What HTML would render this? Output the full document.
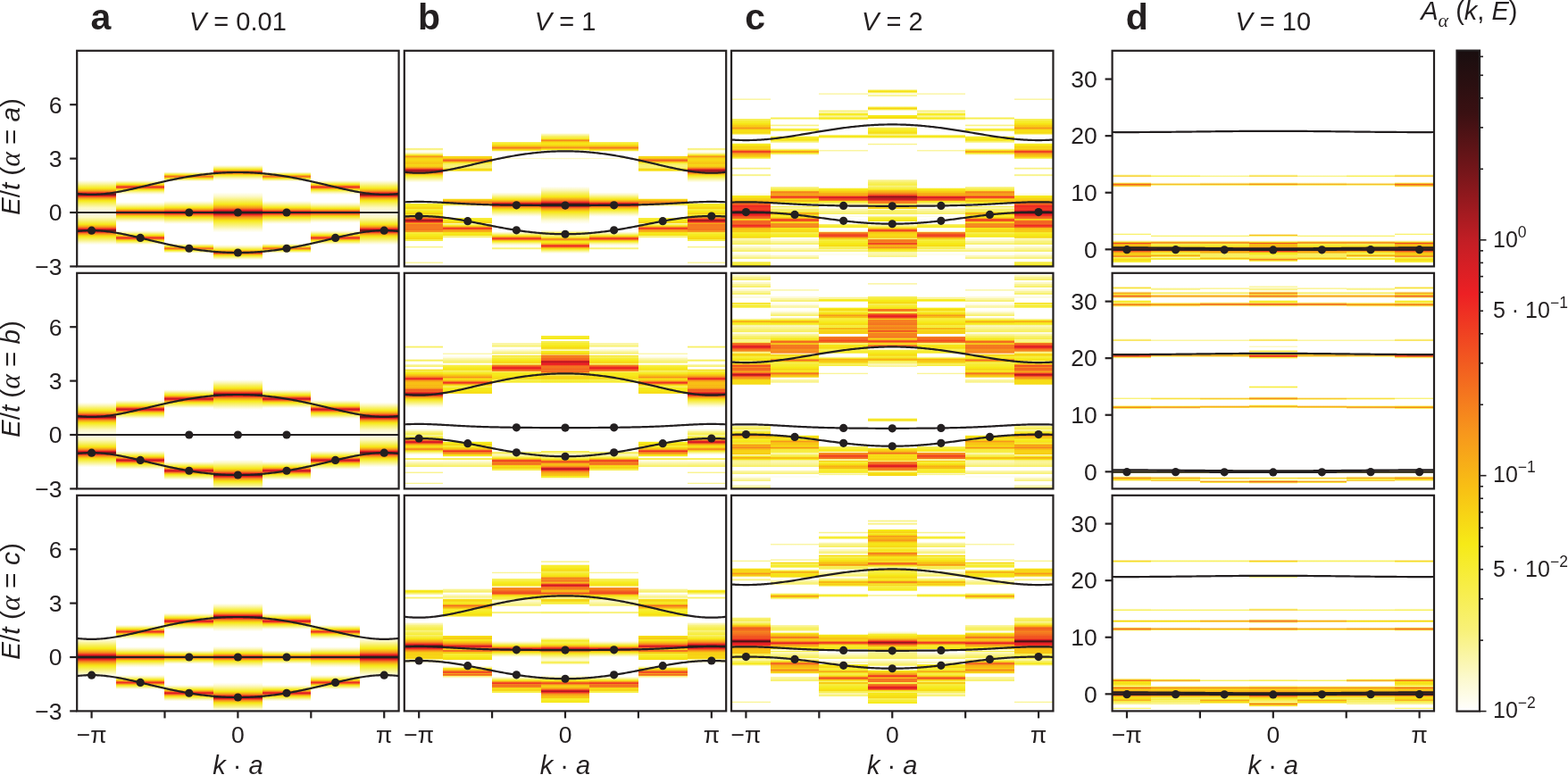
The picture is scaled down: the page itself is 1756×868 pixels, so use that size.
<!DOCTYPE html>
<html><head><meta charset="utf-8"><style>html,body{margin:0;padding:0;background:#fff}svg{display:block}</style></head><body>
<svg width="1756" height="868" viewBox="0 0 1756 868" font-family="'Liberation Sans', Arial, sans-serif" fill="#231f20">
<defs><linearGradient id="g1" x1="0" y1="0" x2="0" y2="1"><stop offset="0.0000" stop-color="#ffffff"/><stop offset="0.5983" stop-color="#ffffff"/><stop offset="0.6046" stop-color="#fefcea"/><stop offset="0.6170" stop-color="#faf5a3"/><stop offset="0.6253" stop-color="#f8f069"/><stop offset="0.6377" stop-color="#f6ea1b"/><stop offset="0.6480" stop-color="#f7ac17"/><stop offset="0.6542" stop-color="#f46f20"/><stop offset="0.6584" stop-color="#ef3223"/><stop offset="0.6605" stop-color="#db1e24"/><stop offset="0.6646" stop-color="#77161a"/><stop offset="0.6667" stop-color="#5f1416"/><stop offset="0.6687" stop-color="#77161a"/><stop offset="0.6729" stop-color="#db1e24"/><stop offset="0.6749" stop-color="#ef3223"/><stop offset="0.6812" stop-color="#f6871f"/><stop offset="0.6894" stop-color="#f7c915"/><stop offset="0.6957" stop-color="#f6ea18"/><stop offset="0.7081" stop-color="#f8f061"/><stop offset="0.7267" stop-color="#fcf8bf"/><stop offset="0.7412" stop-color="#fdfbdf"/><stop offset="0.7578" stop-color="#fdfbe0"/><stop offset="0.7723" stop-color="#fcf8c3"/><stop offset="0.7867" stop-color="#f8f27a"/><stop offset="0.8054" stop-color="#f6e616"/><stop offset="0.8157" stop-color="#f7a319"/><stop offset="0.8219" stop-color="#f36121"/><stop offset="0.8261" stop-color="#ed1f24"/><stop offset="0.8282" stop-color="#c71e25"/><stop offset="0.8323" stop-color="#651417"/><stop offset="0.8344" stop-color="#651417"/><stop offset="0.8385" stop-color="#c71e25"/><stop offset="0.8406" stop-color="#ed1f24"/><stop offset="0.8468" stop-color="#f57c20"/><stop offset="0.8551" stop-color="#f8c314"/><stop offset="0.8613" stop-color="#f6e816"/><stop offset="0.8799" stop-color="#f9f38c"/><stop offset="0.8923" stop-color="#fdfbda"/><stop offset="0.9006" stop-color="#ffffff"/><stop offset="1.0000" stop-color="#ffffff"/></linearGradient>
<linearGradient id="g2" x1="0" y1="0" x2="0" y2="1"><stop offset="0.0000" stop-color="#ffffff"/><stop offset="0.6004" stop-color="#ffffff"/><stop offset="0.6066" stop-color="#fcf8c4"/><stop offset="0.6149" stop-color="#f7ef53"/><stop offset="0.6190" stop-color="#f6ea1b"/><stop offset="0.6232" stop-color="#f8bb14"/><stop offset="0.6273" stop-color="#f47520"/><stop offset="0.6294" stop-color="#f14a22"/><stop offset="0.6315" stop-color="#ee2c23"/><stop offset="0.6335" stop-color="#ef3323"/><stop offset="0.6398" stop-color="#f7a718"/><stop offset="0.6439" stop-color="#f7de15"/><stop offset="0.6460" stop-color="#f6eb24"/><stop offset="0.6584" stop-color="#fcf7bc"/><stop offset="0.6667" stop-color="#fffef9"/><stop offset="0.6687" stop-color="#ffffff"/><stop offset="0.6998" stop-color="#ffffff"/><stop offset="0.7039" stop-color="#fffef6"/><stop offset="0.7143" stop-color="#fbf7b6"/><stop offset="0.7246" stop-color="#f7ef57"/><stop offset="0.7308" stop-color="#f6ea1c"/><stop offset="0.7371" stop-color="#f8b715"/><stop offset="0.7412" stop-color="#f5831f"/><stop offset="0.7453" stop-color="#ef3523"/><stop offset="0.7474" stop-color="#d91e24"/><stop offset="0.7495" stop-color="#bf1e25"/><stop offset="0.7516" stop-color="#c91e25"/><stop offset="0.7536" stop-color="#ed1f24"/><stop offset="0.7578" stop-color="#f47120"/><stop offset="0.7619" stop-color="#f7ab17"/><stop offset="0.7681" stop-color="#f6e616"/><stop offset="0.7826" stop-color="#faf499"/><stop offset="0.7888" stop-color="#fdf9cd"/><stop offset="0.7971" stop-color="#fffefa"/><stop offset="0.7992" stop-color="#ffffff"/><stop offset="0.8302" stop-color="#ffffff"/><stop offset="0.8323" stop-color="#ffffff"/><stop offset="0.8406" stop-color="#fcf8c6"/><stop offset="0.8551" stop-color="#f6e916"/><stop offset="0.8592" stop-color="#f8b615"/><stop offset="0.8634" stop-color="#f46e20"/><stop offset="0.8654" stop-color="#f04422"/><stop offset="0.8675" stop-color="#ee2b23"/><stop offset="0.8696" stop-color="#ef3823"/><stop offset="0.8737" stop-color="#f68a1f"/><stop offset="0.8799" stop-color="#f6e216"/><stop offset="0.8841" stop-color="#f7ee46"/><stop offset="0.8882" stop-color="#f8f177"/><stop offset="0.8944" stop-color="#fdf9cf"/><stop offset="0.8986" stop-color="#fffef8"/><stop offset="0.9006" stop-color="#ffffff"/><stop offset="1.0000" stop-color="#ffffff"/></linearGradient>
<linearGradient id="g3" x1="0" y1="0" x2="0" y2="1"><stop offset="0.0000" stop-color="#ffffff"/><stop offset="0.5611" stop-color="#ffffff"/><stop offset="0.5652" stop-color="#fcf9cb"/><stop offset="0.5694" stop-color="#f8f176"/><stop offset="0.5735" stop-color="#f7ec30"/><stop offset="0.5756" stop-color="#f6df16"/><stop offset="0.5818" stop-color="#f47320"/><stop offset="0.5839" stop-color="#f36921"/><stop offset="0.5859" stop-color="#f5841f"/><stop offset="0.5901" stop-color="#f7ce15"/><stop offset="0.5921" stop-color="#f6ea1b"/><stop offset="0.6025" stop-color="#fdfad4"/><stop offset="0.6046" stop-color="#fefdef"/><stop offset="0.6066" stop-color="#ffffff"/><stop offset="0.6957" stop-color="#ffffff"/><stop offset="0.7039" stop-color="#fdfad4"/><stop offset="0.7267" stop-color="#f6ea1b"/><stop offset="0.7350" stop-color="#f7ad17"/><stop offset="0.7391" stop-color="#f57f20"/><stop offset="0.7433" stop-color="#ef3b23"/><stop offset="0.7453" stop-color="#e01e24"/><stop offset="0.7495" stop-color="#90181d"/><stop offset="0.7516" stop-color="#9d1a1f"/><stop offset="0.7536" stop-color="#cb1e25"/><stop offset="0.7557" stop-color="#ee2624"/><stop offset="0.7598" stop-color="#f47020"/><stop offset="0.7640" stop-color="#f7a319"/><stop offset="0.7723" stop-color="#f6e716"/><stop offset="0.7867" stop-color="#f9f387"/><stop offset="0.7950" stop-color="#fdf9cd"/><stop offset="0.8033" stop-color="#ffffff"/><stop offset="0.8054" stop-color="#ffffff"/><stop offset="0.8923" stop-color="#ffffff"/><stop offset="0.8944" stop-color="#fffffb"/><stop offset="0.8986" stop-color="#fcf8c6"/><stop offset="0.9027" stop-color="#f8f173"/><stop offset="0.9068" stop-color="#f7ec30"/><stop offset="0.9089" stop-color="#f6de16"/><stop offset="0.9151" stop-color="#f47320"/><stop offset="0.9172" stop-color="#f36921"/><stop offset="0.9193" stop-color="#f5841f"/><stop offset="0.9234" stop-color="#f7ce15"/><stop offset="0.9255" stop-color="#f6ea1c"/><stop offset="0.9358" stop-color="#fdfbda"/><stop offset="0.9379" stop-color="#fffef7"/><stop offset="0.9400" stop-color="#ffffff"/><stop offset="1.0000" stop-color="#ffffff"/></linearGradient>
<linearGradient id="g4" x1="0" y1="0" x2="0" y2="1"><stop offset="0.0000" stop-color="#ffffff"/><stop offset="0.5300" stop-color="#ffffff"/><stop offset="0.5362" stop-color="#fcf9cc"/><stop offset="0.5507" stop-color="#f6e816"/><stop offset="0.5549" stop-color="#f8b615"/><stop offset="0.5590" stop-color="#f46f20"/><stop offset="0.5611" stop-color="#f04422"/><stop offset="0.5631" stop-color="#ee2924"/><stop offset="0.5652" stop-color="#ef3323"/><stop offset="0.5714" stop-color="#f7a719"/><stop offset="0.5756" stop-color="#f7dc15"/><stop offset="0.5776" stop-color="#f6eb21"/><stop offset="0.5921" stop-color="#fcf8c6"/><stop offset="0.6004" stop-color="#fffefa"/><stop offset="0.6025" stop-color="#ffffff"/><stop offset="0.6563" stop-color="#ffffff"/><stop offset="0.6749" stop-color="#fcf9c9"/><stop offset="0.6957" stop-color="#f8f064"/><stop offset="0.7122" stop-color="#f6e816"/><stop offset="0.7267" stop-color="#f7a01a"/><stop offset="0.7329" stop-color="#f46f20"/><stop offset="0.7391" stop-color="#ee2524"/><stop offset="0.7412" stop-color="#d61e24"/><stop offset="0.7433" stop-color="#ae1c22"/><stop offset="0.7474" stop-color="#441113"/><stop offset="0.7495" stop-color="#2e0f11"/><stop offset="0.7516" stop-color="#341012"/><stop offset="0.7536" stop-color="#5c1316"/><stop offset="0.7578" stop-color="#c41e25"/><stop offset="0.7598" stop-color="#e51e24"/><stop offset="0.7660" stop-color="#f36421"/><stop offset="0.7723" stop-color="#f7991c"/><stop offset="0.7867" stop-color="#f6e416"/><stop offset="0.7930" stop-color="#f7ec30"/><stop offset="0.8137" stop-color="#faf492"/><stop offset="0.8282" stop-color="#fdfad4"/><stop offset="0.8427" stop-color="#ffffff"/><stop offset="0.8986" stop-color="#ffffff"/><stop offset="0.9068" stop-color="#fdf9ce"/><stop offset="0.9130" stop-color="#f9f38d"/><stop offset="0.9234" stop-color="#f6e716"/><stop offset="0.9275" stop-color="#f8b615"/><stop offset="0.9317" stop-color="#f46f20"/><stop offset="0.9337" stop-color="#f04422"/><stop offset="0.9358" stop-color="#ee2924"/><stop offset="0.9379" stop-color="#ef3323"/><stop offset="0.9441" stop-color="#f7a719"/><stop offset="0.9482" stop-color="#f7dd15"/><stop offset="0.9503" stop-color="#f6eb23"/><stop offset="0.9648" stop-color="#fdfad6"/><stop offset="0.9689" stop-color="#fffefa"/><stop offset="0.9710" stop-color="#ffffff"/><stop offset="1.0000" stop-color="#ffffff"/></linearGradient>
<linearGradient id="g5" x1="0" y1="0" x2="0" y2="1"><stop offset="0.0000" stop-color="#ffffff"/><stop offset="0.5983" stop-color="#ffffff"/><stop offset="0.6046" stop-color="#fefcea"/><stop offset="0.6170" stop-color="#faf5a3"/><stop offset="0.6253" stop-color="#f8f069"/><stop offset="0.6377" stop-color="#f6ea1b"/><stop offset="0.6480" stop-color="#f7ac17"/><stop offset="0.6542" stop-color="#f46f20"/><stop offset="0.6584" stop-color="#ef3223"/><stop offset="0.6605" stop-color="#db1e24"/><stop offset="0.6646" stop-color="#77161a"/><stop offset="0.6667" stop-color="#5f1416"/><stop offset="0.6687" stop-color="#77161a"/><stop offset="0.6729" stop-color="#db1e24"/><stop offset="0.6749" stop-color="#ef3223"/><stop offset="0.6812" stop-color="#f6871f"/><stop offset="0.6894" stop-color="#f7c915"/><stop offset="0.6957" stop-color="#f6ea18"/><stop offset="0.7081" stop-color="#f8f061"/><stop offset="0.7267" stop-color="#fcf8bf"/><stop offset="0.7412" stop-color="#fdfbdf"/><stop offset="0.7578" stop-color="#fdfbe0"/><stop offset="0.7723" stop-color="#fcf8c3"/><stop offset="0.7867" stop-color="#f8f27a"/><stop offset="0.8054" stop-color="#f6e616"/><stop offset="0.8157" stop-color="#f7a319"/><stop offset="0.8219" stop-color="#f36121"/><stop offset="0.8261" stop-color="#ed1f24"/><stop offset="0.8282" stop-color="#c71e25"/><stop offset="0.8323" stop-color="#651417"/><stop offset="0.8344" stop-color="#651417"/><stop offset="0.8385" stop-color="#c71e25"/><stop offset="0.8406" stop-color="#ed1f24"/><stop offset="0.8468" stop-color="#f57c20"/><stop offset="0.8551" stop-color="#f8c314"/><stop offset="0.8613" stop-color="#f6e816"/><stop offset="0.8799" stop-color="#f9f38c"/><stop offset="0.8923" stop-color="#fdfbda"/><stop offset="0.9006" stop-color="#ffffff"/><stop offset="1.0000" stop-color="#ffffff"/></linearGradient>
<linearGradient id="g6" x1="0" y1="0" x2="0" y2="1"><stop offset="0.0000" stop-color="#ffffff"/><stop offset="0.5880" stop-color="#ffffff"/><stop offset="0.5921" stop-color="#fefce9"/><stop offset="0.5983" stop-color="#fbf7b4"/><stop offset="0.6066" stop-color="#f8ef5d"/><stop offset="0.6128" stop-color="#f6eb20"/><stop offset="0.6149" stop-color="#f6e116"/><stop offset="0.6211" stop-color="#f7a21a"/><stop offset="0.6253" stop-color="#f36221"/><stop offset="0.6273" stop-color="#ef3823"/><stop offset="0.6294" stop-color="#dc1e24"/><stop offset="0.6315" stop-color="#c01e25"/><stop offset="0.6335" stop-color="#c71e25"/><stop offset="0.6356" stop-color="#ea1e24"/><stop offset="0.6418" stop-color="#f6901e"/><stop offset="0.6480" stop-color="#f7d515"/><stop offset="0.6501" stop-color="#f6e616"/><stop offset="0.6605" stop-color="#f8f173"/><stop offset="0.6687" stop-color="#fcf9cc"/><stop offset="0.6749" stop-color="#fffefa"/><stop offset="0.6770" stop-color="#ffffff"/><stop offset="0.8240" stop-color="#ffffff"/><stop offset="0.8323" stop-color="#fcf8c3"/><stop offset="0.8427" stop-color="#f7ef5a"/><stop offset="0.8489" stop-color="#f6ea1d"/><stop offset="0.8551" stop-color="#f8b615"/><stop offset="0.8592" stop-color="#f5811f"/><stop offset="0.8634" stop-color="#ef3123"/><stop offset="0.8654" stop-color="#d61e24"/><stop offset="0.8675" stop-color="#be1e25"/><stop offset="0.8696" stop-color="#cb1e25"/><stop offset="0.8716" stop-color="#ed2224"/><stop offset="0.8758" stop-color="#f47520"/><stop offset="0.8799" stop-color="#f7ae17"/><stop offset="0.8861" stop-color="#f6e916"/><stop offset="0.8986" stop-color="#faf491"/><stop offset="0.9048" stop-color="#fdfad1"/><stop offset="0.9110" stop-color="#ffffff"/><stop offset="1.0000" stop-color="#ffffff"/></linearGradient>
<linearGradient id="g7" x1="0" y1="0" x2="0" y2="1"><stop offset="0.0000" stop-color="#ffffff"/><stop offset="0.5404" stop-color="#ffffff"/><stop offset="0.5487" stop-color="#fcf8bf"/><stop offset="0.5569" stop-color="#f8f065"/><stop offset="0.5652" stop-color="#f6e816"/><stop offset="0.5714" stop-color="#f7ac17"/><stop offset="0.5756" stop-color="#f47220"/><stop offset="0.5797" stop-color="#ed1f24"/><stop offset="0.5818" stop-color="#c91e25"/><stop offset="0.5839" stop-color="#bf1e25"/><stop offset="0.5859" stop-color="#d91e24"/><stop offset="0.5880" stop-color="#ef3523"/><stop offset="0.5921" stop-color="#f5831f"/><stop offset="0.5983" stop-color="#f7cd15"/><stop offset="0.6025" stop-color="#f6eb1f"/><stop offset="0.6128" stop-color="#f9f284"/><stop offset="0.6211" stop-color="#fdfad8"/><stop offset="0.6253" stop-color="#fffef8"/><stop offset="0.6273" stop-color="#ffffff"/><stop offset="0.8716" stop-color="#ffffff"/><stop offset="0.8737" stop-color="#ffffff"/><stop offset="0.8820" stop-color="#fcf8be"/><stop offset="0.8903" stop-color="#f8f065"/><stop offset="0.8986" stop-color="#f6e816"/><stop offset="0.9048" stop-color="#f7ac17"/><stop offset="0.9089" stop-color="#f47220"/><stop offset="0.9130" stop-color="#ed1f24"/><stop offset="0.9151" stop-color="#c91e25"/><stop offset="0.9172" stop-color="#bf1e25"/><stop offset="0.9193" stop-color="#d91e24"/><stop offset="0.9213" stop-color="#ef3523"/><stop offset="0.9255" stop-color="#f5831f"/><stop offset="0.9317" stop-color="#f7cd15"/><stop offset="0.9358" stop-color="#f6eb1f"/><stop offset="0.9462" stop-color="#f9f384"/><stop offset="0.9545" stop-color="#fdfbd9"/><stop offset="0.9586" stop-color="#fffef9"/><stop offset="0.9607" stop-color="#ffffff"/><stop offset="1.0000" stop-color="#ffffff"/></linearGradient>
<linearGradient id="g8" x1="0" y1="0" x2="0" y2="1"><stop offset="0.0000" stop-color="#ffffff"/><stop offset="0.4928" stop-color="#ffffff"/><stop offset="0.4969" stop-color="#fefef4"/><stop offset="0.5093" stop-color="#fbf7b3"/><stop offset="0.5197" stop-color="#f8f06b"/><stop offset="0.5342" stop-color="#f6e816"/><stop offset="0.5445" stop-color="#f7a718"/><stop offset="0.5507" stop-color="#f36b20"/><stop offset="0.5549" stop-color="#ee2f23"/><stop offset="0.5569" stop-color="#da1e24"/><stop offset="0.5590" stop-color="#ad1c22"/><stop offset="0.5611" stop-color="#751619"/><stop offset="0.5631" stop-color="#541315"/><stop offset="0.5652" stop-color="#5f1416"/><stop offset="0.5694" stop-color="#c71e25"/><stop offset="0.5714" stop-color="#ed1e24"/><stop offset="0.5776" stop-color="#f47720"/><stop offset="0.5859" stop-color="#f8bd14"/><stop offset="0.5942" stop-color="#f6ea1a"/><stop offset="0.6128" stop-color="#f9f38d"/><stop offset="0.6253" stop-color="#fdfbd9"/><stop offset="0.6335" stop-color="#fffffd"/><stop offset="0.6356" stop-color="#ffffff"/><stop offset="0.8654" stop-color="#ffffff"/><stop offset="0.8799" stop-color="#fcf8be"/><stop offset="0.8923" stop-color="#f8f06a"/><stop offset="0.9068" stop-color="#f6e716"/><stop offset="0.9172" stop-color="#f7a718"/><stop offset="0.9234" stop-color="#f36b20"/><stop offset="0.9275" stop-color="#ee2f23"/><stop offset="0.9296" stop-color="#da1e24"/><stop offset="0.9317" stop-color="#ae1c22"/><stop offset="0.9337" stop-color="#751619"/><stop offset="0.9358" stop-color="#541315"/><stop offset="0.9379" stop-color="#5f1416"/><stop offset="0.9420" stop-color="#c71e25"/><stop offset="0.9441" stop-color="#ed1e24"/><stop offset="0.9503" stop-color="#f47720"/><stop offset="0.9586" stop-color="#f8bd14"/><stop offset="0.9669" stop-color="#f6ea1a"/><stop offset="0.9855" stop-color="#f9f38f"/><stop offset="0.9979" stop-color="#fdfbdc"/><stop offset="1.0000" stop-color="#fefce6"/></linearGradient>
<linearGradient id="g9" x1="0" y1="0" x2="0" y2="1"><stop offset="0.0000" stop-color="#ffffff"/><stop offset="0.6584" stop-color="#ffffff"/><stop offset="0.6770" stop-color="#fcf7b9"/><stop offset="0.6936" stop-color="#f8f064"/><stop offset="0.7101" stop-color="#f6ea16"/><stop offset="0.7246" stop-color="#f7a519"/><stop offset="0.7308" stop-color="#f57920"/><stop offset="0.7391" stop-color="#ec1e24"/><stop offset="0.7412" stop-color="#cd1e25"/><stop offset="0.7433" stop-color="#a21a20"/><stop offset="0.7474" stop-color="#3a1012"/><stop offset="0.7495" stop-color="#290f11"/><stop offset="0.7516" stop-color="#2f0f11"/><stop offset="0.7536" stop-color="#521215"/><stop offset="0.7578" stop-color="#bb1e25"/><stop offset="0.7598" stop-color="#dd1e24"/><stop offset="0.7619" stop-color="#ee2b23"/><stop offset="0.7702" stop-color="#f5821f"/><stop offset="0.7826" stop-color="#f7cb15"/><stop offset="0.7909" stop-color="#f6ea1c"/><stop offset="0.8157" stop-color="#faf493"/><stop offset="0.8302" stop-color="#fdfad8"/><stop offset="0.8406" stop-color="#fffffe"/><stop offset="0.8427" stop-color="#ffffff"/><stop offset="1.0000" stop-color="#ffffff"/></linearGradient>
<linearGradient id="g10" x1="0" y1="0" x2="0" y2="1"><stop offset="0.0000" stop-color="#ffffff"/><stop offset="0.6004" stop-color="#ffffff"/><stop offset="0.6066" stop-color="#fcf8c4"/><stop offset="0.6149" stop-color="#f7ef53"/><stop offset="0.6190" stop-color="#f6ea1b"/><stop offset="0.6232" stop-color="#f8bb14"/><stop offset="0.6273" stop-color="#f47520"/><stop offset="0.6294" stop-color="#f14a22"/><stop offset="0.6315" stop-color="#ee2c23"/><stop offset="0.6335" stop-color="#ef3323"/><stop offset="0.6398" stop-color="#f7a718"/><stop offset="0.6439" stop-color="#f7de15"/><stop offset="0.6460" stop-color="#f6eb24"/><stop offset="0.6584" stop-color="#fcf7bc"/><stop offset="0.6667" stop-color="#fffef9"/><stop offset="0.6687" stop-color="#ffffff"/><stop offset="0.6998" stop-color="#ffffff"/><stop offset="0.7039" stop-color="#fffef6"/><stop offset="0.7143" stop-color="#fbf7b6"/><stop offset="0.7246" stop-color="#f7ef57"/><stop offset="0.7308" stop-color="#f6ea1c"/><stop offset="0.7371" stop-color="#f8b715"/><stop offset="0.7412" stop-color="#f5831f"/><stop offset="0.7453" stop-color="#ef3523"/><stop offset="0.7474" stop-color="#d91e24"/><stop offset="0.7495" stop-color="#bf1e25"/><stop offset="0.7516" stop-color="#c91e25"/><stop offset="0.7536" stop-color="#ed1f24"/><stop offset="0.7578" stop-color="#f47120"/><stop offset="0.7619" stop-color="#f7ab17"/><stop offset="0.7681" stop-color="#f6e616"/><stop offset="0.7826" stop-color="#faf499"/><stop offset="0.7888" stop-color="#fdf9cd"/><stop offset="0.7971" stop-color="#fffefa"/><stop offset="0.7992" stop-color="#ffffff"/><stop offset="0.8302" stop-color="#ffffff"/><stop offset="0.8323" stop-color="#ffffff"/><stop offset="0.8406" stop-color="#fcf8c6"/><stop offset="0.8551" stop-color="#f6e916"/><stop offset="0.8592" stop-color="#f8b615"/><stop offset="0.8634" stop-color="#f46e20"/><stop offset="0.8654" stop-color="#f04422"/><stop offset="0.8675" stop-color="#ee2b23"/><stop offset="0.8696" stop-color="#ef3823"/><stop offset="0.8737" stop-color="#f68a1f"/><stop offset="0.8799" stop-color="#f6e216"/><stop offset="0.8841" stop-color="#f7ee46"/><stop offset="0.8882" stop-color="#f8f177"/><stop offset="0.8944" stop-color="#fdf9cf"/><stop offset="0.8986" stop-color="#fffef8"/><stop offset="0.9006" stop-color="#ffffff"/><stop offset="1.0000" stop-color="#ffffff"/></linearGradient>
<linearGradient id="g11" x1="0" y1="0" x2="0" y2="1"><stop offset="0.0000" stop-color="#ffffff"/><stop offset="0.5445" stop-color="#ffffff"/><stop offset="0.5466" stop-color="#fffefa"/><stop offset="0.5549" stop-color="#fbf6aa"/><stop offset="0.5590" stop-color="#f8f172"/><stop offset="0.5673" stop-color="#f6ea19"/><stop offset="0.5735" stop-color="#f7a918"/><stop offset="0.5776" stop-color="#f36421"/><stop offset="0.5797" stop-color="#ef3823"/><stop offset="0.5818" stop-color="#e11e24"/><stop offset="0.5839" stop-color="#d71e24"/><stop offset="0.5859" stop-color="#ed2324"/><stop offset="0.5901" stop-color="#f47820"/><stop offset="0.5942" stop-color="#f8b615"/><stop offset="0.5983" stop-color="#f6e216"/><stop offset="0.6046" stop-color="#f7ef54"/><stop offset="0.6170" stop-color="#fdfbdc"/><stop offset="0.6211" stop-color="#fffffc"/><stop offset="0.6232" stop-color="#ffffff"/><stop offset="0.7164" stop-color="#ffffff"/><stop offset="0.7184" stop-color="#fffffe"/><stop offset="0.7246" stop-color="#fcf8c1"/><stop offset="0.7329" stop-color="#f7ee51"/><stop offset="0.7371" stop-color="#f6ea19"/><stop offset="0.7412" stop-color="#f8b914"/><stop offset="0.7453" stop-color="#f47220"/><stop offset="0.7474" stop-color="#f04722"/><stop offset="0.7495" stop-color="#ee2b23"/><stop offset="0.7516" stop-color="#ef3623"/><stop offset="0.7578" stop-color="#f7aa18"/><stop offset="0.7619" stop-color="#f6e016"/><stop offset="0.7660" stop-color="#f7ee45"/><stop offset="0.7702" stop-color="#f8f175"/><stop offset="0.7764" stop-color="#fcf9cd"/><stop offset="0.7805" stop-color="#fefef5"/><stop offset="0.7826" stop-color="#ffffff"/><stop offset="0.8778" stop-color="#ffffff"/><stop offset="0.8841" stop-color="#fdfad3"/><stop offset="0.8944" stop-color="#f8ef5e"/><stop offset="0.9006" stop-color="#f6ea19"/><stop offset="0.9068" stop-color="#f7a818"/><stop offset="0.9089" stop-color="#f68b1f"/><stop offset="0.9130" stop-color="#ef3823"/><stop offset="0.9151" stop-color="#e11e24"/><stop offset="0.9172" stop-color="#d71e24"/><stop offset="0.9193" stop-color="#ed2324"/><stop offset="0.9234" stop-color="#f47820"/><stop offset="0.9275" stop-color="#f8b615"/><stop offset="0.9317" stop-color="#f6e316"/><stop offset="0.9379" stop-color="#f7ef55"/><stop offset="0.9482" stop-color="#fcf9cd"/><stop offset="0.9545" stop-color="#ffffff"/><stop offset="1.0000" stop-color="#ffffff"/></linearGradient>
<linearGradient id="g12" x1="0" y1="0" x2="0" y2="1"><stop offset="0.0000" stop-color="#ffffff"/><stop offset="0.4990" stop-color="#ffffff"/><stop offset="0.5031" stop-color="#fefef4"/><stop offset="0.5155" stop-color="#fbf6ac"/><stop offset="0.5259" stop-color="#f8f061"/><stop offset="0.5362" stop-color="#f6ea1b"/><stop offset="0.5445" stop-color="#f8b815"/><stop offset="0.5507" stop-color="#f57e20"/><stop offset="0.5569" stop-color="#ed1e24"/><stop offset="0.5590" stop-color="#c51e25"/><stop offset="0.5611" stop-color="#8f181d"/><stop offset="0.5631" stop-color="#6b1518"/><stop offset="0.5652" stop-color="#78161a"/><stop offset="0.5694" stop-color="#da1e24"/><stop offset="0.5714" stop-color="#ef3123"/><stop offset="0.5776" stop-color="#f68b1f"/><stop offset="0.5859" stop-color="#f7ce15"/><stop offset="0.5901" stop-color="#f6e716"/><stop offset="0.6108" stop-color="#faf59d"/><stop offset="0.6211" stop-color="#fdfad8"/><stop offset="0.6315" stop-color="#ffffff"/><stop offset="0.6977" stop-color="#ffffff"/><stop offset="0.7019" stop-color="#fefef5"/><stop offset="0.7122" stop-color="#fcf7ba"/><stop offset="0.7308" stop-color="#f6ea17"/><stop offset="0.7371" stop-color="#f8b415"/><stop offset="0.7412" stop-color="#f58020"/><stop offset="0.7453" stop-color="#ef3223"/><stop offset="0.7474" stop-color="#d71e24"/><stop offset="0.7495" stop-color="#bb1e25"/><stop offset="0.7516" stop-color="#c61e25"/><stop offset="0.7536" stop-color="#eb1e24"/><stop offset="0.7598" stop-color="#f68f1e"/><stop offset="0.7660" stop-color="#f7d215"/><stop offset="0.7681" stop-color="#f6e316"/><stop offset="0.7743" stop-color="#f7ee48"/><stop offset="0.7826" stop-color="#f9f38d"/><stop offset="0.7909" stop-color="#fdf9cf"/><stop offset="0.8012" stop-color="#ffffff"/><stop offset="0.8675" stop-color="#ffffff"/><stop offset="0.8758" stop-color="#fefce6"/><stop offset="0.8861" stop-color="#fbf6b2"/><stop offset="0.8986" stop-color="#f8ef5f"/><stop offset="0.9089" stop-color="#f6ea1a"/><stop offset="0.9193" stop-color="#f7a718"/><stop offset="0.9255" stop-color="#f36321"/><stop offset="0.9296" stop-color="#ed1e24"/><stop offset="0.9317" stop-color="#c51e25"/><stop offset="0.9337" stop-color="#8f181d"/><stop offset="0.9358" stop-color="#6b1518"/><stop offset="0.9379" stop-color="#78161a"/><stop offset="0.9420" stop-color="#da1e24"/><stop offset="0.9441" stop-color="#ef3123"/><stop offset="0.9503" stop-color="#f68b1f"/><stop offset="0.9586" stop-color="#f7ce15"/><stop offset="0.9627" stop-color="#f6e716"/><stop offset="0.9793" stop-color="#f9f284"/><stop offset="0.9896" stop-color="#fdf9ce"/><stop offset="1.0000" stop-color="#ffffff"/></linearGradient>
<linearGradient id="g13" x1="0" y1="0" x2="0" y2="1"><stop offset="0.0000" stop-color="#ffffff"/><stop offset="0.4493" stop-color="#ffffff"/><stop offset="0.4513" stop-color="#fdfad2"/><stop offset="0.4534" stop-color="#faf493"/><stop offset="0.4555" stop-color="#f8f06c"/><stop offset="0.4576" stop-color="#f8f27a"/><stop offset="0.4596" stop-color="#fbf6ae"/><stop offset="0.4617" stop-color="#fdfad7"/><stop offset="0.4638" stop-color="#fefdec"/><stop offset="0.4679" stop-color="#fefdf1"/><stop offset="0.4720" stop-color="#fdfad8"/><stop offset="0.4741" stop-color="#fcf8c4"/><stop offset="0.4845" stop-color="#f6e716"/><stop offset="0.4886" stop-color="#f7a21a"/><stop offset="0.4907" stop-color="#f6901e"/><stop offset="0.4928" stop-color="#f79e1b"/><stop offset="0.4948" stop-color="#f8be14"/><stop offset="0.4969" stop-color="#f8c014"/><stop offset="0.4990" stop-color="#f7d215"/><stop offset="0.5072" stop-color="#f7de15"/><stop offset="0.5093" stop-color="#f7d215"/><stop offset="0.5155" stop-color="#f7d215"/><stop offset="0.5176" stop-color="#f8c614"/><stop offset="0.5238" stop-color="#f8c014"/><stop offset="0.5259" stop-color="#f6df16"/><stop offset="0.5321" stop-color="#f7cc15"/><stop offset="0.5342" stop-color="#f6e016"/><stop offset="0.5424" stop-color="#f79c1b"/><stop offset="0.5466" stop-color="#f36521"/><stop offset="0.5507" stop-color="#e81e24"/><stop offset="0.5549" stop-color="#93181d"/><stop offset="0.5569" stop-color="#95191e"/><stop offset="0.5611" stop-color="#eb1e24"/><stop offset="0.5673" stop-color="#f6861f"/><stop offset="0.5756" stop-color="#f7d315"/><stop offset="0.5797" stop-color="#f6eb1e"/><stop offset="0.5963" stop-color="#faf5a1"/><stop offset="0.6046" stop-color="#fdfbdb"/><stop offset="0.6108" stop-color="#fffffc"/><stop offset="0.6128" stop-color="#ffffff"/><stop offset="0.7081" stop-color="#ffffff"/><stop offset="0.7101" stop-color="#f6eb29"/><stop offset="0.7164" stop-color="#f6eb27"/><stop offset="0.7184" stop-color="#f6e516"/><stop offset="0.7246" stop-color="#f6e416"/><stop offset="0.7267" stop-color="#f7d615"/><stop offset="0.7329" stop-color="#f7d415"/><stop offset="0.7350" stop-color="#f7ed3d"/><stop offset="0.7412" stop-color="#f7ec35"/><stop offset="0.7433" stop-color="#f6ea18"/><stop offset="0.7495" stop-color="#f6e416"/><stop offset="0.7516" stop-color="#f7d515"/><stop offset="0.7578" stop-color="#f7ca15"/><stop offset="0.7598" stop-color="#f7ed3f"/><stop offset="0.7640" stop-color="#f6ea1b"/><stop offset="0.7723" stop-color="#f8af17"/><stop offset="0.7764" stop-color="#f5811f"/><stop offset="0.7805" stop-color="#f03e23"/><stop offset="0.7826" stop-color="#e41e24"/><stop offset="0.7867" stop-color="#91181d"/><stop offset="0.7888" stop-color="#98191e"/><stop offset="0.7930" stop-color="#ed2124"/><stop offset="0.7971" stop-color="#f36b20"/><stop offset="0.8012" stop-color="#f7a01a"/><stop offset="0.8033" stop-color="#f8b415"/><stop offset="0.8054" stop-color="#f47420"/><stop offset="0.8075" stop-color="#f57a20"/><stop offset="0.8137" stop-color="#f57c20"/><stop offset="0.8240" stop-color="#f57b20"/><stop offset="0.8282" stop-color="#f47420"/><stop offset="0.8323" stop-color="#f47520"/><stop offset="0.8344" stop-color="#f6951d"/><stop offset="0.8406" stop-color="#f6961c"/><stop offset="0.8427" stop-color="#f7ec34"/><stop offset="0.8489" stop-color="#f7ed39"/><stop offset="0.8509" stop-color="#f6eb1f"/><stop offset="0.8571" stop-color="#f6eb22"/><stop offset="0.8592" stop-color="#f6e316"/><stop offset="0.8654" stop-color="#f6e416"/><stop offset="0.8675" stop-color="#f7d715"/><stop offset="0.8737" stop-color="#f7d815"/><stop offset="0.8758" stop-color="#f7ee4a"/><stop offset="0.8820" stop-color="#f7ee4c"/><stop offset="0.8841" stop-color="#ffffff"/><stop offset="0.9048" stop-color="#ffffff"/><stop offset="0.9089" stop-color="#f9f38a"/><stop offset="0.9110" stop-color="#f9f388"/><stop offset="0.9151" stop-color="#ffffff"/><stop offset="0.9772" stop-color="#ffffff"/><stop offset="0.9793" stop-color="#fdfad6"/><stop offset="0.9814" stop-color="#faf496"/><stop offset="0.9834" stop-color="#faf493"/><stop offset="0.9855" stop-color="#fdfad1"/><stop offset="0.9876" stop-color="#ffffff"/><stop offset="1.0000" stop-color="#ffffff"/></linearGradient>
<linearGradient id="g14" x1="0" y1="0" x2="0" y2="1"><stop offset="0.0000" stop-color="#ffffff"/><stop offset="0.4845" stop-color="#ffffff"/><stop offset="0.4886" stop-color="#fdf9ce"/><stop offset="0.4907" stop-color="#f7ca15"/><stop offset="0.4928" stop-color="#f6ea19"/><stop offset="0.4990" stop-color="#f7c715"/><stop offset="0.5031" stop-color="#f6911d"/><stop offset="0.5052" stop-color="#f57f20"/><stop offset="0.5072" stop-color="#f25d21"/><stop offset="0.5093" stop-color="#f25c21"/><stop offset="0.5155" stop-color="#f8b615"/><stop offset="0.5176" stop-color="#f7de15"/><stop offset="0.5197" stop-color="#f6eb26"/><stop offset="0.5238" stop-color="#f7ef5a"/><stop offset="0.5259" stop-color="#f7ef59"/><stop offset="0.5321" stop-color="#f9f281"/><stop offset="0.5342" stop-color="#f8f06c"/><stop offset="0.5404" stop-color="#f9f27e"/><stop offset="0.5424" stop-color="#f8f066"/><stop offset="0.5445" stop-color="#f8f069"/><stop offset="0.5466" stop-color="#f7d115"/><stop offset="0.5487" stop-color="#f7d115"/><stop offset="0.5507" stop-color="#f7dd15"/><stop offset="0.5569" stop-color="#f6de16"/><stop offset="0.5590" stop-color="#ffffff"/><stop offset="0.6853" stop-color="#ffffff"/><stop offset="0.6874" stop-color="#f7dc15"/><stop offset="0.6915" stop-color="#f7d315"/><stop offset="0.7039" stop-color="#f47820"/><stop offset="0.7060" stop-color="#f6851f"/><stop offset="0.7081" stop-color="#f7a319"/><stop offset="0.7101" stop-color="#f7da15"/><stop offset="0.7122" stop-color="#f7ec2f"/><stop offset="0.7164" stop-color="#f9f282"/><stop offset="0.7184" stop-color="#fbf7b4"/><stop offset="0.7226" stop-color="#fffefa"/><stop offset="0.7246" stop-color="#ffffff"/><stop offset="0.7743" stop-color="#ffffff"/><stop offset="0.7764" stop-color="#f7ec37"/><stop offset="0.7826" stop-color="#f7ec34"/><stop offset="0.7847" stop-color="#f6ea18"/><stop offset="0.7909" stop-color="#f6e816"/><stop offset="0.7930" stop-color="#f7d915"/><stop offset="0.7992" stop-color="#f7d415"/><stop offset="0.8012" stop-color="#fbf6ab"/><stop offset="0.8075" stop-color="#f7ef52"/><stop offset="0.8116" stop-color="#f6ea17"/><stop offset="0.8157" stop-color="#f8b615"/><stop offset="0.8199" stop-color="#f46d20"/><stop offset="0.8219" stop-color="#f04322"/><stop offset="0.8240" stop-color="#ee2d23"/><stop offset="0.8261" stop-color="#f03e23"/><stop offset="0.8302" stop-color="#f6911e"/><stop offset="0.8323" stop-color="#f8b216"/><stop offset="0.8344" stop-color="#f79f1a"/><stop offset="0.8406" stop-color="#f8bb14"/><stop offset="0.8427" stop-color="#f6e416"/><stop offset="0.8489" stop-color="#f6eb23"/><stop offset="0.8509" stop-color="#f6e516"/><stop offset="0.8571" stop-color="#f6e416"/><stop offset="0.8592" stop-color="#faf493"/><stop offset="0.8613" stop-color="#f8f06c"/><stop offset="0.8634" stop-color="#f8f06c"/><stop offset="0.8654" stop-color="#faf59d"/><stop offset="0.8675" stop-color="#fdfbda"/><stop offset="0.8696" stop-color="#ffffff"/><stop offset="1.0000" stop-color="#ffffff"/></linearGradient>
<linearGradient id="g15" x1="0" y1="0" x2="0" y2="1"><stop offset="0.0000" stop-color="#ffffff"/><stop offset="0.4224" stop-color="#ffffff"/><stop offset="0.4244" stop-color="#f8ef5e"/><stop offset="0.4265" stop-color="#f7ed38"/><stop offset="0.4327" stop-color="#f6ec2c"/><stop offset="0.4348" stop-color="#f6e516"/><stop offset="0.4410" stop-color="#f7d015"/><stop offset="0.4472" stop-color="#f6921d"/><stop offset="0.4493" stop-color="#f47720"/><stop offset="0.4513" stop-color="#f57c20"/><stop offset="0.4576" stop-color="#f7ce15"/><stop offset="0.4617" stop-color="#f6e416"/><stop offset="0.4638" stop-color="#faf497"/><stop offset="0.4658" stop-color="#fcf8c6"/><stop offset="0.4679" stop-color="#fefce9"/><stop offset="0.4700" stop-color="#ffffff"/><stop offset="0.4948" stop-color="#ffffff"/><stop offset="0.4969" stop-color="#fffef8"/><stop offset="0.4990" stop-color="#fcf9c9"/><stop offset="0.5010" stop-color="#fcf9cb"/><stop offset="0.5031" stop-color="#fffffd"/><stop offset="0.5052" stop-color="#ffffff"/><stop offset="0.6563" stop-color="#ffffff"/><stop offset="0.6667" stop-color="#fcf8c7"/><stop offset="0.6791" stop-color="#f8f061"/><stop offset="0.6894" stop-color="#f6e516"/><stop offset="0.6977" stop-color="#f7a419"/><stop offset="0.7019" stop-color="#f47420"/><stop offset="0.7060" stop-color="#ee2e23"/><stop offset="0.7081" stop-color="#d41e25"/><stop offset="0.7101" stop-color="#a41b20"/><stop offset="0.7122" stop-color="#85171b"/><stop offset="0.7143" stop-color="#98191e"/><stop offset="0.7164" stop-color="#c81e25"/><stop offset="0.7184" stop-color="#ed2324"/><stop offset="0.7226" stop-color="#f36c20"/><stop offset="0.7267" stop-color="#f79f1a"/><stop offset="0.7350" stop-color="#f6e116"/><stop offset="0.7371" stop-color="#f6ea1d"/><stop offset="0.7516" stop-color="#f9f38a"/><stop offset="0.7619" stop-color="#fdfad7"/><stop offset="0.7702" stop-color="#ffffff"/><stop offset="0.8364" stop-color="#ffffff"/><stop offset="0.8385" stop-color="#fffffb"/><stop offset="0.8447" stop-color="#fcf8c6"/><stop offset="0.8530" stop-color="#f7ef5b"/><stop offset="0.8571" stop-color="#f6eb26"/><stop offset="0.8592" stop-color="#f6df16"/><stop offset="0.8634" stop-color="#f7a718"/><stop offset="0.8696" stop-color="#ef3523"/><stop offset="0.8716" stop-color="#ee3023"/><stop offset="0.8737" stop-color="#f14f22"/><stop offset="0.8778" stop-color="#f7a01a"/><stop offset="0.8820" stop-color="#f7da15"/><stop offset="0.8841" stop-color="#f6eb20"/><stop offset="0.8965" stop-color="#fcf8c2"/><stop offset="0.9027" stop-color="#fefdf1"/><stop offset="0.9068" stop-color="#fffef8"/><stop offset="0.9089" stop-color="#fefdef"/><stop offset="0.9110" stop-color="#fdfad8"/><stop offset="0.9130" stop-color="#fbf6ad"/><stop offset="0.9151" stop-color="#f8f279"/><stop offset="0.9172" stop-color="#f8f16f"/><stop offset="0.9193" stop-color="#faf59b"/><stop offset="0.9213" stop-color="#fdfbdb"/><stop offset="0.9234" stop-color="#ffffff"/><stop offset="1.0000" stop-color="#ffffff"/></linearGradient>
<linearGradient id="g16" x1="0" y1="0" x2="0" y2="1"><stop offset="0.0000" stop-color="#ffffff"/><stop offset="0.3830" stop-color="#ffffff"/><stop offset="0.3851" stop-color="#fcf8c3"/><stop offset="0.3913" stop-color="#fbf6ab"/><stop offset="0.3934" stop-color="#f8f175"/><stop offset="0.3996" stop-color="#f7ef5b"/><stop offset="0.4017" stop-color="#f7ed3e"/><stop offset="0.4037" stop-color="#f7ec2f"/><stop offset="0.4058" stop-color="#f7ef53"/><stop offset="0.4079" stop-color="#f6ec2a"/><stop offset="0.4099" stop-color="#f7d715"/><stop offset="0.4141" stop-color="#f6901e"/><stop offset="0.4161" stop-color="#f5831f"/><stop offset="0.4182" stop-color="#f7991c"/><stop offset="0.4203" stop-color="#f8bd14"/><stop offset="0.4244" stop-color="#f7db15"/><stop offset="0.4327" stop-color="#f6ea17"/><stop offset="0.4348" stop-color="#f7dd15"/><stop offset="0.4410" stop-color="#f7d115"/><stop offset="0.4493" stop-color="#f6891f"/><stop offset="0.4555" stop-color="#f7d215"/><stop offset="0.4576" stop-color="#f6e816"/><stop offset="0.4596" stop-color="#f6e716"/><stop offset="0.4617" stop-color="#fbf6a7"/><stop offset="0.4638" stop-color="#fdfad1"/><stop offset="0.4658" stop-color="#fefdf2"/><stop offset="0.4679" stop-color="#ffffff"/><stop offset="0.4948" stop-color="#ffffff"/><stop offset="0.4969" stop-color="#fefded"/><stop offset="0.4990" stop-color="#fcf8c1"/><stop offset="0.5010" stop-color="#fcf8c1"/><stop offset="0.5031" stop-color="#fefdf0"/><stop offset="0.5052" stop-color="#ffffff"/><stop offset="0.6294" stop-color="#ffffff"/><stop offset="0.6480" stop-color="#fbf6b1"/><stop offset="0.6605" stop-color="#f8f069"/><stop offset="0.6770" stop-color="#f6e916"/><stop offset="0.6915" stop-color="#f79a1b"/><stop offset="0.6977" stop-color="#f36221"/><stop offset="0.7019" stop-color="#ee2d23"/><stop offset="0.7039" stop-color="#dd1e24"/><stop offset="0.7060" stop-color="#b61d24"/><stop offset="0.7101" stop-color="#4c1214"/><stop offset="0.7122" stop-color="#341012"/><stop offset="0.7143" stop-color="#411113"/><stop offset="0.7164" stop-color="#6f1518"/><stop offset="0.7184" stop-color="#a81b21"/><stop offset="0.7205" stop-color="#d31e25"/><stop offset="0.7226" stop-color="#ee2524"/><stop offset="0.7288" stop-color="#f47220"/><stop offset="0.7371" stop-color="#f8b116"/><stop offset="0.7474" stop-color="#f6e616"/><stop offset="0.7723" stop-color="#f9f38f"/><stop offset="0.7867" stop-color="#fdfad3"/><stop offset="0.8033" stop-color="#ffffff"/><stop offset="0.8302" stop-color="#ffffff"/><stop offset="0.8364" stop-color="#fdfad7"/><stop offset="0.8385" stop-color="#fcf7bd"/><stop offset="0.8427" stop-color="#f8f064"/><stop offset="0.8447" stop-color="#f7ee45"/><stop offset="0.8468" stop-color="#f7ed41"/><stop offset="0.8530" stop-color="#f9f385"/><stop offset="0.8551" stop-color="#f9f388"/><stop offset="0.8592" stop-color="#f8f16e"/><stop offset="0.8634" stop-color="#f7ed43"/><stop offset="0.8654" stop-color="#f6eb24"/><stop offset="0.8675" stop-color="#f7d915"/><stop offset="0.8716" stop-color="#f7971c"/><stop offset="0.8737" stop-color="#f57f20"/><stop offset="0.8758" stop-color="#f6891f"/><stop offset="0.8820" stop-color="#f7da15"/><stop offset="0.8841" stop-color="#f6e816"/><stop offset="0.8882" stop-color="#f6ea17"/><stop offset="0.8923" stop-color="#f7d515"/><stop offset="0.8965" stop-color="#f7a918"/><stop offset="0.8986" stop-color="#f68b1f"/><stop offset="0.9027" stop-color="#ef3923"/><stop offset="0.9048" stop-color="#ed2224"/><stop offset="0.9068" stop-color="#ef3123"/><stop offset="0.9110" stop-color="#f5841f"/><stop offset="0.9172" stop-color="#f7da15"/><stop offset="0.9193" stop-color="#f6eb1d"/><stop offset="0.9337" stop-color="#fcf9c9"/><stop offset="0.9400" stop-color="#fffffd"/><stop offset="0.9420" stop-color="#ffffff"/><stop offset="1.0000" stop-color="#ffffff"/></linearGradient>
<linearGradient id="g17" x1="0" y1="0" x2="0" y2="1"><stop offset="0.0000" stop-color="#ffffff"/><stop offset="0.3354" stop-color="#ffffff"/><stop offset="0.3375" stop-color="#fefce5"/><stop offset="0.3395" stop-color="#faf49a"/><stop offset="0.3416" stop-color="#f8f064"/><stop offset="0.3437" stop-color="#f8f068"/><stop offset="0.3458" stop-color="#faf5a4"/><stop offset="0.3478" stop-color="#fefdec"/><stop offset="0.3499" stop-color="#ffffff"/><stop offset="0.3975" stop-color="#ffffff"/><stop offset="0.3996" stop-color="#fdfbdb"/><stop offset="0.4017" stop-color="#faf497"/><stop offset="0.4037" stop-color="#f8f061"/><stop offset="0.4058" stop-color="#f7ef5b"/><stop offset="0.4079" stop-color="#f9f283"/><stop offset="0.4099" stop-color="#fcf9c8"/><stop offset="0.4120" stop-color="#fffef8"/><stop offset="0.4141" stop-color="#ffffff"/><stop offset="0.4224" stop-color="#ffffff"/><stop offset="0.4244" stop-color="#fcf7bd"/><stop offset="0.4265" stop-color="#f9f38c"/><stop offset="0.4327" stop-color="#f9f387"/><stop offset="0.4348" stop-color="#f8f067"/><stop offset="0.4369" stop-color="#ffffff"/><stop offset="0.4451" stop-color="#ffffff"/><stop offset="0.4472" stop-color="#f7db15"/><stop offset="0.4493" stop-color="#f7da15"/><stop offset="0.4513" stop-color="#f7ee4f"/><stop offset="0.4576" stop-color="#f7ed43"/><stop offset="0.4596" stop-color="#f6eb22"/><stop offset="0.4658" stop-color="#f6e716"/><stop offset="0.4679" stop-color="#f7d515"/><stop offset="0.4741" stop-color="#f8c114"/><stop offset="0.4803" stop-color="#f6941d"/><stop offset="0.4845" stop-color="#f47120"/><stop offset="0.4886" stop-color="#ed2124"/><stop offset="0.4907" stop-color="#e91e24"/><stop offset="0.4928" stop-color="#ef3823"/><stop offset="0.4969" stop-color="#f6891f"/><stop offset="0.5052" stop-color="#f8b914"/><stop offset="0.5072" stop-color="#f8bf14"/><stop offset="0.5155" stop-color="#f8c014"/><stop offset="0.5217" stop-color="#f8b515"/><stop offset="0.5238" stop-color="#f8b216"/><stop offset="0.5259" stop-color="#f7c915"/><stop offset="0.5321" stop-color="#f7ad17"/><stop offset="0.5342" stop-color="#f7981c"/><stop offset="0.5362" stop-color="#f6961c"/><stop offset="0.5404" stop-color="#f25821"/><stop offset="0.5424" stop-color="#f15022"/><stop offset="0.5466" stop-color="#f36921"/><stop offset="0.5487" stop-color="#f36521"/><stop offset="0.5507" stop-color="#f25521"/><stop offset="0.5549" stop-color="#e61e24"/><stop offset="0.5569" stop-color="#be1e25"/><stop offset="0.5590" stop-color="#8b171c"/><stop offset="0.5611" stop-color="#77161a"/><stop offset="0.5631" stop-color="#96191e"/><stop offset="0.5652" stop-color="#c91e25"/><stop offset="0.5673" stop-color="#ed2324"/><stop offset="0.5735" stop-color="#f5831f"/><stop offset="0.5818" stop-color="#f7cb15"/><stop offset="0.5859" stop-color="#f6e516"/><stop offset="0.6046" stop-color="#f9f38d"/><stop offset="0.6149" stop-color="#fdfad1"/><stop offset="0.6253" stop-color="#ffffff"/><stop offset="0.7246" stop-color="#ffffff"/><stop offset="0.7267" stop-color="#fdfad3"/><stop offset="0.7329" stop-color="#fcf8c4"/><stop offset="0.7350" stop-color="#f9f38d"/><stop offset="0.7412" stop-color="#f8f279"/><stop offset="0.7433" stop-color="#f8ef5d"/><stop offset="0.7495" stop-color="#f7ee4d"/><stop offset="0.7516" stop-color="#faf59d"/><stop offset="0.7578" stop-color="#f8f060"/><stop offset="0.7660" stop-color="#f6e516"/><stop offset="0.7723" stop-color="#f7a818"/><stop offset="0.7764" stop-color="#f36a21"/><stop offset="0.7805" stop-color="#e51e24"/><stop offset="0.7826" stop-color="#c81e25"/><stop offset="0.7847" stop-color="#ce1e25"/><stop offset="0.7867" stop-color="#ed2224"/><stop offset="0.7909" stop-color="#f47420"/><stop offset="0.7950" stop-color="#f7ac17"/><stop offset="0.8012" stop-color="#f7db15"/><stop offset="0.8054" stop-color="#f6e316"/><stop offset="0.8095" stop-color="#f7cf15"/><stop offset="0.8157" stop-color="#f5811f"/><stop offset="0.8178" stop-color="#f5841f"/><stop offset="0.8240" stop-color="#f6e216"/><stop offset="0.8282" stop-color="#f7ee50"/><stop offset="0.8364" stop-color="#fcf8c4"/><stop offset="0.8427" stop-color="#fffffd"/><stop offset="0.8447" stop-color="#ffffff"/><stop offset="0.8571" stop-color="#ffffff"/><stop offset="0.8592" stop-color="#f8ef5e"/><stop offset="0.8654" stop-color="#f8f062"/><stop offset="0.8675" stop-color="#fefce7"/><stop offset="0.8737" stop-color="#fefdef"/><stop offset="0.8758" stop-color="#fcf7b9"/><stop offset="0.8820" stop-color="#fcf8be"/><stop offset="0.8841" stop-color="#f9f38e"/><stop offset="0.8903" stop-color="#f9f490"/><stop offset="0.8923" stop-color="#f8f16d"/><stop offset="0.8986" stop-color="#f8f16d"/><stop offset="0.9006" stop-color="#ffffff"/><stop offset="0.9193" stop-color="#ffffff"/><stop offset="0.9213" stop-color="#fdfbde"/><stop offset="0.9234" stop-color="#faf59c"/><stop offset="0.9255" stop-color="#f9f386"/><stop offset="0.9275" stop-color="#fcf7ba"/><stop offset="0.9296" stop-color="#fffffd"/><stop offset="0.9317" stop-color="#ffffff"/><stop offset="0.9689" stop-color="#ffffff"/><stop offset="0.9710" stop-color="#fefdf0"/><stop offset="0.9731" stop-color="#fbf6ab"/><stop offset="0.9752" stop-color="#f9f38a"/><stop offset="0.9772" stop-color="#fbf7b6"/><stop offset="0.9793" stop-color="#fffffc"/><stop offset="0.9814" stop-color="#ffffff"/><stop offset="1.0000" stop-color="#ffffff"/></linearGradient>
<linearGradient id="g18" x1="0" y1="0" x2="0" y2="1"><stop offset="0.0000" stop-color="#ffffff"/><stop offset="0.3706" stop-color="#ffffff"/><stop offset="0.3727" stop-color="#f9f283"/><stop offset="0.3747" stop-color="#f9f282"/><stop offset="0.3768" stop-color="#ffffff"/><stop offset="0.3830" stop-color="#ffffff"/><stop offset="0.3851" stop-color="#fefdf0"/><stop offset="0.3913" stop-color="#fefdef"/><stop offset="0.3934" stop-color="#fbf7b7"/><stop offset="0.3996" stop-color="#fbf7b5"/><stop offset="0.4017" stop-color="#f9f386"/><stop offset="0.4079" stop-color="#f9f384"/><stop offset="0.4099" stop-color="#f8f067"/><stop offset="0.4161" stop-color="#f8f066"/><stop offset="0.4182" stop-color="#fefdf0"/><stop offset="0.4203" stop-color="#ffffff"/><stop offset="0.4244" stop-color="#ffffff"/><stop offset="0.4265" stop-color="#f7ed43"/><stop offset="0.4327" stop-color="#f7ed42"/><stop offset="0.4348" stop-color="#f6eb24"/><stop offset="0.4410" stop-color="#f6eb23"/><stop offset="0.4431" stop-color="#f6e316"/><stop offset="0.4493" stop-color="#f6e116"/><stop offset="0.4513" stop-color="#f8f064"/><stop offset="0.4576" stop-color="#f7ef5b"/><stop offset="0.4596" stop-color="#f7ec35"/><stop offset="0.4658" stop-color="#f6eb26"/><stop offset="0.4679" stop-color="#f6e116"/><stop offset="0.4741" stop-color="#f7c815"/><stop offset="0.4762" stop-color="#f8b116"/><stop offset="0.4783" stop-color="#f8c114"/><stop offset="0.4803" stop-color="#f79f1a"/><stop offset="0.4824" stop-color="#f68d1e"/><stop offset="0.4845" stop-color="#f79a1b"/><stop offset="0.4886" stop-color="#f7d015"/><stop offset="0.4907" stop-color="#f6df16"/><stop offset="0.4948" stop-color="#f7dd15"/><stop offset="0.4990" stop-color="#f8bc14"/><stop offset="0.5031" stop-color="#f57e20"/><stop offset="0.5072" stop-color="#ef3223"/><stop offset="0.5093" stop-color="#ef3123"/><stop offset="0.5114" stop-color="#f15222"/><stop offset="0.5155" stop-color="#f7a21a"/><stop offset="0.5197" stop-color="#f7db15"/><stop offset="0.5217" stop-color="#f6eb21"/><stop offset="0.5280" stop-color="#f8f170"/><stop offset="0.5300" stop-color="#f6eb23"/><stop offset="0.5321" stop-color="#f6ec2a"/><stop offset="0.5342" stop-color="#f6ea17"/><stop offset="0.5404" stop-color="#f6eb22"/><stop offset="0.5424" stop-color="#f6e416"/><stop offset="0.5487" stop-color="#f6e716"/><stop offset="0.5507" stop-color="#f7db15"/><stop offset="0.5569" stop-color="#f7dc15"/><stop offset="0.5590" stop-color="#f7ef58"/><stop offset="0.5611" stop-color="#ffffff"/><stop offset="0.7805" stop-color="#ffffff"/><stop offset="0.7826" stop-color="#f7ec36"/><stop offset="0.7847" stop-color="#f6ea1b"/><stop offset="0.7909" stop-color="#f6ea16"/><stop offset="0.7930" stop-color="#f7db15"/><stop offset="0.7992" stop-color="#f7d615"/><stop offset="0.8012" stop-color="#f7ed3e"/><stop offset="0.8075" stop-color="#f6eb21"/><stop offset="0.8095" stop-color="#f7da15"/><stop offset="0.8137" stop-color="#f8c314"/><stop offset="0.8157" stop-color="#f7ce15"/><stop offset="0.8199" stop-color="#f68f1e"/><stop offset="0.8240" stop-color="#f03c23"/><stop offset="0.8261" stop-color="#ee2d23"/><stop offset="0.8282" stop-color="#f04522"/><stop offset="0.8323" stop-color="#f7981c"/><stop offset="0.8344" stop-color="#f6921d"/><stop offset="0.8406" stop-color="#f8b615"/><stop offset="0.8427" stop-color="#f6df16"/><stop offset="0.8489" stop-color="#f6eb22"/><stop offset="0.8509" stop-color="#fdf9ce"/><stop offset="0.8551" stop-color="#fffffb"/><stop offset="0.8571" stop-color="#ffffff"/><stop offset="0.8571" stop-color="#ffffff"/><stop offset="0.8592" stop-color="#f7ef54"/><stop offset="0.8654" stop-color="#f8ef5c"/><stop offset="0.8675" stop-color="#fdfbdc"/><stop offset="0.8737" stop-color="#fefdeb"/><stop offset="0.8758" stop-color="#fbf7b8"/><stop offset="0.8820" stop-color="#fcf8c1"/><stop offset="0.8841" stop-color="#faf491"/><stop offset="0.8903" stop-color="#faf496"/><stop offset="0.8923" stop-color="#f8f170"/><stop offset="0.8986" stop-color="#f8f172"/><stop offset="0.9006" stop-color="#ffffff"/><stop offset="1.0000" stop-color="#ffffff"/></linearGradient>
<linearGradient id="g19" x1="0" y1="0" x2="0" y2="1"><stop offset="0.0000" stop-color="#ffffff"/><stop offset="0.3230" stop-color="#ffffff"/><stop offset="0.3251" stop-color="#fbf6a8"/><stop offset="0.3333" stop-color="#fbf6a7"/><stop offset="0.3354" stop-color="#f8f27b"/><stop offset="0.3416" stop-color="#f8f27a"/><stop offset="0.3437" stop-color="#ffffff"/><stop offset="0.3499" stop-color="#ffffff"/><stop offset="0.3520" stop-color="#fefce2"/><stop offset="0.3582" stop-color="#fdfbdf"/><stop offset="0.3602" stop-color="#fbf6a9"/><stop offset="0.3665" stop-color="#fbf6a7"/><stop offset="0.3685" stop-color="#f8f27a"/><stop offset="0.3747" stop-color="#f8f177"/><stop offset="0.3768" stop-color="#ffffff"/><stop offset="0.3810" stop-color="#ffffff"/><stop offset="0.3830" stop-color="#f6df16"/><stop offset="0.3851" stop-color="#f8f05f"/><stop offset="0.3913" stop-color="#f8ef5c"/><stop offset="0.3934" stop-color="#f7ed38"/><stop offset="0.3996" stop-color="#f7ec34"/><stop offset="0.4017" stop-color="#f6ea18"/><stop offset="0.4079" stop-color="#f6e816"/><stop offset="0.4099" stop-color="#f7d915"/><stop offset="0.4161" stop-color="#f7d315"/><stop offset="0.4182" stop-color="#f7ec32"/><stop offset="0.4203" stop-color="#f8f27a"/><stop offset="0.4244" stop-color="#f7ee45"/><stop offset="0.4265" stop-color="#f57a20"/><stop offset="0.4327" stop-color="#f25e21"/><stop offset="0.4369" stop-color="#ee2c23"/><stop offset="0.4389" stop-color="#e41e24"/><stop offset="0.4410" stop-color="#e41e24"/><stop offset="0.4431" stop-color="#ee2724"/><stop offset="0.4472" stop-color="#f15122"/><stop offset="0.4493" stop-color="#f25d21"/><stop offset="0.4513" stop-color="#f57e20"/><stop offset="0.4555" stop-color="#f68a1f"/><stop offset="0.4576" stop-color="#f8ef5e"/><stop offset="0.4596" stop-color="#f8f179"/><stop offset="0.4617" stop-color="#f6ea1d"/><stop offset="0.4658" stop-color="#f6eb29"/><stop offset="0.4679" stop-color="#f6ea16"/><stop offset="0.4741" stop-color="#f6eb1e"/><stop offset="0.4762" stop-color="#f6e116"/><stop offset="0.4824" stop-color="#f6e416"/><stop offset="0.4845" stop-color="#f7d715"/><stop offset="0.4907" stop-color="#f7d915"/><stop offset="0.4928" stop-color="#f7ee4d"/><stop offset="0.4990" stop-color="#f7ee4f"/><stop offset="0.5010" stop-color="#f7ec2f"/><stop offset="0.5072" stop-color="#f7ec30"/><stop offset="0.5093" stop-color="#ffffff"/><stop offset="0.8240" stop-color="#ffffff"/><stop offset="0.8261" stop-color="#fefef4"/><stop offset="0.8282" stop-color="#fcf8c1"/><stop offset="0.8302" stop-color="#f8f27b"/><stop offset="0.8323" stop-color="#f7ef54"/><stop offset="0.8344" stop-color="#f7ee51"/><stop offset="0.8364" stop-color="#f8f16e"/><stop offset="0.8385" stop-color="#faf49a"/><stop offset="0.8406" stop-color="#fbf7b5"/><stop offset="0.8427" stop-color="#fcf8bd"/><stop offset="0.8468" stop-color="#fbf6a7"/><stop offset="0.8571" stop-color="#f6eb28"/><stop offset="0.8592" stop-color="#f6e016"/><stop offset="0.8654" stop-color="#f5851f"/><stop offset="0.8696" stop-color="#ef3523"/><stop offset="0.8716" stop-color="#ef3023"/><stop offset="0.8737" stop-color="#f15022"/><stop offset="0.8778" stop-color="#f7a11a"/><stop offset="0.8799" stop-color="#f36d20"/><stop offset="0.8820" stop-color="#f47620"/><stop offset="0.8903" stop-color="#f57e20"/><stop offset="0.8923" stop-color="#f7d515"/><stop offset="0.8986" stop-color="#f6de16"/><stop offset="0.9006" stop-color="#f7d415"/><stop offset="0.9068" stop-color="#f7d715"/><stop offset="0.9089" stop-color="#f7ee4a"/><stop offset="0.9151" stop-color="#f7ee50"/><stop offset="0.9172" stop-color="#ffffff"/><stop offset="1.0000" stop-color="#ffffff"/></linearGradient>
<linearGradient id="g20" x1="0" y1="0" x2="0" y2="1"><stop offset="0.0000" stop-color="#ffffff"/><stop offset="0.2899" stop-color="#ffffff"/><stop offset="0.2919" stop-color="#f7ec2e"/><stop offset="0.2981" stop-color="#f7ec2e"/><stop offset="0.3002" stop-color="#f6e916"/><stop offset="0.3064" stop-color="#f6e916"/><stop offset="0.3085" stop-color="#ffffff"/><stop offset="0.3147" stop-color="#ffffff"/><stop offset="0.3168" stop-color="#f7ee51"/><stop offset="0.3230" stop-color="#f7ee50"/><stop offset="0.3251" stop-color="#f7ec2f"/><stop offset="0.3333" stop-color="#f6ec2d"/><stop offset="0.3354" stop-color="#f6e916"/><stop offset="0.3416" stop-color="#f6e816"/><stop offset="0.3437" stop-color="#f7da15"/><stop offset="0.3499" stop-color="#f7d815"/><stop offset="0.3520" stop-color="#f7ee4a"/><stop offset="0.3540" stop-color="#f7ee48"/><stop offset="0.3561" stop-color="#ffffff"/><stop offset="0.3582" stop-color="#ffffff"/><stop offset="0.3602" stop-color="#f6eb25"/><stop offset="0.3665" stop-color="#f6eb1f"/><stop offset="0.3706" stop-color="#f6de16"/><stop offset="0.3747" stop-color="#f7da15"/><stop offset="0.3768" stop-color="#f7cc15"/><stop offset="0.3789" stop-color="#f9f27f"/><stop offset="0.3810" stop-color="#f46e20"/><stop offset="0.3830" stop-color="#f46d20"/><stop offset="0.3851" stop-color="#f6881f"/><stop offset="0.3913" stop-color="#f57e20"/><stop offset="0.3996" stop-color="#f25921"/><stop offset="0.4017" stop-color="#f5851f"/><stop offset="0.4058" stop-color="#f03c23"/><stop offset="0.4079" stop-color="#e11e24"/><stop offset="0.4099" stop-color="#b91d24"/><stop offset="0.4120" stop-color="#a71b21"/><stop offset="0.4161" stop-color="#ed1f24"/><stop offset="0.4182" stop-color="#d61e24"/><stop offset="0.4224" stop-color="#ed2024"/><stop offset="0.4244" stop-color="#ee2724"/><stop offset="0.4286" stop-color="#ee2524"/><stop offset="0.4306" stop-color="#f7d615"/><stop offset="0.4327" stop-color="#f47520"/><stop offset="0.4410" stop-color="#f47120"/><stop offset="0.4493" stop-color="#f25b21"/><stop offset="0.4513" stop-color="#f7a01a"/><stop offset="0.4555" stop-color="#f25a21"/><stop offset="0.4576" stop-color="#f25821"/><stop offset="0.4658" stop-color="#f7dc15"/><stop offset="0.4679" stop-color="#f6eb24"/><stop offset="0.4741" stop-color="#f8f172"/><stop offset="0.4762" stop-color="#f7d215"/><stop offset="0.4824" stop-color="#f7da15"/><stop offset="0.4845" stop-color="#f7d015"/><stop offset="0.4907" stop-color="#f7d315"/><stop offset="0.4928" stop-color="#f7ed3e"/><stop offset="0.4990" stop-color="#f7ed43"/><stop offset="0.5010" stop-color="#f6eb27"/><stop offset="0.5072" stop-color="#f6eb29"/><stop offset="0.5093" stop-color="#ffffff"/><stop offset="0.8240" stop-color="#ffffff"/><stop offset="0.8261" stop-color="#f7ef57"/><stop offset="0.8323" stop-color="#f7ee52"/><stop offset="0.8344" stop-color="#fbf6af"/><stop offset="0.8406" stop-color="#faf496"/><stop offset="0.8427" stop-color="#fefce9"/><stop offset="0.8489" stop-color="#fbf7b6"/><stop offset="0.8634" stop-color="#f6e616"/><stop offset="0.8675" stop-color="#f8b415"/><stop offset="0.8737" stop-color="#f14a22"/><stop offset="0.8758" stop-color="#f04522"/><stop offset="0.8820" stop-color="#f7a21a"/><stop offset="0.8861" stop-color="#f8be14"/><stop offset="0.8903" stop-color="#f8be14"/><stop offset="0.8965" stop-color="#f6961d"/><stop offset="0.9006" stop-color="#f25d21"/><stop offset="0.9027" stop-color="#ef3623"/><stop offset="0.9048" stop-color="#db1e24"/><stop offset="0.9068" stop-color="#b41d23"/><stop offset="0.9089" stop-color="#a91b21"/><stop offset="0.9130" stop-color="#ed2424"/><stop offset="0.9151" stop-color="#f14e22"/><stop offset="0.9213" stop-color="#f6931d"/><stop offset="0.9255" stop-color="#f7a818"/><stop offset="0.9317" stop-color="#f8c014"/><stop offset="0.9379" stop-color="#f8c414"/><stop offset="0.9400" stop-color="#f7c715"/><stop offset="0.9420" stop-color="#f6eb25"/><stop offset="0.9482" stop-color="#f7ec34"/><stop offset="0.9503" stop-color="#fdf9ce"/><stop offset="0.9586" stop-color="#ffffff"/><stop offset="1.0000" stop-color="#ffffff"/></linearGradient>
<linearGradient id="g21" x1="0" y1="0" x2="0" y2="1"><stop offset="0.0000" stop-color="#ffffff"/><stop offset="0.4369" stop-color="#ffffff"/><stop offset="0.4389" stop-color="#f6eb28"/><stop offset="0.4410" stop-color="#f6eb28"/><stop offset="0.4431" stop-color="#f6e616"/><stop offset="0.4493" stop-color="#f6e616"/><stop offset="0.4513" stop-color="#f8f178"/><stop offset="0.4576" stop-color="#f8f173"/><stop offset="0.4596" stop-color="#ffffff"/><stop offset="0.4679" stop-color="#ffffff"/><stop offset="0.4700" stop-color="#fefce7"/><stop offset="0.4720" stop-color="#faf59c"/><stop offset="0.4741" stop-color="#f8f065"/><stop offset="0.4762" stop-color="#f8f069"/><stop offset="0.4783" stop-color="#fbf6a7"/><stop offset="0.4803" stop-color="#fefdf0"/><stop offset="0.4824" stop-color="#ffffff"/><stop offset="0.5839" stop-color="#ffffff"/><stop offset="0.5901" stop-color="#fffef7"/><stop offset="0.5921" stop-color="#fcf7bc"/><stop offset="0.5983" stop-color="#fbf7b3"/><stop offset="0.6004" stop-color="#f9f282"/><stop offset="0.6066" stop-color="#f8f27a"/><stop offset="0.6087" stop-color="#f8f060"/><stop offset="0.6149" stop-color="#f7ef5b"/><stop offset="0.6170" stop-color="#f7ee49"/><stop offset="0.6232" stop-color="#f7ed43"/><stop offset="0.6253" stop-color="#f9f385"/><stop offset="0.6315" stop-color="#f8f172"/><stop offset="0.6335" stop-color="#f7ef5a"/><stop offset="0.6398" stop-color="#f7ee4e"/><stop offset="0.6418" stop-color="#f7ed3a"/><stop offset="0.6460" stop-color="#f7ec31"/><stop offset="0.6480" stop-color="#f8f06b"/><stop offset="0.6646" stop-color="#f6e916"/><stop offset="0.6791" stop-color="#f79a1c"/><stop offset="0.6853" stop-color="#f36121"/><stop offset="0.6894" stop-color="#ee2c23"/><stop offset="0.6915" stop-color="#db1e24"/><stop offset="0.6936" stop-color="#b51d23"/><stop offset="0.6977" stop-color="#4a1214"/><stop offset="0.6998" stop-color="#341012"/><stop offset="0.7019" stop-color="#421113"/><stop offset="0.7060" stop-color="#aa1b21"/><stop offset="0.7081" stop-color="#d41e25"/><stop offset="0.7101" stop-color="#ee2624"/><stop offset="0.7164" stop-color="#f47320"/><stop offset="0.7246" stop-color="#f8b216"/><stop offset="0.7329" stop-color="#f7de15"/><stop offset="0.7350" stop-color="#f7c915"/><stop offset="0.7412" stop-color="#f7d915"/><stop offset="0.7433" stop-color="#f7d115"/><stop offset="0.7495" stop-color="#f7db15"/><stop offset="0.7516" stop-color="#f7d115"/><stop offset="0.7578" stop-color="#f7d715"/><stop offset="0.7598" stop-color="#faf499"/><stop offset="0.7743" stop-color="#fefce3"/><stop offset="0.7826" stop-color="#ffffff"/><stop offset="1.0000" stop-color="#ffffff"/></linearGradient>
<linearGradient id="g22" x1="0" y1="0" x2="0" y2="1"><stop offset="0.0000" stop-color="#ffffff"/><stop offset="0.4327" stop-color="#ffffff"/><stop offset="0.4348" stop-color="#f9f490"/><stop offset="0.4410" stop-color="#f9f38e"/><stop offset="0.4431" stop-color="#f8f06c"/><stop offset="0.4493" stop-color="#f8f06b"/><stop offset="0.4513" stop-color="#ffffff"/><stop offset="0.4513" stop-color="#ffffff"/><stop offset="0.4576" stop-color="#fffffb"/><stop offset="0.4596" stop-color="#fcf8c0"/><stop offset="0.4658" stop-color="#fcf7ba"/><stop offset="0.4679" stop-color="#f9f388"/><stop offset="0.4741" stop-color="#f9f281"/><stop offset="0.4762" stop-color="#ffffff"/><stop offset="0.4783" stop-color="#ffffff"/><stop offset="0.4803" stop-color="#f6e416"/><stop offset="0.4824" stop-color="#f6e316"/><stop offset="0.4845" stop-color="#f7d515"/><stop offset="0.4907" stop-color="#f7d115"/><stop offset="0.4928" stop-color="#f7ec30"/><stop offset="0.4990" stop-color="#f6e716"/><stop offset="0.5010" stop-color="#f7ed44"/><stop offset="0.5031" stop-color="#f6ea1b"/><stop offset="0.5072" stop-color="#f7a918"/><stop offset="0.5093" stop-color="#f5831f"/><stop offset="0.5114" stop-color="#f36b20"/><stop offset="0.5135" stop-color="#f57920"/><stop offset="0.5155" stop-color="#f79e1a"/><stop offset="0.5176" stop-color="#f79b1b"/><stop offset="0.5238" stop-color="#f8c214"/><stop offset="0.5259" stop-color="#f6eb1f"/><stop offset="0.5321" stop-color="#f7ed3a"/><stop offset="0.5342" stop-color="#f6eb23"/><stop offset="0.5404" stop-color="#f6ec2b"/><stop offset="0.5424" stop-color="#f6e916"/><stop offset="0.5487" stop-color="#f6ea17"/><stop offset="0.5507" stop-color="#f7dd15"/><stop offset="0.5569" stop-color="#f7de15"/><stop offset="0.5590" stop-color="#f8ef5c"/><stop offset="0.5611" stop-color="#f8ef5d"/><stop offset="0.5631" stop-color="#ffffff"/><stop offset="0.6501" stop-color="#ffffff"/><stop offset="0.6522" stop-color="#f6df16"/><stop offset="0.6563" stop-color="#f7dd15"/><stop offset="0.6584" stop-color="#f7d015"/><stop offset="0.6667" stop-color="#f7cb15"/><stop offset="0.6687" stop-color="#f6eb21"/><stop offset="0.6749" stop-color="#f6e416"/><stop offset="0.6770" stop-color="#f7d215"/><stop offset="0.6832" stop-color="#f8ba14"/><stop offset="0.6894" stop-color="#f68a1f"/><stop offset="0.6936" stop-color="#f36121"/><stop offset="0.6957" stop-color="#ef3723"/><stop offset="0.6977" stop-color="#dc1e24"/><stop offset="0.6998" stop-color="#c61e25"/><stop offset="0.7019" stop-color="#d51e25"/><stop offset="0.7039" stop-color="#ee2e23"/><stop offset="0.7081" stop-color="#f57f20"/><stop offset="0.7143" stop-color="#f7cc15"/><stop offset="0.7164" stop-color="#f6e016"/><stop offset="0.7184" stop-color="#f36d20"/><stop offset="0.7246" stop-color="#f47420"/><stop offset="0.7267" stop-color="#f7c615"/><stop offset="0.7329" stop-color="#f7ce15"/><stop offset="0.7350" stop-color="#f7ec32"/><stop offset="0.7412" stop-color="#f7ed3d"/><stop offset="0.7433" stop-color="#f6eb23"/><stop offset="0.7495" stop-color="#f6eb27"/><stop offset="0.7516" stop-color="#f6e616"/><stop offset="0.7578" stop-color="#f6e816"/><stop offset="0.7598" stop-color="#f7da15"/><stop offset="0.7619" stop-color="#f7db15"/><stop offset="0.7640" stop-color="#ffffff"/><stop offset="0.7888" stop-color="#ffffff"/><stop offset="0.7950" stop-color="#fcf9cb"/><stop offset="0.7992" stop-color="#faf495"/><stop offset="0.8012" stop-color="#f6eb27"/><stop offset="0.8054" stop-color="#f6e216"/><stop offset="0.8075" stop-color="#f7d515"/><stop offset="0.8157" stop-color="#f47820"/><stop offset="0.8178" stop-color="#f14e22"/><stop offset="0.8199" stop-color="#ef3923"/><stop offset="0.8219" stop-color="#f14a22"/><stop offset="0.8261" stop-color="#f79b1b"/><stop offset="0.8282" stop-color="#f8bc14"/><stop offset="0.8302" stop-color="#f36321"/><stop offset="0.8323" stop-color="#f36921"/><stop offset="0.8344" stop-color="#f68a1f"/><stop offset="0.8364" stop-color="#f68e1e"/><stop offset="0.8385" stop-color="#f8f176"/><stop offset="0.8427" stop-color="#fcf7ba"/><stop offset="0.8489" stop-color="#ffffff"/><stop offset="1.0000" stop-color="#ffffff"/></linearGradient>
<linearGradient id="g23" x1="0" y1="0" x2="0" y2="1"><stop offset="0.0000" stop-color="#ffffff"/><stop offset="0.3520" stop-color="#ffffff"/><stop offset="0.3540" stop-color="#fffffe"/><stop offset="0.3561" stop-color="#fbf7b7"/><stop offset="0.3582" stop-color="#f9f38b"/><stop offset="0.3602" stop-color="#fbf6ac"/><stop offset="0.3623" stop-color="#fefdf1"/><stop offset="0.3644" stop-color="#ffffff"/><stop offset="0.3851" stop-color="#ffffff"/><stop offset="0.3872" stop-color="#f8f063"/><stop offset="0.3913" stop-color="#f8f063"/><stop offset="0.3934" stop-color="#f7ed3d"/><stop offset="0.3996" stop-color="#f7ed3c"/><stop offset="0.4017" stop-color="#f6eb20"/><stop offset="0.4079" stop-color="#f6eb1e"/><stop offset="0.4120" stop-color="#f6e016"/><stop offset="0.4161" stop-color="#f6df16"/><stop offset="0.4182" stop-color="#f8ef5d"/><stop offset="0.4224" stop-color="#f7ef58"/><stop offset="0.4244" stop-color="#ffffff"/><stop offset="0.4265" stop-color="#ffffff"/><stop offset="0.4286" stop-color="#f68a1f"/><stop offset="0.4327" stop-color="#f6881f"/><stop offset="0.4369" stop-color="#f57b20"/><stop offset="0.4410" stop-color="#f47520"/><stop offset="0.4493" stop-color="#f14922"/><stop offset="0.4513" stop-color="#f36821"/><stop offset="0.4534" stop-color="#f14922"/><stop offset="0.4555" stop-color="#f14f22"/><stop offset="0.4617" stop-color="#f8bf14"/><stop offset="0.4638" stop-color="#f7dd15"/><stop offset="0.4679" stop-color="#f6ea19"/><stop offset="0.4741" stop-color="#f7ee45"/><stop offset="0.4762" stop-color="#f7ed3f"/><stop offset="0.4824" stop-color="#f7ee51"/><stop offset="0.4845" stop-color="#fcf8be"/><stop offset="0.4907" stop-color="#fdfad7"/><stop offset="0.4928" stop-color="#fbf6a8"/><stop offset="0.4990" stop-color="#fbf7b4"/><stop offset="0.5010" stop-color="#f9f387"/><stop offset="0.5072" stop-color="#f9f38c"/><stop offset="0.5093" stop-color="#f8f06b"/><stop offset="0.5114" stop-color="#f8f06c"/><stop offset="0.5135" stop-color="#ffffff"/><stop offset="0.5362" stop-color="#ffffff"/><stop offset="0.5383" stop-color="#fefce5"/><stop offset="0.5404" stop-color="#faf49a"/><stop offset="0.5424" stop-color="#f8f065"/><stop offset="0.5445" stop-color="#f8f068"/><stop offset="0.5466" stop-color="#fbf6a7"/><stop offset="0.5487" stop-color="#fefdf0"/><stop offset="0.5507" stop-color="#ffffff"/><stop offset="0.6749" stop-color="#ffffff"/><stop offset="0.6812" stop-color="#fdf9cf"/><stop offset="0.6915" stop-color="#f7ef56"/><stop offset="0.6977" stop-color="#f6e316"/><stop offset="0.7039" stop-color="#f7991c"/><stop offset="0.7101" stop-color="#ed2224"/><stop offset="0.7122" stop-color="#d91e24"/><stop offset="0.7143" stop-color="#e71e24"/><stop offset="0.7205" stop-color="#f6911e"/><stop offset="0.7267" stop-color="#f7dd15"/><stop offset="0.7288" stop-color="#f6eb1f"/><stop offset="0.7391" stop-color="#faf495"/><stop offset="0.7453" stop-color="#fdfbd9"/><stop offset="0.7495" stop-color="#fffffb"/><stop offset="0.7516" stop-color="#ffffff"/><stop offset="0.8385" stop-color="#ffffff"/><stop offset="0.8406" stop-color="#fffefa"/><stop offset="0.8468" stop-color="#fbf7b8"/><stop offset="0.8530" stop-color="#f8ef5f"/><stop offset="0.8571" stop-color="#f6eb28"/><stop offset="0.8592" stop-color="#f6e016"/><stop offset="0.8654" stop-color="#f5851f"/><stop offset="0.8696" stop-color="#ef3523"/><stop offset="0.8716" stop-color="#ef3023"/><stop offset="0.8737" stop-color="#f14f22"/><stop offset="0.8778" stop-color="#f7a11a"/><stop offset="0.8799" stop-color="#f36c20"/><stop offset="0.8820" stop-color="#f47620"/><stop offset="0.8903" stop-color="#f57e20"/><stop offset="0.8923" stop-color="#f7d515"/><stop offset="0.8986" stop-color="#f7de15"/><stop offset="0.9006" stop-color="#f7d315"/><stop offset="0.9068" stop-color="#f7d715"/><stop offset="0.9089" stop-color="#f7ee49"/><stop offset="0.9151" stop-color="#f7ee4f"/><stop offset="0.9172" stop-color="#ffffff"/><stop offset="1.0000" stop-color="#ffffff"/></linearGradient>
<linearGradient id="g24" x1="0" y1="0" x2="0" y2="1"><stop offset="0.0000" stop-color="#ffffff"/><stop offset="0.3023" stop-color="#ffffff"/><stop offset="0.3064" stop-color="#f9f38b"/><stop offset="0.3085" stop-color="#f9f389"/><stop offset="0.3126" stop-color="#ffffff"/><stop offset="0.3209" stop-color="#ffffff"/><stop offset="0.3230" stop-color="#f7ee4d"/><stop offset="0.3251" stop-color="#f7ec2e"/><stop offset="0.3333" stop-color="#f7ec2e"/><stop offset="0.3354" stop-color="#f6e916"/><stop offset="0.3416" stop-color="#f6e916"/><stop offset="0.3437" stop-color="#f7db15"/><stop offset="0.3499" stop-color="#f7da15"/><stop offset="0.3520" stop-color="#f7ee4f"/><stop offset="0.3582" stop-color="#f7ee4c"/><stop offset="0.3602" stop-color="#f6ec2b"/><stop offset="0.3665" stop-color="#f6eb28"/><stop offset="0.3685" stop-color="#f6e516"/><stop offset="0.3747" stop-color="#f6e216"/><stop offset="0.3768" stop-color="#f7d415"/><stop offset="0.3789" stop-color="#f7d215"/><stop offset="0.3810" stop-color="#f47220"/><stop offset="0.3830" stop-color="#f47120"/><stop offset="0.3851" stop-color="#f68e1e"/><stop offset="0.3913" stop-color="#f68a1f"/><stop offset="0.3954" stop-color="#f57c20"/><stop offset="0.3996" stop-color="#f47520"/><stop offset="0.4017" stop-color="#f7d615"/><stop offset="0.4079" stop-color="#f6941d"/><stop offset="0.4120" stop-color="#f14c22"/><stop offset="0.4141" stop-color="#ed2124"/><stop offset="0.4161" stop-color="#cd1e25"/><stop offset="0.4182" stop-color="#c71e25"/><stop offset="0.4203" stop-color="#e31e24"/><stop offset="0.4244" stop-color="#f25f21"/><stop offset="0.4265" stop-color="#f47820"/><stop offset="0.4286" stop-color="#f5821f"/><stop offset="0.4327" stop-color="#f47220"/><stop offset="0.4348" stop-color="#f57c20"/><stop offset="0.4389" stop-color="#f7ac17"/><stop offset="0.4431" stop-color="#f8c014"/><stop offset="0.4451" stop-color="#f8ba14"/><stop offset="0.4493" stop-color="#f6921d"/><stop offset="0.4534" stop-color="#f15422"/><stop offset="0.4555" stop-color="#f25a21"/><stop offset="0.4617" stop-color="#f8c114"/><stop offset="0.4638" stop-color="#f7dc15"/><stop offset="0.4658" stop-color="#f6eb22"/><stop offset="0.4783" stop-color="#fbf7b6"/><stop offset="0.4803" stop-color="#f7d815"/><stop offset="0.4824" stop-color="#f7da15"/><stop offset="0.4845" stop-color="#f7d015"/><stop offset="0.4907" stop-color="#f7d215"/><stop offset="0.4928" stop-color="#f7ed3c"/><stop offset="0.4990" stop-color="#f7ed41"/><stop offset="0.5010" stop-color="#f6eb25"/><stop offset="0.5031" stop-color="#f6eb26"/><stop offset="0.5052" stop-color="#ffffff"/><stop offset="0.5362" stop-color="#ffffff"/><stop offset="0.5383" stop-color="#fdfad0"/><stop offset="0.5404" stop-color="#f9f38a"/><stop offset="0.5424" stop-color="#f8ef5e"/><stop offset="0.5445" stop-color="#f8f061"/><stop offset="0.5466" stop-color="#faf496"/><stop offset="0.5487" stop-color="#fdfbdc"/><stop offset="0.5507" stop-color="#ffffff"/><stop offset="0.6563" stop-color="#ffffff"/><stop offset="0.6605" stop-color="#fefce5"/><stop offset="0.6646" stop-color="#fbf7b7"/><stop offset="0.6729" stop-color="#f6eb28"/><stop offset="0.6749" stop-color="#f6eb20"/><stop offset="0.6791" stop-color="#f7ee46"/><stop offset="0.6832" stop-color="#f7ee4c"/><stop offset="0.6894" stop-color="#f6eb29"/><stop offset="0.6915" stop-color="#f6ea17"/><stop offset="0.6998" stop-color="#f7a519"/><stop offset="0.7039" stop-color="#f46e20"/><stop offset="0.7081" stop-color="#ed1e24"/><stop offset="0.7101" stop-color="#c51e25"/><stop offset="0.7122" stop-color="#a71b21"/><stop offset="0.7143" stop-color="#ba1e24"/><stop offset="0.7164" stop-color="#e21e24"/><stop offset="0.7184" stop-color="#f03e23"/><stop offset="0.7226" stop-color="#f6861f"/><stop offset="0.7288" stop-color="#f7c815"/><stop offset="0.7329" stop-color="#f6e816"/><stop offset="0.7536" stop-color="#fbf7b8"/><stop offset="0.7598" stop-color="#fdfad1"/><stop offset="0.7640" stop-color="#fdfad2"/><stop offset="0.7660" stop-color="#fcf9c9"/><stop offset="0.7681" stop-color="#fbf7b4"/><stop offset="0.7723" stop-color="#f8f063"/><stop offset="0.7743" stop-color="#f7ee49"/><stop offset="0.7764" stop-color="#f7ee51"/><stop offset="0.7785" stop-color="#f8f175"/><stop offset="0.7805" stop-color="#fbf6af"/><stop offset="0.7826" stop-color="#fdfad8"/><stop offset="0.7847" stop-color="#fefef3"/><stop offset="0.7867" stop-color="#ffffff"/><stop offset="0.8302" stop-color="#ffffff"/><stop offset="0.8344" stop-color="#fefef4"/><stop offset="0.8427" stop-color="#fcf8c2"/><stop offset="0.8592" stop-color="#f6e716"/><stop offset="0.8634" stop-color="#f8b515"/><stop offset="0.8696" stop-color="#f14b22"/><stop offset="0.8716" stop-color="#f04622"/><stop offset="0.8778" stop-color="#f7a619"/><stop offset="0.8820" stop-color="#f7c915"/><stop offset="0.8861" stop-color="#f7d215"/><stop offset="0.8923" stop-color="#f8ba14"/><stop offset="0.8965" stop-color="#f7971c"/><stop offset="0.9006" stop-color="#f25d21"/><stop offset="0.9027" stop-color="#ef3723"/><stop offset="0.9048" stop-color="#db1e24"/><stop offset="0.9068" stop-color="#b51d23"/><stop offset="0.9089" stop-color="#a91b21"/><stop offset="0.9130" stop-color="#ee2424"/><stop offset="0.9151" stop-color="#f14e22"/><stop offset="0.9213" stop-color="#f6931d"/><stop offset="0.9255" stop-color="#f7a818"/><stop offset="0.9317" stop-color="#f8c014"/><stop offset="0.9379" stop-color="#f8c414"/><stop offset="0.9400" stop-color="#f7c715"/><stop offset="0.9420" stop-color="#f6eb24"/><stop offset="0.9482" stop-color="#f7ec33"/><stop offset="0.9503" stop-color="#f6ea1c"/><stop offset="0.9565" stop-color="#f6eb24"/><stop offset="0.9586" stop-color="#f6e516"/><stop offset="0.9607" stop-color="#f6e616"/><stop offset="0.9627" stop-color="#ffffff"/><stop offset="1.0000" stop-color="#ffffff"/></linearGradient>
<linearGradient id="g25" x1="0" y1="0" x2="0" y2="1"><stop offset="0.0000" stop-color="#ffffff"/><stop offset="0.2195" stop-color="#ffffff"/><stop offset="0.2215" stop-color="#fefce5"/><stop offset="0.2236" stop-color="#faf5a1"/><stop offset="0.2257" stop-color="#faf492"/><stop offset="0.2298" stop-color="#ffffff"/><stop offset="0.3147" stop-color="#ffffff"/><stop offset="0.3168" stop-color="#f7ef54"/><stop offset="0.3230" stop-color="#f7ef52"/><stop offset="0.3251" stop-color="#f7ec30"/><stop offset="0.3333" stop-color="#f6ec2c"/><stop offset="0.3354" stop-color="#f6e716"/><stop offset="0.3416" stop-color="#f6e316"/><stop offset="0.3437" stop-color="#f7d315"/><stop offset="0.3499" stop-color="#f8c414"/><stop offset="0.3520" stop-color="#f7d815"/><stop offset="0.3561" stop-color="#f7a519"/><stop offset="0.3582" stop-color="#f6951d"/><stop offset="0.3602" stop-color="#f79c1b"/><stop offset="0.3665" stop-color="#f7d915"/><stop offset="0.3727" stop-color="#f6e116"/><stop offset="0.3747" stop-color="#f6e416"/><stop offset="0.3768" stop-color="#f7d915"/><stop offset="0.3830" stop-color="#f7dc15"/><stop offset="0.3851" stop-color="#f7ef58"/><stop offset="0.3872" stop-color="#f7ef59"/><stop offset="0.3892" stop-color="#ffffff"/><stop offset="0.4286" stop-color="#ffffff"/><stop offset="0.4306" stop-color="#f7ec34"/><stop offset="0.4327" stop-color="#f7ec32"/><stop offset="0.4348" stop-color="#f6ea16"/><stop offset="0.4410" stop-color="#f6e516"/><stop offset="0.4431" stop-color="#f7d515"/><stop offset="0.4493" stop-color="#f7cb15"/><stop offset="0.4513" stop-color="#f6ea19"/><stop offset="0.4576" stop-color="#f8c114"/><stop offset="0.4596" stop-color="#f8ba14"/><stop offset="0.4638" stop-color="#f47320"/><stop offset="0.4658" stop-color="#f04822"/><stop offset="0.4679" stop-color="#ee2e23"/><stop offset="0.4700" stop-color="#ef3a23"/><stop offset="0.4741" stop-color="#f68c1f"/><stop offset="0.4762" stop-color="#f6911e"/><stop offset="0.4824" stop-color="#f8bc14"/><stop offset="0.4907" stop-color="#f7c815"/><stop offset="0.4928" stop-color="#f6eb27"/><stop offset="0.4990" stop-color="#f7ec34"/><stop offset="0.5010" stop-color="#ffffff"/><stop offset="0.5383" stop-color="#ffffff"/><stop offset="0.5404" stop-color="#fefef3"/><stop offset="0.5445" stop-color="#f9f281"/><stop offset="0.5466" stop-color="#f8f177"/><stop offset="0.5507" stop-color="#fefce5"/><stop offset="0.5528" stop-color="#ffffff"/><stop offset="0.5694" stop-color="#ffffff"/><stop offset="0.5714" stop-color="#fefded"/><stop offset="0.5756" stop-color="#f8f27c"/><stop offset="0.5776" stop-color="#f8f27a"/><stop offset="0.5818" stop-color="#fefdeb"/><stop offset="0.5839" stop-color="#ffffff"/><stop offset="0.6584" stop-color="#ffffff"/><stop offset="0.6708" stop-color="#fdfad2"/><stop offset="0.6729" stop-color="#f6eb29"/><stop offset="0.6749" stop-color="#f6eb27"/><stop offset="0.6770" stop-color="#f6e416"/><stop offset="0.6832" stop-color="#f6e016"/><stop offset="0.6853" stop-color="#f7d215"/><stop offset="0.6915" stop-color="#f7cc15"/><stop offset="0.6957" stop-color="#f8bd14"/><stop offset="0.6998" stop-color="#f8b815"/><stop offset="0.7019" stop-color="#f6eb28"/><stop offset="0.7039" stop-color="#f6ea19"/><stop offset="0.7060" stop-color="#f57920"/><stop offset="0.7143" stop-color="#f25521"/><stop offset="0.7205" stop-color="#ed1f24"/><stop offset="0.7267" stop-color="#ef3823"/><stop offset="0.7350" stop-color="#ef3723"/><stop offset="0.7371" stop-color="#f04722"/><stop offset="0.7391" stop-color="#ee2e23"/><stop offset="0.7412" stop-color="#df1e24"/><stop offset="0.7433" stop-color="#bb1e24"/><stop offset="0.7474" stop-color="#501215"/><stop offset="0.7495" stop-color="#341012"/><stop offset="0.7516" stop-color="#3d1113"/><stop offset="0.7536" stop-color="#681418"/><stop offset="0.7557" stop-color="#a11a20"/><stop offset="0.7578" stop-color="#cf1e25"/><stop offset="0.7598" stop-color="#ed2024"/><stop offset="0.7619" stop-color="#e81e24"/><stop offset="0.7660" stop-color="#ef3523"/><stop offset="0.7681" stop-color="#f14f22"/><stop offset="0.7743" stop-color="#f36721"/><stop offset="0.7785" stop-color="#f36921"/><stop offset="0.7805" stop-color="#f7c915"/><stop offset="0.7847" stop-color="#f7d815"/><stop offset="0.7867" stop-color="#f36b20"/><stop offset="0.7909" stop-color="#f36c20"/><stop offset="0.7992" stop-color="#f26021"/><stop offset="0.8012" stop-color="#f47220"/><stop offset="0.8054" stop-color="#f25921"/><stop offset="0.8095" stop-color="#ee2924"/><stop offset="0.8116" stop-color="#ee2524"/><stop offset="0.8157" stop-color="#f15022"/><stop offset="0.8199" stop-color="#f36521"/><stop offset="0.8219" stop-color="#f8b515"/><stop offset="0.8240" stop-color="#f8bf14"/><stop offset="0.8323" stop-color="#f7cb15"/><stop offset="0.8364" stop-color="#f7c615"/><stop offset="0.8406" stop-color="#f7c915"/><stop offset="0.8427" stop-color="#f6eb26"/><stop offset="0.8489" stop-color="#f7ec2d"/><stop offset="0.8509" stop-color="#f6ea16"/><stop offset="0.8571" stop-color="#f6ea1a"/><stop offset="0.8592" stop-color="#f6df16"/><stop offset="0.8654" stop-color="#f6e116"/><stop offset="0.8675" stop-color="#f7d415"/><stop offset="0.8696" stop-color="#fcf9c8"/><stop offset="0.8737" stop-color="#fdf9ce"/><stop offset="0.8758" stop-color="#faf59d"/><stop offset="0.8820" stop-color="#faf5a4"/><stop offset="0.8841" stop-color="#f8f27b"/><stop offset="0.8903" stop-color="#f9f27f"/><stop offset="0.8923" stop-color="#f8f065"/><stop offset="0.8986" stop-color="#f8f067"/><stop offset="0.9006" stop-color="#fffef7"/><stop offset="0.9068" stop-color="#fffffc"/><stop offset="0.9089" stop-color="#fcf8c3"/><stop offset="0.9151" stop-color="#fcf8c6"/><stop offset="0.9172" stop-color="#faf495"/><stop offset="0.9234" stop-color="#faf497"/><stop offset="0.9255" stop-color="#f8f171"/><stop offset="0.9317" stop-color="#f8f172"/><stop offset="0.9337" stop-color="#ffffff"/><stop offset="0.9400" stop-color="#ffffff"/><stop offset="0.9420" stop-color="#fdfbda"/><stop offset="0.9482" stop-color="#fdfbdc"/><stop offset="0.9503" stop-color="#fbf6a8"/><stop offset="0.9565" stop-color="#fbf6a9"/><stop offset="0.9586" stop-color="#f9f27d"/><stop offset="0.9648" stop-color="#f9f27e"/><stop offset="0.9669" stop-color="#ffffff"/><stop offset="0.9772" stop-color="#ffffff"/><stop offset="0.9793" stop-color="#f8f06b"/><stop offset="0.9814" stop-color="#f8f06b"/><stop offset="0.9834" stop-color="#f7ed44"/><stop offset="0.9896" stop-color="#f7ed44"/><stop offset="0.9917" stop-color="#f6eb26"/><stop offset="0.9979" stop-color="#f6eb27"/><stop offset="1.0000" stop-color="#ffffff"/></linearGradient>
<linearGradient id="g26" x1="0" y1="0" x2="0" y2="1"><stop offset="0.0000" stop-color="#ffffff"/><stop offset="0.3064" stop-color="#ffffff"/><stop offset="0.3085" stop-color="#fcf9c8"/><stop offset="0.3106" stop-color="#f8f172"/><stop offset="0.3126" stop-color="#f7ee4d"/><stop offset="0.3147" stop-color="#f7ef55"/><stop offset="0.3168" stop-color="#f9f38b"/><stop offset="0.3188" stop-color="#fdfbda"/><stop offset="0.3209" stop-color="#ffffff"/><stop offset="0.3395" stop-color="#ffffff"/><stop offset="0.3416" stop-color="#fefce5"/><stop offset="0.3437" stop-color="#faf5a2"/><stop offset="0.3458" stop-color="#f8f27a"/><stop offset="0.3478" stop-color="#faf497"/><stop offset="0.3499" stop-color="#fdfad0"/><stop offset="0.3520" stop-color="#fffef7"/><stop offset="0.3540" stop-color="#ffffff"/><stop offset="0.3540" stop-color="#ffffff"/><stop offset="0.3561" stop-color="#fffffb"/><stop offset="0.3582" stop-color="#fdfbdc"/><stop offset="0.3602" stop-color="#fbf5a6"/><stop offset="0.3623" stop-color="#f8f063"/><stop offset="0.3644" stop-color="#f7ec31"/><stop offset="0.3665" stop-color="#f6e916"/><stop offset="0.3685" stop-color="#f6eb29"/><stop offset="0.3706" stop-color="#f7ef5b"/><stop offset="0.3747" stop-color="#fefce6"/><stop offset="0.3768" stop-color="#ffffff"/><stop offset="0.3954" stop-color="#ffffff"/><stop offset="0.3975" stop-color="#f7ed3e"/><stop offset="0.3996" stop-color="#f7ed3f"/><stop offset="0.4017" stop-color="#f6eb22"/><stop offset="0.4079" stop-color="#f6eb23"/><stop offset="0.4099" stop-color="#f6e316"/><stop offset="0.4161" stop-color="#f6e316"/><stop offset="0.4182" stop-color="#f8f16d"/><stop offset="0.4244" stop-color="#f8f06c"/><stop offset="0.4265" stop-color="#ffffff"/><stop offset="0.4513" stop-color="#ffffff"/><stop offset="0.4534" stop-color="#fefce2"/><stop offset="0.4555" stop-color="#fbf7b8"/><stop offset="0.4576" stop-color="#f9f280"/><stop offset="0.4617" stop-color="#f6eb24"/><stop offset="0.4638" stop-color="#f7cf15"/><stop offset="0.4658" stop-color="#f7aa18"/><stop offset="0.4679" stop-color="#f6941d"/><stop offset="0.4700" stop-color="#f79e1b"/><stop offset="0.4741" stop-color="#f6e516"/><stop offset="0.4783" stop-color="#f8f06b"/><stop offset="0.4824" stop-color="#fdfad2"/><stop offset="0.4845" stop-color="#fffef8"/><stop offset="0.4865" stop-color="#ffffff"/><stop offset="0.6294" stop-color="#ffffff"/><stop offset="0.6315" stop-color="#fbf6a8"/><stop offset="0.6335" stop-color="#f8f173"/><stop offset="0.6398" stop-color="#f7ef5c"/><stop offset="0.6418" stop-color="#f7ed40"/><stop offset="0.6439" stop-color="#f7ec33"/><stop offset="0.6460" stop-color="#f7ef5a"/><stop offset="0.6501" stop-color="#f6e416"/><stop offset="0.6522" stop-color="#f79f1a"/><stop offset="0.6542" stop-color="#f68a1f"/><stop offset="0.6563" stop-color="#f5821f"/><stop offset="0.6625" stop-color="#f7a21a"/><stop offset="0.6667" stop-color="#f79f1a"/><stop offset="0.6687" stop-color="#f7a719"/><stop offset="0.6729" stop-color="#f5821f"/><stop offset="0.6770" stop-color="#ef3423"/><stop offset="0.6791" stop-color="#ee2f23"/><stop offset="0.6812" stop-color="#f14d22"/><stop offset="0.6853" stop-color="#f79e1b"/><stop offset="0.6894" stop-color="#f7d715"/><stop offset="0.6915" stop-color="#f6ea1a"/><stop offset="0.6936" stop-color="#f8b815"/><stop offset="0.6998" stop-color="#f7c615"/><stop offset="0.7019" stop-color="#f6eb23"/><stop offset="0.7081" stop-color="#f7ec31"/><stop offset="0.7101" stop-color="#fefce2"/><stop offset="0.7164" stop-color="#fffffe"/><stop offset="0.7184" stop-color="#ffffff"/><stop offset="0.7205" stop-color="#ffffff"/><stop offset="0.7226" stop-color="#f7ef53"/><stop offset="0.7246" stop-color="#f7ef53"/><stop offset="0.7267" stop-color="#fbf7b7"/><stop offset="0.7329" stop-color="#fbf5a6"/><stop offset="0.7350" stop-color="#f8f173"/><stop offset="0.7412" stop-color="#f7ef59"/><stop offset="0.7433" stop-color="#f8f27b"/><stop offset="0.7495" stop-color="#f6e516"/><stop offset="0.7536" stop-color="#f7a519"/><stop offset="0.7557" stop-color="#f79f1a"/><stop offset="0.7619" stop-color="#f6ea16"/><stop offset="0.7640" stop-color="#f6eb2a"/><stop offset="0.7660" stop-color="#f7ec31"/><stop offset="0.7702" stop-color="#f6eb1f"/><stop offset="0.7723" stop-color="#f6e216"/><stop offset="0.7764" stop-color="#f8b515"/><stop offset="0.7805" stop-color="#f46f20"/><stop offset="0.7826" stop-color="#f04522"/><stop offset="0.7847" stop-color="#ee2d23"/><stop offset="0.7867" stop-color="#ef3b23"/><stop offset="0.7909" stop-color="#f68d1f"/><stop offset="0.7971" stop-color="#f6e416"/><stop offset="0.7992" stop-color="#f6ec2c"/><stop offset="0.8012" stop-color="#f6891f"/><stop offset="0.8075" stop-color="#f6901e"/><stop offset="0.8116" stop-color="#f6881f"/><stop offset="0.8157" stop-color="#f68a1f"/><stop offset="0.8178" stop-color="#f5801f"/><stop offset="0.8199" stop-color="#f5811f"/><stop offset="0.8219" stop-color="#f6ea1a"/><stop offset="0.8240" stop-color="#f6ea1c"/><stop offset="0.8261" stop-color="#f6e016"/><stop offset="0.8323" stop-color="#f6e216"/><stop offset="0.8344" stop-color="#f7d615"/><stop offset="0.8406" stop-color="#f7d615"/><stop offset="0.8427" stop-color="#f7ee47"/><stop offset="0.8489" stop-color="#f7ee49"/><stop offset="0.8509" stop-color="#f6ec2a"/><stop offset="0.8571" stop-color="#f6ec2b"/><stop offset="0.8592" stop-color="#f6e816"/><stop offset="0.8634" stop-color="#f6e816"/><stop offset="0.8654" stop-color="#ffffff"/><stop offset="0.8737" stop-color="#ffffff"/><stop offset="0.8758" stop-color="#fdfad0"/><stop offset="0.8820" stop-color="#fdfad2"/><stop offset="0.8841" stop-color="#faf59f"/><stop offset="0.8903" stop-color="#faf5a0"/><stop offset="0.8923" stop-color="#f8f176"/><stop offset="0.8986" stop-color="#f8f177"/><stop offset="0.9006" stop-color="#ffffff"/><stop offset="0.9068" stop-color="#ffffff"/><stop offset="0.9089" stop-color="#fefce2"/><stop offset="0.9151" stop-color="#fefce3"/><stop offset="0.9172" stop-color="#fbf6ad"/><stop offset="0.9234" stop-color="#fbf6ae"/><stop offset="0.9255" stop-color="#f9f281"/><stop offset="0.9317" stop-color="#f9f281"/><stop offset="0.9337" stop-color="#ffffff"/><stop offset="0.9400" stop-color="#ffffff"/><stop offset="0.9420" stop-color="#fefdf1"/><stop offset="0.9482" stop-color="#fefdf2"/><stop offset="0.9503" stop-color="#fcf7ba"/><stop offset="0.9565" stop-color="#fcf7ba"/><stop offset="0.9586" stop-color="#f9f38a"/><stop offset="0.9648" stop-color="#f9f38b"/><stop offset="0.9669" stop-color="#ffffff"/><stop offset="1.0000" stop-color="#ffffff"/></linearGradient>
<linearGradient id="g27" x1="0" y1="0" x2="0" y2="1"><stop offset="0.0000" stop-color="#ffffff"/><stop offset="0.1946" stop-color="#ffffff"/><stop offset="0.1967" stop-color="#fefce3"/><stop offset="0.1988" stop-color="#faf59f"/><stop offset="0.2008" stop-color="#faf497"/><stop offset="0.2029" stop-color="#fdfad4"/><stop offset="0.2050" stop-color="#ffffff"/><stop offset="0.2733" stop-color="#ffffff"/><stop offset="0.2754" stop-color="#fdfad1"/><stop offset="0.2774" stop-color="#f9f38b"/><stop offset="0.2795" stop-color="#f8f16f"/><stop offset="0.2816" stop-color="#f9f38b"/><stop offset="0.2836" stop-color="#fbf7b2"/><stop offset="0.2857" stop-color="#fcf7ba"/><stop offset="0.2878" stop-color="#faf59f"/><stop offset="0.2919" stop-color="#f7ed3c"/><stop offset="0.2940" stop-color="#f6e916"/><stop offset="0.2961" stop-color="#f6e916"/><stop offset="0.3023" stop-color="#f9f38c"/><stop offset="0.3043" stop-color="#faf59b"/><stop offset="0.3064" stop-color="#f9f388"/><stop offset="0.3106" stop-color="#f7ec35"/><stop offset="0.3126" stop-color="#f6e816"/><stop offset="0.3147" stop-color="#f6ea1c"/><stop offset="0.3168" stop-color="#f7ee4a"/><stop offset="0.3188" stop-color="#f9f385"/><stop offset="0.3209" stop-color="#fdf9cf"/><stop offset="0.3230" stop-color="#ffffff"/><stop offset="0.3872" stop-color="#ffffff"/><stop offset="0.3892" stop-color="#fdfad1"/><stop offset="0.3913" stop-color="#f9f387"/><stop offset="0.3954" stop-color="#f6ea16"/><stop offset="0.3975" stop-color="#f7d915"/><stop offset="0.3996" stop-color="#f6ea16"/><stop offset="0.4037" stop-color="#f9f388"/><stop offset="0.4058" stop-color="#fdfad2"/><stop offset="0.4079" stop-color="#ffffff"/><stop offset="0.4576" stop-color="#ffffff"/><stop offset="0.4596" stop-color="#fefdeb"/><stop offset="0.4617" stop-color="#fbf5a6"/><stop offset="0.4638" stop-color="#f9f38e"/><stop offset="0.4679" stop-color="#ffffff"/><stop offset="0.6356" stop-color="#ffffff"/><stop offset="0.6377" stop-color="#f7ec32"/><stop offset="0.6398" stop-color="#f7ec30"/><stop offset="0.6418" stop-color="#f6e916"/><stop offset="0.6480" stop-color="#f6e216"/><stop offset="0.6501" stop-color="#f7d315"/><stop offset="0.6563" stop-color="#f7c915"/><stop offset="0.6605" stop-color="#f8b615"/><stop offset="0.6667" stop-color="#f79e1b"/><stop offset="0.6687" stop-color="#f8b615"/><stop offset="0.6729" stop-color="#f57e20"/><stop offset="0.6770" stop-color="#ee2b23"/><stop offset="0.6791" stop-color="#d31e25"/><stop offset="0.6812" stop-color="#c61e25"/><stop offset="0.6832" stop-color="#de1e24"/><stop offset="0.6853" stop-color="#ef3923"/><stop offset="0.6874" stop-color="#f36321"/><stop offset="0.6894" stop-color="#f04522"/><stop offset="0.6915" stop-color="#f15322"/><stop offset="0.6936" stop-color="#f47420"/><stop offset="0.6957" stop-color="#f57d20"/><stop offset="0.6977" stop-color="#f6e516"/><stop offset="0.7081" stop-color="#f8f178"/><stop offset="0.7164" stop-color="#fdfad4"/><stop offset="0.7226" stop-color="#ffffff"/><stop offset="0.7288" stop-color="#ffffff"/><stop offset="0.7308" stop-color="#fdfad5"/><stop offset="0.7329" stop-color="#fdfbdb"/><stop offset="0.7350" stop-color="#fbf6ab"/><stop offset="0.7412" stop-color="#fbf7b7"/><stop offset="0.7433" stop-color="#f9f38a"/><stop offset="0.7495" stop-color="#f9f491"/><stop offset="0.7516" stop-color="#f8f16e"/><stop offset="0.7578" stop-color="#f8f170"/><stop offset="0.7598" stop-color="#ffffff"/><stop offset="0.7660" stop-color="#ffffff"/><stop offset="0.7681" stop-color="#fdfbd9"/><stop offset="0.7702" stop-color="#ffffff"/><stop offset="0.8033" stop-color="#ffffff"/><stop offset="0.8054" stop-color="#f8f069"/><stop offset="0.8075" stop-color="#f8f069"/><stop offset="0.8095" stop-color="#f7ed41"/><stop offset="0.8157" stop-color="#f7ed3f"/><stop offset="0.8178" stop-color="#f6eb22"/><stop offset="0.8199" stop-color="#f6eb21"/><stop offset="0.8219" stop-color="#ffffff"/><stop offset="0.8323" stop-color="#ffffff"/><stop offset="0.8344" stop-color="#fefef5"/><stop offset="0.8385" stop-color="#fbf7b4"/><stop offset="0.8406" stop-color="#f9f388"/><stop offset="0.8427" stop-color="#f5841f"/><stop offset="0.8489" stop-color="#f46e20"/><stop offset="0.8530" stop-color="#f04422"/><stop offset="0.8551" stop-color="#ef3a23"/><stop offset="0.8634" stop-color="#f36921"/><stop offset="0.8654" stop-color="#f46f20"/><stop offset="0.8675" stop-color="#f8c214"/><stop offset="0.8737" stop-color="#f7cf15"/><stop offset="0.8758" stop-color="#f7ec37"/><stop offset="0.8820" stop-color="#f7ed43"/><stop offset="0.8841" stop-color="#f6eb28"/><stop offset="0.8903" stop-color="#f6ec2c"/><stop offset="0.8923" stop-color="#f6e916"/><stop offset="0.8986" stop-color="#f6ea16"/><stop offset="0.9006" stop-color="#f7dc15"/><stop offset="0.9068" stop-color="#f7dd15"/><stop offset="0.9089" stop-color="#f7ef5a"/><stop offset="0.9151" stop-color="#f7ef5b"/><stop offset="0.9172" stop-color="#f7ed38"/><stop offset="0.9193" stop-color="#fbf6a7"/><stop offset="0.9234" stop-color="#fbf6a9"/><stop offset="0.9255" stop-color="#f8f27d"/><stop offset="0.9317" stop-color="#f9f27e"/><stop offset="0.9337" stop-color="#ffffff"/><stop offset="0.9400" stop-color="#ffffff"/><stop offset="0.9420" stop-color="#fefdee"/><stop offset="0.9482" stop-color="#fefdef"/><stop offset="0.9503" stop-color="#ffffff"/><stop offset="1.0000" stop-color="#ffffff"/></linearGradient>
<linearGradient id="g28" x1="0" y1="0" x2="0" y2="1"><stop offset="0.0000" stop-color="#ffffff"/><stop offset="0.1781" stop-color="#ffffff"/><stop offset="0.1801" stop-color="#fcf9cd"/><stop offset="0.1822" stop-color="#f9f282"/><stop offset="0.1843" stop-color="#f7ee47"/><stop offset="0.1863" stop-color="#f6e816"/><stop offset="0.1884" stop-color="#f7d815"/><stop offset="0.1905" stop-color="#f6ea16"/><stop offset="0.1946" stop-color="#f8f27d"/><stop offset="0.1967" stop-color="#fcf7bc"/><stop offset="0.1988" stop-color="#fdfbdf"/><stop offset="0.2008" stop-color="#fefdeb"/><stop offset="0.2029" stop-color="#fdfbdd"/><stop offset="0.2050" stop-color="#fbf7b5"/><stop offset="0.2070" stop-color="#f9f281"/><stop offset="0.2091" stop-color="#f8f27d"/><stop offset="0.2133" stop-color="#fffef9"/><stop offset="0.2153" stop-color="#ffffff"/><stop offset="0.2547" stop-color="#ffffff"/><stop offset="0.2567" stop-color="#fffef6"/><stop offset="0.2588" stop-color="#fcf8c1"/><stop offset="0.2609" stop-color="#f8f177"/><stop offset="0.2629" stop-color="#f7ed41"/><stop offset="0.2650" stop-color="#f6e216"/><stop offset="0.2671" stop-color="#f7cc15"/><stop offset="0.2692" stop-color="#f7d615"/><stop offset="0.2712" stop-color="#f6ec2a"/><stop offset="0.2733" stop-color="#f8f061"/><stop offset="0.2774" stop-color="#fefce3"/><stop offset="0.2795" stop-color="#ffffff"/><stop offset="0.2981" stop-color="#ffffff"/><stop offset="0.3002" stop-color="#f6ea16"/><stop offset="0.3064" stop-color="#f6ea16"/><stop offset="0.3085" stop-color="#f7dc15"/><stop offset="0.3147" stop-color="#f7dc15"/><stop offset="0.3168" stop-color="#ffffff"/><stop offset="0.3540" stop-color="#ffffff"/><stop offset="0.3561" stop-color="#f8ef5f"/><stop offset="0.3582" stop-color="#f8ef5e"/><stop offset="0.3602" stop-color="#f7ed3a"/><stop offset="0.3665" stop-color="#f7ed39"/><stop offset="0.3685" stop-color="#f6eb1d"/><stop offset="0.3747" stop-color="#f6ea1c"/><stop offset="0.3768" stop-color="#f6df16"/><stop offset="0.3830" stop-color="#f7dc15"/><stop offset="0.3851" stop-color="#f7ee4f"/><stop offset="0.3872" stop-color="#f7ee46"/><stop offset="0.3892" stop-color="#fdf9cf"/><stop offset="0.3913" stop-color="#f9f385"/><stop offset="0.3954" stop-color="#f6e916"/><stop offset="0.3975" stop-color="#f7d915"/><stop offset="0.3996" stop-color="#f6ea16"/><stop offset="0.4037" stop-color="#f9f384"/><stop offset="0.4058" stop-color="#fcf9cc"/><stop offset="0.4079" stop-color="#ffffff"/><stop offset="0.4265" stop-color="#ffffff"/><stop offset="0.4286" stop-color="#fffffd"/><stop offset="0.4306" stop-color="#fcf8bd"/><stop offset="0.4327" stop-color="#f9f388"/><stop offset="0.4348" stop-color="#faf498"/><stop offset="0.4369" stop-color="#fdfbdb"/><stop offset="0.4389" stop-color="#ffffff"/><stop offset="0.5963" stop-color="#ffffff"/><stop offset="0.5983" stop-color="#fcf8bf"/><stop offset="0.6004" stop-color="#f9f38b"/><stop offset="0.6066" stop-color="#f9f282"/><stop offset="0.6087" stop-color="#f8f064"/><stop offset="0.6149" stop-color="#f8ef5e"/><stop offset="0.6170" stop-color="#f7ee4a"/><stop offset="0.6232" stop-color="#f7ed43"/><stop offset="0.6253" stop-color="#f9f283"/><stop offset="0.6315" stop-color="#f8f06c"/><stop offset="0.6335" stop-color="#f7ef53"/><stop offset="0.6398" stop-color="#f7ed3f"/><stop offset="0.6418" stop-color="#f6ec2b"/><stop offset="0.6439" stop-color="#f6eb23"/><stop offset="0.6460" stop-color="#f7cf15"/><stop offset="0.6563" stop-color="#f7aa18"/><stop offset="0.6646" stop-color="#f47620"/><stop offset="0.6667" stop-color="#f36321"/><stop offset="0.6687" stop-color="#f25b21"/><stop offset="0.6708" stop-color="#ef3823"/><stop offset="0.6729" stop-color="#e01e24"/><stop offset="0.6770" stop-color="#83171b"/><stop offset="0.6791" stop-color="#7c161a"/><stop offset="0.6832" stop-color="#d51e25"/><stop offset="0.6853" stop-color="#b91d24"/><stop offset="0.6915" stop-color="#da1e24"/><stop offset="0.6936" stop-color="#ee2a23"/><stop offset="0.6957" stop-color="#f46f20"/><stop offset="0.6998" stop-color="#f57d20"/><stop offset="0.7039" stop-color="#f57c20"/><stop offset="0.7081" stop-color="#f5821f"/><stop offset="0.7101" stop-color="#f7ee48"/><stop offset="0.7205" stop-color="#f9f490"/><stop offset="0.7226" stop-color="#f7d715"/><stop offset="0.7246" stop-color="#f7d915"/><stop offset="0.7267" stop-color="#f7cf15"/><stop offset="0.7329" stop-color="#f7d215"/><stop offset="0.7350" stop-color="#fefce9"/><stop offset="0.7371" stop-color="#f8f27c"/><stop offset="0.7412" stop-color="#f9f386"/><stop offset="0.7433" stop-color="#f8f06a"/><stop offset="0.7495" stop-color="#f8f16f"/><stop offset="0.7516" stop-color="#f8ef5c"/><stop offset="0.7578" stop-color="#f8ef5f"/><stop offset="0.7598" stop-color="#fdfbde"/><stop offset="0.7660" stop-color="#fefce3"/><stop offset="0.7681" stop-color="#fbf6ae"/><stop offset="0.7702" stop-color="#f7ef52"/><stop offset="0.7743" stop-color="#f7ef52"/><stop offset="0.7764" stop-color="#f7ec31"/><stop offset="0.7826" stop-color="#f7ec30"/><stop offset="0.7847" stop-color="#f6ea17"/><stop offset="0.7909" stop-color="#f6e916"/><stop offset="0.7930" stop-color="#ffffff"/><stop offset="0.7992" stop-color="#ffffff"/><stop offset="0.8075" stop-color="#fcf8c5"/><stop offset="0.8199" stop-color="#f6ec2c"/><stop offset="0.8219" stop-color="#f6e416"/><stop offset="0.8282" stop-color="#f68a1f"/><stop offset="0.8323" stop-color="#f03d23"/><stop offset="0.8344" stop-color="#f03d23"/><stop offset="0.8406" stop-color="#f7ac17"/><stop offset="0.8427" stop-color="#f7c915"/><stop offset="0.8447" stop-color="#f8c114"/><stop offset="0.8489" stop-color="#f7d715"/><stop offset="0.8530" stop-color="#f7d715"/><stop offset="0.8571" stop-color="#f7dd15"/><stop offset="0.8592" stop-color="#f7d215"/><stop offset="0.8654" stop-color="#f7d315"/><stop offset="0.8675" stop-color="#f7c815"/><stop offset="0.8696" stop-color="#f9f385"/><stop offset="0.8737" stop-color="#f8f067"/><stop offset="0.8758" stop-color="#f5851f"/><stop offset="0.8820" stop-color="#f57a20"/><stop offset="0.8841" stop-color="#f36b20"/><stop offset="0.8861" stop-color="#f8b515"/><stop offset="0.8903" stop-color="#f46e20"/><stop offset="0.8923" stop-color="#f04622"/><stop offset="0.8944" stop-color="#ef3723"/><stop offset="0.8965" stop-color="#f14e22"/><stop offset="0.9006" stop-color="#f7971c"/><stop offset="0.9027" stop-color="#f7ae17"/><stop offset="0.9048" stop-color="#f8b914"/><stop offset="0.9068" stop-color="#f8b615"/><stop offset="0.9110" stop-color="#f68f1e"/><stop offset="0.9130" stop-color="#f68a1f"/><stop offset="0.9151" stop-color="#f7a11a"/><stop offset="0.9172" stop-color="#f8c214"/><stop offset="0.9213" stop-color="#f6e316"/><stop offset="0.9275" stop-color="#f7ec33"/><stop offset="0.9317" stop-color="#f7ed44"/><stop offset="0.9337" stop-color="#faf5a0"/><stop offset="0.9400" stop-color="#fcf9c9"/><stop offset="0.9420" stop-color="#faf59f"/><stop offset="0.9482" stop-color="#fbf7b2"/><stop offset="0.9503" stop-color="#f9f388"/><stop offset="0.9565" stop-color="#faf491"/><stop offset="0.9586" stop-color="#ffffff"/><stop offset="1.0000" stop-color="#ffffff"/></linearGradient>
<linearGradient id="g29" x1="0" y1="0" x2="0" y2="1"><stop offset="0.0000" stop-color="#ffffff"/><stop offset="0.0062" stop-color="#fffef7"/><stop offset="0.0083" stop-color="#fffef7"/><stop offset="0.0104" stop-color="#fcf8be"/><stop offset="0.0166" stop-color="#fcf8be"/><stop offset="0.0186" stop-color="#f9f38d"/><stop offset="0.0248" stop-color="#f9f38d"/><stop offset="0.0269" stop-color="#f8f06b"/><stop offset="0.0331" stop-color="#f8f06b"/><stop offset="0.0352" stop-color="#ffffff"/><stop offset="0.0414" stop-color="#ffffff"/><stop offset="0.0435" stop-color="#fcf9c7"/><stop offset="0.0497" stop-color="#fcf8c7"/><stop offset="0.0518" stop-color="#faf495"/><stop offset="0.0580" stop-color="#faf494"/><stop offset="0.0600" stop-color="#f8f16f"/><stop offset="0.0663" stop-color="#f8f16f"/><stop offset="0.0683" stop-color="#ffffff"/><stop offset="0.0745" stop-color="#ffffff"/><stop offset="0.0766" stop-color="#fdf9d0"/><stop offset="0.0828" stop-color="#fdf9cf"/><stop offset="0.0849" stop-color="#faf59c"/><stop offset="0.0911" stop-color="#faf59c"/><stop offset="0.0932" stop-color="#f8f172"/><stop offset="0.0994" stop-color="#f8f172"/><stop offset="0.1014" stop-color="#ffffff"/><stop offset="0.1077" stop-color="#ffffff"/><stop offset="0.1097" stop-color="#fdfad8"/><stop offset="0.1139" stop-color="#fdfad7"/><stop offset="0.1159" stop-color="#ffffff"/><stop offset="0.1366" stop-color="#ffffff"/><stop offset="0.1387" stop-color="#f7de15"/><stop offset="0.1408" stop-color="#f7de15"/><stop offset="0.1429" stop-color="#f7ef5c"/><stop offset="0.1491" stop-color="#f7ef5b"/><stop offset="0.1511" stop-color="#f7ed38"/><stop offset="0.1573" stop-color="#f7ed38"/><stop offset="0.1594" stop-color="#f6eb1d"/><stop offset="0.1615" stop-color="#ffffff"/><stop offset="0.2091" stop-color="#ffffff"/><stop offset="0.2112" stop-color="#fefce6"/><stop offset="0.2133" stop-color="#fcf7bb"/><stop offset="0.2153" stop-color="#f9f280"/><stop offset="0.2195" stop-color="#f6eb20"/><stop offset="0.2215" stop-color="#f7cb15"/><stop offset="0.2236" stop-color="#f7ab17"/><stop offset="0.2257" stop-color="#f7a519"/><stop offset="0.2277" stop-color="#f8bf14"/><stop offset="0.2298" stop-color="#f6e416"/><stop offset="0.2340" stop-color="#f6eb1f"/><stop offset="0.2402" stop-color="#f7ee45"/><stop offset="0.2422" stop-color="#faf5a1"/><stop offset="0.2484" stop-color="#fcf8c3"/><stop offset="0.2505" stop-color="#faf496"/><stop offset="0.2567" stop-color="#faf59f"/><stop offset="0.2588" stop-color="#f8f176"/><stop offset="0.2650" stop-color="#f8f178"/><stop offset="0.2671" stop-color="#f8f061"/><stop offset="0.2733" stop-color="#f8f060"/><stop offset="0.2754" stop-color="#fdfbdf"/><stop offset="0.2816" stop-color="#fdfbda"/><stop offset="0.2836" stop-color="#faf5a3"/><stop offset="0.2899" stop-color="#faf59b"/><stop offset="0.2919" stop-color="#f8f170"/><stop offset="0.2981" stop-color="#f8f06a"/><stop offset="0.3002" stop-color="#f7ef54"/><stop offset="0.3064" stop-color="#f7ee4b"/><stop offset="0.3085" stop-color="#faf497"/><stop offset="0.3126" stop-color="#f8f27b"/><stop offset="0.3147" stop-color="#fbf6ad"/><stop offset="0.3209" stop-color="#f8f062"/><stop offset="0.3230" stop-color="#f7ee4c"/><stop offset="0.3251" stop-color="#f47720"/><stop offset="0.3313" stop-color="#f36521"/><stop offset="0.3333" stop-color="#f25921"/><stop offset="0.3375" stop-color="#ee2b23"/><stop offset="0.3395" stop-color="#df1e24"/><stop offset="0.3416" stop-color="#d11e25"/><stop offset="0.3458" stop-color="#ee2624"/><stop offset="0.3499" stop-color="#f14d22"/><stop offset="0.3520" stop-color="#f46d20"/><stop offset="0.3582" stop-color="#f5821f"/><stop offset="0.3623" stop-color="#f57e20"/><stop offset="0.3644" stop-color="#f8f06b"/><stop offset="0.3706" stop-color="#fbf6a7"/><stop offset="0.3727" stop-color="#f7dc15"/><stop offset="0.3747" stop-color="#f7dd15"/><stop offset="0.3768" stop-color="#f7d215"/><stop offset="0.3830" stop-color="#f7d415"/><stop offset="0.3851" stop-color="#f7ed3e"/><stop offset="0.3913" stop-color="#f7ed3e"/><stop offset="0.3934" stop-color="#f6eb21"/><stop offset="0.3996" stop-color="#f6eb1d"/><stop offset="0.4017" stop-color="#f6df16"/><stop offset="0.4058" stop-color="#f7db15"/><stop offset="0.4079" stop-color="#f9f388"/><stop offset="0.4161" stop-color="#f7ed39"/><stop offset="0.4182" stop-color="#f6eb20"/><stop offset="0.4224" stop-color="#f8c314"/><stop offset="0.4265" stop-color="#f5821f"/><stop offset="0.4286" stop-color="#f25a21"/><stop offset="0.4306" stop-color="#f04322"/><stop offset="0.4327" stop-color="#f15322"/><stop offset="0.4369" stop-color="#f79b1b"/><stop offset="0.4389" stop-color="#f25e21"/><stop offset="0.4410" stop-color="#f36521"/><stop offset="0.4493" stop-color="#f36421"/><stop offset="0.4513" stop-color="#f57b20"/><stop offset="0.4534" stop-color="#f47820"/><stop offset="0.4555" stop-color="#f8be14"/><stop offset="0.4617" stop-color="#f5811f"/><stop offset="0.4658" stop-color="#ef3b23"/><stop offset="0.4679" stop-color="#df1e24"/><stop offset="0.4700" stop-color="#b81d24"/><stop offset="0.4720" stop-color="#a81b21"/><stop offset="0.4762" stop-color="#ed2024"/><stop offset="0.4803" stop-color="#f46f20"/><stop offset="0.4824" stop-color="#f68e1e"/><stop offset="0.4845" stop-color="#f6871f"/><stop offset="0.4907" stop-color="#f7a718"/><stop offset="0.4928" stop-color="#f7c915"/><stop offset="0.4990" stop-color="#f6df16"/><stop offset="0.5010" stop-color="#f7d715"/><stop offset="0.5072" stop-color="#f6e116"/><stop offset="0.5093" stop-color="#f7d715"/><stop offset="0.5155" stop-color="#f7dc15"/><stop offset="0.5176" stop-color="#fefce5"/><stop offset="0.5217" stop-color="#fffffd"/><stop offset="0.5238" stop-color="#ffffff"/><stop offset="0.7081" stop-color="#ffffff"/><stop offset="0.7101" stop-color="#f9f284"/><stop offset="0.7164" stop-color="#f8f279"/><stop offset="0.7184" stop-color="#f8ef5f"/><stop offset="0.7246" stop-color="#f7ef54"/><stop offset="0.7267" stop-color="#fbf6af"/><stop offset="0.7329" stop-color="#f8f172"/><stop offset="0.7350" stop-color="#f7ee4f"/><stop offset="0.7391" stop-color="#f6eb27"/><stop offset="0.7412" stop-color="#f6eb24"/><stop offset="0.7433" stop-color="#f7d815"/><stop offset="0.7495" stop-color="#f36c20"/><stop offset="0.7516" stop-color="#f25621"/><stop offset="0.7536" stop-color="#f36821"/><stop offset="0.7598" stop-color="#f7d315"/><stop offset="0.7619" stop-color="#f6ea1c"/><stop offset="0.7640" stop-color="#f8bc14"/><stop offset="0.7660" stop-color="#f8c314"/><stop offset="0.7681" stop-color="#f6eb1e"/><stop offset="0.7743" stop-color="#f7ec30"/><stop offset="0.7764" stop-color="#f6ea18"/><stop offset="0.7826" stop-color="#f6e816"/><stop offset="0.7847" stop-color="#f7d715"/><stop offset="0.7867" stop-color="#f8f065"/><stop offset="0.7909" stop-color="#f6eb29"/><stop offset="0.7930" stop-color="#f7db15"/><stop offset="0.7971" stop-color="#f79e1b"/><stop offset="0.7992" stop-color="#f7971c"/><stop offset="0.8033" stop-color="#f8b016"/><stop offset="0.8054" stop-color="#f7a818"/><stop offset="0.8095" stop-color="#f57d20"/><stop offset="0.8116" stop-color="#f6891f"/><stop offset="0.8157" stop-color="#f7cc15"/><stop offset="0.8178" stop-color="#f8bc14"/><stop offset="0.8240" stop-color="#f7d915"/><stop offset="0.8261" stop-color="#f7d115"/><stop offset="0.8323" stop-color="#f7d715"/><stop offset="0.8344" stop-color="#f7cd15"/><stop offset="0.8406" stop-color="#f7cc15"/><stop offset="0.8427" stop-color="#fcf7ba"/><stop offset="0.8489" stop-color="#f7ee4c"/><stop offset="0.8509" stop-color="#f6eb1f"/><stop offset="0.8530" stop-color="#f7cd15"/><stop offset="0.8551" stop-color="#f7ad17"/><stop offset="0.8571" stop-color="#f7a319"/><stop offset="0.8592" stop-color="#f8ba14"/><stop offset="0.8613" stop-color="#f6df16"/><stop offset="0.8634" stop-color="#f6de16"/><stop offset="0.8654" stop-color="#f6eb1f"/><stop offset="0.8675" stop-color="#f8f064"/><stop offset="0.8737" stop-color="#fbf6af"/><stop offset="0.8758" stop-color="#f9f38f"/><stop offset="0.8820" stop-color="#fbf6aa"/><stop offset="0.8841" stop-color="#f9f282"/><stop offset="0.8903" stop-color="#f9f38c"/><stop offset="0.8923" stop-color="#f8f06c"/><stop offset="0.8986" stop-color="#f8f16f"/><stop offset="0.9006" stop-color="#ffffff"/><stop offset="0.9151" stop-color="#ffffff"/><stop offset="0.9172" stop-color="#fbf6a6"/><stop offset="0.9234" stop-color="#fbf6a8"/><stop offset="0.9255" stop-color="#f8f27d"/><stop offset="0.9317" stop-color="#f9f27e"/><stop offset="0.9337" stop-color="#ffffff"/><stop offset="0.9400" stop-color="#ffffff"/><stop offset="0.9420" stop-color="#fefded"/><stop offset="0.9482" stop-color="#fefdee"/><stop offset="0.9503" stop-color="#fbf7b7"/><stop offset="0.9565" stop-color="#fbf7b8"/><stop offset="0.9586" stop-color="#f9f388"/><stop offset="0.9648" stop-color="#f9f389"/><stop offset="0.9669" stop-color="#ffffff"/><stop offset="0.9731" stop-color="#ffffff"/><stop offset="0.9814" stop-color="#fffffe"/><stop offset="0.9834" stop-color="#fcf8c4"/><stop offset="0.9896" stop-color="#fcf8c4"/><stop offset="0.9917" stop-color="#faf492"/><stop offset="1.0000" stop-color="#faf493"/></linearGradient>
<linearGradient id="g30" x1="0" y1="0" x2="0" y2="1"><stop offset="0.0000" stop-color="#ffffff"/><stop offset="0.0745" stop-color="#ffffff"/><stop offset="0.0787" stop-color="#faf493"/><stop offset="0.0807" stop-color="#fbf6a9"/><stop offset="0.0828" stop-color="#fefdef"/><stop offset="0.0849" stop-color="#ffffff"/><stop offset="0.1077" stop-color="#ffffff"/><stop offset="0.1097" stop-color="#fdfad7"/><stop offset="0.1159" stop-color="#fdfad7"/><stop offset="0.1180" stop-color="#faf5a3"/><stop offset="0.1242" stop-color="#faf5a3"/><stop offset="0.1263" stop-color="#f8f178"/><stop offset="0.1325" stop-color="#f8f178"/><stop offset="0.1346" stop-color="#ffffff"/><stop offset="0.1408" stop-color="#ffffff"/><stop offset="0.1429" stop-color="#fefce1"/><stop offset="0.1491" stop-color="#fdfbe1"/><stop offset="0.1511" stop-color="#fbf6ab"/><stop offset="0.1573" stop-color="#fbf6aa"/><stop offset="0.1594" stop-color="#f9f27d"/><stop offset="0.1615" stop-color="#ffffff"/><stop offset="0.1739" stop-color="#ffffff"/><stop offset="0.1760" stop-color="#fefce4"/><stop offset="0.1822" stop-color="#fdfbe0"/><stop offset="0.1843" stop-color="#fbf6a9"/><stop offset="0.1905" stop-color="#faf5a4"/><stop offset="0.1925" stop-color="#f8f177"/><stop offset="0.1988" stop-color="#f8f170"/><stop offset="0.2008" stop-color="#ffffff"/><stop offset="0.2029" stop-color="#ffffff"/><stop offset="0.2070" stop-color="#fefce6"/><stop offset="0.2091" stop-color="#faf5a0"/><stop offset="0.2153" stop-color="#f8ef5c"/><stop offset="0.2174" stop-color="#f7ec33"/><stop offset="0.2195" stop-color="#f6e716"/><stop offset="0.2215" stop-color="#f7db15"/><stop offset="0.2236" stop-color="#f8b715"/><stop offset="0.2257" stop-color="#f7a419"/><stop offset="0.2277" stop-color="#f8b216"/><stop offset="0.2298" stop-color="#f7d515"/><stop offset="0.2340" stop-color="#f6ea17"/><stop offset="0.2381" stop-color="#f7ed39"/><stop offset="0.2402" stop-color="#f7ed43"/><stop offset="0.2422" stop-color="#faf5a0"/><stop offset="0.2484" stop-color="#fcf8c6"/><stop offset="0.2505" stop-color="#faf499"/><stop offset="0.2567" stop-color="#faf5a3"/><stop offset="0.2588" stop-color="#f8f27a"/><stop offset="0.2650" stop-color="#f8f27b"/><stop offset="0.2671" stop-color="#f8f062"/><stop offset="0.2733" stop-color="#f8f061"/><stop offset="0.2754" stop-color="#fdfbe0"/><stop offset="0.2816" stop-color="#fdfad6"/><stop offset="0.2836" stop-color="#faf59d"/><stop offset="0.2899" stop-color="#f9f38b"/><stop offset="0.2919" stop-color="#f8f066"/><stop offset="0.2981" stop-color="#f7ef53"/><stop offset="0.3002" stop-color="#f7ed3a"/><stop offset="0.3064" stop-color="#f6e716"/><stop offset="0.3085" stop-color="#f6ec2a"/><stop offset="0.3106" stop-color="#f7dc15"/><stop offset="0.3168" stop-color="#f47020"/><stop offset="0.3188" stop-color="#f25721"/><stop offset="0.3209" stop-color="#f36521"/><stop offset="0.3271" stop-color="#f7d315"/><stop offset="0.3292" stop-color="#f6eb1e"/><stop offset="0.3313" stop-color="#f57920"/><stop offset="0.3333" stop-color="#f57d20"/><stop offset="0.3375" stop-color="#f47820"/><stop offset="0.3416" stop-color="#f57a20"/><stop offset="0.3458" stop-color="#f47220"/><stop offset="0.3499" stop-color="#f47320"/><stop offset="0.3520" stop-color="#f6911d"/><stop offset="0.3582" stop-color="#f6921d"/><stop offset="0.3623" stop-color="#f6881f"/><stop offset="0.3665" stop-color="#f6881f"/><stop offset="0.3706" stop-color="#f57e20"/><stop offset="0.3727" stop-color="#ffffff"/><stop offset="0.3747" stop-color="#ffffff"/><stop offset="0.3768" stop-color="#f7d815"/><stop offset="0.3830" stop-color="#f7d415"/><stop offset="0.3851" stop-color="#f7ed3a"/><stop offset="0.3913" stop-color="#f6ea19"/><stop offset="0.3934" stop-color="#f7ed42"/><stop offset="0.3954" stop-color="#f6ea1b"/><stop offset="0.3996" stop-color="#f7ab18"/><stop offset="0.4017" stop-color="#f6851f"/><stop offset="0.4037" stop-color="#f36b20"/><stop offset="0.4058" stop-color="#f47620"/><stop offset="0.4120" stop-color="#f6e016"/><stop offset="0.4161" stop-color="#f7ef54"/><stop offset="0.4182" stop-color="#f8f171"/><stop offset="0.4203" stop-color="#f7ec30"/><stop offset="0.4244" stop-color="#f7ed40"/><stop offset="0.4265" stop-color="#f6eb27"/><stop offset="0.4327" stop-color="#f6ec2d"/><stop offset="0.4348" stop-color="#f6e916"/><stop offset="0.4410" stop-color="#f6e816"/><stop offset="0.4431" stop-color="#f7d915"/><stop offset="0.4493" stop-color="#f7d215"/><stop offset="0.4513" stop-color="#f6ec2d"/><stop offset="0.4534" stop-color="#f6eb1e"/><stop offset="0.4555" stop-color="#f7ed3a"/><stop offset="0.4576" stop-color="#f6e716"/><stop offset="0.4638" stop-color="#f57d20"/><stop offset="0.4658" stop-color="#f36a21"/><stop offset="0.4679" stop-color="#f57e20"/><stop offset="0.4700" stop-color="#f7a319"/><stop offset="0.4720" stop-color="#f7a818"/><stop offset="0.4741" stop-color="#f8bc14"/><stop offset="0.4824" stop-color="#f7d615"/><stop offset="0.4845" stop-color="#fdfad5"/><stop offset="0.4865" stop-color="#fefef2"/><stop offset="0.4886" stop-color="#ffffff"/><stop offset="0.4928" stop-color="#ffffff"/><stop offset="0.4948" stop-color="#faf59d"/><stop offset="0.4990" stop-color="#fbf6aa"/><stop offset="0.5010" stop-color="#f9f282"/><stop offset="0.5072" stop-color="#f9f38b"/><stop offset="0.5093" stop-color="#ffffff"/><stop offset="0.7516" stop-color="#ffffff"/><stop offset="0.7536" stop-color="#f6ea18"/><stop offset="0.7578" stop-color="#f6e916"/><stop offset="0.7598" stop-color="#f7da15"/><stop offset="0.7660" stop-color="#f7d315"/><stop offset="0.7681" stop-color="#f7ec30"/><stop offset="0.7723" stop-color="#f6e316"/><stop offset="0.7743" stop-color="#f7d015"/><stop offset="0.7764" stop-color="#f7cb15"/><stop offset="0.7785" stop-color="#f7a719"/><stop offset="0.7805" stop-color="#f6921d"/><stop offset="0.7826" stop-color="#f79e1b"/><stop offset="0.7847" stop-color="#f8be14"/><stop offset="0.7867" stop-color="#f8b515"/><stop offset="0.7909" stop-color="#f7cd15"/><stop offset="0.7992" stop-color="#f8c514"/><stop offset="0.8012" stop-color="#f6e116"/><stop offset="0.8033" stop-color="#f7d015"/><stop offset="0.8054" stop-color="#f7cb15"/><stop offset="0.8075" stop-color="#f7a818"/><stop offset="0.8095" stop-color="#f6921d"/><stop offset="0.8116" stop-color="#f79c1b"/><stop offset="0.8157" stop-color="#f6e016"/><stop offset="0.8199" stop-color="#f8ef5f"/><stop offset="0.8219" stop-color="#f7ec37"/><stop offset="0.8240" stop-color="#f7ed44"/><stop offset="0.8261" stop-color="#f7ed3f"/><stop offset="0.8323" stop-color="#f7ee4c"/><stop offset="0.8344" stop-color="#fbf6a8"/><stop offset="0.8406" stop-color="#faf59e"/><stop offset="0.8427" stop-color="#f8f16d"/><stop offset="0.8468" stop-color="#f7ef53"/><stop offset="0.8489" stop-color="#f7ed3d"/><stop offset="0.8509" stop-color="#f7ed41"/><stop offset="0.8530" stop-color="#f6e416"/><stop offset="0.8551" stop-color="#f8c314"/><stop offset="0.8571" stop-color="#f8ba14"/><stop offset="0.8592" stop-color="#f8bc14"/><stop offset="0.8634" stop-color="#f6ea19"/><stop offset="0.8654" stop-color="#f7ec30"/><stop offset="0.8675" stop-color="#f9f281"/><stop offset="0.8716" stop-color="#fcf7ba"/><stop offset="0.8737" stop-color="#fcf9cc"/><stop offset="0.8758" stop-color="#faf5a5"/><stop offset="0.8820" stop-color="#fcf7bb"/><stop offset="0.8841" stop-color="#f9f38e"/><stop offset="0.8903" stop-color="#faf496"/><stop offset="0.8923" stop-color="#f8f171"/><stop offset="0.8986" stop-color="#f8f173"/><stop offset="0.9006" stop-color="#ffffff"/><stop offset="0.9151" stop-color="#ffffff"/><stop offset="0.9172" stop-color="#fbf6ac"/><stop offset="0.9234" stop-color="#fbf6ae"/><stop offset="0.9255" stop-color="#f9f281"/><stop offset="0.9317" stop-color="#f9f281"/><stop offset="0.9337" stop-color="#ffffff"/><stop offset="0.9400" stop-color="#ffffff"/><stop offset="0.9420" stop-color="#fefdf2"/><stop offset="0.9482" stop-color="#fefef3"/><stop offset="0.9503" stop-color="#ffffff"/><stop offset="1.0000" stop-color="#ffffff"/></linearGradient>
<linearGradient id="g31" x1="0" y1="0" x2="0" y2="1"><stop offset="0.0000" stop-color="#ffffff"/><stop offset="0.1097" stop-color="#ffffff"/><stop offset="0.1118" stop-color="#fcf8bf"/><stop offset="0.1139" stop-color="#f9f38e"/><stop offset="0.1159" stop-color="#fbf6aa"/><stop offset="0.1180" stop-color="#fefdf0"/><stop offset="0.1201" stop-color="#f6eb23"/><stop offset="0.1242" stop-color="#f6ec2b"/><stop offset="0.1263" stop-color="#f6e916"/><stop offset="0.1304" stop-color="#f6ea16"/><stop offset="0.1325" stop-color="#ffffff"/><stop offset="0.1594" stop-color="#ffffff"/><stop offset="0.1615" stop-color="#f6ea19"/><stop offset="0.1656" stop-color="#f6ea18"/><stop offset="0.1677" stop-color="#f7dc15"/><stop offset="0.1739" stop-color="#f7da15"/><stop offset="0.1760" stop-color="#f7ee4c"/><stop offset="0.1822" stop-color="#f7ed38"/><stop offset="0.1843" stop-color="#f6e916"/><stop offset="0.1884" stop-color="#f7d415"/><stop offset="0.1905" stop-color="#f6ea18"/><stop offset="0.1946" stop-color="#f7a319"/><stop offset="0.1967" stop-color="#f6931d"/><stop offset="0.1988" stop-color="#f7a419"/><stop offset="0.2008" stop-color="#f7c715"/><stop offset="0.2029" stop-color="#f8b216"/><stop offset="0.2070" stop-color="#f7c915"/><stop offset="0.2091" stop-color="#f7ec31"/><stop offset="0.2153" stop-color="#f7ee4a"/><stop offset="0.2174" stop-color="#f7ec2f"/><stop offset="0.2236" stop-color="#f7ec34"/><stop offset="0.2257" stop-color="#f6ea1a"/><stop offset="0.2319" stop-color="#f6ea1a"/><stop offset="0.2340" stop-color="#f7de15"/><stop offset="0.2402" stop-color="#f7db15"/><stop offset="0.2422" stop-color="#f7ee4d"/><stop offset="0.2484" stop-color="#f6ec2b"/><stop offset="0.2505" stop-color="#f7ef52"/><stop offset="0.2526" stop-color="#f6eb23"/><stop offset="0.2547" stop-color="#f7ce15"/><stop offset="0.2567" stop-color="#f7ad17"/><stop offset="0.2588" stop-color="#f7a419"/><stop offset="0.2609" stop-color="#f8ba14"/><stop offset="0.2629" stop-color="#f6de16"/><stop offset="0.2650" stop-color="#f7ed38"/><stop offset="0.2671" stop-color="#f7ca15"/><stop offset="0.2733" stop-color="#f7d915"/><stop offset="0.2754" stop-color="#f7cf15"/><stop offset="0.2816" stop-color="#f7d115"/><stop offset="0.2836" stop-color="#ffffff"/><stop offset="0.2878" stop-color="#ffffff"/><stop offset="0.2919" stop-color="#fefce6"/><stop offset="0.2940" stop-color="#fdfad0"/><stop offset="0.2961" stop-color="#f58020"/><stop offset="0.3064" stop-color="#f36421"/><stop offset="0.3085" stop-color="#f46d20"/><stop offset="0.3126" stop-color="#f04522"/><stop offset="0.3147" stop-color="#f14a22"/><stop offset="0.3209" stop-color="#f47820"/><stop offset="0.3230" stop-color="#f58020"/><stop offset="0.3251" stop-color="#f7ef55"/><stop offset="0.3271" stop-color="#f8f176"/><stop offset="0.3292" stop-color="#faf5a3"/><stop offset="0.3313" stop-color="#f6e916"/><stop offset="0.3333" stop-color="#f6ea1a"/><stop offset="0.3354" stop-color="#f6e116"/><stop offset="0.3416" stop-color="#f6e516"/><stop offset="0.3437" stop-color="#f7d915"/><stop offset="0.3499" stop-color="#f7db15"/><stop offset="0.3520" stop-color="#f7ef53"/><stop offset="0.3582" stop-color="#f7ef55"/><stop offset="0.3602" stop-color="#f7ec33"/><stop offset="0.3665" stop-color="#f7ec33"/><stop offset="0.3685" stop-color="#f6ea19"/><stop offset="0.3706" stop-color="#f6ea19"/><stop offset="0.3727" stop-color="#ffffff"/><stop offset="0.3851" stop-color="#ffffff"/><stop offset="0.3872" stop-color="#fefef3"/><stop offset="0.3892" stop-color="#fcf9cc"/><stop offset="0.3954" stop-color="#f7ec32"/><stop offset="0.3975" stop-color="#f7d815"/><stop offset="0.3996" stop-color="#f8b515"/><stop offset="0.4017" stop-color="#f7a419"/><stop offset="0.4037" stop-color="#f8b415"/><stop offset="0.4058" stop-color="#f7d815"/><stop offset="0.4079" stop-color="#f8c314"/><stop offset="0.4161" stop-color="#f7d815"/><stop offset="0.4182" stop-color="#f7ee52"/><stop offset="0.4244" stop-color="#f8f05f"/><stop offset="0.4265" stop-color="#f7ed3d"/><stop offset="0.4306" stop-color="#f7ed40"/><stop offset="0.4327" stop-color="#ffffff"/><stop offset="0.4596" stop-color="#ffffff"/><stop offset="0.4617" stop-color="#fffef6"/><stop offset="0.4638" stop-color="#fbf6b1"/><stop offset="0.4658" stop-color="#f9f38b"/><stop offset="0.4679" stop-color="#fbf7b2"/><stop offset="0.4700" stop-color="#fffef9"/><stop offset="0.4720" stop-color="#ffffff"/><stop offset="0.8033" stop-color="#ffffff"/><stop offset="0.8054" stop-color="#f8f06a"/><stop offset="0.8075" stop-color="#f8f069"/><stop offset="0.8095" stop-color="#f7ed41"/><stop offset="0.8157" stop-color="#f7ed3d"/><stop offset="0.8178" stop-color="#f6eb20"/><stop offset="0.8240" stop-color="#f6ea19"/><stop offset="0.8261" stop-color="#f7dc15"/><stop offset="0.8282" stop-color="#fefdf1"/><stop offset="0.8323" stop-color="#fbf6ac"/><stop offset="0.8344" stop-color="#f6911e"/><stop offset="0.8406" stop-color="#f58020"/><stop offset="0.8468" stop-color="#f04522"/><stop offset="0.8489" stop-color="#f03f22"/><stop offset="0.8571" stop-color="#f47220"/><stop offset="0.8613" stop-color="#f47220"/><stop offset="0.8634" stop-color="#f9f38a"/><stop offset="0.8675" stop-color="#fcf9cc"/><stop offset="0.8696" stop-color="#f7cf15"/><stop offset="0.8737" stop-color="#f7d115"/><stop offset="0.8758" stop-color="#f7ed37"/><stop offset="0.8820" stop-color="#f7ec32"/><stop offset="0.8841" stop-color="#f6e916"/><stop offset="0.8903" stop-color="#f7d415"/><stop offset="0.8923" stop-color="#f8bd14"/><stop offset="0.8944" stop-color="#f7d315"/><stop offset="0.8965" stop-color="#f8b016"/><stop offset="0.8986" stop-color="#f7a319"/><stop offset="0.9006" stop-color="#f8b715"/><stop offset="0.9027" stop-color="#f7db15"/><stop offset="0.9048" stop-color="#f8b814"/><stop offset="0.9068" stop-color="#f8c314"/><stop offset="0.9089" stop-color="#f6eb25"/><stop offset="0.9151" stop-color="#f7ed3f"/><stop offset="0.9172" stop-color="#f6eb26"/><stop offset="0.9234" stop-color="#f6eb29"/><stop offset="0.9255" stop-color="#f6e516"/><stop offset="0.9275" stop-color="#ffffff"/><stop offset="0.9275" stop-color="#ffffff"/><stop offset="0.9296" stop-color="#fdfad0"/><stop offset="0.9317" stop-color="#faf493"/><stop offset="0.9337" stop-color="#f9f27f"/><stop offset="0.9358" stop-color="#fbf6b1"/><stop offset="0.9379" stop-color="#fefef5"/><stop offset="0.9400" stop-color="#ffffff"/><stop offset="1.0000" stop-color="#ffffff"/></linearGradient>
<linearGradient id="g32" x1="0" y1="0" x2="0" y2="1"><stop offset="0.0000" stop-color="#ffffff"/><stop offset="0.0455" stop-color="#ffffff"/><stop offset="0.0476" stop-color="#fcf8bf"/><stop offset="0.0497" stop-color="#f9f38d"/><stop offset="0.0518" stop-color="#fbf6aa"/><stop offset="0.0538" stop-color="#fefdef"/><stop offset="0.0559" stop-color="#ffffff"/><stop offset="0.1077" stop-color="#ffffff"/><stop offset="0.1097" stop-color="#f7ee51"/><stop offset="0.1159" stop-color="#f7ee51"/><stop offset="0.1180" stop-color="#f7ec30"/><stop offset="0.1242" stop-color="#f7ec2f"/><stop offset="0.1263" stop-color="#f6ea16"/><stop offset="0.1325" stop-color="#f6e916"/><stop offset="0.1346" stop-color="#f7db15"/><stop offset="0.1408" stop-color="#f7db15"/><stop offset="0.1429" stop-color="#f7ee52"/><stop offset="0.1491" stop-color="#f7ee4f"/><stop offset="0.1511" stop-color="#f7ec2e"/><stop offset="0.1573" stop-color="#f6ec2b"/><stop offset="0.1594" stop-color="#f6e716"/><stop offset="0.1656" stop-color="#f6e416"/><stop offset="0.1677" stop-color="#f47320"/><stop offset="0.1739" stop-color="#f47120"/><stop offset="0.1760" stop-color="#f68e1e"/><stop offset="0.1781" stop-color="#f68d1f"/><stop offset="0.1801" stop-color="#f8f173"/><stop offset="0.1863" stop-color="#f6eb26"/><stop offset="0.1884" stop-color="#f47220"/><stop offset="0.1905" stop-color="#f36921"/><stop offset="0.1967" stop-color="#ee2d23"/><stop offset="0.1988" stop-color="#e41e24"/><stop offset="0.2008" stop-color="#df1e24"/><stop offset="0.2029" stop-color="#ed2424"/><stop offset="0.2070" stop-color="#f14e22"/><stop offset="0.2091" stop-color="#f47020"/><stop offset="0.2112" stop-color="#f57a20"/><stop offset="0.2133" stop-color="#f6ea1c"/><stop offset="0.2153" stop-color="#f6861f"/><stop offset="0.2195" stop-color="#f5811f"/><stop offset="0.2236" stop-color="#f5841f"/><stop offset="0.2277" stop-color="#f57c20"/><stop offset="0.2319" stop-color="#f57d20"/><stop offset="0.2360" stop-color="#f47420"/><stop offset="0.2402" stop-color="#f47420"/><stop offset="0.2422" stop-color="#f6921d"/><stop offset="0.2484" stop-color="#f6901e"/><stop offset="0.2526" stop-color="#f5821f"/><stop offset="0.2567" stop-color="#f57b20"/><stop offset="0.2588" stop-color="#f46d20"/><stop offset="0.2609" stop-color="#f7c615"/><stop offset="0.2650" stop-color="#f5821f"/><stop offset="0.2671" stop-color="#f25921"/><stop offset="0.2692" stop-color="#f04522"/><stop offset="0.2712" stop-color="#f25821"/><stop offset="0.2754" stop-color="#f7a519"/><stop offset="0.2774" stop-color="#f8c414"/><stop offset="0.2795" stop-color="#f57f20"/><stop offset="0.2816" stop-color="#f6851f"/><stop offset="0.2857" stop-color="#f5821f"/><stop offset="0.2899" stop-color="#f5851f"/><stop offset="0.2940" stop-color="#f57b20"/><stop offset="0.2981" stop-color="#f57a20"/><stop offset="0.3002" stop-color="#f46f20"/><stop offset="0.3023" stop-color="#f7ec2e"/><stop offset="0.3043" stop-color="#f6e916"/><stop offset="0.3085" stop-color="#f8b914"/><stop offset="0.3126" stop-color="#f47220"/><stop offset="0.3147" stop-color="#f14a22"/><stop offset="0.3168" stop-color="#ef3823"/><stop offset="0.3188" stop-color="#f14d22"/><stop offset="0.3230" stop-color="#f79e1b"/><stop offset="0.3271" stop-color="#f7d915"/><stop offset="0.3292" stop-color="#f6eb20"/><stop offset="0.3313" stop-color="#f7ed3e"/><stop offset="0.3333" stop-color="#f57c20"/><stop offset="0.3375" stop-color="#f47720"/><stop offset="0.3416" stop-color="#f57920"/><stop offset="0.3437" stop-color="#fdfbda"/><stop offset="0.3478" stop-color="#fffffd"/><stop offset="0.3499" stop-color="#ffffff"/><stop offset="0.3540" stop-color="#ffffff"/><stop offset="0.3561" stop-color="#f7ee48"/><stop offset="0.3582" stop-color="#f7ee49"/><stop offset="0.3602" stop-color="#f6ec2c"/><stop offset="0.3665" stop-color="#f6ec2d"/><stop offset="0.3685" stop-color="#f6e916"/><stop offset="0.3747" stop-color="#f6e916"/><stop offset="0.3768" stop-color="#f7da15"/><stop offset="0.3830" stop-color="#f7d815"/><stop offset="0.3851" stop-color="#f7ee45"/><stop offset="0.3913" stop-color="#f6eb28"/><stop offset="0.3934" stop-color="#f7dc15"/><stop offset="0.3954" stop-color="#f7cc15"/><stop offset="0.3975" stop-color="#f7d715"/><stop offset="0.3996" stop-color="#f8b415"/><stop offset="0.4017" stop-color="#f7a319"/><stop offset="0.4037" stop-color="#f8b415"/><stop offset="0.4058" stop-color="#f7d715"/><stop offset="0.4079" stop-color="#f7ec2f"/><stop offset="0.4120" stop-color="#faf492"/><stop offset="0.4141" stop-color="#f7ed38"/><stop offset="0.4161" stop-color="#f7ed42"/><stop offset="0.4182" stop-color="#faf59c"/><stop offset="0.4244" stop-color="#fcf8c5"/><stop offset="0.4265" stop-color="#faf499"/><stop offset="0.4327" stop-color="#fbf6a7"/><stop offset="0.4348" stop-color="#f9f27d"/><stop offset="0.4369" stop-color="#ffffff"/><stop offset="0.6708" stop-color="#ffffff"/><stop offset="0.6729" stop-color="#fcf9c8"/><stop offset="0.6749" stop-color="#f8f27a"/><stop offset="0.6770" stop-color="#f7ed41"/><stop offset="0.6791" stop-color="#f6e516"/><stop offset="0.6812" stop-color="#f7d915"/><stop offset="0.6832" stop-color="#f6eb1d"/><stop offset="0.6853" stop-color="#f7ef53"/><stop offset="0.6894" stop-color="#fdfbda"/><stop offset="0.6915" stop-color="#ffffff"/><stop offset="0.8095" stop-color="#ffffff"/><stop offset="0.8116" stop-color="#f7ec2e"/><stop offset="0.8157" stop-color="#f6eb24"/><stop offset="0.8178" stop-color="#f6e016"/><stop offset="0.8240" stop-color="#f7cb15"/><stop offset="0.8261" stop-color="#f8b615"/><stop offset="0.8282" stop-color="#f7d115"/><stop offset="0.8344" stop-color="#f36c20"/><stop offset="0.8364" stop-color="#f47320"/><stop offset="0.8427" stop-color="#f7db15"/><stop offset="0.8447" stop-color="#f6eb28"/><stop offset="0.8468" stop-color="#f7da15"/><stop offset="0.8489" stop-color="#f6e316"/><stop offset="0.8509" stop-color="#f7db15"/><stop offset="0.8571" stop-color="#f6e216"/><stop offset="0.8592" stop-color="#f7d615"/><stop offset="0.8654" stop-color="#f7d515"/><stop offset="0.8675" stop-color="#f7c915"/><stop offset="0.8696" stop-color="#f9f387"/><stop offset="0.8737" stop-color="#f8f061"/><stop offset="0.8758" stop-color="#f5841f"/><stop offset="0.8820" stop-color="#f47720"/><stop offset="0.8882" stop-color="#f14c22"/><stop offset="0.8923" stop-color="#e61e24"/><stop offset="0.8944" stop-color="#d21e25"/><stop offset="0.8965" stop-color="#d81e24"/><stop offset="0.8986" stop-color="#ed2224"/><stop offset="0.9006" stop-color="#f14b22"/><stop offset="0.9048" stop-color="#f47220"/><stop offset="0.9068" stop-color="#f57d20"/><stop offset="0.9151" stop-color="#f6881f"/><stop offset="0.9172" stop-color="#f8f175"/><stop offset="0.9213" stop-color="#fbf6b1"/><stop offset="0.9234" stop-color="#f6ea18"/><stop offset="0.9255" stop-color="#f6df16"/><stop offset="0.9317" stop-color="#f6e416"/><stop offset="0.9337" stop-color="#f7d815"/><stop offset="0.9400" stop-color="#f7da15"/><stop offset="0.9420" stop-color="#ffffff"/><stop offset="1.0000" stop-color="#ffffff"/></linearGradient>
<linearGradient id="g33" x1="0" y1="0" x2="0" y2="1"><stop offset="0.0000" stop-color="#ffffff"/><stop offset="0.2981" stop-color="#ffffff"/><stop offset="0.3002" stop-color="#fefdec"/><stop offset="0.3023" stop-color="#fbf6a7"/><stop offset="0.3043" stop-color="#f9f387"/><stop offset="0.3064" stop-color="#fbf6b1"/><stop offset="0.3085" stop-color="#fefef4"/><stop offset="0.3106" stop-color="#ffffff"/><stop offset="0.3375" stop-color="#ffffff"/><stop offset="0.3395" stop-color="#f6e616"/><stop offset="0.3416" stop-color="#f6e516"/><stop offset="0.3437" stop-color="#f7d615"/><stop offset="0.3499" stop-color="#f7cd15"/><stop offset="0.3520" stop-color="#f6eb1d"/><stop offset="0.3561" stop-color="#f7ce15"/><stop offset="0.3582" stop-color="#f7ca15"/><stop offset="0.3602" stop-color="#f7a619"/><stop offset="0.3623" stop-color="#f6931d"/><stop offset="0.3644" stop-color="#f7a11a"/><stop offset="0.3665" stop-color="#f8c314"/><stop offset="0.3685" stop-color="#f8b715"/><stop offset="0.3747" stop-color="#f7d815"/><stop offset="0.3768" stop-color="#fcf8c4"/><stop offset="0.3810" stop-color="#fefdef"/><stop offset="0.3830" stop-color="#fefef3"/><stop offset="0.3851" stop-color="#fefce8"/><stop offset="0.3872" stop-color="#fcf9ca"/><stop offset="0.3892" stop-color="#faf495"/><stop offset="0.3913" stop-color="#f8f171"/><stop offset="0.3934" stop-color="#f9f389"/><stop offset="0.3954" stop-color="#fcf9cc"/><stop offset="0.3975" stop-color="#ffffff"/><stop offset="0.5652" stop-color="#ffffff"/><stop offset="0.5673" stop-color="#f8f175"/><stop offset="0.5735" stop-color="#f8f16d"/><stop offset="0.5756" stop-color="#f7ef57"/><stop offset="0.5818" stop-color="#f7ee4f"/><stop offset="0.5839" stop-color="#faf5a4"/><stop offset="0.5901" stop-color="#f9f280"/><stop offset="0.5921" stop-color="#f8ef5d"/><stop offset="0.5983" stop-color="#f7ed3d"/><stop offset="0.6004" stop-color="#f7d815"/><stop offset="0.6066" stop-color="#f8b715"/><stop offset="0.6128" stop-color="#f47620"/><stop offset="0.6149" stop-color="#f25721"/><stop offset="0.6170" stop-color="#f25821"/><stop offset="0.6190" stop-color="#f47920"/><stop offset="0.6211" stop-color="#f14d22"/><stop offset="0.6232" stop-color="#f25921"/><stop offset="0.6253" stop-color="#f47820"/><stop offset="0.6315" stop-color="#f5821f"/><stop offset="0.6356" stop-color="#f57a20"/><stop offset="0.6398" stop-color="#f47820"/><stop offset="0.6439" stop-color="#f46d20"/><stop offset="0.6480" stop-color="#f36821"/><stop offset="0.6563" stop-color="#f14f22"/><stop offset="0.6584" stop-color="#f25a21"/><stop offset="0.6605" stop-color="#f14f22"/><stop offset="0.6625" stop-color="#f36721"/><stop offset="0.6667" stop-color="#ef3223"/><stop offset="0.6687" stop-color="#e01e24"/><stop offset="0.6708" stop-color="#ba1d24"/><stop offset="0.6749" stop-color="#511215"/><stop offset="0.6770" stop-color="#421113"/><stop offset="0.6791" stop-color="#5e1316"/><stop offset="0.6832" stop-color="#c31e25"/><stop offset="0.6853" stop-color="#e01e24"/><stop offset="0.6874" stop-color="#ed2324"/><stop offset="0.6915" stop-color="#ed1f24"/><stop offset="0.6936" stop-color="#ee2824"/><stop offset="0.6998" stop-color="#f5821f"/><stop offset="0.7060" stop-color="#f8b914"/><stop offset="0.7081" stop-color="#f7c715"/><stop offset="0.7101" stop-color="#f8b116"/><stop offset="0.7164" stop-color="#f8c414"/><stop offset="0.7205" stop-color="#f8c314"/><stop offset="0.7246" stop-color="#f7c915"/><stop offset="0.7288" stop-color="#f8c414"/><stop offset="0.7329" stop-color="#f7c815"/><stop offset="0.7350" stop-color="#f7ee4e"/><stop offset="0.7412" stop-color="#f8ef5c"/><stop offset="0.7433" stop-color="#f7ee4e"/><stop offset="0.7495" stop-color="#f7ef57"/><stop offset="0.7516" stop-color="#f7ee48"/><stop offset="0.7578" stop-color="#f7ee4c"/><stop offset="0.7598" stop-color="#fbf6a7"/><stop offset="0.7660" stop-color="#faf59f"/><stop offset="0.7681" stop-color="#f8f16f"/><stop offset="0.7723" stop-color="#f7ef58"/><stop offset="0.7743" stop-color="#f7ed42"/><stop offset="0.7764" stop-color="#f7ed3f"/><stop offset="0.7785" stop-color="#f6ea16"/><stop offset="0.7805" stop-color="#f6e316"/><stop offset="0.7826" stop-color="#f6ec2c"/><stop offset="0.7888" stop-color="#fcf8c4"/><stop offset="0.7909" stop-color="#fefce8"/><stop offset="0.7930" stop-color="#ffffff"/><stop offset="0.9524" stop-color="#ffffff"/><stop offset="0.9545" stop-color="#fefdef"/><stop offset="0.9565" stop-color="#fbf6a9"/><stop offset="0.9586" stop-color="#f9f38b"/><stop offset="0.9607" stop-color="#fcf7bb"/><stop offset="0.9627" stop-color="#ffffff"/><stop offset="1.0000" stop-color="#ffffff"/></linearGradient>
<linearGradient id="g34" x1="0" y1="0" x2="0" y2="1"><stop offset="0.0000" stop-color="#ffffff"/><stop offset="0.2215" stop-color="#ffffff"/><stop offset="0.2236" stop-color="#fffef7"/><stop offset="0.2257" stop-color="#fbf6b0"/><stop offset="0.2277" stop-color="#f9f490"/><stop offset="0.2298" stop-color="#fcf8c0"/><stop offset="0.2319" stop-color="#ffffff"/><stop offset="0.2940" stop-color="#ffffff"/><stop offset="0.2961" stop-color="#fdfad4"/><stop offset="0.2981" stop-color="#faf494"/><stop offset="0.3002" stop-color="#faf494"/><stop offset="0.3023" stop-color="#fdfad3"/><stop offset="0.3043" stop-color="#ffffff"/><stop offset="0.3085" stop-color="#ffffff"/><stop offset="0.3106" stop-color="#f7d915"/><stop offset="0.3147" stop-color="#f7da15"/><stop offset="0.3168" stop-color="#f7ee52"/><stop offset="0.3230" stop-color="#f7ee51"/><stop offset="0.3251" stop-color="#f7ec30"/><stop offset="0.3333" stop-color="#f6ec2c"/><stop offset="0.3354" stop-color="#ffffff"/><stop offset="0.3416" stop-color="#ffffff"/><stop offset="0.3437" stop-color="#fdfbdd"/><stop offset="0.3458" stop-color="#fbf6ab"/><stop offset="0.3478" stop-color="#f8f16e"/><stop offset="0.3520" stop-color="#f6e316"/><stop offset="0.3540" stop-color="#f8bd14"/><stop offset="0.3561" stop-color="#f7a519"/><stop offset="0.3582" stop-color="#f7ad17"/><stop offset="0.3602" stop-color="#f7ce15"/><stop offset="0.3623" stop-color="#f6eb24"/><stop offset="0.3644" stop-color="#f7d815"/><stop offset="0.3665" stop-color="#f6e316"/><stop offset="0.3685" stop-color="#f7dd15"/><stop offset="0.3747" stop-color="#f6e716"/><stop offset="0.3768" stop-color="#f7db15"/><stop offset="0.3789" stop-color="#f7dc15"/><stop offset="0.3810" stop-color="#ffffff"/><stop offset="0.3913" stop-color="#ffffff"/><stop offset="0.3934" stop-color="#fbf6a8"/><stop offset="0.3996" stop-color="#fbf6ab"/><stop offset="0.4017" stop-color="#f9f27f"/><stop offset="0.4079" stop-color="#f9f280"/><stop offset="0.4099" stop-color="#f8f065"/><stop offset="0.4120" stop-color="#f8f065"/><stop offset="0.4141" stop-color="#ffffff"/><stop offset="0.4493" stop-color="#ffffff"/><stop offset="0.4513" stop-color="#fffef6"/><stop offset="0.4534" stop-color="#fdfad1"/><stop offset="0.4576" stop-color="#f8f06b"/><stop offset="0.4617" stop-color="#f6e516"/><stop offset="0.4658" stop-color="#f79e1b"/><stop offset="0.4679" stop-color="#f6941d"/><stop offset="0.4700" stop-color="#f7aa18"/><stop offset="0.4720" stop-color="#f7cf15"/><stop offset="0.4741" stop-color="#f6eb23"/><stop offset="0.4783" stop-color="#f9f27e"/><stop offset="0.4803" stop-color="#fbf7b6"/><stop offset="0.4824" stop-color="#fdfbe0"/><stop offset="0.4845" stop-color="#ffffff"/><stop offset="0.6004" stop-color="#ffffff"/><stop offset="0.6025" stop-color="#faf5a1"/><stop offset="0.6066" stop-color="#faf59d"/><stop offset="0.6087" stop-color="#f8f172"/><stop offset="0.6149" stop-color="#f8f16e"/><stop offset="0.6170" stop-color="#f7ef58"/><stop offset="0.6232" stop-color="#f7ef52"/><stop offset="0.6253" stop-color="#fbf6b0"/><stop offset="0.6294" stop-color="#faf59e"/><stop offset="0.6315" stop-color="#fffefa"/><stop offset="0.6356" stop-color="#fdfad3"/><stop offset="0.6377" stop-color="#f6eb21"/><stop offset="0.6398" stop-color="#f6ea1b"/><stop offset="0.6418" stop-color="#f7da15"/><stop offset="0.6480" stop-color="#f8c214"/><stop offset="0.6501" stop-color="#f7ad17"/><stop offset="0.6522" stop-color="#f8be14"/><stop offset="0.6563" stop-color="#f47820"/><stop offset="0.6584" stop-color="#f36521"/><stop offset="0.6605" stop-color="#f47720"/><stop offset="0.6646" stop-color="#f8b316"/><stop offset="0.6667" stop-color="#f8c514"/><stop offset="0.6708" stop-color="#f7cb15"/><stop offset="0.6749" stop-color="#f8b016"/><stop offset="0.6791" stop-color="#f47720"/><stop offset="0.6832" stop-color="#ee2724"/><stop offset="0.6853" stop-color="#e81e24"/><stop offset="0.6874" stop-color="#ef3123"/><stop offset="0.6915" stop-color="#f5851f"/><stop offset="0.6957" stop-color="#f8c014"/><stop offset="0.6977" stop-color="#f7a519"/><stop offset="0.6998" stop-color="#f8af17"/><stop offset="0.7019" stop-color="#f7d515"/><stop offset="0.7081" stop-color="#f6ea18"/><stop offset="0.7101" stop-color="#f6e116"/><stop offset="0.7122" stop-color="#f6e416"/><stop offset="0.7143" stop-color="#fbf7b7"/><stop offset="0.7205" stop-color="#fefce5"/><stop offset="0.7226" stop-color="#f7ee4d"/><stop offset="0.7246" stop-color="#f7ee4f"/><stop offset="0.7267" stop-color="#fbf7b5"/><stop offset="0.7329" stop-color="#fcf8c1"/><stop offset="0.7350" stop-color="#faf491"/><stop offset="0.7412" stop-color="#f9f491"/><stop offset="0.7433" stop-color="#f8f06c"/><stop offset="0.7495" stop-color="#f8f066"/><stop offset="0.7516" stop-color="#f7ee51"/><stop offset="0.7536" stop-color="#f7ee4d"/><stop offset="0.7557" stop-color="#fdfad7"/><stop offset="0.7598" stop-color="#fbf6ab"/><stop offset="0.7702" stop-color="#f6e816"/><stop offset="0.7764" stop-color="#f6861f"/><stop offset="0.7785" stop-color="#f26121"/><stop offset="0.7805" stop-color="#f25721"/><stop offset="0.7826" stop-color="#f47220"/><stop offset="0.7847" stop-color="#f7991c"/><stop offset="0.7867" stop-color="#f79d1b"/><stop offset="0.7909" stop-color="#f8bb14"/><stop offset="0.7992" stop-color="#f8bb14"/><stop offset="0.8012" stop-color="#f7d215"/><stop offset="0.8054" stop-color="#f8bb14"/><stop offset="0.8075" stop-color="#f7991c"/><stop offset="0.8095" stop-color="#f5821f"/><stop offset="0.8116" stop-color="#f68d1f"/><stop offset="0.8137" stop-color="#f7ad17"/><stop offset="0.8240" stop-color="#f7dc15"/><stop offset="0.8261" stop-color="#fcf7bc"/><stop offset="0.8302" stop-color="#fffef5"/><stop offset="0.8323" stop-color="#ffffff"/><stop offset="0.8406" stop-color="#ffffff"/><stop offset="0.8427" stop-color="#faf59f"/><stop offset="0.8489" stop-color="#fbf6ab"/><stop offset="0.8509" stop-color="#f9f281"/><stop offset="0.8571" stop-color="#f9f387"/><stop offset="0.8592" stop-color="#f8f069"/><stop offset="0.8613" stop-color="#f8f06a"/><stop offset="0.8634" stop-color="#ffffff"/><stop offset="1.0000" stop-color="#ffffff"/></linearGradient>
<linearGradient id="g35" x1="0" y1="0" x2="0" y2="1"><stop offset="0.0000" stop-color="#ffffff"/><stop offset="0.1677" stop-color="#ffffff"/><stop offset="0.1718" stop-color="#f9f387"/><stop offset="0.1739" stop-color="#faf493"/><stop offset="0.1760" stop-color="#fdf9cf"/><stop offset="0.1781" stop-color="#ffffff"/><stop offset="0.1843" stop-color="#ffffff"/><stop offset="0.1863" stop-color="#fffffe"/><stop offset="0.1884" stop-color="#fdf9cf"/><stop offset="0.1905" stop-color="#f9f387"/><stop offset="0.1925" stop-color="#f7ee4b"/><stop offset="0.1946" stop-color="#f6eb1e"/><stop offset="0.1967" stop-color="#f6ea1a"/><stop offset="0.1988" stop-color="#f7ed42"/><stop offset="0.2008" stop-color="#f8f27c"/><stop offset="0.2029" stop-color="#fdf9cd"/><stop offset="0.2050" stop-color="#ffffff"/><stop offset="0.2174" stop-color="#ffffff"/><stop offset="0.2195" stop-color="#fbf6b0"/><stop offset="0.2236" stop-color="#fbf7b5"/><stop offset="0.2257" stop-color="#f9f387"/><stop offset="0.2319" stop-color="#f9f38a"/><stop offset="0.2340" stop-color="#f8f06a"/><stop offset="0.2402" stop-color="#f8f06a"/><stop offset="0.2422" stop-color="#ffffff"/><stop offset="0.2484" stop-color="#ffffff"/><stop offset="0.2505" stop-color="#fcf8c6"/><stop offset="0.2567" stop-color="#fcf8c6"/><stop offset="0.2588" stop-color="#faf493"/><stop offset="0.2650" stop-color="#faf492"/><stop offset="0.2671" stop-color="#f8f16e"/><stop offset="0.2692" stop-color="#f8f16d"/><stop offset="0.2712" stop-color="#ffffff"/><stop offset="0.2754" stop-color="#ffffff"/><stop offset="0.2774" stop-color="#f7da15"/><stop offset="0.2816" stop-color="#f7d915"/><stop offset="0.2836" stop-color="#f7ee4e"/><stop offset="0.2899" stop-color="#f7ee4b"/><stop offset="0.2919" stop-color="#f6ec2b"/><stop offset="0.2981" stop-color="#f6eb28"/><stop offset="0.3002" stop-color="#f6e516"/><stop offset="0.3064" stop-color="#f6df16"/><stop offset="0.3085" stop-color="#f7d015"/><stop offset="0.3147" stop-color="#f8bb14"/><stop offset="0.3168" stop-color="#f7c615"/><stop offset="0.3209" stop-color="#f7971c"/><stop offset="0.3230" stop-color="#f79b1b"/><stop offset="0.3271" stop-color="#f8c314"/><stop offset="0.3292" stop-color="#f7ee52"/><stop offset="0.3313" stop-color="#f9f283"/><stop offset="0.3333" stop-color="#f7ee4e"/><stop offset="0.3354" stop-color="#f7ee4b"/><stop offset="0.3416" stop-color="#f8ef5f"/><stop offset="0.3437" stop-color="#fefce8"/><stop offset="0.3499" stop-color="#fffffe"/><stop offset="0.3520" stop-color="#fcf8c7"/><stop offset="0.3582" stop-color="#fcf9cc"/><stop offset="0.3602" stop-color="#faf499"/><stop offset="0.3665" stop-color="#faf498"/><stop offset="0.3685" stop-color="#f8f170"/><stop offset="0.3747" stop-color="#f8f16d"/><stop offset="0.3768" stop-color="#ffffff"/><stop offset="0.3768" stop-color="#ffffff"/><stop offset="0.3830" stop-color="#fefce3"/><stop offset="0.3851" stop-color="#faf5a0"/><stop offset="0.3913" stop-color="#f8f062"/><stop offset="0.3934" stop-color="#f8f173"/><stop offset="0.3975" stop-color="#f6e816"/><stop offset="0.3996" stop-color="#f8c214"/><stop offset="0.4017" stop-color="#f7a718"/><stop offset="0.4037" stop-color="#f7aa18"/><stop offset="0.4058" stop-color="#f7c915"/><stop offset="0.4079" stop-color="#f6ea1d"/><stop offset="0.4099" stop-color="#f8c214"/><stop offset="0.4161" stop-color="#f7d615"/><stop offset="0.4182" stop-color="#f7ee4e"/><stop offset="0.4203" stop-color="#f7ef55"/><stop offset="0.4224" stop-color="#ffffff"/><stop offset="0.4534" stop-color="#ffffff"/><stop offset="0.4555" stop-color="#fefef5"/><stop offset="0.4576" stop-color="#fbf7b9"/><stop offset="0.4596" stop-color="#f8f06b"/><stop offset="0.4617" stop-color="#f7ec37"/><stop offset="0.4638" stop-color="#f6ea16"/><stop offset="0.4658" stop-color="#f6eb26"/><stop offset="0.4679" stop-color="#f7ef57"/><stop offset="0.4720" stop-color="#fefce3"/><stop offset="0.4741" stop-color="#ffffff"/><stop offset="0.6439" stop-color="#ffffff"/><stop offset="0.6460" stop-color="#f6eb1e"/><stop offset="0.6480" stop-color="#f6ea1c"/><stop offset="0.6501" stop-color="#f6de16"/><stop offset="0.6563" stop-color="#f7d915"/><stop offset="0.6584" stop-color="#f7cc15"/><stop offset="0.6667" stop-color="#f8bd14"/><stop offset="0.6687" stop-color="#f7d415"/><stop offset="0.6708" stop-color="#f7c715"/><stop offset="0.6729" stop-color="#f7d215"/><stop offset="0.6770" stop-color="#f6951d"/><stop offset="0.6812" stop-color="#f04222"/><stop offset="0.6832" stop-color="#ee2d23"/><stop offset="0.6853" stop-color="#f03f22"/><stop offset="0.6894" stop-color="#f6921d"/><stop offset="0.6936" stop-color="#f7cf15"/><stop offset="0.6957" stop-color="#f6e816"/><stop offset="0.6998" stop-color="#f7ee4f"/><stop offset="0.7019" stop-color="#f6e816"/><stop offset="0.7081" stop-color="#f6ec2d"/><stop offset="0.7101" stop-color="#f6ea19"/><stop offset="0.7122" stop-color="#f6ea1c"/><stop offset="0.7143" stop-color="#ffffff"/><stop offset="0.7288" stop-color="#ffffff"/><stop offset="0.7308" stop-color="#fefdf1"/><stop offset="0.7329" stop-color="#fffef5"/><stop offset="0.7350" stop-color="#fcf8c0"/><stop offset="0.7412" stop-color="#fcf8c6"/><stop offset="0.7433" stop-color="#faf495"/><stop offset="0.7495" stop-color="#faf498"/><stop offset="0.7516" stop-color="#f8f171"/><stop offset="0.7578" stop-color="#f8f171"/><stop offset="0.7598" stop-color="#ffffff"/><stop offset="0.7660" stop-color="#ffffff"/><stop offset="0.7681" stop-color="#fdfad4"/><stop offset="0.7743" stop-color="#fdfad0"/><stop offset="0.7764" stop-color="#faf59b"/><stop offset="0.7785" stop-color="#faf499"/><stop offset="0.7805" stop-color="#ffffff"/><stop offset="0.7826" stop-color="#ffffff"/><stop offset="0.7847" stop-color="#f6ea1c"/><stop offset="0.7909" stop-color="#f6ea19"/><stop offset="0.7930" stop-color="#f7dd15"/><stop offset="0.7992" stop-color="#f7d815"/><stop offset="0.8012" stop-color="#f7ed44"/><stop offset="0.8075" stop-color="#f6eb1e"/><stop offset="0.8095" stop-color="#f7ed3a"/><stop offset="0.8116" stop-color="#f6e216"/><stop offset="0.8157" stop-color="#f7a419"/><stop offset="0.8178" stop-color="#f7a519"/><stop offset="0.8219" stop-color="#f6df16"/><stop offset="0.8240" stop-color="#f6ec2a"/><stop offset="0.8261" stop-color="#f7ed41"/><stop offset="0.8282" stop-color="#f7ee4b"/><stop offset="0.8323" stop-color="#f7ed40"/><stop offset="0.8364" stop-color="#f6e716"/><stop offset="0.8406" stop-color="#f8b216"/><stop offset="0.8447" stop-color="#f36621"/><stop offset="0.8468" stop-color="#f14822"/><stop offset="0.8489" stop-color="#f14f22"/><stop offset="0.8551" stop-color="#f8be14"/><stop offset="0.8571" stop-color="#f7dc15"/><stop offset="0.8592" stop-color="#f6eb27"/><stop offset="0.8654" stop-color="#f9f283"/><stop offset="0.8675" stop-color="#f7ca15"/><stop offset="0.8737" stop-color="#f7d115"/><stop offset="0.8758" stop-color="#f7ed3b"/><stop offset="0.8820" stop-color="#f7ed43"/><stop offset="0.8841" stop-color="#f6eb28"/><stop offset="0.8903" stop-color="#f6ec2b"/><stop offset="0.8923" stop-color="#f6e816"/><stop offset="0.8986" stop-color="#f6ea16"/><stop offset="0.9006" stop-color="#f7dc15"/><stop offset="0.9068" stop-color="#f7dd15"/><stop offset="0.9089" stop-color="#f7ef59"/><stop offset="0.9151" stop-color="#f7ef5a"/><stop offset="0.9172" stop-color="#faf5a3"/><stop offset="0.9234" stop-color="#fbf5a5"/><stop offset="0.9255" stop-color="#f8f27b"/><stop offset="0.9317" stop-color="#f8f27c"/><stop offset="0.9337" stop-color="#ffffff"/><stop offset="1.0000" stop-color="#ffffff"/></linearGradient>
<linearGradient id="g36" x1="0" y1="0" x2="0" y2="1"><stop offset="0.0000" stop-color="#ffffff"/><stop offset="0.1118" stop-color="#ffffff"/><stop offset="0.1139" stop-color="#fefdf0"/><stop offset="0.1159" stop-color="#fbf6ab"/><stop offset="0.1180" stop-color="#f8f27b"/><stop offset="0.1201" stop-color="#f9f38f"/><stop offset="0.1222" stop-color="#fcf8c6"/><stop offset="0.1242" stop-color="#fefce7"/><stop offset="0.1263" stop-color="#fefce8"/><stop offset="0.1284" stop-color="#fcf9ca"/><stop offset="0.1304" stop-color="#faf493"/><stop offset="0.1325" stop-color="#f8f176"/><stop offset="0.1346" stop-color="#faf49a"/><stop offset="0.1366" stop-color="#fdfbdc"/><stop offset="0.1387" stop-color="#ffffff"/><stop offset="0.1573" stop-color="#ffffff"/><stop offset="0.1594" stop-color="#f6e816"/><stop offset="0.1656" stop-color="#f6e616"/><stop offset="0.1677" stop-color="#f7d715"/><stop offset="0.1739" stop-color="#f7d215"/><stop offset="0.1760" stop-color="#f7ec30"/><stop offset="0.1801" stop-color="#f6e816"/><stop offset="0.1822" stop-color="#f7d915"/><stop offset="0.1843" stop-color="#f6df16"/><stop offset="0.1884" stop-color="#f79a1b"/><stop offset="0.1905" stop-color="#f6911e"/><stop offset="0.1925" stop-color="#f7a619"/><stop offset="0.1946" stop-color="#f7c615"/><stop offset="0.1967" stop-color="#f8b415"/><stop offset="0.1988" stop-color="#f8bd14"/><stop offset="0.2050" stop-color="#f7a818"/><stop offset="0.2070" stop-color="#f7971c"/><stop offset="0.2112" stop-color="#f7981c"/><stop offset="0.2153" stop-color="#f7ca15"/><stop offset="0.2236" stop-color="#f6ea1a"/><stop offset="0.2257" stop-color="#f6e216"/><stop offset="0.2319" stop-color="#f6e716"/><stop offset="0.2340" stop-color="#f7da15"/><stop offset="0.2402" stop-color="#f7da15"/><stop offset="0.2422" stop-color="#f7ee4e"/><stop offset="0.2484" stop-color="#f7ed44"/><stop offset="0.2505" stop-color="#f6eb22"/><stop offset="0.2567" stop-color="#f6e116"/><stop offset="0.2588" stop-color="#f7ed43"/><stop offset="0.2609" stop-color="#f6eb1f"/><stop offset="0.2629" stop-color="#f7d315"/><stop offset="0.2692" stop-color="#f46d20"/><stop offset="0.2712" stop-color="#f47020"/><stop offset="0.2754" stop-color="#f8b615"/><stop offset="0.2774" stop-color="#f7a419"/><stop offset="0.2816" stop-color="#f8b914"/><stop offset="0.2836" stop-color="#f6e116"/><stop offset="0.2899" stop-color="#f6ea1c"/><stop offset="0.2919" stop-color="#f6e016"/><stop offset="0.2981" stop-color="#f7dc15"/><stop offset="0.3002" stop-color="#f7cd15"/><stop offset="0.3023" stop-color="#f7c815"/><stop offset="0.3043" stop-color="#f7ed3a"/><stop offset="0.3064" stop-color="#f6ea1a"/><stop offset="0.3106" stop-color="#f8b316"/><stop offset="0.3147" stop-color="#f36821"/><stop offset="0.3168" stop-color="#f25621"/><stop offset="0.3188" stop-color="#f36b20"/><stop offset="0.3251" stop-color="#f7d715"/><stop offset="0.3271" stop-color="#f6eb22"/><stop offset="0.3375" stop-color="#fcf8c3"/><stop offset="0.3416" stop-color="#fefdee"/><stop offset="0.3437" stop-color="#f7d415"/><stop offset="0.3499" stop-color="#f7d715"/><stop offset="0.3520" stop-color="#f7ee49"/><stop offset="0.3582" stop-color="#f7ee4b"/><stop offset="0.3602" stop-color="#f6ec2d"/><stop offset="0.3665" stop-color="#f6ec2c"/><stop offset="0.3685" stop-color="#f6e816"/><stop offset="0.3747" stop-color="#f6e716"/><stop offset="0.3768" stop-color="#f7d815"/><stop offset="0.3830" stop-color="#f7d415"/><stop offset="0.3851" stop-color="#f7ed38"/><stop offset="0.3913" stop-color="#f6e816"/><stop offset="0.3934" stop-color="#f7ec32"/><stop offset="0.3954" stop-color="#f6df16"/><stop offset="0.4017" stop-color="#f57920"/><stop offset="0.4037" stop-color="#f57d20"/><stop offset="0.4099" stop-color="#f6e516"/><stop offset="0.4120" stop-color="#f7ed3a"/><stop offset="0.4141" stop-color="#f7c615"/><stop offset="0.4161" stop-color="#f7cd15"/><stop offset="0.4182" stop-color="#f7ed38"/><stop offset="0.4244" stop-color="#f7ee4e"/><stop offset="0.4265" stop-color="#f7ec32"/><stop offset="0.4327" stop-color="#f7ed38"/><stop offset="0.4348" stop-color="#f6eb1f"/><stop offset="0.4410" stop-color="#f6eb21"/><stop offset="0.4431" stop-color="#ffffff"/><stop offset="0.4576" stop-color="#ffffff"/><stop offset="0.4596" stop-color="#fefdef"/><stop offset="0.4617" stop-color="#fbf6af"/><stop offset="0.4638" stop-color="#f9f281"/><stop offset="0.4658" stop-color="#faf498"/><stop offset="0.4679" stop-color="#fdfbdb"/><stop offset="0.4700" stop-color="#ffffff"/><stop offset="0.6273" stop-color="#ffffff"/><stop offset="0.6335" stop-color="#fefce2"/><stop offset="0.6398" stop-color="#fbf7b9"/><stop offset="0.6418" stop-color="#f7ed42"/><stop offset="0.6480" stop-color="#f7ec2f"/><stop offset="0.6501" stop-color="#f6ea1c"/><stop offset="0.6563" stop-color="#f7db15"/><stop offset="0.6584" stop-color="#f6e516"/><stop offset="0.6667" stop-color="#f8ae17"/><stop offset="0.6729" stop-color="#f36c20"/><stop offset="0.6770" stop-color="#ed2124"/><stop offset="0.6812" stop-color="#98191e"/><stop offset="0.6832" stop-color="#90181d"/><stop offset="0.6874" stop-color="#e41e24"/><stop offset="0.6915" stop-color="#f36221"/><stop offset="0.6957" stop-color="#f79a1c"/><stop offset="0.7039" stop-color="#f6e016"/><stop offset="0.7060" stop-color="#f6ea1b"/><stop offset="0.7081" stop-color="#f6ec2d"/><stop offset="0.7101" stop-color="#f7ce15"/><stop offset="0.7164" stop-color="#f7db15"/><stop offset="0.7184" stop-color="#f8f177"/><stop offset="0.7267" stop-color="#fcf7bd"/><stop offset="0.7288" stop-color="#f9f388"/><stop offset="0.7329" stop-color="#faf49a"/><stop offset="0.7350" stop-color="#f8f177"/><stop offset="0.7412" stop-color="#f9f387"/><stop offset="0.7433" stop-color="#f8f06b"/><stop offset="0.7495" stop-color="#f8f170"/><stop offset="0.7516" stop-color="#f8ef5d"/><stop offset="0.7578" stop-color="#f8f060"/><stop offset="0.7598" stop-color="#fdfbe0"/><stop offset="0.7660" stop-color="#fefce5"/><stop offset="0.7681" stop-color="#fbf6af"/><stop offset="0.7743" stop-color="#fbf6b0"/><stop offset="0.7764" stop-color="#f9f282"/><stop offset="0.7826" stop-color="#f9f27f"/><stop offset="0.7847" stop-color="#f8f064"/><stop offset="0.7888" stop-color="#f8f062"/><stop offset="0.7909" stop-color="#ffffff"/><stop offset="0.7992" stop-color="#ffffff"/><stop offset="0.8012" stop-color="#ffffff"/><stop offset="0.8095" stop-color="#fcf8c6"/><stop offset="0.8116" stop-color="#fbf6b0"/><stop offset="0.8137" stop-color="#f6ea18"/><stop offset="0.8157" stop-color="#f6e716"/><stop offset="0.8178" stop-color="#f7d515"/><stop offset="0.8240" stop-color="#f8be14"/><stop offset="0.8282" stop-color="#f79c1b"/><stop offset="0.8302" stop-color="#f7a319"/><stop offset="0.8364" stop-color="#ef3223"/><stop offset="0.8385" stop-color="#ef3123"/><stop offset="0.8447" stop-color="#f7a11a"/><stop offset="0.8489" stop-color="#f7d515"/><stop offset="0.8509" stop-color="#f47020"/><stop offset="0.8571" stop-color="#f47820"/><stop offset="0.8613" stop-color="#f47220"/><stop offset="0.8654" stop-color="#f47220"/><stop offset="0.8675" stop-color="#f7ef58"/><stop offset="0.8737" stop-color="#f7ec33"/><stop offset="0.8758" stop-color="#f57c20"/><stop offset="0.8820" stop-color="#f36721"/><stop offset="0.8882" stop-color="#ee2424"/><stop offset="0.8903" stop-color="#d91e24"/><stop offset="0.8923" stop-color="#d21e25"/><stop offset="0.8944" stop-color="#e61e24"/><stop offset="0.8986" stop-color="#f04822"/><stop offset="0.9006" stop-color="#f36c20"/><stop offset="0.9027" stop-color="#f47920"/><stop offset="0.9048" stop-color="#f7dd15"/><stop offset="0.9068" stop-color="#f6eb20"/><stop offset="0.9151" stop-color="#f8f27d"/><stop offset="0.9172" stop-color="#f6e516"/><stop offset="0.9234" stop-color="#f6ea1b"/><stop offset="0.9255" stop-color="#f6e116"/><stop offset="0.9317" stop-color="#f6e516"/><stop offset="0.9337" stop-color="#f7d815"/><stop offset="0.9400" stop-color="#f7da15"/><stop offset="0.9420" stop-color="#f7ef53"/><stop offset="0.9482" stop-color="#f7ef57"/><stop offset="0.9503" stop-color="#f7ec35"/><stop offset="0.9565" stop-color="#f7ed37"/><stop offset="0.9586" stop-color="#f6eb1d"/><stop offset="0.9648" stop-color="#f6eb1e"/><stop offset="0.9669" stop-color="#ffffff"/><stop offset="1.0000" stop-color="#ffffff"/></linearGradient>
<linearGradient id="g37" x1="0" y1="0" x2="0" y2="1"><stop offset="0.0000" stop-color="#ffffff"/><stop offset="0.5735" stop-color="#ffffff"/><stop offset="0.5756" stop-color="#f9f386"/><stop offset="0.5776" stop-color="#f9f386"/><stop offset="0.5797" stop-color="#f8c314"/><stop offset="0.5818" stop-color="#f8c314"/><stop offset="0.5839" stop-color="#fdfbdc"/><stop offset="0.5859" stop-color="#fdfbdc"/><stop offset="0.5880" stop-color="#ffffff"/><stop offset="0.6066" stop-color="#ffffff"/><stop offset="0.6087" stop-color="#fefdf2"/><stop offset="0.6108" stop-color="#fefdf2"/><stop offset="0.6128" stop-color="#f7ec34"/><stop offset="0.6149" stop-color="#f7ec34"/><stop offset="0.6170" stop-color="#f25621"/><stop offset="0.6190" stop-color="#f25621"/><stop offset="0.6211" stop-color="#f68e1e"/><stop offset="0.6232" stop-color="#f68e1e"/><stop offset="0.6253" stop-color="#f7c715"/><stop offset="0.6273" stop-color="#f7c715"/><stop offset="0.6294" stop-color="#fdfad1"/><stop offset="0.6315" stop-color="#fdfad1"/><stop offset="0.6335" stop-color="#ffffff"/><stop offset="0.8468" stop-color="#ffffff"/><stop offset="0.8489" stop-color="#f7ed40"/><stop offset="0.8509" stop-color="#f7ed40"/><stop offset="0.8530" stop-color="#fffef6"/><stop offset="0.8571" stop-color="#ffffff"/><stop offset="0.8758" stop-color="#ffffff"/><stop offset="0.8778" stop-color="#fefded"/><stop offset="0.8799" stop-color="#fefded"/><stop offset="0.8820" stop-color="#f9f38e"/><stop offset="0.8841" stop-color="#f9f38e"/><stop offset="0.8861" stop-color="#f6df16"/><stop offset="0.8882" stop-color="#f6df16"/><stop offset="0.8903" stop-color="#ee3023"/><stop offset="0.8923" stop-color="#ee3023"/><stop offset="0.8944" stop-color="#f7a01a"/><stop offset="0.8965" stop-color="#f7a01a"/><stop offset="0.8986" stop-color="#f8c514"/><stop offset="0.9006" stop-color="#f8c514"/><stop offset="0.9027" stop-color="#f8b815"/><stop offset="0.9089" stop-color="#f8b715"/><stop offset="0.9110" stop-color="#f6881f"/><stop offset="0.9130" stop-color="#f6881f"/><stop offset="0.9151" stop-color="#ee2724"/><stop offset="0.9172" stop-color="#ee2724"/><stop offset="0.9193" stop-color="#280f10"/><stop offset="0.9213" stop-color="#280f10"/><stop offset="0.9234" stop-color="#ad1c22"/><stop offset="0.9255" stop-color="#ad1c22"/><stop offset="0.9275" stop-color="#f04722"/><stop offset="0.9296" stop-color="#f04722"/><stop offset="0.9317" stop-color="#f79d1b"/><stop offset="0.9337" stop-color="#f79d1b"/><stop offset="0.9358" stop-color="#f8b116"/><stop offset="0.9379" stop-color="#f8b116"/><stop offset="0.9400" stop-color="#f7d915"/><stop offset="0.9420" stop-color="#f7d915"/><stop offset="0.9441" stop-color="#f7c715"/><stop offset="0.9462" stop-color="#f7c715"/><stop offset="0.9482" stop-color="#f7ab18"/><stop offset="0.9503" stop-color="#f7ab18"/><stop offset="0.9524" stop-color="#f47720"/><stop offset="0.9545" stop-color="#f47720"/><stop offset="0.9565" stop-color="#f8f064"/><stop offset="0.9586" stop-color="#f8f064"/><stop offset="0.9607" stop-color="#f7ec33"/><stop offset="0.9627" stop-color="#f7ec33"/><stop offset="0.9648" stop-color="#f6e516"/><stop offset="0.9669" stop-color="#f6e516"/><stop offset="0.9689" stop-color="#f7d815"/><stop offset="0.9710" stop-color="#f7d815"/><stop offset="0.9731" stop-color="#f7ec31"/><stop offset="0.9752" stop-color="#f7ec31"/><stop offset="0.9772" stop-color="#f6ea18"/><stop offset="0.9793" stop-color="#f6ea18"/><stop offset="0.9814" stop-color="#ffffff"/><stop offset="1.0000" stop-color="#ffffff"/></linearGradient>
<linearGradient id="g38" x1="0" y1="0" x2="0" y2="1"><stop offset="0.0000" stop-color="#ffffff"/><stop offset="0.5735" stop-color="#ffffff"/><stop offset="0.5756" stop-color="#fefce5"/><stop offset="0.5776" stop-color="#fefce5"/><stop offset="0.5797" stop-color="#f6ea1b"/><stop offset="0.5818" stop-color="#f6ea1b"/><stop offset="0.5839" stop-color="#ffffff"/><stop offset="0.6108" stop-color="#ffffff"/><stop offset="0.6128" stop-color="#fdf9cf"/><stop offset="0.6149" stop-color="#fdf9cf"/><stop offset="0.6170" stop-color="#f7ac17"/><stop offset="0.6190" stop-color="#f7ac17"/><stop offset="0.6211" stop-color="#f7ef5a"/><stop offset="0.6232" stop-color="#f7ef5a"/><stop offset="0.6253" stop-color="#ffffff"/><stop offset="0.8509" stop-color="#ffffff"/><stop offset="0.8551" stop-color="#fffffb"/><stop offset="0.8571" stop-color="#f7ed44"/><stop offset="0.8592" stop-color="#f7ed44"/><stop offset="0.8613" stop-color="#ffffff"/><stop offset="0.8799" stop-color="#ffffff"/><stop offset="0.8820" stop-color="#faf491"/><stop offset="0.8841" stop-color="#faf491"/><stop offset="0.8861" stop-color="#f7a01a"/><stop offset="0.8882" stop-color="#f7a01a"/><stop offset="0.8903" stop-color="#f5851f"/><stop offset="0.8923" stop-color="#f5851f"/><stop offset="0.8944" stop-color="#f8f060"/><stop offset="0.8965" stop-color="#f8f060"/><stop offset="0.8986" stop-color="#f6ec2c"/><stop offset="0.9006" stop-color="#f6ec2c"/><stop offset="0.9027" stop-color="#f7ed3f"/><stop offset="0.9048" stop-color="#f7ed3f"/><stop offset="0.9068" stop-color="#f7d715"/><stop offset="0.9089" stop-color="#f7d715"/><stop offset="0.9110" stop-color="#f7a21a"/><stop offset="0.9130" stop-color="#f7a21a"/><stop offset="0.9151" stop-color="#ef3c23"/><stop offset="0.9172" stop-color="#ef3c23"/><stop offset="0.9193" stop-color="#311011"/><stop offset="0.9213" stop-color="#311011"/><stop offset="0.9234" stop-color="#c21e25"/><stop offset="0.9255" stop-color="#c21e25"/><stop offset="0.9275" stop-color="#f6901e"/><stop offset="0.9296" stop-color="#f6901e"/><stop offset="0.9317" stop-color="#f7d915"/><stop offset="0.9337" stop-color="#f7d915"/><stop offset="0.9358" stop-color="#f7ed41"/><stop offset="0.9379" stop-color="#f7ed41"/><stop offset="0.9400" stop-color="#f8f068"/><stop offset="0.9420" stop-color="#f8f068"/><stop offset="0.9441" stop-color="#f6ea18"/><stop offset="0.9462" stop-color="#f6ea18"/><stop offset="0.9482" stop-color="#f68e1e"/><stop offset="0.9503" stop-color="#f68e1e"/><stop offset="0.9524" stop-color="#f6eb28"/><stop offset="0.9545" stop-color="#f6eb28"/><stop offset="0.9565" stop-color="#fdf9d0"/><stop offset="0.9586" stop-color="#fdf9d0"/><stop offset="0.9607" stop-color="#f7ed3e"/><stop offset="0.9627" stop-color="#f7ed3e"/><stop offset="0.9648" stop-color="#f6e716"/><stop offset="0.9669" stop-color="#f6e716"/><stop offset="0.9689" stop-color="#ffffff"/><stop offset="1.0000" stop-color="#ffffff"/></linearGradient>
<linearGradient id="g39" x1="0" y1="0" x2="0" y2="1"><stop offset="0.0000" stop-color="#ffffff"/><stop offset="0.5776" stop-color="#ffffff"/><stop offset="0.5797" stop-color="#f7ef5a"/><stop offset="0.5818" stop-color="#f7ef5a"/><stop offset="0.5839" stop-color="#ffffff"/><stop offset="0.6108" stop-color="#ffffff"/><stop offset="0.6128" stop-color="#faf59d"/><stop offset="0.6149" stop-color="#faf59d"/><stop offset="0.6170" stop-color="#f6961d"/><stop offset="0.6190" stop-color="#f6961d"/><stop offset="0.6211" stop-color="#f7ed3a"/><stop offset="0.6232" stop-color="#f7ed3a"/><stop offset="0.6253" stop-color="#ffffff"/><stop offset="0.8509" stop-color="#ffffff"/><stop offset="0.8551" stop-color="#fffffc"/><stop offset="0.8571" stop-color="#f7ed44"/><stop offset="0.8592" stop-color="#f7ed44"/><stop offset="0.8613" stop-color="#ffffff"/><stop offset="0.8799" stop-color="#ffffff"/><stop offset="0.8820" stop-color="#faf492"/><stop offset="0.8841" stop-color="#faf492"/><stop offset="0.8861" stop-color="#f7a01a"/><stop offset="0.8882" stop-color="#f7a01a"/><stop offset="0.8903" stop-color="#f5851f"/><stop offset="0.8923" stop-color="#f5851f"/><stop offset="0.8944" stop-color="#f7ee49"/><stop offset="0.8965" stop-color="#f7ee49"/><stop offset="0.8986" stop-color="#f6ec2d"/><stop offset="0.9006" stop-color="#f6ec2d"/><stop offset="0.9027" stop-color="#f7ed3f"/><stop offset="0.9048" stop-color="#f7ed3f"/><stop offset="0.9068" stop-color="#f7d815"/><stop offset="0.9089" stop-color="#f7d815"/><stop offset="0.9110" stop-color="#f7a21a"/><stop offset="0.9130" stop-color="#f7a21a"/><stop offset="0.9151" stop-color="#ef3c23"/><stop offset="0.9172" stop-color="#ef3c23"/><stop offset="0.9193" stop-color="#311011"/><stop offset="0.9213" stop-color="#311011"/><stop offset="0.9234" stop-color="#c21e25"/><stop offset="0.9255" stop-color="#c21e25"/><stop offset="0.9275" stop-color="#f6911e"/><stop offset="0.9296" stop-color="#f6911e"/><stop offset="0.9317" stop-color="#f8b116"/><stop offset="0.9337" stop-color="#f8b116"/><stop offset="0.9358" stop-color="#f8c114"/><stop offset="0.9379" stop-color="#f8c114"/><stop offset="0.9400" stop-color="#f9f386"/><stop offset="0.9420" stop-color="#f9f386"/><stop offset="0.9441" stop-color="#f7ed42"/><stop offset="0.9462" stop-color="#f7ed42"/><stop offset="0.9482" stop-color="#f8f174"/><stop offset="0.9503" stop-color="#f8f174"/><stop offset="0.9524" stop-color="#f8f060"/><stop offset="0.9545" stop-color="#f8f060"/><stop offset="0.9565" stop-color="#f7ee4a"/><stop offset="0.9586" stop-color="#f7ee4a"/><stop offset="0.9607" stop-color="#f7ab18"/><stop offset="0.9627" stop-color="#f7ab18"/><stop offset="0.9648" stop-color="#f6e916"/><stop offset="0.9669" stop-color="#f6e916"/><stop offset="0.9689" stop-color="#ffffff"/><stop offset="1.0000" stop-color="#ffffff"/></linearGradient>
<linearGradient id="g40" x1="0" y1="0" x2="0" y2="1"><stop offset="0.0000" stop-color="#ffffff"/><stop offset="0.5735" stop-color="#ffffff"/><stop offset="0.5756" stop-color="#fbf6a9"/><stop offset="0.5776" stop-color="#fbf6a9"/><stop offset="0.5797" stop-color="#f7d215"/><stop offset="0.5818" stop-color="#f7d215"/><stop offset="0.5839" stop-color="#fffffb"/><stop offset="0.5880" stop-color="#ffffff"/><stop offset="0.6108" stop-color="#ffffff"/><stop offset="0.6128" stop-color="#f8ef5f"/><stop offset="0.6149" stop-color="#f8ef5f"/><stop offset="0.6170" stop-color="#f47320"/><stop offset="0.6190" stop-color="#f47320"/><stop offset="0.6211" stop-color="#f6e316"/><stop offset="0.6232" stop-color="#f6e316"/><stop offset="0.6253" stop-color="#ffffff"/><stop offset="0.8468" stop-color="#ffffff"/><stop offset="0.8489" stop-color="#fefce6"/><stop offset="0.8509" stop-color="#fefce6"/><stop offset="0.8530" stop-color="#f8b515"/><stop offset="0.8551" stop-color="#f8b515"/><stop offset="0.8571" stop-color="#f7ef53"/><stop offset="0.8592" stop-color="#f7ef53"/><stop offset="0.8613" stop-color="#ffffff"/><stop offset="0.8758" stop-color="#ffffff"/><stop offset="0.8799" stop-color="#fffef8"/><stop offset="0.8820" stop-color="#faf5a1"/><stop offset="0.8841" stop-color="#faf5a1"/><stop offset="0.8861" stop-color="#f6ea18"/><stop offset="0.8882" stop-color="#f6ea18"/><stop offset="0.8903" stop-color="#f04022"/><stop offset="0.8923" stop-color="#f04022"/><stop offset="0.8944" stop-color="#f7ac17"/><stop offset="0.8965" stop-color="#f7ac17"/><stop offset="0.8986" stop-color="#f7c715"/><stop offset="0.9006" stop-color="#f7c715"/><stop offset="0.9027" stop-color="#f8b814"/><stop offset="0.9089" stop-color="#f8b715"/><stop offset="0.9110" stop-color="#f6881f"/><stop offset="0.9130" stop-color="#f6881f"/><stop offset="0.9151" stop-color="#ee2b23"/><stop offset="0.9172" stop-color="#ee2b23"/><stop offset="0.9193" stop-color="#280f10"/><stop offset="0.9213" stop-color="#280f10"/><stop offset="0.9234" stop-color="#ad1c22"/><stop offset="0.9255" stop-color="#ad1c22"/><stop offset="0.9275" stop-color="#ee3023"/><stop offset="0.9296" stop-color="#ee3023"/><stop offset="0.9317" stop-color="#f68f1e"/><stop offset="0.9337" stop-color="#f68f1e"/><stop offset="0.9358" stop-color="#f6e416"/><stop offset="0.9379" stop-color="#f6e416"/><stop offset="0.9400" stop-color="#f6eb26"/><stop offset="0.9420" stop-color="#f6eb26"/><stop offset="0.9441" stop-color="#f7ec32"/><stop offset="0.9462" stop-color="#f7ec32"/><stop offset="0.9482" stop-color="#f8f062"/><stop offset="0.9503" stop-color="#f8f062"/><stop offset="0.9524" stop-color="#f7ef55"/><stop offset="0.9545" stop-color="#f7ef55"/><stop offset="0.9565" stop-color="#f7ed44"/><stop offset="0.9627" stop-color="#f7ed41"/><stop offset="0.9648" stop-color="#f57a20"/><stop offset="0.9669" stop-color="#f57a20"/><stop offset="0.9689" stop-color="#f7ad17"/><stop offset="0.9710" stop-color="#f7ad17"/><stop offset="0.9731" stop-color="#f7ec35"/><stop offset="0.9752" stop-color="#f7ec35"/><stop offset="0.9772" stop-color="#ffffff"/><stop offset="1.0000" stop-color="#ffffff"/></linearGradient>
<linearGradient id="g41" x1="0" y1="0" x2="0" y2="1"><stop offset="0.0000" stop-color="#ffffff"/><stop offset="0.0642" stop-color="#ffffff"/><stop offset="0.0663" stop-color="#f7d615"/><stop offset="0.0683" stop-color="#f7d615"/><stop offset="0.0704" stop-color="#f8f27c"/><stop offset="0.0725" stop-color="#f8f27c"/><stop offset="0.0745" stop-color="#ffffff"/><stop offset="0.0849" stop-color="#ffffff"/><stop offset="0.0870" stop-color="#fbf6ae"/><stop offset="0.0890" stop-color="#fbf6ae"/><stop offset="0.0911" stop-color="#f6911e"/><stop offset="0.0932" stop-color="#f6911e"/><stop offset="0.0952" stop-color="#f7db15"/><stop offset="0.0973" stop-color="#f7db15"/><stop offset="0.0994" stop-color="#f7ef5a"/><stop offset="0.1014" stop-color="#f7ef5a"/><stop offset="0.1035" stop-color="#f47820"/><stop offset="0.1056" stop-color="#f47820"/><stop offset="0.1077" stop-color="#f25c21"/><stop offset="0.1097" stop-color="#f25c21"/><stop offset="0.1118" stop-color="#f7ef57"/><stop offset="0.1139" stop-color="#f7ef57"/><stop offset="0.1159" stop-color="#fffef7"/><stop offset="0.1201" stop-color="#ffffff"/><stop offset="0.1263" stop-color="#ffffff"/><stop offset="0.1284" stop-color="#f6ec2b"/><stop offset="0.1304" stop-color="#f6ec2b"/><stop offset="0.1325" stop-color="#f6ea19"/><stop offset="0.1346" stop-color="#f6ea19"/><stop offset="0.1366" stop-color="#faf498"/><stop offset="0.1387" stop-color="#faf498"/><stop offset="0.1408" stop-color="#f7ce15"/><stop offset="0.1429" stop-color="#f7ce15"/><stop offset="0.1449" stop-color="#f15422"/><stop offset="0.1470" stop-color="#f15422"/><stop offset="0.1491" stop-color="#f7c815"/><stop offset="0.1511" stop-color="#f7c815"/><stop offset="0.1532" stop-color="#fbf6a9"/><stop offset="0.1553" stop-color="#fbf6a9"/><stop offset="0.1573" stop-color="#ffffff"/><stop offset="0.3043" stop-color="#ffffff"/><stop offset="0.3064" stop-color="#fbf6ad"/><stop offset="0.3085" stop-color="#fbf6ad"/><stop offset="0.3106" stop-color="#f7d915"/><stop offset="0.3126" stop-color="#f7d915"/><stop offset="0.3147" stop-color="#ffffff"/><stop offset="0.3706" stop-color="#ffffff"/><stop offset="0.3727" stop-color="#fdfad2"/><stop offset="0.3747" stop-color="#fdfad2"/><stop offset="0.3768" stop-color="#f7ec2d"/><stop offset="0.3789" stop-color="#f7ec2d"/><stop offset="0.3810" stop-color="#ef3923"/><stop offset="0.3830" stop-color="#ef3923"/><stop offset="0.3851" stop-color="#f04822"/><stop offset="0.3872" stop-color="#f04822"/><stop offset="0.3892" stop-color="#f7ec37"/><stop offset="0.3913" stop-color="#f7ec37"/><stop offset="0.3934" stop-color="#fdfbda"/><stop offset="0.3954" stop-color="#fdfbda"/><stop offset="0.3975" stop-color="#ffffff"/><stop offset="0.5776" stop-color="#ffffff"/><stop offset="0.5797" stop-color="#f7ee49"/><stop offset="0.5818" stop-color="#f7ee49"/><stop offset="0.5839" stop-color="#ffffff"/><stop offset="0.6108" stop-color="#ffffff"/><stop offset="0.6128" stop-color="#fefce8"/><stop offset="0.6149" stop-color="#fefce8"/><stop offset="0.6170" stop-color="#f6de16"/><stop offset="0.6190" stop-color="#f6de16"/><stop offset="0.6211" stop-color="#f36b20"/><stop offset="0.6232" stop-color="#f36b20"/><stop offset="0.6253" stop-color="#f6ec2b"/><stop offset="0.6273" stop-color="#f6ec2b"/><stop offset="0.6294" stop-color="#ffffff"/><stop offset="0.9130" stop-color="#ffffff"/><stop offset="0.9151" stop-color="#faf5a1"/><stop offset="0.9172" stop-color="#faf5a1"/><stop offset="0.9193" stop-color="#f6931d"/><stop offset="0.9213" stop-color="#f6931d"/><stop offset="0.9234" stop-color="#f7ec32"/><stop offset="0.9255" stop-color="#f7ec32"/><stop offset="0.9275" stop-color="#ffffff"/><stop offset="0.9420" stop-color="#ffffff"/><stop offset="0.9441" stop-color="#f8ef5c"/><stop offset="0.9462" stop-color="#f8ef5c"/><stop offset="0.9482" stop-color="#f47120"/><stop offset="0.9503" stop-color="#f47120"/><stop offset="0.9524" stop-color="#f7db15"/><stop offset="0.9586" stop-color="#f7d215"/><stop offset="0.9607" stop-color="#faf492"/><stop offset="0.9627" stop-color="#faf492"/><stop offset="0.9648" stop-color="#ffffff"/><stop offset="1.0000" stop-color="#ffffff"/></linearGradient>
<linearGradient id="g42" x1="0" y1="0" x2="0" y2="1"><stop offset="0.0000" stop-color="#ffffff"/><stop offset="0.0683" stop-color="#ffffff"/><stop offset="0.0704" stop-color="#faf499"/><stop offset="0.0725" stop-color="#faf499"/><stop offset="0.0745" stop-color="#f8f06c"/><stop offset="0.0766" stop-color="#f8f06c"/><stop offset="0.0787" stop-color="#ffffff"/><stop offset="0.0849" stop-color="#ffffff"/><stop offset="0.0870" stop-color="#fefce5"/><stop offset="0.0890" stop-color="#fefce5"/><stop offset="0.0911" stop-color="#f6eb29"/><stop offset="0.0932" stop-color="#f6eb29"/><stop offset="0.0952" stop-color="#fdfad7"/><stop offset="0.1014" stop-color="#fdfad2"/><stop offset="0.1035" stop-color="#f8b016"/><stop offset="0.1056" stop-color="#f8b016"/><stop offset="0.1077" stop-color="#f7981c"/><stop offset="0.1097" stop-color="#f7981c"/><stop offset="0.1118" stop-color="#fcf8c5"/><stop offset="0.1139" stop-color="#fcf8c5"/><stop offset="0.1159" stop-color="#ffffff"/><stop offset="0.1346" stop-color="#ffffff"/><stop offset="0.1366" stop-color="#fdfad3"/><stop offset="0.1387" stop-color="#fdfad3"/><stop offset="0.1408" stop-color="#f7de15"/><stop offset="0.1429" stop-color="#f7de15"/><stop offset="0.1449" stop-color="#f36421"/><stop offset="0.1470" stop-color="#f36421"/><stop offset="0.1491" stop-color="#f7d615"/><stop offset="0.1511" stop-color="#f7d615"/><stop offset="0.1532" stop-color="#fdf9ce"/><stop offset="0.1553" stop-color="#fdf9ce"/><stop offset="0.1573" stop-color="#ffffff"/><stop offset="0.3085" stop-color="#ffffff"/><stop offset="0.3106" stop-color="#f8f06c"/><stop offset="0.3126" stop-color="#f8f06c"/><stop offset="0.3147" stop-color="#ffffff"/><stop offset="0.3747" stop-color="#ffffff"/><stop offset="0.3768" stop-color="#f7ec33"/><stop offset="0.3789" stop-color="#f7ec33"/><stop offset="0.3810" stop-color="#f68f1e"/><stop offset="0.3830" stop-color="#f68f1e"/><stop offset="0.3851" stop-color="#f8f066"/><stop offset="0.3872" stop-color="#f8f066"/><stop offset="0.3892" stop-color="#ffffff"/><stop offset="0.5776" stop-color="#ffffff"/><stop offset="0.5797" stop-color="#f7d815"/><stop offset="0.5818" stop-color="#f7d815"/><stop offset="0.5839" stop-color="#fbf6aa"/><stop offset="0.5859" stop-color="#fbf6aa"/><stop offset="0.5880" stop-color="#ffffff"/><stop offset="0.6149" stop-color="#ffffff"/><stop offset="0.6170" stop-color="#f7db15"/><stop offset="0.6190" stop-color="#f7db15"/><stop offset="0.6211" stop-color="#f57d20"/><stop offset="0.6232" stop-color="#f57d20"/><stop offset="0.6253" stop-color="#faf499"/><stop offset="0.6273" stop-color="#faf499"/><stop offset="0.6294" stop-color="#ffffff"/><stop offset="0.9130" stop-color="#ffffff"/><stop offset="0.9151" stop-color="#faf5a3"/><stop offset="0.9172" stop-color="#faf5a3"/><stop offset="0.9193" stop-color="#f6931d"/><stop offset="0.9213" stop-color="#f6931d"/><stop offset="0.9234" stop-color="#f7ec32"/><stop offset="0.9255" stop-color="#f7ec32"/><stop offset="0.9275" stop-color="#ffffff"/><stop offset="0.9420" stop-color="#ffffff"/><stop offset="0.9441" stop-color="#faf498"/><stop offset="0.9462" stop-color="#faf498"/><stop offset="0.9482" stop-color="#f6931d"/><stop offset="0.9503" stop-color="#f6931d"/><stop offset="0.9524" stop-color="#f7ec30"/><stop offset="0.9545" stop-color="#f7ec30"/><stop offset="0.9565" stop-color="#f7ef53"/><stop offset="0.9586" stop-color="#f7ef53"/><stop offset="0.9607" stop-color="#f8c414"/><stop offset="0.9627" stop-color="#f8c414"/><stop offset="0.9648" stop-color="#ffffff"/><stop offset="1.0000" stop-color="#ffffff"/></linearGradient>
<linearGradient id="g43" x1="0" y1="0" x2="0" y2="1"><stop offset="0.0000" stop-color="#ffffff"/><stop offset="0.0683" stop-color="#ffffff"/><stop offset="0.0704" stop-color="#f8ef5f"/><stop offset="0.0725" stop-color="#f8ef5f"/><stop offset="0.0745" stop-color="#ffffff"/><stop offset="0.0849" stop-color="#ffffff"/><stop offset="0.0870" stop-color="#fefce6"/><stop offset="0.0890" stop-color="#fefce6"/><stop offset="0.0911" stop-color="#f6eb29"/><stop offset="0.0932" stop-color="#f6eb29"/><stop offset="0.0952" stop-color="#fdfad7"/><stop offset="0.1014" stop-color="#fdfad2"/><stop offset="0.1035" stop-color="#f8b016"/><stop offset="0.1056" stop-color="#f8b016"/><stop offset="0.1077" stop-color="#f7981c"/><stop offset="0.1097" stop-color="#f7981c"/><stop offset="0.1118" stop-color="#fcf8c4"/><stop offset="0.1139" stop-color="#fcf8c4"/><stop offset="0.1159" stop-color="#ffffff"/><stop offset="0.1346" stop-color="#ffffff"/><stop offset="0.1366" stop-color="#faf491"/><stop offset="0.1387" stop-color="#faf491"/><stop offset="0.1408" stop-color="#f79f1a"/><stop offset="0.1429" stop-color="#f79f1a"/><stop offset="0.1449" stop-color="#f04122"/><stop offset="0.1470" stop-color="#f04122"/><stop offset="0.1491" stop-color="#f7ed41"/><stop offset="0.1511" stop-color="#f7ed41"/><stop offset="0.1532" stop-color="#ffffff"/><stop offset="0.3085" stop-color="#ffffff"/><stop offset="0.3106" stop-color="#f8f06c"/><stop offset="0.3126" stop-color="#f8f06c"/><stop offset="0.3147" stop-color="#ffffff"/><stop offset="0.3747" stop-color="#ffffff"/><stop offset="0.3768" stop-color="#f6eb1f"/><stop offset="0.3789" stop-color="#f6eb1f"/><stop offset="0.3810" stop-color="#f57f20"/><stop offset="0.3830" stop-color="#f57f20"/><stop offset="0.3851" stop-color="#f7ee51"/><stop offset="0.3872" stop-color="#f7ee51"/><stop offset="0.3892" stop-color="#ffffff"/><stop offset="0.5735" stop-color="#ffffff"/><stop offset="0.5776" stop-color="#fffffd"/><stop offset="0.5797" stop-color="#f8b914"/><stop offset="0.5818" stop-color="#f8b914"/><stop offset="0.5839" stop-color="#f8f067"/><stop offset="0.5859" stop-color="#f8f067"/><stop offset="0.5880" stop-color="#ffffff"/><stop offset="0.6108" stop-color="#ffffff"/><stop offset="0.6128" stop-color="#fefce8"/><stop offset="0.6149" stop-color="#fefce8"/><stop offset="0.6170" stop-color="#f7a319"/><stop offset="0.6190" stop-color="#f7a319"/><stop offset="0.6211" stop-color="#f7c915"/><stop offset="0.6232" stop-color="#f7c915"/><stop offset="0.6253" stop-color="#ffffff"/><stop offset="0.9130" stop-color="#ffffff"/><stop offset="0.9151" stop-color="#faf5a4"/><stop offset="0.9172" stop-color="#faf5a4"/><stop offset="0.9193" stop-color="#f6931d"/><stop offset="0.9213" stop-color="#f6931d"/><stop offset="0.9234" stop-color="#f7ec33"/><stop offset="0.9255" stop-color="#f7ec33"/><stop offset="0.9275" stop-color="#ffffff"/><stop offset="0.9462" stop-color="#ffffff"/><stop offset="0.9482" stop-color="#f7c815"/><stop offset="0.9503" stop-color="#f7c815"/><stop offset="0.9524" stop-color="#f9f281"/><stop offset="0.9545" stop-color="#f9f281"/><stop offset="0.9565" stop-color="#ffffff"/><stop offset="0.9586" stop-color="#ffffff"/><stop offset="0.9607" stop-color="#fbf6af"/><stop offset="0.9627" stop-color="#fbf6af"/><stop offset="0.9648" stop-color="#f6901e"/><stop offset="0.9669" stop-color="#f6901e"/><stop offset="0.9689" stop-color="#f6eb20"/><stop offset="0.9710" stop-color="#f6eb20"/><stop offset="0.9731" stop-color="#ffffff"/><stop offset="1.0000" stop-color="#ffffff"/></linearGradient>
<linearGradient id="g44" x1="0" y1="0" x2="0" y2="1"><stop offset="0.0000" stop-color="#ffffff"/><stop offset="0.0600" stop-color="#ffffff"/><stop offset="0.0621" stop-color="#f8f174"/><stop offset="0.0642" stop-color="#f8f174"/><stop offset="0.0663" stop-color="#ffffff"/><stop offset="0.0683" stop-color="#ffffff"/><stop offset="0.0704" stop-color="#faf59f"/><stop offset="0.0725" stop-color="#faf59f"/><stop offset="0.0745" stop-color="#f8f173"/><stop offset="0.0766" stop-color="#f8f173"/><stop offset="0.0787" stop-color="#fcf8c5"/><stop offset="0.0807" stop-color="#fcf8c5"/><stop offset="0.0828" stop-color="#ffffff"/><stop offset="0.0849" stop-color="#ffffff"/><stop offset="0.0870" stop-color="#f8f174"/><stop offset="0.0890" stop-color="#f8f174"/><stop offset="0.0911" stop-color="#f46f20"/><stop offset="0.0932" stop-color="#f46f20"/><stop offset="0.0952" stop-color="#f8bf14"/><stop offset="0.0973" stop-color="#f8bf14"/><stop offset="0.0994" stop-color="#f8f065"/><stop offset="0.1014" stop-color="#f8f065"/><stop offset="0.1035" stop-color="#f68b1f"/><stop offset="0.1056" stop-color="#f68b1f"/><stop offset="0.1077" stop-color="#f46f20"/><stop offset="0.1097" stop-color="#f46f20"/><stop offset="0.1118" stop-color="#f8f06c"/><stop offset="0.1139" stop-color="#f8f06c"/><stop offset="0.1159" stop-color="#ffffff"/><stop offset="0.1263" stop-color="#ffffff"/><stop offset="0.1284" stop-color="#f6eb2a"/><stop offset="0.1304" stop-color="#f6eb2a"/><stop offset="0.1325" stop-color="#f6ea17"/><stop offset="0.1346" stop-color="#f6ea17"/><stop offset="0.1366" stop-color="#f8f065"/><stop offset="0.1387" stop-color="#f8f065"/><stop offset="0.1408" stop-color="#f6901e"/><stop offset="0.1429" stop-color="#f6901e"/><stop offset="0.1449" stop-color="#ef3123"/><stop offset="0.1470" stop-color="#ef3123"/><stop offset="0.1491" stop-color="#f6ec2b"/><stop offset="0.1511" stop-color="#f6ec2b"/><stop offset="0.1532" stop-color="#fdfbde"/><stop offset="0.1553" stop-color="#fdfbde"/><stop offset="0.1573" stop-color="#ffffff"/><stop offset="0.3043" stop-color="#ffffff"/><stop offset="0.3064" stop-color="#fbf6ab"/><stop offset="0.3085" stop-color="#fbf6ab"/><stop offset="0.3106" stop-color="#f7d815"/><stop offset="0.3126" stop-color="#f7d815"/><stop offset="0.3147" stop-color="#ffffff"/><stop offset="0.3375" stop-color="#ffffff"/><stop offset="0.3395" stop-color="#fbf6a6"/><stop offset="0.3416" stop-color="#fbf6a6"/><stop offset="0.3437" stop-color="#ffffff"/><stop offset="0.3582" stop-color="#ffffff"/><stop offset="0.3602" stop-color="#f6e916"/><stop offset="0.3623" stop-color="#f6e916"/><stop offset="0.3644" stop-color="#fbf6a8"/><stop offset="0.3665" stop-color="#fbf6a8"/><stop offset="0.3685" stop-color="#fefef2"/><stop offset="0.3706" stop-color="#fefef2"/><stop offset="0.3727" stop-color="#f9f386"/><stop offset="0.3747" stop-color="#f9f386"/><stop offset="0.3768" stop-color="#f7da15"/><stop offset="0.3789" stop-color="#f7da15"/><stop offset="0.3810" stop-color="#e51e24"/><stop offset="0.3872" stop-color="#ed2424"/><stop offset="0.3892" stop-color="#f6e116"/><stop offset="0.3913" stop-color="#f6e116"/><stop offset="0.3934" stop-color="#faf492"/><stop offset="0.3954" stop-color="#faf492"/><stop offset="0.3975" stop-color="#ffffff"/><stop offset="0.5238" stop-color="#ffffff"/><stop offset="0.5259" stop-color="#f6ea1c"/><stop offset="0.5280" stop-color="#f6ea1c"/><stop offset="0.5300" stop-color="#fbf6aa"/><stop offset="0.5321" stop-color="#fbf6aa"/><stop offset="0.5342" stop-color="#ffffff"/><stop offset="0.5735" stop-color="#ffffff"/><stop offset="0.5756" stop-color="#f8f067"/><stop offset="0.5776" stop-color="#f8f067"/><stop offset="0.5797" stop-color="#f46f20"/><stop offset="0.5818" stop-color="#f46f20"/><stop offset="0.5839" stop-color="#f7db15"/><stop offset="0.5859" stop-color="#f7db15"/><stop offset="0.5880" stop-color="#fffef6"/><stop offset="0.5921" stop-color="#ffffff"/><stop offset="0.6108" stop-color="#ffffff"/><stop offset="0.6128" stop-color="#f7ec31"/><stop offset="0.6149" stop-color="#f7ec31"/><stop offset="0.6170" stop-color="#f68f1e"/><stop offset="0.6190" stop-color="#f68f1e"/><stop offset="0.6211" stop-color="#f7ed3f"/><stop offset="0.6232" stop-color="#f7ed3f"/><stop offset="0.6253" stop-color="#ffffff"/><stop offset="0.9130" stop-color="#ffffff"/><stop offset="0.9151" stop-color="#faf5a3"/><stop offset="0.9172" stop-color="#faf5a3"/><stop offset="0.9193" stop-color="#f6931d"/><stop offset="0.9213" stop-color="#f6931d"/><stop offset="0.9234" stop-color="#f7ec32"/><stop offset="0.9255" stop-color="#f7ec32"/><stop offset="0.9275" stop-color="#ffffff"/><stop offset="0.9462" stop-color="#ffffff"/><stop offset="0.9482" stop-color="#f7d815"/><stop offset="0.9503" stop-color="#f7d815"/><stop offset="0.9524" stop-color="#faf499"/><stop offset="0.9545" stop-color="#faf499"/><stop offset="0.9565" stop-color="#ffffff"/><stop offset="0.9586" stop-color="#ffffff"/><stop offset="0.9607" stop-color="#f7ee4d"/><stop offset="0.9627" stop-color="#f7ee4d"/><stop offset="0.9648" stop-color="#f15322"/><stop offset="0.9669" stop-color="#f15322"/><stop offset="0.9689" stop-color="#f8bc14"/><stop offset="0.9710" stop-color="#f8bc14"/><stop offset="0.9731" stop-color="#fcf8c6"/><stop offset="0.9752" stop-color="#fcf8c6"/><stop offset="0.9772" stop-color="#ffffff"/><stop offset="1.0000" stop-color="#ffffff"/></linearGradient>
<linearGradient id="g45" x1="0" y1="0" x2="0" y2="1"><stop offset="0.0000" stop-color="#ffffff"/><stop offset="0.3002" stop-color="#ffffff"/><stop offset="0.3023" stop-color="#f7cc15"/><stop offset="0.3043" stop-color="#f7cc15"/><stop offset="0.3064" stop-color="#f7ee4e"/><stop offset="0.3085" stop-color="#f7ee4e"/><stop offset="0.3106" stop-color="#ffffff"/><stop offset="0.5238" stop-color="#ffffff"/><stop offset="0.5259" stop-color="#fdfbde"/><stop offset="0.5280" stop-color="#fdfbde"/><stop offset="0.5300" stop-color="#f6eb1e"/><stop offset="0.5321" stop-color="#f6eb1e"/><stop offset="0.5342" stop-color="#ffffff"/><stop offset="0.5776" stop-color="#ffffff"/><stop offset="0.5797" stop-color="#f7d215"/><stop offset="0.5818" stop-color="#f7d215"/><stop offset="0.5839" stop-color="#f6e616"/><stop offset="0.5859" stop-color="#f6e616"/><stop offset="0.5880" stop-color="#ffffff"/><stop offset="0.6108" stop-color="#ffffff"/><stop offset="0.6128" stop-color="#f7ee4c"/><stop offset="0.6149" stop-color="#f7ee4c"/><stop offset="0.6170" stop-color="#f14a22"/><stop offset="0.6190" stop-color="#f14a22"/><stop offset="0.6211" stop-color="#f7a918"/><stop offset="0.6232" stop-color="#f7a918"/><stop offset="0.6253" stop-color="#fbf6a8"/><stop offset="0.6273" stop-color="#fbf6a8"/><stop offset="0.6294" stop-color="#ffffff"/><stop offset="0.8468" stop-color="#ffffff"/><stop offset="0.8489" stop-color="#fcf7ba"/><stop offset="0.8509" stop-color="#fcf7ba"/><stop offset="0.8530" stop-color="#f8c414"/><stop offset="0.8551" stop-color="#f8c414"/><stop offset="0.8571" stop-color="#f25521"/><stop offset="0.8592" stop-color="#f25521"/><stop offset="0.8613" stop-color="#f6e716"/><stop offset="0.8675" stop-color="#f6e516"/><stop offset="0.8696" stop-color="#f7d915"/><stop offset="0.8716" stop-color="#f7d915"/><stop offset="0.8737" stop-color="#f7ec2f"/><stop offset="0.8758" stop-color="#f7ec2f"/><stop offset="0.8778" stop-color="#f6e816"/><stop offset="0.8799" stop-color="#f6e816"/><stop offset="0.8820" stop-color="#fbf6aa"/><stop offset="0.8841" stop-color="#fbf6aa"/><stop offset="0.8861" stop-color="#f6eb21"/><stop offset="0.8882" stop-color="#f6eb21"/><stop offset="0.8903" stop-color="#f14922"/><stop offset="0.8923" stop-color="#f14922"/><stop offset="0.8944" stop-color="#f8b416"/><stop offset="0.8965" stop-color="#f8b416"/><stop offset="0.8986" stop-color="#f7c815"/><stop offset="0.9006" stop-color="#f7c815"/><stop offset="0.9027" stop-color="#f8b914"/><stop offset="0.9089" stop-color="#f8b814"/><stop offset="0.9110" stop-color="#f6891f"/><stop offset="0.9130" stop-color="#f6891f"/><stop offset="0.9151" stop-color="#ee2c23"/><stop offset="0.9172" stop-color="#ee2c23"/><stop offset="0.9193" stop-color="#280f10"/><stop offset="0.9213" stop-color="#280f10"/><stop offset="0.9234" stop-color="#af1c22"/><stop offset="0.9255" stop-color="#af1c22"/><stop offset="0.9275" stop-color="#f5811f"/><stop offset="0.9296" stop-color="#f5811f"/><stop offset="0.9317" stop-color="#f7cb15"/><stop offset="0.9337" stop-color="#f7cb15"/><stop offset="0.9358" stop-color="#f6e516"/><stop offset="0.9420" stop-color="#f6de16"/><stop offset="0.9441" stop-color="#f7d215"/><stop offset="0.9462" stop-color="#f7d215"/><stop offset="0.9482" stop-color="#f79d1b"/><stop offset="0.9503" stop-color="#f79d1b"/><stop offset="0.9524" stop-color="#f7ed44"/><stop offset="0.9586" stop-color="#f7ee45"/><stop offset="0.9607" stop-color="#f9f38c"/><stop offset="0.9627" stop-color="#f9f38c"/><stop offset="0.9648" stop-color="#f8f174"/><stop offset="0.9669" stop-color="#f8f174"/><stop offset="0.9689" stop-color="#ffffff"/><stop offset="0.9834" stop-color="#ffffff"/><stop offset="0.9855" stop-color="#f7ee51"/><stop offset="0.9876" stop-color="#f7ee51"/><stop offset="0.9896" stop-color="#ffffff"/><stop offset="1.0000" stop-color="#ffffff"/></linearGradient>
<linearGradient id="g46" x1="0" y1="0" x2="0" y2="1"><stop offset="0.0000" stop-color="#ffffff"/><stop offset="0.3002" stop-color="#ffffff"/><stop offset="0.3023" stop-color="#f7ed38"/><stop offset="0.3043" stop-color="#f7ed38"/><stop offset="0.3064" stop-color="#fbf7b7"/><stop offset="0.3085" stop-color="#fbf7b7"/><stop offset="0.3106" stop-color="#ffffff"/><stop offset="0.5238" stop-color="#ffffff"/><stop offset="0.5280" stop-color="#fffffb"/><stop offset="0.5300" stop-color="#f7ec32"/><stop offset="0.5321" stop-color="#f7ec32"/><stop offset="0.5342" stop-color="#ffffff"/><stop offset="0.5776" stop-color="#ffffff"/><stop offset="0.5797" stop-color="#f7d215"/><stop offset="0.5818" stop-color="#f7d215"/><stop offset="0.5839" stop-color="#f6e716"/><stop offset="0.5859" stop-color="#f6e716"/><stop offset="0.5880" stop-color="#ffffff"/><stop offset="0.6108" stop-color="#ffffff"/><stop offset="0.6128" stop-color="#faf59e"/><stop offset="0.6149" stop-color="#faf59e"/><stop offset="0.6170" stop-color="#f57e20"/><stop offset="0.6190" stop-color="#f57e20"/><stop offset="0.6211" stop-color="#f7d615"/><stop offset="0.6232" stop-color="#f7d615"/><stop offset="0.6253" stop-color="#ffffff"/><stop offset="0.8509" stop-color="#ffffff"/><stop offset="0.8530" stop-color="#f6ec2b"/><stop offset="0.8551" stop-color="#f6ec2b"/><stop offset="0.8571" stop-color="#f6911e"/><stop offset="0.8592" stop-color="#f6911e"/><stop offset="0.8613" stop-color="#faf491"/><stop offset="0.8634" stop-color="#faf491"/><stop offset="0.8654" stop-color="#ffffff"/><stop offset="0.8799" stop-color="#ffffff"/><stop offset="0.8820" stop-color="#fefce1"/><stop offset="0.8841" stop-color="#fefce1"/><stop offset="0.8861" stop-color="#f7ee4b"/><stop offset="0.8882" stop-color="#f7ee4b"/><stop offset="0.8903" stop-color="#f36c20"/><stop offset="0.8923" stop-color="#f36c20"/><stop offset="0.8944" stop-color="#f7d115"/><stop offset="0.9006" stop-color="#f7cf15"/><stop offset="0.9027" stop-color="#f8bf14"/><stop offset="0.9089" stop-color="#f8c114"/><stop offset="0.9110" stop-color="#f6941d"/><stop offset="0.9130" stop-color="#f6941d"/><stop offset="0.9151" stop-color="#ef3c23"/><stop offset="0.9172" stop-color="#ef3c23"/><stop offset="0.9193" stop-color="#311011"/><stop offset="0.9213" stop-color="#311011"/><stop offset="0.9234" stop-color="#c21e25"/><stop offset="0.9255" stop-color="#c21e25"/><stop offset="0.9275" stop-color="#f6911e"/><stop offset="0.9296" stop-color="#f6911e"/><stop offset="0.9317" stop-color="#f7da15"/><stop offset="0.9337" stop-color="#f7da15"/><stop offset="0.9358" stop-color="#f7ee47"/><stop offset="0.9379" stop-color="#f7ee47"/><stop offset="0.9400" stop-color="#f8f173"/><stop offset="0.9420" stop-color="#f8f173"/><stop offset="0.9441" stop-color="#f7ec31"/><stop offset="0.9462" stop-color="#f7ec31"/><stop offset="0.9482" stop-color="#f8f171"/><stop offset="0.9545" stop-color="#f8f06a"/><stop offset="0.9565" stop-color="#f7ef5a"/><stop offset="0.9586" stop-color="#f7ef5a"/><stop offset="0.9607" stop-color="#fbf6a9"/><stop offset="0.9627" stop-color="#fbf6a9"/><stop offset="0.9648" stop-color="#f8f069"/><stop offset="0.9669" stop-color="#f8f069"/><stop offset="0.9689" stop-color="#ffffff"/><stop offset="1.0000" stop-color="#ffffff"/></linearGradient>
<linearGradient id="g47" x1="0" y1="0" x2="0" y2="1"><stop offset="0.0000" stop-color="#ffffff"/><stop offset="0.3002" stop-color="#ffffff"/><stop offset="0.3023" stop-color="#f7ed38"/><stop offset="0.3043" stop-color="#f7ed38"/><stop offset="0.3064" stop-color="#fbf7b7"/><stop offset="0.3085" stop-color="#fbf7b7"/><stop offset="0.3106" stop-color="#ffffff"/><stop offset="0.5238" stop-color="#ffffff"/><stop offset="0.5280" stop-color="#fffefa"/><stop offset="0.5300" stop-color="#f7ec32"/><stop offset="0.5321" stop-color="#f7ec32"/><stop offset="0.5342" stop-color="#ffffff"/><stop offset="0.5735" stop-color="#ffffff"/><stop offset="0.5756" stop-color="#fefdf0"/><stop offset="0.5776" stop-color="#fefdf0"/><stop offset="0.5797" stop-color="#f7ab18"/><stop offset="0.5818" stop-color="#f7ab18"/><stop offset="0.5839" stop-color="#f8bf14"/><stop offset="0.5859" stop-color="#f8bf14"/><stop offset="0.5880" stop-color="#ffffff"/><stop offset="0.6108" stop-color="#ffffff"/><stop offset="0.6128" stop-color="#fcf8c5"/><stop offset="0.6149" stop-color="#fcf8c5"/><stop offset="0.6170" stop-color="#f6911e"/><stop offset="0.6190" stop-color="#f6911e"/><stop offset="0.6211" stop-color="#f6e716"/><stop offset="0.6232" stop-color="#f6e716"/><stop offset="0.6253" stop-color="#ffffff"/><stop offset="0.8509" stop-color="#ffffff"/><stop offset="0.8530" stop-color="#fdfbe0"/><stop offset="0.8551" stop-color="#fdfbe0"/><stop offset="0.8571" stop-color="#f6ec2c"/><stop offset="0.8592" stop-color="#f6ec2c"/><stop offset="0.8613" stop-color="#ffffff"/><stop offset="0.8799" stop-color="#ffffff"/><stop offset="0.8820" stop-color="#fefce4"/><stop offset="0.8841" stop-color="#fefce4"/><stop offset="0.8861" stop-color="#f7ee4c"/><stop offset="0.8882" stop-color="#f7ee4c"/><stop offset="0.8903" stop-color="#f36c20"/><stop offset="0.8923" stop-color="#f36c20"/><stop offset="0.8944" stop-color="#f7d115"/><stop offset="0.9006" stop-color="#f7cf15"/><stop offset="0.9027" stop-color="#f8bf14"/><stop offset="0.9089" stop-color="#f8c114"/><stop offset="0.9110" stop-color="#f6941d"/><stop offset="0.9130" stop-color="#f6941d"/><stop offset="0.9151" stop-color="#ef3c23"/><stop offset="0.9172" stop-color="#ef3c23"/><stop offset="0.9193" stop-color="#311011"/><stop offset="0.9213" stop-color="#311011"/><stop offset="0.9234" stop-color="#c21e25"/><stop offset="0.9255" stop-color="#c21e25"/><stop offset="0.9275" stop-color="#f6901e"/><stop offset="0.9296" stop-color="#f6901e"/><stop offset="0.9317" stop-color="#f7d915"/><stop offset="0.9337" stop-color="#f7d915"/><stop offset="0.9358" stop-color="#f7ed42"/><stop offset="0.9379" stop-color="#f7ed42"/><stop offset="0.9400" stop-color="#f8f06a"/><stop offset="0.9420" stop-color="#f8f06a"/><stop offset="0.9441" stop-color="#f6ea1b"/><stop offset="0.9462" stop-color="#f6ea1b"/><stop offset="0.9482" stop-color="#f68e1e"/><stop offset="0.9503" stop-color="#f68e1e"/><stop offset="0.9524" stop-color="#f6e116"/><stop offset="0.9545" stop-color="#f6e116"/><stop offset="0.9565" stop-color="#f7d215"/><stop offset="0.9586" stop-color="#f7d215"/><stop offset="0.9607" stop-color="#f7ed40"/><stop offset="0.9627" stop-color="#f7ed40"/><stop offset="0.9648" stop-color="#ffffff"/><stop offset="1.0000" stop-color="#ffffff"/></linearGradient>
<linearGradient id="g48" x1="0" y1="0" x2="0" y2="1"><stop offset="0.0000" stop-color="#ffffff"/><stop offset="0.3002" stop-color="#ffffff"/><stop offset="0.3023" stop-color="#f8be14"/><stop offset="0.3043" stop-color="#f8be14"/><stop offset="0.3064" stop-color="#f7ed39"/><stop offset="0.3085" stop-color="#f7ed39"/><stop offset="0.3106" stop-color="#ffffff"/><stop offset="0.3747" stop-color="#ffffff"/><stop offset="0.3768" stop-color="#f7ee48"/><stop offset="0.3789" stop-color="#f7ee48"/><stop offset="0.3810" stop-color="#fffffe"/><stop offset="0.3851" stop-color="#ffffff"/><stop offset="0.5238" stop-color="#ffffff"/><stop offset="0.5259" stop-color="#f9f385"/><stop offset="0.5280" stop-color="#f9f385"/><stop offset="0.5300" stop-color="#f7c815"/><stop offset="0.5321" stop-color="#f7c815"/><stop offset="0.5342" stop-color="#ffffff"/><stop offset="0.5735" stop-color="#ffffff"/><stop offset="0.5756" stop-color="#f8f279"/><stop offset="0.5776" stop-color="#f8f279"/><stop offset="0.5797" stop-color="#f47220"/><stop offset="0.5818" stop-color="#f47220"/><stop offset="0.5839" stop-color="#f68a1f"/><stop offset="0.5859" stop-color="#f68a1f"/><stop offset="0.5880" stop-color="#f9f38f"/><stop offset="0.5901" stop-color="#f9f38f"/><stop offset="0.5921" stop-color="#ffffff"/><stop offset="0.6108" stop-color="#ffffff"/><stop offset="0.6128" stop-color="#f8f066"/><stop offset="0.6149" stop-color="#f8f066"/><stop offset="0.6170" stop-color="#f26021"/><stop offset="0.6190" stop-color="#f26021"/><stop offset="0.6211" stop-color="#f8bc14"/><stop offset="0.6232" stop-color="#f8bc14"/><stop offset="0.6253" stop-color="#fdfad0"/><stop offset="0.6273" stop-color="#fdfad0"/><stop offset="0.6294" stop-color="#ffffff"/><stop offset="0.8509" stop-color="#ffffff"/><stop offset="0.8530" stop-color="#fcf8c2"/><stop offset="0.8551" stop-color="#fcf8c2"/><stop offset="0.8571" stop-color="#f6ea17"/><stop offset="0.8592" stop-color="#f6ea17"/><stop offset="0.8613" stop-color="#ffffff"/><stop offset="0.8799" stop-color="#ffffff"/><stop offset="0.8820" stop-color="#fcf8c7"/><stop offset="0.8841" stop-color="#fcf8c7"/><stop offset="0.8861" stop-color="#f7ed38"/><stop offset="0.8882" stop-color="#f7ed38"/><stop offset="0.8903" stop-color="#f25f21"/><stop offset="0.8923" stop-color="#f25f21"/><stop offset="0.8944" stop-color="#f8c414"/><stop offset="0.9006" stop-color="#f7ca15"/><stop offset="0.9027" stop-color="#f8b914"/><stop offset="0.9089" stop-color="#f8b815"/><stop offset="0.9110" stop-color="#f6881f"/><stop offset="0.9130" stop-color="#f6881f"/><stop offset="0.9151" stop-color="#ee2b23"/><stop offset="0.9172" stop-color="#ee2b23"/><stop offset="0.9193" stop-color="#280f10"/><stop offset="0.9213" stop-color="#280f10"/><stop offset="0.9234" stop-color="#ad1c22"/><stop offset="0.9255" stop-color="#ad1c22"/><stop offset="0.9275" stop-color="#f03d23"/><stop offset="0.9296" stop-color="#f03d23"/><stop offset="0.9317" stop-color="#f7a718"/><stop offset="0.9337" stop-color="#f7a718"/><stop offset="0.9358" stop-color="#f7ce15"/><stop offset="0.9379" stop-color="#f7ce15"/><stop offset="0.9400" stop-color="#f6ec2a"/><stop offset="0.9462" stop-color="#f7ec33"/><stop offset="0.9482" stop-color="#f8f061"/><stop offset="0.9503" stop-color="#f8f061"/><stop offset="0.9524" stop-color="#f7ee51"/><stop offset="0.9545" stop-color="#f7ee51"/><stop offset="0.9565" stop-color="#fbf6ab"/><stop offset="0.9586" stop-color="#fbf6ab"/><stop offset="0.9607" stop-color="#f6eb23"/><stop offset="0.9627" stop-color="#f6eb23"/><stop offset="0.9648" stop-color="#f25f21"/><stop offset="0.9669" stop-color="#f25f21"/><stop offset="0.9689" stop-color="#f7c915"/><stop offset="0.9710" stop-color="#f7c915"/><stop offset="0.9731" stop-color="#f7d615"/><stop offset="0.9752" stop-color="#f7d615"/><stop offset="0.9772" stop-color="#fdfbdf"/><stop offset="0.9793" stop-color="#fdfbdf"/><stop offset="0.9814" stop-color="#ffffff"/><stop offset="1.0000" stop-color="#ffffff"/></linearGradient>
<clipPath id="cp00"><rect x="86.20" y="56.80" width="360.40" height="241.60"/></clipPath>
<clipPath id="cp01"><rect x="86.20" y="305.80" width="360.40" height="241.60"/></clipPath>
<clipPath id="cp02"><rect x="86.20" y="554.80" width="360.40" height="241.60"/></clipPath>
<clipPath id="cp10"><rect x="452.80" y="56.80" width="360.40" height="241.60"/></clipPath>
<clipPath id="cp11"><rect x="452.80" y="305.80" width="360.40" height="241.60"/></clipPath>
<clipPath id="cp12"><rect x="452.80" y="554.80" width="360.40" height="241.60"/></clipPath>
<clipPath id="cp20"><rect x="819.05" y="56.80" width="360.40" height="241.60"/></clipPath>
<clipPath id="cp21"><rect x="819.05" y="305.80" width="360.40" height="241.60"/></clipPath>
<clipPath id="cp22"><rect x="819.05" y="554.80" width="360.40" height="241.60"/></clipPath>
<clipPath id="cp30"><rect x="1245.60" y="56.80" width="360.40" height="241.60"/></clipPath>
<clipPath id="cp31"><rect x="1245.60" y="305.80" width="360.40" height="241.60"/></clipPath>
<clipPath id="cp32"><rect x="1245.60" y="554.80" width="360.40" height="241.60"/></clipPath>
<linearGradient id="g49" x1="0" y1="0" x2="0" y2="1"><stop offset="0.0000" stop-color="#190e0f"/><stop offset="0.0952" stop-color="#3a1012"/><stop offset="0.1855" stop-color="#77161a"/><stop offset="0.2907" stop-color="#c41e25"/><stop offset="0.3684" stop-color="#ed2024"/><stop offset="0.5789" stop-color="#f7971c"/><stop offset="0.6667" stop-color="#f8c214"/><stop offset="0.7469" stop-color="#f6ea17"/><stop offset="0.8772" stop-color="#f8f178"/><stop offset="0.9499" stop-color="#fcf9cd"/><stop offset="1.0000" stop-color="#ffffff"/></linearGradient></defs>
<rect x="86.20" y="56.80" width="43.68" height="241.60" fill="url(#g1)" shape-rendering="crispEdges"/>
<rect x="129.88" y="56.80" width="54.61" height="241.60" fill="url(#g2)" shape-rendering="crispEdges"/>
<rect x="184.49" y="56.80" width="54.61" height="241.60" fill="url(#g3)" shape-rendering="crispEdges"/>
<rect x="239.10" y="56.80" width="54.61" height="241.60" fill="url(#g4)" shape-rendering="crispEdges"/>
<rect x="293.70" y="56.80" width="54.61" height="241.60" fill="url(#g3)" shape-rendering="crispEdges"/>
<rect x="348.31" y="56.80" width="54.61" height="241.60" fill="url(#g2)" shape-rendering="crispEdges"/>
<rect x="402.92" y="56.80" width="43.68" height="241.60" fill="url(#g1)" shape-rendering="crispEdges"/>
<rect x="86.20" y="305.80" width="43.68" height="241.60" fill="url(#g5)" shape-rendering="crispEdges"/>
<rect x="129.88" y="305.80" width="54.61" height="241.60" fill="url(#g6)" shape-rendering="crispEdges"/>
<rect x="184.49" y="305.80" width="54.61" height="241.60" fill="url(#g7)" shape-rendering="crispEdges"/>
<rect x="239.10" y="305.80" width="54.61" height="241.60" fill="url(#g8)" shape-rendering="crispEdges"/>
<rect x="293.70" y="305.80" width="54.61" height="241.60" fill="url(#g7)" shape-rendering="crispEdges"/>
<rect x="348.31" y="305.80" width="54.61" height="241.60" fill="url(#g6)" shape-rendering="crispEdges"/>
<rect x="402.92" y="305.80" width="43.68" height="241.60" fill="url(#g5)" shape-rendering="crispEdges"/>
<rect x="86.20" y="554.80" width="43.68" height="241.60" fill="url(#g9)" shape-rendering="crispEdges"/>
<rect x="129.88" y="554.80" width="54.61" height="241.60" fill="url(#g10)" shape-rendering="crispEdges"/>
<rect x="184.49" y="554.80" width="54.61" height="241.60" fill="url(#g11)" shape-rendering="crispEdges"/>
<rect x="239.10" y="554.80" width="54.61" height="241.60" fill="url(#g12)" shape-rendering="crispEdges"/>
<rect x="293.70" y="554.80" width="54.61" height="241.60" fill="url(#g11)" shape-rendering="crispEdges"/>
<rect x="348.31" y="554.80" width="54.61" height="241.60" fill="url(#g10)" shape-rendering="crispEdges"/>
<rect x="402.92" y="554.80" width="43.68" height="241.60" fill="url(#g9)" shape-rendering="crispEdges"/>
<rect x="452.80" y="56.80" width="43.68" height="241.60" fill="url(#g13)" shape-rendering="crispEdges"/>
<rect x="496.48" y="56.80" width="54.61" height="241.60" fill="url(#g14)" shape-rendering="crispEdges"/>
<rect x="551.09" y="56.80" width="54.61" height="241.60" fill="url(#g15)" shape-rendering="crispEdges"/>
<rect x="605.70" y="56.80" width="54.61" height="241.60" fill="url(#g16)" shape-rendering="crispEdges"/>
<rect x="660.30" y="56.80" width="54.61" height="241.60" fill="url(#g15)" shape-rendering="crispEdges"/>
<rect x="714.91" y="56.80" width="54.61" height="241.60" fill="url(#g14)" shape-rendering="crispEdges"/>
<rect x="769.52" y="56.80" width="43.68" height="241.60" fill="url(#g13)" shape-rendering="crispEdges"/>
<rect x="452.80" y="305.80" width="43.68" height="241.60" fill="url(#g17)" shape-rendering="crispEdges"/>
<rect x="496.48" y="305.80" width="54.61" height="241.60" fill="url(#g18)" shape-rendering="crispEdges"/>
<rect x="551.09" y="305.80" width="54.61" height="241.60" fill="url(#g19)" shape-rendering="crispEdges"/>
<rect x="605.70" y="305.80" width="54.61" height="241.60" fill="url(#g20)" shape-rendering="crispEdges"/>
<rect x="660.30" y="305.80" width="54.61" height="241.60" fill="url(#g19)" shape-rendering="crispEdges"/>
<rect x="714.91" y="305.80" width="54.61" height="241.60" fill="url(#g18)" shape-rendering="crispEdges"/>
<rect x="769.52" y="305.80" width="43.68" height="241.60" fill="url(#g17)" shape-rendering="crispEdges"/>
<rect x="452.80" y="554.80" width="43.68" height="241.60" fill="url(#g21)" shape-rendering="crispEdges"/>
<rect x="496.48" y="554.80" width="54.61" height="241.60" fill="url(#g22)" shape-rendering="crispEdges"/>
<rect x="551.09" y="554.80" width="54.61" height="241.60" fill="url(#g23)" shape-rendering="crispEdges"/>
<rect x="605.70" y="554.80" width="54.61" height="241.60" fill="url(#g24)" shape-rendering="crispEdges"/>
<rect x="660.30" y="554.80" width="54.61" height="241.60" fill="url(#g23)" shape-rendering="crispEdges"/>
<rect x="714.91" y="554.80" width="54.61" height="241.60" fill="url(#g22)" shape-rendering="crispEdges"/>
<rect x="769.52" y="554.80" width="43.68" height="241.60" fill="url(#g21)" shape-rendering="crispEdges"/>
<rect x="819.05" y="56.80" width="43.68" height="241.60" fill="url(#g25)" shape-rendering="crispEdges"/>
<rect x="862.73" y="56.80" width="54.61" height="241.60" fill="url(#g26)" shape-rendering="crispEdges"/>
<rect x="917.34" y="56.80" width="54.61" height="241.60" fill="url(#g27)" shape-rendering="crispEdges"/>
<rect x="971.95" y="56.80" width="54.61" height="241.60" fill="url(#g28)" shape-rendering="crispEdges"/>
<rect x="1026.55" y="56.80" width="54.61" height="241.60" fill="url(#g27)" shape-rendering="crispEdges"/>
<rect x="1081.16" y="56.80" width="54.61" height="241.60" fill="url(#g26)" shape-rendering="crispEdges"/>
<rect x="1135.77" y="56.80" width="43.68" height="241.60" fill="url(#g25)" shape-rendering="crispEdges"/>
<rect x="819.05" y="305.80" width="43.68" height="241.60" fill="url(#g29)" shape-rendering="crispEdges"/>
<rect x="862.73" y="305.80" width="54.61" height="241.60" fill="url(#g30)" shape-rendering="crispEdges"/>
<rect x="917.34" y="305.80" width="54.61" height="241.60" fill="url(#g31)" shape-rendering="crispEdges"/>
<rect x="971.95" y="305.80" width="54.61" height="241.60" fill="url(#g32)" shape-rendering="crispEdges"/>
<rect x="1026.55" y="305.80" width="54.61" height="241.60" fill="url(#g31)" shape-rendering="crispEdges"/>
<rect x="1081.16" y="305.80" width="54.61" height="241.60" fill="url(#g30)" shape-rendering="crispEdges"/>
<rect x="1135.77" y="305.80" width="43.68" height="241.60" fill="url(#g29)" shape-rendering="crispEdges"/>
<rect x="819.05" y="554.80" width="43.68" height="241.60" fill="url(#g33)" shape-rendering="crispEdges"/>
<rect x="862.73" y="554.80" width="54.61" height="241.60" fill="url(#g34)" shape-rendering="crispEdges"/>
<rect x="917.34" y="554.80" width="54.61" height="241.60" fill="url(#g35)" shape-rendering="crispEdges"/>
<rect x="971.95" y="554.80" width="54.61" height="241.60" fill="url(#g36)" shape-rendering="crispEdges"/>
<rect x="1026.55" y="554.80" width="54.61" height="241.60" fill="url(#g35)" shape-rendering="crispEdges"/>
<rect x="1081.16" y="554.80" width="54.61" height="241.60" fill="url(#g34)" shape-rendering="crispEdges"/>
<rect x="1135.77" y="554.80" width="43.68" height="241.60" fill="url(#g33)" shape-rendering="crispEdges"/>
<rect x="1245.60" y="56.80" width="43.68" height="241.60" fill="url(#g37)" shape-rendering="crispEdges"/>
<rect x="1289.28" y="56.80" width="54.61" height="241.60" fill="url(#g38)" shape-rendering="crispEdges"/>
<rect x="1343.89" y="56.80" width="54.61" height="241.60" fill="url(#g39)" shape-rendering="crispEdges"/>
<rect x="1398.50" y="56.80" width="54.61" height="241.60" fill="url(#g40)" shape-rendering="crispEdges"/>
<rect x="1453.10" y="56.80" width="54.61" height="241.60" fill="url(#g39)" shape-rendering="crispEdges"/>
<rect x="1507.71" y="56.80" width="54.61" height="241.60" fill="url(#g38)" shape-rendering="crispEdges"/>
<rect x="1562.32" y="56.80" width="43.68" height="241.60" fill="url(#g37)" shape-rendering="crispEdges"/>
<rect x="1245.60" y="305.80" width="43.68" height="241.60" fill="url(#g41)" shape-rendering="crispEdges"/>
<rect x="1289.28" y="305.80" width="54.61" height="241.60" fill="url(#g42)" shape-rendering="crispEdges"/>
<rect x="1343.89" y="305.80" width="54.61" height="241.60" fill="url(#g43)" shape-rendering="crispEdges"/>
<rect x="1398.50" y="305.80" width="54.61" height="241.60" fill="url(#g44)" shape-rendering="crispEdges"/>
<rect x="1453.10" y="305.80" width="54.61" height="241.60" fill="url(#g43)" shape-rendering="crispEdges"/>
<rect x="1507.71" y="305.80" width="54.61" height="241.60" fill="url(#g42)" shape-rendering="crispEdges"/>
<rect x="1562.32" y="305.80" width="43.68" height="241.60" fill="url(#g41)" shape-rendering="crispEdges"/>
<rect x="1245.60" y="554.80" width="43.68" height="241.60" fill="url(#g45)" shape-rendering="crispEdges"/>
<rect x="1289.28" y="554.80" width="54.61" height="241.60" fill="url(#g46)" shape-rendering="crispEdges"/>
<rect x="1343.89" y="554.80" width="54.61" height="241.60" fill="url(#g47)" shape-rendering="crispEdges"/>
<rect x="1398.50" y="554.80" width="54.61" height="241.60" fill="url(#g48)" shape-rendering="crispEdges"/>
<rect x="1453.10" y="554.80" width="54.61" height="241.60" fill="url(#g47)" shape-rendering="crispEdges"/>
<rect x="1507.71" y="554.80" width="54.61" height="241.60" fill="url(#g46)" shape-rendering="crispEdges"/>
<rect x="1562.32" y="554.80" width="43.68" height="241.60" fill="url(#g45)" shape-rendering="crispEdges"/>
<g clip-path="url(#cp00)">
<polyline points="86.20,259.10 87.84,258.92 89.48,258.76 91.11,258.61 92.75,258.49 94.39,258.38 96.03,258.29 97.67,258.22 99.31,258.17 100.94,258.14 102.58,258.13 104.22,258.14 105.86,258.17 107.50,258.22 109.13,258.29 110.77,258.38 112.41,258.49 114.05,258.61 115.69,258.76 117.33,258.92 118.96,259.10 120.60,259.29 122.24,259.50 123.88,259.73 125.52,259.97 127.15,260.22 128.79,260.49 130.43,260.77 132.07,261.06 133.71,261.36 135.35,261.67 136.98,261.99 138.62,262.32 140.26,262.66 141.90,263.00 143.54,263.35 145.17,263.71 146.81,264.08 148.45,264.44 150.09,264.82 151.73,265.19 153.37,265.57 155.00,265.96 156.64,266.34 158.28,266.73 159.92,267.12 161.56,267.51 163.19,267.90 164.83,268.29 166.47,268.68 168.11,269.07 169.75,269.46 171.39,269.85 173.02,270.24 174.66,270.62 176.30,271.00 177.94,271.38 179.58,271.76 181.21,272.13 182.85,272.50 184.49,272.87 186.13,273.24 187.77,273.59 189.41,273.95 191.04,274.30 192.68,274.65 194.32,274.99 195.96,275.32 197.60,275.65 199.23,275.98 200.87,276.30 202.51,276.61 204.15,276.92 205.79,277.22 207.43,277.51 209.06,277.80 210.70,278.08 212.34,278.36 213.98,278.63 215.62,278.89 217.25,279.14 218.89,279.39 220.53,279.63 222.17,279.86 223.81,280.08 225.45,280.30 227.08,280.51 228.72,280.71 230.36,280.90 232.00,281.09 233.64,281.27 235.27,281.43 236.91,281.60 238.55,281.75 240.19,281.89 241.83,282.03 243.47,282.15 245.10,282.27 246.74,282.38 248.38,282.48 250.02,282.58 251.66,282.66 253.29,282.74 254.93,282.80 256.57,282.86 258.21,282.91 259.85,282.95 261.49,282.98 263.12,283.00 264.76,283.02 266.40,283.02 268.04,283.02 269.68,283.00 271.31,282.98 272.95,282.95 274.59,282.91 276.23,282.86 277.87,282.80 279.51,282.74 281.14,282.66 282.78,282.58 284.42,282.48 286.06,282.38 287.70,282.27 289.33,282.15 290.97,282.03 292.61,281.89 294.25,281.75 295.89,281.60 297.53,281.43 299.16,281.27 300.80,281.09 302.44,280.90 304.08,280.71 305.72,280.51 307.35,280.30 308.99,280.08 310.63,279.86 312.27,279.63 313.91,279.39 315.55,279.14 317.18,278.89 318.82,278.63 320.46,278.36 322.10,278.08 323.74,277.80 325.37,277.51 327.01,277.22 328.65,276.92 330.29,276.61 331.93,276.30 333.57,275.98 335.20,275.65 336.84,275.32 338.48,274.99 340.12,274.65 341.76,274.30 343.39,273.95 345.03,273.59 346.67,273.24 348.31,272.87 349.95,272.50 351.59,272.13 353.22,271.76 354.86,271.38 356.50,271.00 358.14,270.62 359.78,270.24 361.41,269.85 363.05,269.46 364.69,269.07 366.33,268.68 367.97,268.29 369.61,267.90 371.24,267.51 372.88,267.12 374.52,266.73 376.16,266.34 377.80,265.96 379.43,265.57 381.07,265.19 382.71,264.82 384.35,264.44 385.99,264.08 387.63,263.71 389.26,263.35 390.90,263.00 392.54,262.66 394.18,262.32 395.82,261.99 397.45,261.67 399.09,261.36 400.73,261.06 402.37,260.77 404.01,260.49 405.65,260.22 407.28,259.97 408.92,259.73 410.56,259.50 412.20,259.29 413.84,259.10 415.47,258.92 417.11,258.76 418.75,258.61 420.39,258.49 422.03,258.38 423.67,258.29 425.30,258.22 426.94,258.17 428.58,258.14 430.22,258.13 431.86,258.14 433.49,258.17 435.13,258.22 436.77,258.29 438.41,258.38 440.05,258.49 441.69,258.61 443.32,258.76 444.96,258.92 446.60,259.10" fill="none" stroke="#231f20" stroke-width="2.2"/>
<polyline points="86.20,238.00 87.84,238.00 89.48,238.00 91.11,238.00 92.75,238.00 94.39,238.00 96.03,238.00 97.67,238.00 99.31,238.00 100.94,238.00 102.58,238.00 104.22,238.00 105.86,238.00 107.50,238.00 109.13,238.00 110.77,238.00 112.41,238.00 114.05,238.00 115.69,238.00 117.33,238.00 118.96,238.00 120.60,238.00 122.24,238.00 123.88,238.00 125.52,238.00 127.15,238.00 128.79,238.00 130.43,238.00 132.07,238.00 133.71,238.00 135.35,238.00 136.98,238.00 138.62,238.00 140.26,238.00 141.90,238.00 143.54,238.00 145.17,238.00 146.81,238.00 148.45,238.00 150.09,238.00 151.73,238.00 153.37,238.00 155.00,238.00 156.64,238.00 158.28,238.00 159.92,238.00 161.56,238.00 163.19,238.00 164.83,238.00 166.47,238.00 168.11,238.00 169.75,238.00 171.39,238.00 173.02,238.00 174.66,238.00 176.30,238.00 177.94,238.00 179.58,238.00 181.21,238.00 182.85,238.00 184.49,238.00 186.13,238.00 187.77,238.00 189.41,238.00 191.04,238.00 192.68,238.00 194.32,238.00 195.96,238.00 197.60,238.00 199.23,238.00 200.87,238.00 202.51,238.00 204.15,238.00 205.79,238.00 207.43,238.00 209.06,238.00 210.70,238.00 212.34,238.00 213.98,238.00 215.62,238.00 217.25,238.00 218.89,238.00 220.53,238.00 222.17,238.00 223.81,238.00 225.45,238.00 227.08,238.00 228.72,238.00 230.36,238.00 232.00,238.00 233.64,238.00 235.27,238.00 236.91,238.00 238.55,238.00 240.19,238.00 241.83,238.00 243.47,238.00 245.10,238.00 246.74,238.00 248.38,238.00 250.02,238.00 251.66,238.00 253.29,238.00 254.93,238.00 256.57,238.00 258.21,238.00 259.85,238.00 261.49,238.00 263.12,238.00 264.76,238.00 266.40,238.00 268.04,238.00 269.68,238.00 271.31,238.00 272.95,238.00 274.59,238.00 276.23,238.00 277.87,238.00 279.51,238.00 281.14,238.00 282.78,238.00 284.42,238.00 286.06,238.00 287.70,238.00 289.33,238.00 290.97,238.00 292.61,238.00 294.25,238.00 295.89,238.00 297.53,238.00 299.16,238.00 300.80,238.00 302.44,238.00 304.08,238.00 305.72,238.00 307.35,238.00 308.99,238.00 310.63,238.00 312.27,238.00 313.91,238.00 315.55,238.00 317.18,238.00 318.82,238.00 320.46,238.00 322.10,238.00 323.74,238.00 325.37,238.00 327.01,238.00 328.65,238.00 330.29,238.00 331.93,238.00 333.57,238.00 335.20,238.00 336.84,238.00 338.48,238.00 340.12,238.00 341.76,238.00 343.39,238.00 345.03,238.00 346.67,238.00 348.31,238.00 349.95,238.00 351.59,238.00 353.22,238.00 354.86,238.00 356.50,238.00 358.14,238.00 359.78,238.00 361.41,238.00 363.05,238.00 364.69,238.00 366.33,238.00 367.97,238.00 369.61,238.00 371.24,238.00 372.88,238.00 374.52,238.00 376.16,238.00 377.80,238.00 379.43,238.00 381.07,238.00 382.71,238.00 384.35,238.00 385.99,238.00 387.63,238.00 389.26,238.00 390.90,238.00 392.54,238.00 394.18,238.00 395.82,238.00 397.45,238.00 399.09,238.00 400.73,238.00 402.37,238.00 404.01,238.00 405.65,238.00 407.28,238.00 408.92,238.00 410.56,238.00 412.20,238.00 413.84,238.00 415.47,238.00 417.11,238.00 418.75,238.00 420.39,238.00 422.03,238.00 423.67,238.00 425.30,238.00 426.94,238.00 428.58,238.00 430.22,238.00 431.86,238.00 433.49,238.00 435.13,238.00 436.77,238.00 438.41,238.00 440.05,238.00 441.69,238.00 443.32,238.00 444.96,238.00 446.60,238.00" fill="none" stroke="#231f20" stroke-width="2.2"/>
<polyline points="86.20,216.90 87.84,217.08 89.48,217.24 91.11,217.39 92.75,217.51 94.39,217.62 96.03,217.71 97.67,217.78 99.31,217.83 100.94,217.86 102.58,217.87 104.22,217.86 105.86,217.83 107.50,217.78 109.13,217.71 110.77,217.62 112.41,217.51 114.05,217.39 115.69,217.24 117.33,217.08 118.96,216.90 120.60,216.71 122.24,216.50 123.88,216.27 125.52,216.03 127.15,215.78 128.79,215.51 130.43,215.23 132.07,214.94 133.71,214.64 135.35,214.33 136.98,214.01 138.62,213.68 140.26,213.34 141.90,213.00 143.54,212.65 145.17,212.29 146.81,211.92 148.45,211.56 150.09,211.18 151.73,210.81 153.37,210.43 155.00,210.04 156.64,209.66 158.28,209.27 159.92,208.88 161.56,208.49 163.19,208.10 164.83,207.71 166.47,207.32 168.11,206.93 169.75,206.54 171.39,206.15 173.02,205.76 174.66,205.38 176.30,205.00 177.94,204.62 179.58,204.24 181.21,203.87 182.85,203.50 184.49,203.13 186.13,202.76 187.77,202.41 189.41,202.05 191.04,201.70 192.68,201.35 194.32,201.01 195.96,200.68 197.60,200.35 199.23,200.02 200.87,199.70 202.51,199.39 204.15,199.08 205.79,198.78 207.43,198.49 209.06,198.20 210.70,197.92 212.34,197.64 213.98,197.37 215.62,197.11 217.25,196.86 218.89,196.61 220.53,196.37 222.17,196.14 223.81,195.92 225.45,195.70 227.08,195.49 228.72,195.29 230.36,195.10 232.00,194.91 233.64,194.73 235.27,194.57 236.91,194.40 238.55,194.25 240.19,194.11 241.83,193.97 243.47,193.85 245.10,193.73 246.74,193.62 248.38,193.52 250.02,193.42 251.66,193.34 253.29,193.26 254.93,193.20 256.57,193.14 258.21,193.09 259.85,193.05 261.49,193.02 263.12,193.00 264.76,192.98 266.40,192.98 268.04,192.98 269.68,193.00 271.31,193.02 272.95,193.05 274.59,193.09 276.23,193.14 277.87,193.20 279.51,193.26 281.14,193.34 282.78,193.42 284.42,193.52 286.06,193.62 287.70,193.73 289.33,193.85 290.97,193.97 292.61,194.11 294.25,194.25 295.89,194.40 297.53,194.57 299.16,194.73 300.80,194.91 302.44,195.10 304.08,195.29 305.72,195.49 307.35,195.70 308.99,195.92 310.63,196.14 312.27,196.37 313.91,196.61 315.55,196.86 317.18,197.11 318.82,197.37 320.46,197.64 322.10,197.92 323.74,198.20 325.37,198.49 327.01,198.78 328.65,199.08 330.29,199.39 331.93,199.70 333.57,200.02 335.20,200.35 336.84,200.68 338.48,201.01 340.12,201.35 341.76,201.70 343.39,202.05 345.03,202.41 346.67,202.76 348.31,203.13 349.95,203.50 351.59,203.87 353.22,204.24 354.86,204.62 356.50,205.00 358.14,205.38 359.78,205.76 361.41,206.15 363.05,206.54 364.69,206.93 366.33,207.32 367.97,207.71 369.61,208.10 371.24,208.49 372.88,208.88 374.52,209.27 376.16,209.66 377.80,210.04 379.43,210.43 381.07,210.81 382.71,211.18 384.35,211.56 385.99,211.92 387.63,212.29 389.26,212.65 390.90,213.00 392.54,213.34 394.18,213.68 395.82,214.01 397.45,214.33 399.09,214.64 400.73,214.94 402.37,215.23 404.01,215.51 405.65,215.78 407.28,216.03 408.92,216.27 410.56,216.50 412.20,216.71 413.84,216.90 415.47,217.08 417.11,217.24 418.75,217.39 420.39,217.51 422.03,217.62 423.67,217.71 425.30,217.78 426.94,217.83 428.58,217.86 430.22,217.87 431.86,217.86 433.49,217.83 435.13,217.78 436.77,217.71 438.41,217.62 440.05,217.51 441.69,217.39 443.32,217.24 444.96,217.08 446.60,216.90" fill="none" stroke="#231f20" stroke-width="2.2"/>
<circle cx="102.58" cy="258.13" r="4.6" fill="#231f20"/>
<circle cx="157.19" cy="266.47" r="4.6" fill="#231f20"/>
<circle cx="211.79" cy="278.27" r="4.6" fill="#231f20"/>
<circle cx="211.79" cy="238.00" r="4.6" fill="#231f20"/>
<circle cx="266.40" cy="283.02" r="4.6" fill="#231f20"/>
<circle cx="266.40" cy="238.00" r="4.6" fill="#231f20"/>
<circle cx="321.01" cy="278.27" r="4.6" fill="#231f20"/>
<circle cx="321.01" cy="238.00" r="4.6" fill="#231f20"/>
<circle cx="375.61" cy="266.47" r="4.6" fill="#231f20"/>
<circle cx="430.22" cy="258.13" r="4.6" fill="#231f20"/>
</g>
<g clip-path="url(#cp01)">
<polyline points="86.20,508.10 87.84,507.92 89.48,507.76 91.11,507.61 92.75,507.49 94.39,507.38 96.03,507.29 97.67,507.22 99.31,507.17 100.94,507.14 102.58,507.13 104.22,507.14 105.86,507.17 107.50,507.22 109.13,507.29 110.77,507.38 112.41,507.49 114.05,507.61 115.69,507.76 117.33,507.92 118.96,508.10 120.60,508.29 122.24,508.50 123.88,508.73 125.52,508.97 127.15,509.22 128.79,509.49 130.43,509.77 132.07,510.06 133.71,510.36 135.35,510.67 136.98,510.99 138.62,511.32 140.26,511.66 141.90,512.00 143.54,512.35 145.17,512.71 146.81,513.08 148.45,513.44 150.09,513.82 151.73,514.19 153.37,514.57 155.00,514.96 156.64,515.34 158.28,515.73 159.92,516.12 161.56,516.51 163.19,516.90 164.83,517.29 166.47,517.68 168.11,518.07 169.75,518.46 171.39,518.85 173.02,519.24 174.66,519.62 176.30,520.00 177.94,520.38 179.58,520.76 181.21,521.13 182.85,521.50 184.49,521.87 186.13,522.24 187.77,522.59 189.41,522.95 191.04,523.30 192.68,523.65 194.32,523.99 195.96,524.32 197.60,524.65 199.23,524.98 200.87,525.30 202.51,525.61 204.15,525.92 205.79,526.22 207.43,526.51 209.06,526.80 210.70,527.08 212.34,527.36 213.98,527.63 215.62,527.89 217.25,528.14 218.89,528.39 220.53,528.63 222.17,528.86 223.81,529.08 225.45,529.30 227.08,529.51 228.72,529.71 230.36,529.90 232.00,530.09 233.64,530.27 235.27,530.43 236.91,530.60 238.55,530.75 240.19,530.89 241.83,531.03 243.47,531.15 245.10,531.27 246.74,531.38 248.38,531.48 250.02,531.58 251.66,531.66 253.29,531.74 254.93,531.80 256.57,531.86 258.21,531.91 259.85,531.95 261.49,531.98 263.12,532.00 264.76,532.02 266.40,532.02 268.04,532.02 269.68,532.00 271.31,531.98 272.95,531.95 274.59,531.91 276.23,531.86 277.87,531.80 279.51,531.74 281.14,531.66 282.78,531.58 284.42,531.48 286.06,531.38 287.70,531.27 289.33,531.15 290.97,531.03 292.61,530.89 294.25,530.75 295.89,530.60 297.53,530.43 299.16,530.27 300.80,530.09 302.44,529.90 304.08,529.71 305.72,529.51 307.35,529.30 308.99,529.08 310.63,528.86 312.27,528.63 313.91,528.39 315.55,528.14 317.18,527.89 318.82,527.63 320.46,527.36 322.10,527.08 323.74,526.80 325.37,526.51 327.01,526.22 328.65,525.92 330.29,525.61 331.93,525.30 333.57,524.98 335.20,524.65 336.84,524.32 338.48,523.99 340.12,523.65 341.76,523.30 343.39,522.95 345.03,522.59 346.67,522.24 348.31,521.87 349.95,521.50 351.59,521.13 353.22,520.76 354.86,520.38 356.50,520.00 358.14,519.62 359.78,519.24 361.41,518.85 363.05,518.46 364.69,518.07 366.33,517.68 367.97,517.29 369.61,516.90 371.24,516.51 372.88,516.12 374.52,515.73 376.16,515.34 377.80,514.96 379.43,514.57 381.07,514.19 382.71,513.82 384.35,513.44 385.99,513.08 387.63,512.71 389.26,512.35 390.90,512.00 392.54,511.66 394.18,511.32 395.82,510.99 397.45,510.67 399.09,510.36 400.73,510.06 402.37,509.77 404.01,509.49 405.65,509.22 407.28,508.97 408.92,508.73 410.56,508.50 412.20,508.29 413.84,508.10 415.47,507.92 417.11,507.76 418.75,507.61 420.39,507.49 422.03,507.38 423.67,507.29 425.30,507.22 426.94,507.17 428.58,507.14 430.22,507.13 431.86,507.14 433.49,507.17 435.13,507.22 436.77,507.29 438.41,507.38 440.05,507.49 441.69,507.61 443.32,507.76 444.96,507.92 446.60,508.10" fill="none" stroke="#231f20" stroke-width="2.2"/>
<polyline points="86.20,487.00 87.84,487.00 89.48,487.00 91.11,487.00 92.75,487.00 94.39,487.00 96.03,487.00 97.67,487.00 99.31,487.00 100.94,487.00 102.58,487.00 104.22,487.00 105.86,487.00 107.50,487.00 109.13,487.00 110.77,487.00 112.41,487.00 114.05,487.00 115.69,487.00 117.33,487.00 118.96,487.00 120.60,487.00 122.24,487.00 123.88,487.00 125.52,487.00 127.15,487.00 128.79,487.00 130.43,487.00 132.07,487.00 133.71,487.00 135.35,487.00 136.98,487.00 138.62,487.00 140.26,487.00 141.90,487.00 143.54,487.00 145.17,487.00 146.81,487.00 148.45,487.00 150.09,487.00 151.73,487.00 153.37,487.00 155.00,487.00 156.64,487.00 158.28,487.00 159.92,487.00 161.56,487.00 163.19,487.00 164.83,487.00 166.47,487.00 168.11,487.00 169.75,487.00 171.39,487.00 173.02,487.00 174.66,487.00 176.30,487.00 177.94,487.00 179.58,487.00 181.21,487.00 182.85,487.00 184.49,487.00 186.13,487.00 187.77,487.00 189.41,487.00 191.04,487.00 192.68,487.00 194.32,487.00 195.96,487.00 197.60,487.00 199.23,487.00 200.87,487.00 202.51,487.00 204.15,487.00 205.79,487.00 207.43,487.00 209.06,487.00 210.70,487.00 212.34,487.00 213.98,487.00 215.62,487.00 217.25,487.00 218.89,487.00 220.53,487.00 222.17,487.00 223.81,487.00 225.45,487.00 227.08,487.00 228.72,487.00 230.36,487.00 232.00,487.00 233.64,487.00 235.27,487.00 236.91,487.00 238.55,487.00 240.19,487.00 241.83,487.00 243.47,487.00 245.10,487.00 246.74,487.00 248.38,487.00 250.02,487.00 251.66,487.00 253.29,487.00 254.93,487.00 256.57,487.00 258.21,487.00 259.85,487.00 261.49,487.00 263.12,487.00 264.76,487.00 266.40,487.00 268.04,487.00 269.68,487.00 271.31,487.00 272.95,487.00 274.59,487.00 276.23,487.00 277.87,487.00 279.51,487.00 281.14,487.00 282.78,487.00 284.42,487.00 286.06,487.00 287.70,487.00 289.33,487.00 290.97,487.00 292.61,487.00 294.25,487.00 295.89,487.00 297.53,487.00 299.16,487.00 300.80,487.00 302.44,487.00 304.08,487.00 305.72,487.00 307.35,487.00 308.99,487.00 310.63,487.00 312.27,487.00 313.91,487.00 315.55,487.00 317.18,487.00 318.82,487.00 320.46,487.00 322.10,487.00 323.74,487.00 325.37,487.00 327.01,487.00 328.65,487.00 330.29,487.00 331.93,487.00 333.57,487.00 335.20,487.00 336.84,487.00 338.48,487.00 340.12,487.00 341.76,487.00 343.39,487.00 345.03,487.00 346.67,487.00 348.31,487.00 349.95,487.00 351.59,487.00 353.22,487.00 354.86,487.00 356.50,487.00 358.14,487.00 359.78,487.00 361.41,487.00 363.05,487.00 364.69,487.00 366.33,487.00 367.97,487.00 369.61,487.00 371.24,487.00 372.88,487.00 374.52,487.00 376.16,487.00 377.80,487.00 379.43,487.00 381.07,487.00 382.71,487.00 384.35,487.00 385.99,487.00 387.63,487.00 389.26,487.00 390.90,487.00 392.54,487.00 394.18,487.00 395.82,487.00 397.45,487.00 399.09,487.00 400.73,487.00 402.37,487.00 404.01,487.00 405.65,487.00 407.28,487.00 408.92,487.00 410.56,487.00 412.20,487.00 413.84,487.00 415.47,487.00 417.11,487.00 418.75,487.00 420.39,487.00 422.03,487.00 423.67,487.00 425.30,487.00 426.94,487.00 428.58,487.00 430.22,487.00 431.86,487.00 433.49,487.00 435.13,487.00 436.77,487.00 438.41,487.00 440.05,487.00 441.69,487.00 443.32,487.00 444.96,487.00 446.60,487.00" fill="none" stroke="#231f20" stroke-width="2.2"/>
<polyline points="86.20,465.90 87.84,466.08 89.48,466.24 91.11,466.39 92.75,466.51 94.39,466.62 96.03,466.71 97.67,466.78 99.31,466.83 100.94,466.86 102.58,466.87 104.22,466.86 105.86,466.83 107.50,466.78 109.13,466.71 110.77,466.62 112.41,466.51 114.05,466.39 115.69,466.24 117.33,466.08 118.96,465.90 120.60,465.71 122.24,465.50 123.88,465.27 125.52,465.03 127.15,464.78 128.79,464.51 130.43,464.23 132.07,463.94 133.71,463.64 135.35,463.33 136.98,463.01 138.62,462.68 140.26,462.34 141.90,462.00 143.54,461.65 145.17,461.29 146.81,460.92 148.45,460.56 150.09,460.18 151.73,459.81 153.37,459.43 155.00,459.04 156.64,458.66 158.28,458.27 159.92,457.88 161.56,457.49 163.19,457.10 164.83,456.71 166.47,456.32 168.11,455.93 169.75,455.54 171.39,455.15 173.02,454.76 174.66,454.38 176.30,454.00 177.94,453.62 179.58,453.24 181.21,452.87 182.85,452.50 184.49,452.13 186.13,451.76 187.77,451.41 189.41,451.05 191.04,450.70 192.68,450.35 194.32,450.01 195.96,449.68 197.60,449.35 199.23,449.02 200.87,448.70 202.51,448.39 204.15,448.08 205.79,447.78 207.43,447.49 209.06,447.20 210.70,446.92 212.34,446.64 213.98,446.37 215.62,446.11 217.25,445.86 218.89,445.61 220.53,445.37 222.17,445.14 223.81,444.92 225.45,444.70 227.08,444.49 228.72,444.29 230.36,444.10 232.00,443.91 233.64,443.73 235.27,443.57 236.91,443.40 238.55,443.25 240.19,443.11 241.83,442.97 243.47,442.85 245.10,442.73 246.74,442.62 248.38,442.52 250.02,442.42 251.66,442.34 253.29,442.26 254.93,442.20 256.57,442.14 258.21,442.09 259.85,442.05 261.49,442.02 263.12,442.00 264.76,441.98 266.40,441.98 268.04,441.98 269.68,442.00 271.31,442.02 272.95,442.05 274.59,442.09 276.23,442.14 277.87,442.20 279.51,442.26 281.14,442.34 282.78,442.42 284.42,442.52 286.06,442.62 287.70,442.73 289.33,442.85 290.97,442.97 292.61,443.11 294.25,443.25 295.89,443.40 297.53,443.57 299.16,443.73 300.80,443.91 302.44,444.10 304.08,444.29 305.72,444.49 307.35,444.70 308.99,444.92 310.63,445.14 312.27,445.37 313.91,445.61 315.55,445.86 317.18,446.11 318.82,446.37 320.46,446.64 322.10,446.92 323.74,447.20 325.37,447.49 327.01,447.78 328.65,448.08 330.29,448.39 331.93,448.70 333.57,449.02 335.20,449.35 336.84,449.68 338.48,450.01 340.12,450.35 341.76,450.70 343.39,451.05 345.03,451.41 346.67,451.76 348.31,452.13 349.95,452.50 351.59,452.87 353.22,453.24 354.86,453.62 356.50,454.00 358.14,454.38 359.78,454.76 361.41,455.15 363.05,455.54 364.69,455.93 366.33,456.32 367.97,456.71 369.61,457.10 371.24,457.49 372.88,457.88 374.52,458.27 376.16,458.66 377.80,459.04 379.43,459.43 381.07,459.81 382.71,460.18 384.35,460.56 385.99,460.92 387.63,461.29 389.26,461.65 390.90,462.00 392.54,462.34 394.18,462.68 395.82,463.01 397.45,463.33 399.09,463.64 400.73,463.94 402.37,464.23 404.01,464.51 405.65,464.78 407.28,465.03 408.92,465.27 410.56,465.50 412.20,465.71 413.84,465.90 415.47,466.08 417.11,466.24 418.75,466.39 420.39,466.51 422.03,466.62 423.67,466.71 425.30,466.78 426.94,466.83 428.58,466.86 430.22,466.87 431.86,466.86 433.49,466.83 435.13,466.78 436.77,466.71 438.41,466.62 440.05,466.51 441.69,466.39 443.32,466.24 444.96,466.08 446.60,465.90" fill="none" stroke="#231f20" stroke-width="2.2"/>
<circle cx="102.58" cy="507.13" r="4.6" fill="#231f20"/>
<circle cx="157.19" cy="515.47" r="4.6" fill="#231f20"/>
<circle cx="211.79" cy="527.27" r="4.6" fill="#231f20"/>
<circle cx="211.79" cy="487.00" r="4.6" fill="#231f20"/>
<circle cx="266.40" cy="532.02" r="4.6" fill="#231f20"/>
<circle cx="266.40" cy="487.00" r="4.6" fill="#231f20"/>
<circle cx="321.01" cy="527.27" r="4.6" fill="#231f20"/>
<circle cx="321.01" cy="487.00" r="4.6" fill="#231f20"/>
<circle cx="375.61" cy="515.47" r="4.6" fill="#231f20"/>
<circle cx="430.22" cy="507.13" r="4.6" fill="#231f20"/>
</g>
<g clip-path="url(#cp02)">
<polyline points="86.20,757.10 87.84,756.92 89.48,756.76 91.11,756.61 92.75,756.49 94.39,756.38 96.03,756.29 97.67,756.22 99.31,756.17 100.94,756.14 102.58,756.13 104.22,756.14 105.86,756.17 107.50,756.22 109.13,756.29 110.77,756.38 112.41,756.49 114.05,756.61 115.69,756.76 117.33,756.92 118.96,757.10 120.60,757.29 122.24,757.50 123.88,757.73 125.52,757.97 127.15,758.22 128.79,758.49 130.43,758.77 132.07,759.06 133.71,759.36 135.35,759.67 136.98,759.99 138.62,760.32 140.26,760.66 141.90,761.00 143.54,761.35 145.17,761.71 146.81,762.08 148.45,762.44 150.09,762.82 151.73,763.19 153.37,763.57 155.00,763.96 156.64,764.34 158.28,764.73 159.92,765.12 161.56,765.51 163.19,765.90 164.83,766.29 166.47,766.68 168.11,767.07 169.75,767.46 171.39,767.85 173.02,768.24 174.66,768.62 176.30,769.00 177.94,769.38 179.58,769.76 181.21,770.13 182.85,770.50 184.49,770.87 186.13,771.24 187.77,771.59 189.41,771.95 191.04,772.30 192.68,772.65 194.32,772.99 195.96,773.32 197.60,773.65 199.23,773.98 200.87,774.30 202.51,774.61 204.15,774.92 205.79,775.22 207.43,775.51 209.06,775.80 210.70,776.08 212.34,776.36 213.98,776.63 215.62,776.89 217.25,777.14 218.89,777.39 220.53,777.63 222.17,777.86 223.81,778.08 225.45,778.30 227.08,778.51 228.72,778.71 230.36,778.90 232.00,779.09 233.64,779.27 235.27,779.43 236.91,779.60 238.55,779.75 240.19,779.89 241.83,780.03 243.47,780.15 245.10,780.27 246.74,780.38 248.38,780.48 250.02,780.58 251.66,780.66 253.29,780.74 254.93,780.80 256.57,780.86 258.21,780.91 259.85,780.95 261.49,780.98 263.12,781.00 264.76,781.02 266.40,781.02 268.04,781.02 269.68,781.00 271.31,780.98 272.95,780.95 274.59,780.91 276.23,780.86 277.87,780.80 279.51,780.74 281.14,780.66 282.78,780.58 284.42,780.48 286.06,780.38 287.70,780.27 289.33,780.15 290.97,780.03 292.61,779.89 294.25,779.75 295.89,779.60 297.53,779.43 299.16,779.27 300.80,779.09 302.44,778.90 304.08,778.71 305.72,778.51 307.35,778.30 308.99,778.08 310.63,777.86 312.27,777.63 313.91,777.39 315.55,777.14 317.18,776.89 318.82,776.63 320.46,776.36 322.10,776.08 323.74,775.80 325.37,775.51 327.01,775.22 328.65,774.92 330.29,774.61 331.93,774.30 333.57,773.98 335.20,773.65 336.84,773.32 338.48,772.99 340.12,772.65 341.76,772.30 343.39,771.95 345.03,771.59 346.67,771.24 348.31,770.87 349.95,770.50 351.59,770.13 353.22,769.76 354.86,769.38 356.50,769.00 358.14,768.62 359.78,768.24 361.41,767.85 363.05,767.46 364.69,767.07 366.33,766.68 367.97,766.29 369.61,765.90 371.24,765.51 372.88,765.12 374.52,764.73 376.16,764.34 377.80,763.96 379.43,763.57 381.07,763.19 382.71,762.82 384.35,762.44 385.99,762.08 387.63,761.71 389.26,761.35 390.90,761.00 392.54,760.66 394.18,760.32 395.82,759.99 397.45,759.67 399.09,759.36 400.73,759.06 402.37,758.77 404.01,758.49 405.65,758.22 407.28,757.97 408.92,757.73 410.56,757.50 412.20,757.29 413.84,757.10 415.47,756.92 417.11,756.76 418.75,756.61 420.39,756.49 422.03,756.38 423.67,756.29 425.30,756.22 426.94,756.17 428.58,756.14 430.22,756.13 431.86,756.14 433.49,756.17 435.13,756.22 436.77,756.29 438.41,756.38 440.05,756.49 441.69,756.61 443.32,756.76 444.96,756.92 446.60,757.10" fill="none" stroke="#231f20" stroke-width="2.2"/>
<polyline points="86.20,736.00 87.84,736.00 89.48,736.00 91.11,736.00 92.75,736.00 94.39,736.00 96.03,736.00 97.67,736.00 99.31,736.00 100.94,736.00 102.58,736.00 104.22,736.00 105.86,736.00 107.50,736.00 109.13,736.00 110.77,736.00 112.41,736.00 114.05,736.00 115.69,736.00 117.33,736.00 118.96,736.00 120.60,736.00 122.24,736.00 123.88,736.00 125.52,736.00 127.15,736.00 128.79,736.00 130.43,736.00 132.07,736.00 133.71,736.00 135.35,736.00 136.98,736.00 138.62,736.00 140.26,736.00 141.90,736.00 143.54,736.00 145.17,736.00 146.81,736.00 148.45,736.00 150.09,736.00 151.73,736.00 153.37,736.00 155.00,736.00 156.64,736.00 158.28,736.00 159.92,736.00 161.56,736.00 163.19,736.00 164.83,736.00 166.47,736.00 168.11,736.00 169.75,736.00 171.39,736.00 173.02,736.00 174.66,736.00 176.30,736.00 177.94,736.00 179.58,736.00 181.21,736.00 182.85,736.00 184.49,736.00 186.13,736.00 187.77,736.00 189.41,736.00 191.04,736.00 192.68,736.00 194.32,736.00 195.96,736.00 197.60,736.00 199.23,736.00 200.87,736.00 202.51,736.00 204.15,736.00 205.79,736.00 207.43,736.00 209.06,736.00 210.70,736.00 212.34,736.00 213.98,736.00 215.62,736.00 217.25,736.00 218.89,736.00 220.53,736.00 222.17,736.00 223.81,736.00 225.45,736.00 227.08,736.00 228.72,736.00 230.36,736.00 232.00,736.00 233.64,736.00 235.27,736.00 236.91,736.00 238.55,736.00 240.19,736.00 241.83,736.00 243.47,736.00 245.10,736.00 246.74,736.00 248.38,736.00 250.02,736.00 251.66,736.00 253.29,736.00 254.93,736.00 256.57,736.00 258.21,736.00 259.85,736.00 261.49,736.00 263.12,736.00 264.76,736.00 266.40,736.00 268.04,736.00 269.68,736.00 271.31,736.00 272.95,736.00 274.59,736.00 276.23,736.00 277.87,736.00 279.51,736.00 281.14,736.00 282.78,736.00 284.42,736.00 286.06,736.00 287.70,736.00 289.33,736.00 290.97,736.00 292.61,736.00 294.25,736.00 295.89,736.00 297.53,736.00 299.16,736.00 300.80,736.00 302.44,736.00 304.08,736.00 305.72,736.00 307.35,736.00 308.99,736.00 310.63,736.00 312.27,736.00 313.91,736.00 315.55,736.00 317.18,736.00 318.82,736.00 320.46,736.00 322.10,736.00 323.74,736.00 325.37,736.00 327.01,736.00 328.65,736.00 330.29,736.00 331.93,736.00 333.57,736.00 335.20,736.00 336.84,736.00 338.48,736.00 340.12,736.00 341.76,736.00 343.39,736.00 345.03,736.00 346.67,736.00 348.31,736.00 349.95,736.00 351.59,736.00 353.22,736.00 354.86,736.00 356.50,736.00 358.14,736.00 359.78,736.00 361.41,736.00 363.05,736.00 364.69,736.00 366.33,736.00 367.97,736.00 369.61,736.00 371.24,736.00 372.88,736.00 374.52,736.00 376.16,736.00 377.80,736.00 379.43,736.00 381.07,736.00 382.71,736.00 384.35,736.00 385.99,736.00 387.63,736.00 389.26,736.00 390.90,736.00 392.54,736.00 394.18,736.00 395.82,736.00 397.45,736.00 399.09,736.00 400.73,736.00 402.37,736.00 404.01,736.00 405.65,736.00 407.28,736.00 408.92,736.00 410.56,736.00 412.20,736.00 413.84,736.00 415.47,736.00 417.11,736.00 418.75,736.00 420.39,736.00 422.03,736.00 423.67,736.00 425.30,736.00 426.94,736.00 428.58,736.00 430.22,736.00 431.86,736.00 433.49,736.00 435.13,736.00 436.77,736.00 438.41,736.00 440.05,736.00 441.69,736.00 443.32,736.00 444.96,736.00 446.60,736.00" fill="none" stroke="#231f20" stroke-width="2.2"/>
<polyline points="86.20,714.90 87.84,715.08 89.48,715.24 91.11,715.39 92.75,715.51 94.39,715.62 96.03,715.71 97.67,715.78 99.31,715.83 100.94,715.86 102.58,715.87 104.22,715.86 105.86,715.83 107.50,715.78 109.13,715.71 110.77,715.62 112.41,715.51 114.05,715.39 115.69,715.24 117.33,715.08 118.96,714.90 120.60,714.71 122.24,714.50 123.88,714.27 125.52,714.03 127.15,713.78 128.79,713.51 130.43,713.23 132.07,712.94 133.71,712.64 135.35,712.33 136.98,712.01 138.62,711.68 140.26,711.34 141.90,711.00 143.54,710.65 145.17,710.29 146.81,709.92 148.45,709.56 150.09,709.18 151.73,708.81 153.37,708.43 155.00,708.04 156.64,707.66 158.28,707.27 159.92,706.88 161.56,706.49 163.19,706.10 164.83,705.71 166.47,705.32 168.11,704.93 169.75,704.54 171.39,704.15 173.02,703.76 174.66,703.38 176.30,703.00 177.94,702.62 179.58,702.24 181.21,701.87 182.85,701.50 184.49,701.13 186.13,700.76 187.77,700.41 189.41,700.05 191.04,699.70 192.68,699.35 194.32,699.01 195.96,698.68 197.60,698.35 199.23,698.02 200.87,697.70 202.51,697.39 204.15,697.08 205.79,696.78 207.43,696.49 209.06,696.20 210.70,695.92 212.34,695.64 213.98,695.37 215.62,695.11 217.25,694.86 218.89,694.61 220.53,694.37 222.17,694.14 223.81,693.92 225.45,693.70 227.08,693.49 228.72,693.29 230.36,693.10 232.00,692.91 233.64,692.73 235.27,692.57 236.91,692.40 238.55,692.25 240.19,692.11 241.83,691.97 243.47,691.85 245.10,691.73 246.74,691.62 248.38,691.52 250.02,691.42 251.66,691.34 253.29,691.26 254.93,691.20 256.57,691.14 258.21,691.09 259.85,691.05 261.49,691.02 263.12,691.00 264.76,690.98 266.40,690.98 268.04,690.98 269.68,691.00 271.31,691.02 272.95,691.05 274.59,691.09 276.23,691.14 277.87,691.20 279.51,691.26 281.14,691.34 282.78,691.42 284.42,691.52 286.06,691.62 287.70,691.73 289.33,691.85 290.97,691.97 292.61,692.11 294.25,692.25 295.89,692.40 297.53,692.57 299.16,692.73 300.80,692.91 302.44,693.10 304.08,693.29 305.72,693.49 307.35,693.70 308.99,693.92 310.63,694.14 312.27,694.37 313.91,694.61 315.55,694.86 317.18,695.11 318.82,695.37 320.46,695.64 322.10,695.92 323.74,696.20 325.37,696.49 327.01,696.78 328.65,697.08 330.29,697.39 331.93,697.70 333.57,698.02 335.20,698.35 336.84,698.68 338.48,699.01 340.12,699.35 341.76,699.70 343.39,700.05 345.03,700.41 346.67,700.76 348.31,701.13 349.95,701.50 351.59,701.87 353.22,702.24 354.86,702.62 356.50,703.00 358.14,703.38 359.78,703.76 361.41,704.15 363.05,704.54 364.69,704.93 366.33,705.32 367.97,705.71 369.61,706.10 371.24,706.49 372.88,706.88 374.52,707.27 376.16,707.66 377.80,708.04 379.43,708.43 381.07,708.81 382.71,709.18 384.35,709.56 385.99,709.92 387.63,710.29 389.26,710.65 390.90,711.00 392.54,711.34 394.18,711.68 395.82,712.01 397.45,712.33 399.09,712.64 400.73,712.94 402.37,713.23 404.01,713.51 405.65,713.78 407.28,714.03 408.92,714.27 410.56,714.50 412.20,714.71 413.84,714.90 415.47,715.08 417.11,715.24 418.75,715.39 420.39,715.51 422.03,715.62 423.67,715.71 425.30,715.78 426.94,715.83 428.58,715.86 430.22,715.87 431.86,715.86 433.49,715.83 435.13,715.78 436.77,715.71 438.41,715.62 440.05,715.51 441.69,715.39 443.32,715.24 444.96,715.08 446.60,714.90" fill="none" stroke="#231f20" stroke-width="2.2"/>
<circle cx="102.58" cy="756.13" r="4.6" fill="#231f20"/>
<circle cx="157.19" cy="764.47" r="4.6" fill="#231f20"/>
<circle cx="211.79" cy="776.27" r="4.6" fill="#231f20"/>
<circle cx="211.79" cy="736.00" r="4.6" fill="#231f20"/>
<circle cx="266.40" cy="781.02" r="4.6" fill="#231f20"/>
<circle cx="266.40" cy="736.00" r="4.6" fill="#231f20"/>
<circle cx="321.01" cy="776.27" r="4.6" fill="#231f20"/>
<circle cx="321.01" cy="736.00" r="4.6" fill="#231f20"/>
<circle cx="375.61" cy="764.47" r="4.6" fill="#231f20"/>
<circle cx="430.22" cy="756.13" r="4.6" fill="#231f20"/>
</g>
<g clip-path="url(#cp10)">
<polyline points="452.80,242.58 454.44,242.47 456.08,242.38 457.71,242.29 459.35,242.22 460.99,242.16 462.63,242.11 464.27,242.07 465.91,242.05 467.54,242.03 469.18,242.02 470.82,242.03 472.46,242.05 474.10,242.07 475.73,242.11 477.37,242.16 479.01,242.22 480.65,242.29 482.29,242.38 483.93,242.47 485.56,242.58 487.20,242.69 488.84,242.82 490.48,242.96 492.12,243.10 493.75,243.26 495.39,243.43 497.03,243.61 498.67,243.80 500.31,243.99 501.95,244.20 503.58,244.42 505.22,244.64 506.86,244.88 508.50,245.12 510.14,245.37 511.77,245.63 513.41,245.89 515.05,246.16 516.69,246.44 518.33,246.72 519.97,247.01 521.60,247.31 523.24,247.60 524.88,247.91 526.52,248.22 528.16,248.53 529.79,248.84 531.43,249.16 533.07,249.48 534.71,249.80 536.35,250.12 537.99,250.44 539.62,250.76 541.26,251.09 542.90,251.41 544.54,251.74 546.18,252.06 547.81,252.38 549.45,252.70 551.09,253.02 552.73,253.34 554.37,253.65 556.01,253.96 557.64,254.27 559.28,254.58 560.92,254.88 562.56,255.18 564.20,255.48 565.83,255.77 567.47,256.05 569.11,256.34 570.75,256.61 572.39,256.89 574.03,257.15 575.66,257.42 577.30,257.67 578.94,257.92 580.58,258.17 582.22,258.41 583.85,258.64 585.49,258.87 587.13,259.09 588.77,259.30 590.41,259.51 592.05,259.71 593.68,259.90 595.32,260.09 596.96,260.26 598.60,260.44 600.24,260.60 601.87,260.76 603.51,260.91 605.15,261.05 606.79,261.18 608.43,261.31 610.07,261.43 611.70,261.54 613.34,261.64 614.98,261.73 616.62,261.82 618.26,261.90 619.89,261.97 621.53,262.03 623.17,262.09 624.81,262.13 626.45,262.17 628.09,262.20 629.72,262.22 631.36,262.23 633.00,262.23 634.64,262.23 636.28,262.22 637.91,262.20 639.55,262.17 641.19,262.13 642.83,262.09 644.47,262.03 646.11,261.97 647.74,261.90 649.38,261.82 651.02,261.73 652.66,261.64 654.30,261.54 655.93,261.43 657.57,261.31 659.21,261.18 660.85,261.05 662.49,260.91 664.13,260.76 665.76,260.60 667.40,260.44 669.04,260.26 670.68,260.09 672.32,259.90 673.95,259.71 675.59,259.51 677.23,259.30 678.87,259.09 680.51,258.87 682.15,258.64 683.78,258.41 685.42,258.17 687.06,257.92 688.70,257.67 690.34,257.42 691.97,257.15 693.61,256.89 695.25,256.61 696.89,256.34 698.53,256.05 700.17,255.77 701.80,255.48 703.44,255.18 705.08,254.88 706.72,254.58 708.36,254.27 709.99,253.96 711.63,253.65 713.27,253.34 714.91,253.02 716.55,252.70 718.19,252.38 719.82,252.06 721.46,251.74 723.10,251.41 724.74,251.09 726.38,250.76 728.01,250.44 729.65,250.12 731.29,249.80 732.93,249.48 734.57,249.16 736.21,248.84 737.84,248.53 739.48,248.22 741.12,247.91 742.76,247.60 744.40,247.31 746.03,247.01 747.67,246.72 749.31,246.44 750.95,246.16 752.59,245.89 754.23,245.63 755.86,245.37 757.50,245.12 759.14,244.88 760.78,244.64 762.42,244.42 764.05,244.20 765.69,243.99 767.33,243.80 768.97,243.61 770.61,243.43 772.25,243.26 773.88,243.10 775.52,242.96 777.16,242.82 778.80,242.69 780.44,242.58 782.07,242.47 783.71,242.38 785.35,242.29 786.99,242.22 788.63,242.16 790.27,242.11 791.90,242.07 793.54,242.05 795.18,242.03 796.82,242.02 798.46,242.03 800.09,242.05 801.73,242.07 803.37,242.11 805.01,242.16 806.65,242.22 808.29,242.29 809.92,242.38 811.56,242.47 813.20,242.58" fill="none" stroke="#231f20" stroke-width="2.2"/>
<polyline points="452.80,226.30 454.44,226.23 456.08,226.17 457.71,226.11 459.35,226.06 460.99,226.02 462.63,225.98 464.27,225.96 465.91,225.94 467.54,225.92 469.18,225.92 470.82,225.92 472.46,225.94 474.10,225.96 475.73,225.98 477.37,226.02 479.01,226.06 480.65,226.11 482.29,226.17 483.93,226.23 485.56,226.30 487.20,226.37 488.84,226.45 490.48,226.53 492.12,226.62 493.75,226.71 495.39,226.80 497.03,226.89 498.67,226.99 500.31,227.08 501.95,227.18 503.58,227.27 505.22,227.37 506.86,227.47 508.50,227.56 510.14,227.65 511.77,227.75 513.41,227.84 515.05,227.92 516.69,228.01 518.33,228.10 519.97,228.18 521.60,228.26 523.24,228.34 524.88,228.41 526.52,228.49 528.16,228.56 529.79,228.63 531.43,228.69 533.07,228.76 534.71,228.82 536.35,228.88 537.99,228.93 539.62,228.99 541.26,229.04 542.90,229.09 544.54,229.14 546.18,229.19 547.81,229.23 549.45,229.28 551.09,229.32 552.73,229.36 554.37,229.40 556.01,229.43 557.64,229.47 559.28,229.50 560.92,229.53 562.56,229.57 564.20,229.60 565.83,229.62 567.47,229.65 569.11,229.68 570.75,229.70 572.39,229.73 574.03,229.75 575.66,229.77 577.30,229.79 578.94,229.81 580.58,229.83 582.22,229.85 583.85,229.87 585.49,229.88 587.13,229.90 588.77,229.91 590.41,229.93 592.05,229.94 593.68,229.96 595.32,229.97 596.96,229.98 598.60,229.99 600.24,230.00 601.87,230.01 603.51,230.02 605.15,230.03 606.79,230.04 608.43,230.04 610.07,230.05 611.70,230.06 613.34,230.06 614.98,230.07 616.62,230.07 618.26,230.08 619.89,230.08 621.53,230.09 623.17,230.09 624.81,230.09 626.45,230.09 628.09,230.10 629.72,230.10 631.36,230.10 633.00,230.10 634.64,230.10 636.28,230.10 637.91,230.10 639.55,230.09 641.19,230.09 642.83,230.09 644.47,230.09 646.11,230.08 647.74,230.08 649.38,230.07 651.02,230.07 652.66,230.06 654.30,230.06 655.93,230.05 657.57,230.04 659.21,230.04 660.85,230.03 662.49,230.02 664.13,230.01 665.76,230.00 667.40,229.99 669.04,229.98 670.68,229.97 672.32,229.96 673.95,229.94 675.59,229.93 677.23,229.91 678.87,229.90 680.51,229.88 682.15,229.87 683.78,229.85 685.42,229.83 687.06,229.81 688.70,229.79 690.34,229.77 691.97,229.75 693.61,229.73 695.25,229.70 696.89,229.68 698.53,229.65 700.17,229.62 701.80,229.60 703.44,229.57 705.08,229.53 706.72,229.50 708.36,229.47 709.99,229.43 711.63,229.40 713.27,229.36 714.91,229.32 716.55,229.28 718.19,229.23 719.82,229.19 721.46,229.14 723.10,229.09 724.74,229.04 726.38,228.99 728.01,228.93 729.65,228.88 731.29,228.82 732.93,228.76 734.57,228.69 736.21,228.63 737.84,228.56 739.48,228.49 741.12,228.41 742.76,228.34 744.40,228.26 746.03,228.18 747.67,228.10 749.31,228.01 750.95,227.92 752.59,227.84 754.23,227.75 755.86,227.65 757.50,227.56 759.14,227.47 760.78,227.37 762.42,227.27 764.05,227.18 765.69,227.08 767.33,226.99 768.97,226.89 770.61,226.80 772.25,226.71 773.88,226.62 775.52,226.53 777.16,226.45 778.80,226.37 780.44,226.30 782.07,226.23 783.71,226.17 785.35,226.11 786.99,226.06 788.63,226.02 790.27,225.98 791.90,225.96 793.54,225.94 795.18,225.92 796.82,225.92 798.46,225.92 800.09,225.94 801.73,225.96 803.37,225.98 805.01,226.02 806.65,226.06 808.29,226.11 809.92,226.17 811.56,226.23 813.20,226.30" fill="none" stroke="#231f20" stroke-width="2.2"/>
<polyline points="452.80,192.78 454.44,192.95 456.08,193.11 457.71,193.25 459.35,193.37 460.99,193.47 462.63,193.56 464.27,193.62 465.91,193.67 467.54,193.70 469.18,193.71 470.82,193.70 472.46,193.67 474.10,193.62 475.73,193.56 477.37,193.47 479.01,193.37 480.65,193.25 482.29,193.11 483.93,192.95 485.56,192.78 487.20,192.59 488.84,192.38 490.48,192.16 492.12,191.93 493.75,191.68 495.39,191.42 497.03,191.15 498.67,190.87 500.31,190.58 501.95,190.27 503.58,189.96 505.22,189.64 506.86,189.31 508.50,188.97 510.14,188.63 511.77,188.28 513.41,187.93 515.05,187.57 516.69,187.20 518.33,186.83 519.97,186.46 521.60,186.09 523.24,185.71 524.88,185.33 526.52,184.95 528.16,184.57 529.79,184.19 531.43,183.80 533.07,183.42 534.71,183.04 536.35,182.66 537.99,182.28 539.62,181.90 541.26,181.52 542.90,181.15 544.54,180.77 546.18,180.40 547.81,180.04 549.45,179.67 551.09,179.31 552.73,178.96 554.37,178.60 556.01,178.26 557.64,177.91 559.28,177.57 560.92,177.24 562.56,176.91 564.20,176.58 565.83,176.26 567.47,175.95 569.11,175.64 570.75,175.34 572.39,175.04 574.03,174.75 575.66,174.47 577.30,174.19 578.94,173.92 580.58,173.65 582.22,173.40 583.85,173.15 585.49,172.90 587.13,172.67 588.77,172.44 590.41,172.22 592.05,172.00 593.68,171.80 595.32,171.60 596.96,171.41 598.60,171.23 600.24,171.05 601.87,170.89 603.51,170.73 605.15,170.58 606.79,170.43 608.43,170.30 610.07,170.18 611.70,170.06 613.34,169.95 614.98,169.85 616.62,169.76 618.26,169.68 619.89,169.60 621.53,169.54 623.17,169.48 624.81,169.43 626.45,169.39 628.09,169.36 629.72,169.34 631.36,169.33 633.00,169.32 634.64,169.33 636.28,169.34 637.91,169.36 639.55,169.39 641.19,169.43 642.83,169.48 644.47,169.54 646.11,169.60 647.74,169.68 649.38,169.76 651.02,169.85 652.66,169.95 654.30,170.06 655.93,170.18 657.57,170.30 659.21,170.43 660.85,170.58 662.49,170.73 664.13,170.89 665.76,171.05 667.40,171.23 669.04,171.41 670.68,171.60 672.32,171.80 673.95,172.00 675.59,172.22 677.23,172.44 678.87,172.67 680.51,172.90 682.15,173.15 683.78,173.40 685.42,173.65 687.06,173.92 688.70,174.19 690.34,174.47 691.97,174.75 693.61,175.04 695.25,175.34 696.89,175.64 698.53,175.95 700.17,176.26 701.80,176.58 703.44,176.91 705.08,177.24 706.72,177.57 708.36,177.91 709.99,178.26 711.63,178.60 713.27,178.96 714.91,179.31 716.55,179.67 718.19,180.04 719.82,180.40 721.46,180.77 723.10,181.15 724.74,181.52 726.38,181.90 728.01,182.28 729.65,182.66 731.29,183.04 732.93,183.42 734.57,183.80 736.21,184.19 737.84,184.57 739.48,184.95 741.12,185.33 742.76,185.71 744.40,186.09 746.03,186.46 747.67,186.83 749.31,187.20 750.95,187.57 752.59,187.93 754.23,188.28 755.86,188.63 757.50,188.97 759.14,189.31 760.78,189.64 762.42,189.96 764.05,190.27 765.69,190.58 767.33,190.87 768.97,191.15 770.61,191.42 772.25,191.68 773.88,191.93 775.52,192.16 777.16,192.38 778.80,192.59 780.44,192.78 782.07,192.95 783.71,193.11 785.35,193.25 786.99,193.37 788.63,193.47 790.27,193.56 791.90,193.62 793.54,193.67 795.18,193.70 796.82,193.71 798.46,193.70 800.09,193.67 801.73,193.62 803.37,193.56 805.01,193.47 806.65,193.37 808.29,193.25 809.92,193.11 811.56,192.95 813.20,192.78" fill="none" stroke="#231f20" stroke-width="2.2"/>
<circle cx="469.18" cy="242.02" r="4.6" fill="#231f20"/>
<circle cx="523.79" cy="247.71" r="4.6" fill="#231f20"/>
<circle cx="578.39" cy="257.84" r="4.6" fill="#231f20"/>
<circle cx="578.39" cy="229.81" r="4.6" fill="#231f20"/>
<circle cx="633.00" cy="262.23" r="4.6" fill="#231f20"/>
<circle cx="633.00" cy="230.10" r="4.6" fill="#231f20"/>
<circle cx="687.61" cy="257.84" r="4.6" fill="#231f20"/>
<circle cx="687.61" cy="229.81" r="4.6" fill="#231f20"/>
<circle cx="742.21" cy="247.71" r="4.6" fill="#231f20"/>
<circle cx="796.82" cy="242.02" r="4.6" fill="#231f20"/>
</g>
<g clip-path="url(#cp11)">
<polyline points="452.80,491.58 454.44,491.47 456.08,491.38 457.71,491.29 459.35,491.22 460.99,491.16 462.63,491.11 464.27,491.07 465.91,491.05 467.54,491.03 469.18,491.02 470.82,491.03 472.46,491.05 474.10,491.07 475.73,491.11 477.37,491.16 479.01,491.22 480.65,491.29 482.29,491.38 483.93,491.47 485.56,491.58 487.20,491.69 488.84,491.82 490.48,491.96 492.12,492.10 493.75,492.26 495.39,492.43 497.03,492.61 498.67,492.80 500.31,492.99 501.95,493.20 503.58,493.42 505.22,493.64 506.86,493.88 508.50,494.12 510.14,494.37 511.77,494.63 513.41,494.89 515.05,495.16 516.69,495.44 518.33,495.72 519.97,496.01 521.60,496.31 523.24,496.60 524.88,496.91 526.52,497.22 528.16,497.53 529.79,497.84 531.43,498.16 533.07,498.48 534.71,498.80 536.35,499.12 537.99,499.44 539.62,499.76 541.26,500.09 542.90,500.41 544.54,500.74 546.18,501.06 547.81,501.38 549.45,501.70 551.09,502.02 552.73,502.34 554.37,502.65 556.01,502.96 557.64,503.27 559.28,503.58 560.92,503.88 562.56,504.18 564.20,504.48 565.83,504.77 567.47,505.05 569.11,505.34 570.75,505.61 572.39,505.89 574.03,506.15 575.66,506.42 577.30,506.67 578.94,506.92 580.58,507.17 582.22,507.41 583.85,507.64 585.49,507.87 587.13,508.09 588.77,508.30 590.41,508.51 592.05,508.71 593.68,508.90 595.32,509.09 596.96,509.26 598.60,509.44 600.24,509.60 601.87,509.76 603.51,509.91 605.15,510.05 606.79,510.18 608.43,510.31 610.07,510.43 611.70,510.54 613.34,510.64 614.98,510.73 616.62,510.82 618.26,510.90 619.89,510.97 621.53,511.03 623.17,511.09 624.81,511.13 626.45,511.17 628.09,511.20 629.72,511.22 631.36,511.23 633.00,511.23 634.64,511.23 636.28,511.22 637.91,511.20 639.55,511.17 641.19,511.13 642.83,511.09 644.47,511.03 646.11,510.97 647.74,510.90 649.38,510.82 651.02,510.73 652.66,510.64 654.30,510.54 655.93,510.43 657.57,510.31 659.21,510.18 660.85,510.05 662.49,509.91 664.13,509.76 665.76,509.60 667.40,509.44 669.04,509.26 670.68,509.09 672.32,508.90 673.95,508.71 675.59,508.51 677.23,508.30 678.87,508.09 680.51,507.87 682.15,507.64 683.78,507.41 685.42,507.17 687.06,506.92 688.70,506.67 690.34,506.42 691.97,506.15 693.61,505.89 695.25,505.61 696.89,505.34 698.53,505.05 700.17,504.77 701.80,504.48 703.44,504.18 705.08,503.88 706.72,503.58 708.36,503.27 709.99,502.96 711.63,502.65 713.27,502.34 714.91,502.02 716.55,501.70 718.19,501.38 719.82,501.06 721.46,500.74 723.10,500.41 724.74,500.09 726.38,499.76 728.01,499.44 729.65,499.12 731.29,498.80 732.93,498.48 734.57,498.16 736.21,497.84 737.84,497.53 739.48,497.22 741.12,496.91 742.76,496.60 744.40,496.31 746.03,496.01 747.67,495.72 749.31,495.44 750.95,495.16 752.59,494.89 754.23,494.63 755.86,494.37 757.50,494.12 759.14,493.88 760.78,493.64 762.42,493.42 764.05,493.20 765.69,492.99 767.33,492.80 768.97,492.61 770.61,492.43 772.25,492.26 773.88,492.10 775.52,491.96 777.16,491.82 778.80,491.69 780.44,491.58 782.07,491.47 783.71,491.38 785.35,491.29 786.99,491.22 788.63,491.16 790.27,491.11 791.90,491.07 793.54,491.05 795.18,491.03 796.82,491.02 798.46,491.03 800.09,491.05 801.73,491.07 803.37,491.11 805.01,491.16 806.65,491.22 808.29,491.29 809.92,491.38 811.56,491.47 813.20,491.58" fill="none" stroke="#231f20" stroke-width="2.2"/>
<polyline points="452.80,475.30 454.44,475.23 456.08,475.17 457.71,475.11 459.35,475.06 460.99,475.02 462.63,474.98 464.27,474.96 465.91,474.94 467.54,474.92 469.18,474.92 470.82,474.92 472.46,474.94 474.10,474.96 475.73,474.98 477.37,475.02 479.01,475.06 480.65,475.11 482.29,475.17 483.93,475.23 485.56,475.30 487.20,475.37 488.84,475.45 490.48,475.53 492.12,475.62 493.75,475.71 495.39,475.80 497.03,475.89 498.67,475.99 500.31,476.08 501.95,476.18 503.58,476.27 505.22,476.37 506.86,476.47 508.50,476.56 510.14,476.65 511.77,476.75 513.41,476.84 515.05,476.92 516.69,477.01 518.33,477.10 519.97,477.18 521.60,477.26 523.24,477.34 524.88,477.41 526.52,477.49 528.16,477.56 529.79,477.63 531.43,477.69 533.07,477.76 534.71,477.82 536.35,477.88 537.99,477.93 539.62,477.99 541.26,478.04 542.90,478.09 544.54,478.14 546.18,478.19 547.81,478.23 549.45,478.28 551.09,478.32 552.73,478.36 554.37,478.40 556.01,478.43 557.64,478.47 559.28,478.50 560.92,478.53 562.56,478.57 564.20,478.60 565.83,478.62 567.47,478.65 569.11,478.68 570.75,478.70 572.39,478.73 574.03,478.75 575.66,478.77 577.30,478.79 578.94,478.81 580.58,478.83 582.22,478.85 583.85,478.87 585.49,478.88 587.13,478.90 588.77,478.91 590.41,478.93 592.05,478.94 593.68,478.96 595.32,478.97 596.96,478.98 598.60,478.99 600.24,479.00 601.87,479.01 603.51,479.02 605.15,479.03 606.79,479.04 608.43,479.04 610.07,479.05 611.70,479.06 613.34,479.06 614.98,479.07 616.62,479.07 618.26,479.08 619.89,479.08 621.53,479.09 623.17,479.09 624.81,479.09 626.45,479.09 628.09,479.10 629.72,479.10 631.36,479.10 633.00,479.10 634.64,479.10 636.28,479.10 637.91,479.10 639.55,479.09 641.19,479.09 642.83,479.09 644.47,479.09 646.11,479.08 647.74,479.08 649.38,479.07 651.02,479.07 652.66,479.06 654.30,479.06 655.93,479.05 657.57,479.04 659.21,479.04 660.85,479.03 662.49,479.02 664.13,479.01 665.76,479.00 667.40,478.99 669.04,478.98 670.68,478.97 672.32,478.96 673.95,478.94 675.59,478.93 677.23,478.91 678.87,478.90 680.51,478.88 682.15,478.87 683.78,478.85 685.42,478.83 687.06,478.81 688.70,478.79 690.34,478.77 691.97,478.75 693.61,478.73 695.25,478.70 696.89,478.68 698.53,478.65 700.17,478.62 701.80,478.60 703.44,478.57 705.08,478.53 706.72,478.50 708.36,478.47 709.99,478.43 711.63,478.40 713.27,478.36 714.91,478.32 716.55,478.28 718.19,478.23 719.82,478.19 721.46,478.14 723.10,478.09 724.74,478.04 726.38,477.99 728.01,477.93 729.65,477.88 731.29,477.82 732.93,477.76 734.57,477.69 736.21,477.63 737.84,477.56 739.48,477.49 741.12,477.41 742.76,477.34 744.40,477.26 746.03,477.18 747.67,477.10 749.31,477.01 750.95,476.92 752.59,476.84 754.23,476.75 755.86,476.65 757.50,476.56 759.14,476.47 760.78,476.37 762.42,476.27 764.05,476.18 765.69,476.08 767.33,475.99 768.97,475.89 770.61,475.80 772.25,475.71 773.88,475.62 775.52,475.53 777.16,475.45 778.80,475.37 780.44,475.30 782.07,475.23 783.71,475.17 785.35,475.11 786.99,475.06 788.63,475.02 790.27,474.98 791.90,474.96 793.54,474.94 795.18,474.92 796.82,474.92 798.46,474.92 800.09,474.94 801.73,474.96 803.37,474.98 805.01,475.02 806.65,475.06 808.29,475.11 809.92,475.17 811.56,475.23 813.20,475.30" fill="none" stroke="#231f20" stroke-width="2.2"/>
<polyline points="452.80,441.78 454.44,441.95 456.08,442.11 457.71,442.25 459.35,442.37 460.99,442.47 462.63,442.56 464.27,442.62 465.91,442.67 467.54,442.70 469.18,442.71 470.82,442.70 472.46,442.67 474.10,442.62 475.73,442.56 477.37,442.47 479.01,442.37 480.65,442.25 482.29,442.11 483.93,441.95 485.56,441.78 487.20,441.59 488.84,441.38 490.48,441.16 492.12,440.93 493.75,440.68 495.39,440.42 497.03,440.15 498.67,439.87 500.31,439.58 501.95,439.27 503.58,438.96 505.22,438.64 506.86,438.31 508.50,437.97 510.14,437.63 511.77,437.28 513.41,436.93 515.05,436.57 516.69,436.20 518.33,435.83 519.97,435.46 521.60,435.09 523.24,434.71 524.88,434.33 526.52,433.95 528.16,433.57 529.79,433.19 531.43,432.80 533.07,432.42 534.71,432.04 536.35,431.66 537.99,431.28 539.62,430.90 541.26,430.52 542.90,430.15 544.54,429.77 546.18,429.40 547.81,429.04 549.45,428.67 551.09,428.31 552.73,427.96 554.37,427.60 556.01,427.26 557.64,426.91 559.28,426.57 560.92,426.24 562.56,425.91 564.20,425.58 565.83,425.26 567.47,424.95 569.11,424.64 570.75,424.34 572.39,424.04 574.03,423.75 575.66,423.47 577.30,423.19 578.94,422.92 580.58,422.65 582.22,422.40 583.85,422.15 585.49,421.90 587.13,421.67 588.77,421.44 590.41,421.22 592.05,421.00 593.68,420.80 595.32,420.60 596.96,420.41 598.60,420.23 600.24,420.05 601.87,419.89 603.51,419.73 605.15,419.58 606.79,419.43 608.43,419.30 610.07,419.18 611.70,419.06 613.34,418.95 614.98,418.85 616.62,418.76 618.26,418.68 619.89,418.60 621.53,418.54 623.17,418.48 624.81,418.43 626.45,418.39 628.09,418.36 629.72,418.34 631.36,418.33 633.00,418.32 634.64,418.33 636.28,418.34 637.91,418.36 639.55,418.39 641.19,418.43 642.83,418.48 644.47,418.54 646.11,418.60 647.74,418.68 649.38,418.76 651.02,418.85 652.66,418.95 654.30,419.06 655.93,419.18 657.57,419.30 659.21,419.43 660.85,419.58 662.49,419.73 664.13,419.89 665.76,420.05 667.40,420.23 669.04,420.41 670.68,420.60 672.32,420.80 673.95,421.00 675.59,421.22 677.23,421.44 678.87,421.67 680.51,421.90 682.15,422.15 683.78,422.40 685.42,422.65 687.06,422.92 688.70,423.19 690.34,423.47 691.97,423.75 693.61,424.04 695.25,424.34 696.89,424.64 698.53,424.95 700.17,425.26 701.80,425.58 703.44,425.91 705.08,426.24 706.72,426.57 708.36,426.91 709.99,427.26 711.63,427.60 713.27,427.96 714.91,428.31 716.55,428.67 718.19,429.04 719.82,429.40 721.46,429.77 723.10,430.15 724.74,430.52 726.38,430.90 728.01,431.28 729.65,431.66 731.29,432.04 732.93,432.42 734.57,432.80 736.21,433.19 737.84,433.57 739.48,433.95 741.12,434.33 742.76,434.71 744.40,435.09 746.03,435.46 747.67,435.83 749.31,436.20 750.95,436.57 752.59,436.93 754.23,437.28 755.86,437.63 757.50,437.97 759.14,438.31 760.78,438.64 762.42,438.96 764.05,439.27 765.69,439.58 767.33,439.87 768.97,440.15 770.61,440.42 772.25,440.68 773.88,440.93 775.52,441.16 777.16,441.38 778.80,441.59 780.44,441.78 782.07,441.95 783.71,442.11 785.35,442.25 786.99,442.37 788.63,442.47 790.27,442.56 791.90,442.62 793.54,442.67 795.18,442.70 796.82,442.71 798.46,442.70 800.09,442.67 801.73,442.62 803.37,442.56 805.01,442.47 806.65,442.37 808.29,442.25 809.92,442.11 811.56,441.95 813.20,441.78" fill="none" stroke="#231f20" stroke-width="2.2"/>
<circle cx="469.18" cy="491.02" r="4.6" fill="#231f20"/>
<circle cx="523.79" cy="496.71" r="4.6" fill="#231f20"/>
<circle cx="578.39" cy="506.84" r="4.6" fill="#231f20"/>
<circle cx="578.39" cy="478.81" r="4.6" fill="#231f20"/>
<circle cx="633.00" cy="511.23" r="4.6" fill="#231f20"/>
<circle cx="633.00" cy="479.10" r="4.6" fill="#231f20"/>
<circle cx="687.61" cy="506.84" r="4.6" fill="#231f20"/>
<circle cx="687.61" cy="478.81" r="4.6" fill="#231f20"/>
<circle cx="742.21" cy="496.71" r="4.6" fill="#231f20"/>
<circle cx="796.82" cy="491.02" r="4.6" fill="#231f20"/>
</g>
<g clip-path="url(#cp12)">
<polyline points="452.80,740.58 454.44,740.47 456.08,740.38 457.71,740.29 459.35,740.22 460.99,740.16 462.63,740.11 464.27,740.07 465.91,740.05 467.54,740.03 469.18,740.02 470.82,740.03 472.46,740.05 474.10,740.07 475.73,740.11 477.37,740.16 479.01,740.22 480.65,740.29 482.29,740.38 483.93,740.47 485.56,740.58 487.20,740.69 488.84,740.82 490.48,740.96 492.12,741.10 493.75,741.26 495.39,741.43 497.03,741.61 498.67,741.80 500.31,741.99 501.95,742.20 503.58,742.42 505.22,742.64 506.86,742.88 508.50,743.12 510.14,743.37 511.77,743.63 513.41,743.89 515.05,744.16 516.69,744.44 518.33,744.72 519.97,745.01 521.60,745.31 523.24,745.60 524.88,745.91 526.52,746.22 528.16,746.53 529.79,746.84 531.43,747.16 533.07,747.48 534.71,747.80 536.35,748.12 537.99,748.44 539.62,748.76 541.26,749.09 542.90,749.41 544.54,749.74 546.18,750.06 547.81,750.38 549.45,750.70 551.09,751.02 552.73,751.34 554.37,751.65 556.01,751.96 557.64,752.27 559.28,752.58 560.92,752.88 562.56,753.18 564.20,753.48 565.83,753.77 567.47,754.05 569.11,754.34 570.75,754.61 572.39,754.89 574.03,755.15 575.66,755.42 577.30,755.67 578.94,755.92 580.58,756.17 582.22,756.41 583.85,756.64 585.49,756.87 587.13,757.09 588.77,757.30 590.41,757.51 592.05,757.71 593.68,757.90 595.32,758.09 596.96,758.26 598.60,758.44 600.24,758.60 601.87,758.76 603.51,758.91 605.15,759.05 606.79,759.18 608.43,759.31 610.07,759.43 611.70,759.54 613.34,759.64 614.98,759.73 616.62,759.82 618.26,759.90 619.89,759.97 621.53,760.03 623.17,760.09 624.81,760.13 626.45,760.17 628.09,760.20 629.72,760.22 631.36,760.23 633.00,760.23 634.64,760.23 636.28,760.22 637.91,760.20 639.55,760.17 641.19,760.13 642.83,760.09 644.47,760.03 646.11,759.97 647.74,759.90 649.38,759.82 651.02,759.73 652.66,759.64 654.30,759.54 655.93,759.43 657.57,759.31 659.21,759.18 660.85,759.05 662.49,758.91 664.13,758.76 665.76,758.60 667.40,758.44 669.04,758.26 670.68,758.09 672.32,757.90 673.95,757.71 675.59,757.51 677.23,757.30 678.87,757.09 680.51,756.87 682.15,756.64 683.78,756.41 685.42,756.17 687.06,755.92 688.70,755.67 690.34,755.42 691.97,755.15 693.61,754.89 695.25,754.61 696.89,754.34 698.53,754.05 700.17,753.77 701.80,753.48 703.44,753.18 705.08,752.88 706.72,752.58 708.36,752.27 709.99,751.96 711.63,751.65 713.27,751.34 714.91,751.02 716.55,750.70 718.19,750.38 719.82,750.06 721.46,749.74 723.10,749.41 724.74,749.09 726.38,748.76 728.01,748.44 729.65,748.12 731.29,747.80 732.93,747.48 734.57,747.16 736.21,746.84 737.84,746.53 739.48,746.22 741.12,745.91 742.76,745.60 744.40,745.31 746.03,745.01 747.67,744.72 749.31,744.44 750.95,744.16 752.59,743.89 754.23,743.63 755.86,743.37 757.50,743.12 759.14,742.88 760.78,742.64 762.42,742.42 764.05,742.20 765.69,741.99 767.33,741.80 768.97,741.61 770.61,741.43 772.25,741.26 773.88,741.10 775.52,740.96 777.16,740.82 778.80,740.69 780.44,740.58 782.07,740.47 783.71,740.38 785.35,740.29 786.99,740.22 788.63,740.16 790.27,740.11 791.90,740.07 793.54,740.05 795.18,740.03 796.82,740.02 798.46,740.03 800.09,740.05 801.73,740.07 803.37,740.11 805.01,740.16 806.65,740.22 808.29,740.29 809.92,740.38 811.56,740.47 813.20,740.58" fill="none" stroke="#231f20" stroke-width="2.2"/>
<polyline points="452.80,724.30 454.44,724.23 456.08,724.17 457.71,724.11 459.35,724.06 460.99,724.02 462.63,723.98 464.27,723.96 465.91,723.94 467.54,723.92 469.18,723.92 470.82,723.92 472.46,723.94 474.10,723.96 475.73,723.98 477.37,724.02 479.01,724.06 480.65,724.11 482.29,724.17 483.93,724.23 485.56,724.30 487.20,724.37 488.84,724.45 490.48,724.53 492.12,724.62 493.75,724.71 495.39,724.80 497.03,724.89 498.67,724.99 500.31,725.08 501.95,725.18 503.58,725.27 505.22,725.37 506.86,725.47 508.50,725.56 510.14,725.65 511.77,725.75 513.41,725.84 515.05,725.92 516.69,726.01 518.33,726.10 519.97,726.18 521.60,726.26 523.24,726.34 524.88,726.41 526.52,726.49 528.16,726.56 529.79,726.63 531.43,726.69 533.07,726.76 534.71,726.82 536.35,726.88 537.99,726.93 539.62,726.99 541.26,727.04 542.90,727.09 544.54,727.14 546.18,727.19 547.81,727.23 549.45,727.28 551.09,727.32 552.73,727.36 554.37,727.40 556.01,727.43 557.64,727.47 559.28,727.50 560.92,727.53 562.56,727.57 564.20,727.60 565.83,727.62 567.47,727.65 569.11,727.68 570.75,727.70 572.39,727.73 574.03,727.75 575.66,727.77 577.30,727.79 578.94,727.81 580.58,727.83 582.22,727.85 583.85,727.87 585.49,727.88 587.13,727.90 588.77,727.91 590.41,727.93 592.05,727.94 593.68,727.96 595.32,727.97 596.96,727.98 598.60,727.99 600.24,728.00 601.87,728.01 603.51,728.02 605.15,728.03 606.79,728.04 608.43,728.04 610.07,728.05 611.70,728.06 613.34,728.06 614.98,728.07 616.62,728.07 618.26,728.08 619.89,728.08 621.53,728.09 623.17,728.09 624.81,728.09 626.45,728.09 628.09,728.10 629.72,728.10 631.36,728.10 633.00,728.10 634.64,728.10 636.28,728.10 637.91,728.10 639.55,728.09 641.19,728.09 642.83,728.09 644.47,728.09 646.11,728.08 647.74,728.08 649.38,728.07 651.02,728.07 652.66,728.06 654.30,728.06 655.93,728.05 657.57,728.04 659.21,728.04 660.85,728.03 662.49,728.02 664.13,728.01 665.76,728.00 667.40,727.99 669.04,727.98 670.68,727.97 672.32,727.96 673.95,727.94 675.59,727.93 677.23,727.91 678.87,727.90 680.51,727.88 682.15,727.87 683.78,727.85 685.42,727.83 687.06,727.81 688.70,727.79 690.34,727.77 691.97,727.75 693.61,727.73 695.25,727.70 696.89,727.68 698.53,727.65 700.17,727.62 701.80,727.60 703.44,727.57 705.08,727.53 706.72,727.50 708.36,727.47 709.99,727.43 711.63,727.40 713.27,727.36 714.91,727.32 716.55,727.28 718.19,727.23 719.82,727.19 721.46,727.14 723.10,727.09 724.74,727.04 726.38,726.99 728.01,726.93 729.65,726.88 731.29,726.82 732.93,726.76 734.57,726.69 736.21,726.63 737.84,726.56 739.48,726.49 741.12,726.41 742.76,726.34 744.40,726.26 746.03,726.18 747.67,726.10 749.31,726.01 750.95,725.92 752.59,725.84 754.23,725.75 755.86,725.65 757.50,725.56 759.14,725.47 760.78,725.37 762.42,725.27 764.05,725.18 765.69,725.08 767.33,724.99 768.97,724.89 770.61,724.80 772.25,724.71 773.88,724.62 775.52,724.53 777.16,724.45 778.80,724.37 780.44,724.30 782.07,724.23 783.71,724.17 785.35,724.11 786.99,724.06 788.63,724.02 790.27,723.98 791.90,723.96 793.54,723.94 795.18,723.92 796.82,723.92 798.46,723.92 800.09,723.94 801.73,723.96 803.37,723.98 805.01,724.02 806.65,724.06 808.29,724.11 809.92,724.17 811.56,724.23 813.20,724.30" fill="none" stroke="#231f20" stroke-width="2.2"/>
<polyline points="452.80,690.78 454.44,690.95 456.08,691.11 457.71,691.25 459.35,691.37 460.99,691.47 462.63,691.56 464.27,691.62 465.91,691.67 467.54,691.70 469.18,691.71 470.82,691.70 472.46,691.67 474.10,691.62 475.73,691.56 477.37,691.47 479.01,691.37 480.65,691.25 482.29,691.11 483.93,690.95 485.56,690.78 487.20,690.59 488.84,690.38 490.48,690.16 492.12,689.93 493.75,689.68 495.39,689.42 497.03,689.15 498.67,688.87 500.31,688.58 501.95,688.27 503.58,687.96 505.22,687.64 506.86,687.31 508.50,686.97 510.14,686.63 511.77,686.28 513.41,685.93 515.05,685.57 516.69,685.20 518.33,684.83 519.97,684.46 521.60,684.09 523.24,683.71 524.88,683.33 526.52,682.95 528.16,682.57 529.79,682.19 531.43,681.80 533.07,681.42 534.71,681.04 536.35,680.66 537.99,680.28 539.62,679.90 541.26,679.52 542.90,679.15 544.54,678.77 546.18,678.40 547.81,678.04 549.45,677.67 551.09,677.31 552.73,676.96 554.37,676.60 556.01,676.26 557.64,675.91 559.28,675.57 560.92,675.24 562.56,674.91 564.20,674.58 565.83,674.26 567.47,673.95 569.11,673.64 570.75,673.34 572.39,673.04 574.03,672.75 575.66,672.47 577.30,672.19 578.94,671.92 580.58,671.65 582.22,671.40 583.85,671.15 585.49,670.90 587.13,670.67 588.77,670.44 590.41,670.22 592.05,670.00 593.68,669.80 595.32,669.60 596.96,669.41 598.60,669.23 600.24,669.05 601.87,668.89 603.51,668.73 605.15,668.58 606.79,668.43 608.43,668.30 610.07,668.18 611.70,668.06 613.34,667.95 614.98,667.85 616.62,667.76 618.26,667.68 619.89,667.60 621.53,667.54 623.17,667.48 624.81,667.43 626.45,667.39 628.09,667.36 629.72,667.34 631.36,667.33 633.00,667.32 634.64,667.33 636.28,667.34 637.91,667.36 639.55,667.39 641.19,667.43 642.83,667.48 644.47,667.54 646.11,667.60 647.74,667.68 649.38,667.76 651.02,667.85 652.66,667.95 654.30,668.06 655.93,668.18 657.57,668.30 659.21,668.43 660.85,668.58 662.49,668.73 664.13,668.89 665.76,669.05 667.40,669.23 669.04,669.41 670.68,669.60 672.32,669.80 673.95,670.00 675.59,670.22 677.23,670.44 678.87,670.67 680.51,670.90 682.15,671.15 683.78,671.40 685.42,671.65 687.06,671.92 688.70,672.19 690.34,672.47 691.97,672.75 693.61,673.04 695.25,673.34 696.89,673.64 698.53,673.95 700.17,674.26 701.80,674.58 703.44,674.91 705.08,675.24 706.72,675.57 708.36,675.91 709.99,676.26 711.63,676.60 713.27,676.96 714.91,677.31 716.55,677.67 718.19,678.04 719.82,678.40 721.46,678.77 723.10,679.15 724.74,679.52 726.38,679.90 728.01,680.28 729.65,680.66 731.29,681.04 732.93,681.42 734.57,681.80 736.21,682.19 737.84,682.57 739.48,682.95 741.12,683.33 742.76,683.71 744.40,684.09 746.03,684.46 747.67,684.83 749.31,685.20 750.95,685.57 752.59,685.93 754.23,686.28 755.86,686.63 757.50,686.97 759.14,687.31 760.78,687.64 762.42,687.96 764.05,688.27 765.69,688.58 767.33,688.87 768.97,689.15 770.61,689.42 772.25,689.68 773.88,689.93 775.52,690.16 777.16,690.38 778.80,690.59 780.44,690.78 782.07,690.95 783.71,691.11 785.35,691.25 786.99,691.37 788.63,691.47 790.27,691.56 791.90,691.62 793.54,691.67 795.18,691.70 796.82,691.71 798.46,691.70 800.09,691.67 801.73,691.62 803.37,691.56 805.01,691.47 806.65,691.37 808.29,691.25 809.92,691.11 811.56,690.95 813.20,690.78" fill="none" stroke="#231f20" stroke-width="2.2"/>
<circle cx="469.18" cy="740.02" r="4.6" fill="#231f20"/>
<circle cx="523.79" cy="745.71" r="4.6" fill="#231f20"/>
<circle cx="578.39" cy="755.84" r="4.6" fill="#231f20"/>
<circle cx="578.39" cy="727.81" r="4.6" fill="#231f20"/>
<circle cx="633.00" cy="760.23" r="4.6" fill="#231f20"/>
<circle cx="633.00" cy="728.10" r="4.6" fill="#231f20"/>
<circle cx="687.61" cy="755.84" r="4.6" fill="#231f20"/>
<circle cx="687.61" cy="727.81" r="4.6" fill="#231f20"/>
<circle cx="742.21" cy="745.71" r="4.6" fill="#231f20"/>
<circle cx="796.82" cy="740.02" r="4.6" fill="#231f20"/>
</g>
<g clip-path="url(#cp20)">
<polyline points="819.05,237.84 820.69,237.79 822.33,237.75 823.96,237.71 825.60,237.68 827.24,237.66 828.88,237.63 830.52,237.62 832.16,237.61 833.79,237.60 835.43,237.60 837.07,237.60 838.71,237.61 840.35,237.62 841.98,237.63 843.62,237.66 845.26,237.68 846.90,237.71 848.54,237.75 850.18,237.79 851.81,237.84 853.45,237.89 855.09,237.94 856.73,238.01 858.37,238.07 860.00,238.14 861.64,238.22 863.28,238.30 864.92,238.39 866.56,238.49 868.20,238.59 869.83,238.69 871.47,238.80 873.11,238.92 874.75,239.04 876.39,239.16 878.02,239.30 879.66,239.44 881.30,239.58 882.94,239.73 884.58,239.88 886.22,240.04 887.85,240.21 889.49,240.38 891.13,240.55 892.77,240.73 894.41,240.91 896.04,241.10 897.68,241.29 899.32,241.48 900.96,241.68 902.60,241.88 904.24,242.09 905.87,242.30 907.51,242.51 909.15,242.72 910.79,242.93 912.43,243.15 914.06,243.36 915.70,243.58 917.34,243.80 918.98,244.02 920.62,244.24 922.26,244.46 923.89,244.67 925.53,244.89 927.17,245.11 928.81,245.32 930.45,245.54 932.08,245.75 933.72,245.96 935.36,246.17 937.00,246.37 938.64,246.58 940.28,246.78 941.91,246.97 943.55,247.17 945.19,247.36 946.83,247.55 948.47,247.73 950.10,247.91 951.74,248.08 953.38,248.25 955.02,248.42 956.66,248.58 958.30,248.73 959.93,248.88 961.57,249.03 963.21,249.17 964.85,249.31 966.49,249.44 968.12,249.56 969.76,249.68 971.40,249.79 973.04,249.90 974.68,250.00 976.32,250.09 977.95,250.18 979.59,250.26 981.23,250.34 982.87,250.41 984.51,250.47 986.14,250.52 987.78,250.57 989.42,250.62 991.06,250.65 992.70,250.68 994.34,250.71 995.97,250.72 997.61,250.73 999.25,250.74 1000.89,250.73 1002.53,250.72 1004.16,250.71 1005.80,250.68 1007.44,250.65 1009.08,250.62 1010.72,250.57 1012.36,250.52 1013.99,250.47 1015.63,250.41 1017.27,250.34 1018.91,250.26 1020.55,250.18 1022.18,250.09 1023.82,250.00 1025.46,249.90 1027.10,249.79 1028.74,249.68 1030.38,249.56 1032.01,249.44 1033.65,249.31 1035.29,249.17 1036.93,249.03 1038.57,248.88 1040.20,248.73 1041.84,248.58 1043.48,248.42 1045.12,248.25 1046.76,248.08 1048.40,247.91 1050.03,247.73 1051.67,247.55 1053.31,247.36 1054.95,247.17 1056.59,246.97 1058.22,246.78 1059.86,246.58 1061.50,246.37 1063.14,246.17 1064.78,245.96 1066.42,245.75 1068.05,245.54 1069.69,245.32 1071.33,245.11 1072.97,244.89 1074.61,244.67 1076.24,244.46 1077.88,244.24 1079.52,244.02 1081.16,243.80 1082.80,243.58 1084.44,243.36 1086.07,243.15 1087.71,242.93 1089.35,242.72 1090.99,242.51 1092.63,242.30 1094.26,242.09 1095.90,241.88 1097.54,241.68 1099.18,241.48 1100.82,241.29 1102.46,241.10 1104.09,240.91 1105.73,240.73 1107.37,240.55 1109.01,240.38 1110.65,240.21 1112.28,240.04 1113.92,239.88 1115.56,239.73 1117.20,239.58 1118.84,239.44 1120.48,239.30 1122.11,239.16 1123.75,239.04 1125.39,238.92 1127.03,238.80 1128.67,238.69 1130.30,238.59 1131.94,238.49 1133.58,238.39 1135.22,238.30 1136.86,238.22 1138.50,238.14 1140.13,238.07 1141.77,238.01 1143.41,237.94 1145.05,237.89 1146.69,237.84 1148.32,237.79 1149.96,237.75 1151.60,237.71 1153.24,237.68 1154.88,237.66 1156.52,237.63 1158.15,237.62 1159.79,237.61 1161.43,237.60 1163.07,237.60 1164.71,237.60 1166.34,237.61 1167.98,237.62 1169.62,237.63 1171.26,237.66 1172.90,237.68 1174.54,237.71 1176.17,237.75 1177.81,237.79 1179.45,237.84" fill="none" stroke="#231f20" stroke-width="2.2"/>
<polyline points="819.05,226.61 820.69,226.56 822.33,226.51 823.96,226.47 825.60,226.43 827.24,226.40 828.88,226.37 830.52,226.35 832.16,226.33 833.79,226.33 835.43,226.32 837.07,226.33 838.71,226.33 840.35,226.35 841.98,226.37 843.62,226.40 845.26,226.43 846.90,226.47 848.54,226.51 850.18,226.56 851.81,226.61 853.45,226.67 855.09,226.73 856.73,226.80 858.37,226.87 860.00,226.95 861.64,227.02 863.28,227.11 864.92,227.19 866.56,227.28 868.20,227.36 869.83,227.45 871.47,227.55 873.11,227.64 874.75,227.73 876.39,227.83 878.02,227.92 879.66,228.01 881.30,228.11 882.94,228.20 884.58,228.29 886.22,228.39 887.85,228.48 889.49,228.56 891.13,228.65 892.77,228.74 894.41,228.82 896.04,228.90 897.68,228.98 899.32,229.06 900.96,229.14 902.60,229.21 904.24,229.28 905.87,229.35 907.51,229.42 909.15,229.49 910.79,229.55 912.43,229.61 914.06,229.67 915.70,229.72 917.34,229.78 918.98,229.83 920.62,229.88 922.26,229.93 923.89,229.98 925.53,230.02 927.17,230.06 928.81,230.11 930.45,230.15 932.08,230.18 933.72,230.22 935.36,230.25 937.00,230.29 938.64,230.32 940.28,230.35 941.91,230.38 943.55,230.41 945.19,230.44 946.83,230.46 948.47,230.49 950.10,230.51 951.74,230.53 953.38,230.55 955.02,230.57 956.66,230.59 958.30,230.61 959.93,230.63 961.57,230.64 963.21,230.66 964.85,230.67 966.49,230.69 968.12,230.70 969.76,230.71 971.40,230.72 973.04,230.74 974.68,230.75 976.32,230.75 977.95,230.76 979.59,230.77 981.23,230.78 982.87,230.78 984.51,230.79 986.14,230.80 987.78,230.80 989.42,230.80 991.06,230.81 992.70,230.81 994.34,230.81 995.97,230.81 997.61,230.82 999.25,230.82 1000.89,230.82 1002.53,230.81 1004.16,230.81 1005.80,230.81 1007.44,230.81 1009.08,230.80 1010.72,230.80 1012.36,230.80 1013.99,230.79 1015.63,230.78 1017.27,230.78 1018.91,230.77 1020.55,230.76 1022.18,230.75 1023.82,230.75 1025.46,230.74 1027.10,230.72 1028.74,230.71 1030.38,230.70 1032.01,230.69 1033.65,230.67 1035.29,230.66 1036.93,230.64 1038.57,230.63 1040.20,230.61 1041.84,230.59 1043.48,230.57 1045.12,230.55 1046.76,230.53 1048.40,230.51 1050.03,230.49 1051.67,230.46 1053.31,230.44 1054.95,230.41 1056.59,230.38 1058.22,230.35 1059.86,230.32 1061.50,230.29 1063.14,230.25 1064.78,230.22 1066.42,230.18 1068.05,230.15 1069.69,230.11 1071.33,230.06 1072.97,230.02 1074.61,229.98 1076.24,229.93 1077.88,229.88 1079.52,229.83 1081.16,229.78 1082.80,229.72 1084.44,229.67 1086.07,229.61 1087.71,229.55 1089.35,229.49 1090.99,229.42 1092.63,229.35 1094.26,229.28 1095.90,229.21 1097.54,229.14 1099.18,229.06 1100.82,228.98 1102.46,228.90 1104.09,228.82 1105.73,228.74 1107.37,228.65 1109.01,228.56 1110.65,228.48 1112.28,228.39 1113.92,228.29 1115.56,228.20 1117.20,228.11 1118.84,228.01 1120.48,227.92 1122.11,227.83 1123.75,227.73 1125.39,227.64 1127.03,227.55 1128.67,227.45 1130.30,227.36 1131.94,227.28 1133.58,227.19 1135.22,227.11 1136.86,227.02 1138.50,226.95 1140.13,226.87 1141.77,226.80 1143.41,226.73 1145.05,226.67 1146.69,226.61 1148.32,226.56 1149.96,226.51 1151.60,226.47 1153.24,226.43 1154.88,226.40 1156.52,226.37 1158.15,226.35 1159.79,226.33 1161.43,226.33 1163.07,226.32 1164.71,226.33 1166.34,226.33 1167.98,226.35 1169.62,226.37 1171.26,226.40 1172.90,226.43 1174.54,226.47 1176.17,226.51 1177.81,226.56 1179.45,226.61" fill="none" stroke="#231f20" stroke-width="2.2"/>
<polyline points="819.05,156.53 820.69,156.63 822.33,156.72 823.96,156.80 825.60,156.87 827.24,156.93 828.88,156.98 830.52,157.02 832.16,157.04 833.79,157.06 835.43,157.06 837.07,157.06 838.71,157.04 840.35,157.02 841.98,156.98 843.62,156.93 845.26,156.87 846.90,156.80 848.54,156.72 850.18,156.63 851.81,156.53 853.45,156.42 855.09,156.31 856.73,156.18 858.37,156.04 860.00,155.89 861.64,155.74 863.28,155.57 864.92,155.40 866.56,155.22 868.20,155.03 869.83,154.84 871.47,154.64 873.11,154.43 874.75,154.21 876.39,153.99 878.02,153.77 879.66,153.53 881.30,153.30 882.94,153.06 884.58,152.81 886.22,152.56 887.85,152.30 889.49,152.04 891.13,151.78 892.77,151.52 894.41,151.25 896.04,150.98 897.68,150.71 899.32,150.44 900.96,150.16 902.60,149.89 904.24,149.61 905.87,149.33 907.51,149.06 909.15,148.78 910.79,148.50 912.43,148.23 914.06,147.95 915.70,147.68 917.34,147.41 918.98,147.14 920.62,146.87 922.26,146.60 923.89,146.33 925.53,146.07 927.17,145.81 928.81,145.55 930.45,145.30 932.08,145.05 933.72,144.80 935.36,144.56 937.00,144.32 938.64,144.09 940.28,143.86 941.91,143.63 943.55,143.41 945.19,143.19 946.83,142.98 948.47,142.77 950.10,142.57 951.74,142.37 953.38,142.18 955.02,141.99 956.66,141.81 958.30,141.64 959.93,141.47 961.57,141.31 963.21,141.15 964.85,141.00 966.49,140.86 968.12,140.72 969.76,140.59 971.40,140.47 973.04,140.35 974.68,140.24 976.32,140.14 977.95,140.04 979.59,139.95 981.23,139.87 982.87,139.79 984.51,139.72 986.14,139.66 987.78,139.61 989.42,139.56 991.06,139.52 992.70,139.49 994.34,139.46 995.97,139.45 997.61,139.43 999.25,139.43 1000.89,139.43 1002.53,139.45 1004.16,139.46 1005.80,139.49 1007.44,139.52 1009.08,139.56 1010.72,139.61 1012.36,139.66 1013.99,139.72 1015.63,139.79 1017.27,139.87 1018.91,139.95 1020.55,140.04 1022.18,140.14 1023.82,140.24 1025.46,140.35 1027.10,140.47 1028.74,140.59 1030.38,140.72 1032.01,140.86 1033.65,141.00 1035.29,141.15 1036.93,141.31 1038.57,141.47 1040.20,141.64 1041.84,141.81 1043.48,141.99 1045.12,142.18 1046.76,142.37 1048.40,142.57 1050.03,142.77 1051.67,142.98 1053.31,143.19 1054.95,143.41 1056.59,143.63 1058.22,143.86 1059.86,144.09 1061.50,144.32 1063.14,144.56 1064.78,144.80 1066.42,145.05 1068.05,145.30 1069.69,145.55 1071.33,145.81 1072.97,146.07 1074.61,146.33 1076.24,146.60 1077.88,146.87 1079.52,147.14 1081.16,147.41 1082.80,147.68 1084.44,147.95 1086.07,148.23 1087.71,148.50 1089.35,148.78 1090.99,149.06 1092.63,149.33 1094.26,149.61 1095.90,149.89 1097.54,150.16 1099.18,150.44 1100.82,150.71 1102.46,150.98 1104.09,151.25 1105.73,151.52 1107.37,151.78 1109.01,152.04 1110.65,152.30 1112.28,152.56 1113.92,152.81 1115.56,153.06 1117.20,153.30 1118.84,153.53 1120.48,153.77 1122.11,153.99 1123.75,154.21 1125.39,154.43 1127.03,154.64 1128.67,154.84 1130.30,155.03 1131.94,155.22 1133.58,155.40 1135.22,155.57 1136.86,155.74 1138.50,155.89 1140.13,156.04 1141.77,156.18 1143.41,156.31 1145.05,156.42 1146.69,156.53 1148.32,156.63 1149.96,156.72 1151.60,156.80 1153.24,156.87 1154.88,156.93 1156.52,156.98 1158.15,157.02 1159.79,157.04 1161.43,157.06 1163.07,157.06 1164.71,157.06 1166.34,157.04 1167.98,157.02 1169.62,156.98 1171.26,156.93 1172.90,156.87 1174.54,156.80 1176.17,156.72 1177.81,156.63 1179.45,156.53" fill="none" stroke="#231f20" stroke-width="2.2"/>
<circle cx="835.43" cy="237.60" r="4.6" fill="#231f20"/>
<circle cx="890.04" cy="240.43" r="4.6" fill="#231f20"/>
<circle cx="944.64" cy="247.30" r="4.6" fill="#231f20"/>
<circle cx="944.64" cy="230.43" r="4.6" fill="#231f20"/>
<circle cx="999.25" cy="250.74" r="4.6" fill="#231f20"/>
<circle cx="999.25" cy="230.82" r="4.6" fill="#231f20"/>
<circle cx="1053.86" cy="247.30" r="4.6" fill="#231f20"/>
<circle cx="1053.86" cy="230.43" r="4.6" fill="#231f20"/>
<circle cx="1108.46" cy="240.43" r="4.6" fill="#231f20"/>
<circle cx="1163.07" cy="237.60" r="4.6" fill="#231f20"/>
</g>
<g clip-path="url(#cp21)">
<polyline points="819.05,486.84 820.69,486.79 822.33,486.75 823.96,486.71 825.60,486.68 827.24,486.66 828.88,486.63 830.52,486.62 832.16,486.61 833.79,486.60 835.43,486.60 837.07,486.60 838.71,486.61 840.35,486.62 841.98,486.63 843.62,486.66 845.26,486.68 846.90,486.71 848.54,486.75 850.18,486.79 851.81,486.84 853.45,486.89 855.09,486.94 856.73,487.01 858.37,487.07 860.00,487.14 861.64,487.22 863.28,487.30 864.92,487.39 866.56,487.49 868.20,487.59 869.83,487.69 871.47,487.80 873.11,487.92 874.75,488.04 876.39,488.16 878.02,488.30 879.66,488.44 881.30,488.58 882.94,488.73 884.58,488.88 886.22,489.04 887.85,489.21 889.49,489.38 891.13,489.55 892.77,489.73 894.41,489.91 896.04,490.10 897.68,490.29 899.32,490.48 900.96,490.68 902.60,490.88 904.24,491.09 905.87,491.30 907.51,491.51 909.15,491.72 910.79,491.93 912.43,492.15 914.06,492.36 915.70,492.58 917.34,492.80 918.98,493.02 920.62,493.24 922.26,493.46 923.89,493.67 925.53,493.89 927.17,494.11 928.81,494.32 930.45,494.54 932.08,494.75 933.72,494.96 935.36,495.17 937.00,495.37 938.64,495.58 940.28,495.78 941.91,495.97 943.55,496.17 945.19,496.36 946.83,496.55 948.47,496.73 950.10,496.91 951.74,497.08 953.38,497.25 955.02,497.42 956.66,497.58 958.30,497.73 959.93,497.88 961.57,498.03 963.21,498.17 964.85,498.31 966.49,498.44 968.12,498.56 969.76,498.68 971.40,498.79 973.04,498.90 974.68,499.00 976.32,499.09 977.95,499.18 979.59,499.26 981.23,499.34 982.87,499.41 984.51,499.47 986.14,499.52 987.78,499.57 989.42,499.62 991.06,499.65 992.70,499.68 994.34,499.71 995.97,499.72 997.61,499.73 999.25,499.74 1000.89,499.73 1002.53,499.72 1004.16,499.71 1005.80,499.68 1007.44,499.65 1009.08,499.62 1010.72,499.57 1012.36,499.52 1013.99,499.47 1015.63,499.41 1017.27,499.34 1018.91,499.26 1020.55,499.18 1022.18,499.09 1023.82,499.00 1025.46,498.90 1027.10,498.79 1028.74,498.68 1030.38,498.56 1032.01,498.44 1033.65,498.31 1035.29,498.17 1036.93,498.03 1038.57,497.88 1040.20,497.73 1041.84,497.58 1043.48,497.42 1045.12,497.25 1046.76,497.08 1048.40,496.91 1050.03,496.73 1051.67,496.55 1053.31,496.36 1054.95,496.17 1056.59,495.97 1058.22,495.78 1059.86,495.58 1061.50,495.37 1063.14,495.17 1064.78,494.96 1066.42,494.75 1068.05,494.54 1069.69,494.32 1071.33,494.11 1072.97,493.89 1074.61,493.67 1076.24,493.46 1077.88,493.24 1079.52,493.02 1081.16,492.80 1082.80,492.58 1084.44,492.36 1086.07,492.15 1087.71,491.93 1089.35,491.72 1090.99,491.51 1092.63,491.30 1094.26,491.09 1095.90,490.88 1097.54,490.68 1099.18,490.48 1100.82,490.29 1102.46,490.10 1104.09,489.91 1105.73,489.73 1107.37,489.55 1109.01,489.38 1110.65,489.21 1112.28,489.04 1113.92,488.88 1115.56,488.73 1117.20,488.58 1118.84,488.44 1120.48,488.30 1122.11,488.16 1123.75,488.04 1125.39,487.92 1127.03,487.80 1128.67,487.69 1130.30,487.59 1131.94,487.49 1133.58,487.39 1135.22,487.30 1136.86,487.22 1138.50,487.14 1140.13,487.07 1141.77,487.01 1143.41,486.94 1145.05,486.89 1146.69,486.84 1148.32,486.79 1149.96,486.75 1151.60,486.71 1153.24,486.68 1154.88,486.66 1156.52,486.63 1158.15,486.62 1159.79,486.61 1161.43,486.60 1163.07,486.60 1164.71,486.60 1166.34,486.61 1167.98,486.62 1169.62,486.63 1171.26,486.66 1172.90,486.68 1174.54,486.71 1176.17,486.75 1177.81,486.79 1179.45,486.84" fill="none" stroke="#231f20" stroke-width="2.2"/>
<polyline points="819.05,475.61 820.69,475.56 822.33,475.51 823.96,475.47 825.60,475.43 827.24,475.40 828.88,475.37 830.52,475.35 832.16,475.33 833.79,475.33 835.43,475.32 837.07,475.33 838.71,475.33 840.35,475.35 841.98,475.37 843.62,475.40 845.26,475.43 846.90,475.47 848.54,475.51 850.18,475.56 851.81,475.61 853.45,475.67 855.09,475.73 856.73,475.80 858.37,475.87 860.00,475.95 861.64,476.02 863.28,476.11 864.92,476.19 866.56,476.28 868.20,476.36 869.83,476.45 871.47,476.55 873.11,476.64 874.75,476.73 876.39,476.83 878.02,476.92 879.66,477.01 881.30,477.11 882.94,477.20 884.58,477.29 886.22,477.39 887.85,477.48 889.49,477.56 891.13,477.65 892.77,477.74 894.41,477.82 896.04,477.90 897.68,477.98 899.32,478.06 900.96,478.14 902.60,478.21 904.24,478.28 905.87,478.35 907.51,478.42 909.15,478.49 910.79,478.55 912.43,478.61 914.06,478.67 915.70,478.72 917.34,478.78 918.98,478.83 920.62,478.88 922.26,478.93 923.89,478.98 925.53,479.02 927.17,479.06 928.81,479.11 930.45,479.15 932.08,479.18 933.72,479.22 935.36,479.25 937.00,479.29 938.64,479.32 940.28,479.35 941.91,479.38 943.55,479.41 945.19,479.44 946.83,479.46 948.47,479.49 950.10,479.51 951.74,479.53 953.38,479.55 955.02,479.57 956.66,479.59 958.30,479.61 959.93,479.63 961.57,479.64 963.21,479.66 964.85,479.67 966.49,479.69 968.12,479.70 969.76,479.71 971.40,479.72 973.04,479.74 974.68,479.75 976.32,479.75 977.95,479.76 979.59,479.77 981.23,479.78 982.87,479.78 984.51,479.79 986.14,479.80 987.78,479.80 989.42,479.80 991.06,479.81 992.70,479.81 994.34,479.81 995.97,479.81 997.61,479.82 999.25,479.82 1000.89,479.82 1002.53,479.81 1004.16,479.81 1005.80,479.81 1007.44,479.81 1009.08,479.80 1010.72,479.80 1012.36,479.80 1013.99,479.79 1015.63,479.78 1017.27,479.78 1018.91,479.77 1020.55,479.76 1022.18,479.75 1023.82,479.75 1025.46,479.74 1027.10,479.72 1028.74,479.71 1030.38,479.70 1032.01,479.69 1033.65,479.67 1035.29,479.66 1036.93,479.64 1038.57,479.63 1040.20,479.61 1041.84,479.59 1043.48,479.57 1045.12,479.55 1046.76,479.53 1048.40,479.51 1050.03,479.49 1051.67,479.46 1053.31,479.44 1054.95,479.41 1056.59,479.38 1058.22,479.35 1059.86,479.32 1061.50,479.29 1063.14,479.25 1064.78,479.22 1066.42,479.18 1068.05,479.15 1069.69,479.11 1071.33,479.06 1072.97,479.02 1074.61,478.98 1076.24,478.93 1077.88,478.88 1079.52,478.83 1081.16,478.78 1082.80,478.72 1084.44,478.67 1086.07,478.61 1087.71,478.55 1089.35,478.49 1090.99,478.42 1092.63,478.35 1094.26,478.28 1095.90,478.21 1097.54,478.14 1099.18,478.06 1100.82,477.98 1102.46,477.90 1104.09,477.82 1105.73,477.74 1107.37,477.65 1109.01,477.56 1110.65,477.48 1112.28,477.39 1113.92,477.29 1115.56,477.20 1117.20,477.11 1118.84,477.01 1120.48,476.92 1122.11,476.83 1123.75,476.73 1125.39,476.64 1127.03,476.55 1128.67,476.45 1130.30,476.36 1131.94,476.28 1133.58,476.19 1135.22,476.11 1136.86,476.02 1138.50,475.95 1140.13,475.87 1141.77,475.80 1143.41,475.73 1145.05,475.67 1146.69,475.61 1148.32,475.56 1149.96,475.51 1151.60,475.47 1153.24,475.43 1154.88,475.40 1156.52,475.37 1158.15,475.35 1159.79,475.33 1161.43,475.33 1163.07,475.32 1164.71,475.33 1166.34,475.33 1167.98,475.35 1169.62,475.37 1171.26,475.40 1172.90,475.43 1174.54,475.47 1176.17,475.51 1177.81,475.56 1179.45,475.61" fill="none" stroke="#231f20" stroke-width="2.2"/>
<polyline points="819.05,405.53 820.69,405.63 822.33,405.72 823.96,405.80 825.60,405.87 827.24,405.93 828.88,405.98 830.52,406.02 832.16,406.04 833.79,406.06 835.43,406.06 837.07,406.06 838.71,406.04 840.35,406.02 841.98,405.98 843.62,405.93 845.26,405.87 846.90,405.80 848.54,405.72 850.18,405.63 851.81,405.53 853.45,405.42 855.09,405.31 856.73,405.18 858.37,405.04 860.00,404.89 861.64,404.74 863.28,404.57 864.92,404.40 866.56,404.22 868.20,404.03 869.83,403.84 871.47,403.64 873.11,403.43 874.75,403.21 876.39,402.99 878.02,402.77 879.66,402.53 881.30,402.30 882.94,402.06 884.58,401.81 886.22,401.56 887.85,401.30 889.49,401.04 891.13,400.78 892.77,400.52 894.41,400.25 896.04,399.98 897.68,399.71 899.32,399.44 900.96,399.16 902.60,398.89 904.24,398.61 905.87,398.33 907.51,398.06 909.15,397.78 910.79,397.50 912.43,397.23 914.06,396.95 915.70,396.68 917.34,396.41 918.98,396.14 920.62,395.87 922.26,395.60 923.89,395.33 925.53,395.07 927.17,394.81 928.81,394.55 930.45,394.30 932.08,394.05 933.72,393.80 935.36,393.56 937.00,393.32 938.64,393.09 940.28,392.86 941.91,392.63 943.55,392.41 945.19,392.19 946.83,391.98 948.47,391.77 950.10,391.57 951.74,391.37 953.38,391.18 955.02,390.99 956.66,390.81 958.30,390.64 959.93,390.47 961.57,390.31 963.21,390.15 964.85,390.00 966.49,389.86 968.12,389.72 969.76,389.59 971.40,389.47 973.04,389.35 974.68,389.24 976.32,389.14 977.95,389.04 979.59,388.95 981.23,388.87 982.87,388.79 984.51,388.72 986.14,388.66 987.78,388.61 989.42,388.56 991.06,388.52 992.70,388.49 994.34,388.46 995.97,388.45 997.61,388.43 999.25,388.43 1000.89,388.43 1002.53,388.45 1004.16,388.46 1005.80,388.49 1007.44,388.52 1009.08,388.56 1010.72,388.61 1012.36,388.66 1013.99,388.72 1015.63,388.79 1017.27,388.87 1018.91,388.95 1020.55,389.04 1022.18,389.14 1023.82,389.24 1025.46,389.35 1027.10,389.47 1028.74,389.59 1030.38,389.72 1032.01,389.86 1033.65,390.00 1035.29,390.15 1036.93,390.31 1038.57,390.47 1040.20,390.64 1041.84,390.81 1043.48,390.99 1045.12,391.18 1046.76,391.37 1048.40,391.57 1050.03,391.77 1051.67,391.98 1053.31,392.19 1054.95,392.41 1056.59,392.63 1058.22,392.86 1059.86,393.09 1061.50,393.32 1063.14,393.56 1064.78,393.80 1066.42,394.05 1068.05,394.30 1069.69,394.55 1071.33,394.81 1072.97,395.07 1074.61,395.33 1076.24,395.60 1077.88,395.87 1079.52,396.14 1081.16,396.41 1082.80,396.68 1084.44,396.95 1086.07,397.23 1087.71,397.50 1089.35,397.78 1090.99,398.06 1092.63,398.33 1094.26,398.61 1095.90,398.89 1097.54,399.16 1099.18,399.44 1100.82,399.71 1102.46,399.98 1104.09,400.25 1105.73,400.52 1107.37,400.78 1109.01,401.04 1110.65,401.30 1112.28,401.56 1113.92,401.81 1115.56,402.06 1117.20,402.30 1118.84,402.53 1120.48,402.77 1122.11,402.99 1123.75,403.21 1125.39,403.43 1127.03,403.64 1128.67,403.84 1130.30,404.03 1131.94,404.22 1133.58,404.40 1135.22,404.57 1136.86,404.74 1138.50,404.89 1140.13,405.04 1141.77,405.18 1143.41,405.31 1145.05,405.42 1146.69,405.53 1148.32,405.63 1149.96,405.72 1151.60,405.80 1153.24,405.87 1154.88,405.93 1156.52,405.98 1158.15,406.02 1159.79,406.04 1161.43,406.06 1163.07,406.06 1164.71,406.06 1166.34,406.04 1167.98,406.02 1169.62,405.98 1171.26,405.93 1172.90,405.87 1174.54,405.80 1176.17,405.72 1177.81,405.63 1179.45,405.53" fill="none" stroke="#231f20" stroke-width="2.2"/>
<circle cx="835.43" cy="486.60" r="4.6" fill="#231f20"/>
<circle cx="890.04" cy="489.43" r="4.6" fill="#231f20"/>
<circle cx="944.64" cy="496.30" r="4.6" fill="#231f20"/>
<circle cx="944.64" cy="479.43" r="4.6" fill="#231f20"/>
<circle cx="999.25" cy="499.74" r="4.6" fill="#231f20"/>
<circle cx="999.25" cy="479.82" r="4.6" fill="#231f20"/>
<circle cx="1053.86" cy="496.30" r="4.6" fill="#231f20"/>
<circle cx="1053.86" cy="479.43" r="4.6" fill="#231f20"/>
<circle cx="1108.46" cy="489.43" r="4.6" fill="#231f20"/>
<circle cx="1163.07" cy="486.60" r="4.6" fill="#231f20"/>
</g>
<g clip-path="url(#cp22)">
<polyline points="819.05,735.84 820.69,735.79 822.33,735.75 823.96,735.71 825.60,735.68 827.24,735.66 828.88,735.63 830.52,735.62 832.16,735.61 833.79,735.60 835.43,735.60 837.07,735.60 838.71,735.61 840.35,735.62 841.98,735.63 843.62,735.66 845.26,735.68 846.90,735.71 848.54,735.75 850.18,735.79 851.81,735.84 853.45,735.89 855.09,735.94 856.73,736.01 858.37,736.07 860.00,736.14 861.64,736.22 863.28,736.30 864.92,736.39 866.56,736.49 868.20,736.59 869.83,736.69 871.47,736.80 873.11,736.92 874.75,737.04 876.39,737.16 878.02,737.30 879.66,737.44 881.30,737.58 882.94,737.73 884.58,737.88 886.22,738.04 887.85,738.21 889.49,738.38 891.13,738.55 892.77,738.73 894.41,738.91 896.04,739.10 897.68,739.29 899.32,739.48 900.96,739.68 902.60,739.88 904.24,740.09 905.87,740.30 907.51,740.51 909.15,740.72 910.79,740.93 912.43,741.15 914.06,741.36 915.70,741.58 917.34,741.80 918.98,742.02 920.62,742.24 922.26,742.46 923.89,742.67 925.53,742.89 927.17,743.11 928.81,743.32 930.45,743.54 932.08,743.75 933.72,743.96 935.36,744.17 937.00,744.37 938.64,744.58 940.28,744.78 941.91,744.97 943.55,745.17 945.19,745.36 946.83,745.55 948.47,745.73 950.10,745.91 951.74,746.08 953.38,746.25 955.02,746.42 956.66,746.58 958.30,746.73 959.93,746.88 961.57,747.03 963.21,747.17 964.85,747.31 966.49,747.44 968.12,747.56 969.76,747.68 971.40,747.79 973.04,747.90 974.68,748.00 976.32,748.09 977.95,748.18 979.59,748.26 981.23,748.34 982.87,748.41 984.51,748.47 986.14,748.52 987.78,748.57 989.42,748.62 991.06,748.65 992.70,748.68 994.34,748.71 995.97,748.72 997.61,748.73 999.25,748.74 1000.89,748.73 1002.53,748.72 1004.16,748.71 1005.80,748.68 1007.44,748.65 1009.08,748.62 1010.72,748.57 1012.36,748.52 1013.99,748.47 1015.63,748.41 1017.27,748.34 1018.91,748.26 1020.55,748.18 1022.18,748.09 1023.82,748.00 1025.46,747.90 1027.10,747.79 1028.74,747.68 1030.38,747.56 1032.01,747.44 1033.65,747.31 1035.29,747.17 1036.93,747.03 1038.57,746.88 1040.20,746.73 1041.84,746.58 1043.48,746.42 1045.12,746.25 1046.76,746.08 1048.40,745.91 1050.03,745.73 1051.67,745.55 1053.31,745.36 1054.95,745.17 1056.59,744.97 1058.22,744.78 1059.86,744.58 1061.50,744.37 1063.14,744.17 1064.78,743.96 1066.42,743.75 1068.05,743.54 1069.69,743.32 1071.33,743.11 1072.97,742.89 1074.61,742.67 1076.24,742.46 1077.88,742.24 1079.52,742.02 1081.16,741.80 1082.80,741.58 1084.44,741.36 1086.07,741.15 1087.71,740.93 1089.35,740.72 1090.99,740.51 1092.63,740.30 1094.26,740.09 1095.90,739.88 1097.54,739.68 1099.18,739.48 1100.82,739.29 1102.46,739.10 1104.09,738.91 1105.73,738.73 1107.37,738.55 1109.01,738.38 1110.65,738.21 1112.28,738.04 1113.92,737.88 1115.56,737.73 1117.20,737.58 1118.84,737.44 1120.48,737.30 1122.11,737.16 1123.75,737.04 1125.39,736.92 1127.03,736.80 1128.67,736.69 1130.30,736.59 1131.94,736.49 1133.58,736.39 1135.22,736.30 1136.86,736.22 1138.50,736.14 1140.13,736.07 1141.77,736.01 1143.41,735.94 1145.05,735.89 1146.69,735.84 1148.32,735.79 1149.96,735.75 1151.60,735.71 1153.24,735.68 1154.88,735.66 1156.52,735.63 1158.15,735.62 1159.79,735.61 1161.43,735.60 1163.07,735.60 1164.71,735.60 1166.34,735.61 1167.98,735.62 1169.62,735.63 1171.26,735.66 1172.90,735.68 1174.54,735.71 1176.17,735.75 1177.81,735.79 1179.45,735.84" fill="none" stroke="#231f20" stroke-width="2.2"/>
<polyline points="819.05,724.61 820.69,724.56 822.33,724.51 823.96,724.47 825.60,724.43 827.24,724.40 828.88,724.37 830.52,724.35 832.16,724.33 833.79,724.33 835.43,724.32 837.07,724.33 838.71,724.33 840.35,724.35 841.98,724.37 843.62,724.40 845.26,724.43 846.90,724.47 848.54,724.51 850.18,724.56 851.81,724.61 853.45,724.67 855.09,724.73 856.73,724.80 858.37,724.87 860.00,724.95 861.64,725.02 863.28,725.11 864.92,725.19 866.56,725.28 868.20,725.36 869.83,725.45 871.47,725.55 873.11,725.64 874.75,725.73 876.39,725.83 878.02,725.92 879.66,726.01 881.30,726.11 882.94,726.20 884.58,726.29 886.22,726.39 887.85,726.48 889.49,726.56 891.13,726.65 892.77,726.74 894.41,726.82 896.04,726.90 897.68,726.98 899.32,727.06 900.96,727.14 902.60,727.21 904.24,727.28 905.87,727.35 907.51,727.42 909.15,727.49 910.79,727.55 912.43,727.61 914.06,727.67 915.70,727.72 917.34,727.78 918.98,727.83 920.62,727.88 922.26,727.93 923.89,727.98 925.53,728.02 927.17,728.06 928.81,728.11 930.45,728.15 932.08,728.18 933.72,728.22 935.36,728.25 937.00,728.29 938.64,728.32 940.28,728.35 941.91,728.38 943.55,728.41 945.19,728.44 946.83,728.46 948.47,728.49 950.10,728.51 951.74,728.53 953.38,728.55 955.02,728.57 956.66,728.59 958.30,728.61 959.93,728.63 961.57,728.64 963.21,728.66 964.85,728.67 966.49,728.69 968.12,728.70 969.76,728.71 971.40,728.72 973.04,728.74 974.68,728.75 976.32,728.75 977.95,728.76 979.59,728.77 981.23,728.78 982.87,728.78 984.51,728.79 986.14,728.80 987.78,728.80 989.42,728.80 991.06,728.81 992.70,728.81 994.34,728.81 995.97,728.81 997.61,728.82 999.25,728.82 1000.89,728.82 1002.53,728.81 1004.16,728.81 1005.80,728.81 1007.44,728.81 1009.08,728.80 1010.72,728.80 1012.36,728.80 1013.99,728.79 1015.63,728.78 1017.27,728.78 1018.91,728.77 1020.55,728.76 1022.18,728.75 1023.82,728.75 1025.46,728.74 1027.10,728.72 1028.74,728.71 1030.38,728.70 1032.01,728.69 1033.65,728.67 1035.29,728.66 1036.93,728.64 1038.57,728.63 1040.20,728.61 1041.84,728.59 1043.48,728.57 1045.12,728.55 1046.76,728.53 1048.40,728.51 1050.03,728.49 1051.67,728.46 1053.31,728.44 1054.95,728.41 1056.59,728.38 1058.22,728.35 1059.86,728.32 1061.50,728.29 1063.14,728.25 1064.78,728.22 1066.42,728.18 1068.05,728.15 1069.69,728.11 1071.33,728.06 1072.97,728.02 1074.61,727.98 1076.24,727.93 1077.88,727.88 1079.52,727.83 1081.16,727.78 1082.80,727.72 1084.44,727.67 1086.07,727.61 1087.71,727.55 1089.35,727.49 1090.99,727.42 1092.63,727.35 1094.26,727.28 1095.90,727.21 1097.54,727.14 1099.18,727.06 1100.82,726.98 1102.46,726.90 1104.09,726.82 1105.73,726.74 1107.37,726.65 1109.01,726.56 1110.65,726.48 1112.28,726.39 1113.92,726.29 1115.56,726.20 1117.20,726.11 1118.84,726.01 1120.48,725.92 1122.11,725.83 1123.75,725.73 1125.39,725.64 1127.03,725.55 1128.67,725.45 1130.30,725.36 1131.94,725.28 1133.58,725.19 1135.22,725.11 1136.86,725.02 1138.50,724.95 1140.13,724.87 1141.77,724.80 1143.41,724.73 1145.05,724.67 1146.69,724.61 1148.32,724.56 1149.96,724.51 1151.60,724.47 1153.24,724.43 1154.88,724.40 1156.52,724.37 1158.15,724.35 1159.79,724.33 1161.43,724.33 1163.07,724.32 1164.71,724.33 1166.34,724.33 1167.98,724.35 1169.62,724.37 1171.26,724.40 1172.90,724.43 1174.54,724.47 1176.17,724.51 1177.81,724.56 1179.45,724.61" fill="none" stroke="#231f20" stroke-width="2.2"/>
<polyline points="819.05,654.53 820.69,654.63 822.33,654.72 823.96,654.80 825.60,654.87 827.24,654.93 828.88,654.98 830.52,655.02 832.16,655.04 833.79,655.06 835.43,655.06 837.07,655.06 838.71,655.04 840.35,655.02 841.98,654.98 843.62,654.93 845.26,654.87 846.90,654.80 848.54,654.72 850.18,654.63 851.81,654.53 853.45,654.42 855.09,654.31 856.73,654.18 858.37,654.04 860.00,653.89 861.64,653.74 863.28,653.57 864.92,653.40 866.56,653.22 868.20,653.03 869.83,652.84 871.47,652.64 873.11,652.43 874.75,652.21 876.39,651.99 878.02,651.77 879.66,651.53 881.30,651.30 882.94,651.06 884.58,650.81 886.22,650.56 887.85,650.30 889.49,650.04 891.13,649.78 892.77,649.52 894.41,649.25 896.04,648.98 897.68,648.71 899.32,648.44 900.96,648.16 902.60,647.89 904.24,647.61 905.87,647.33 907.51,647.06 909.15,646.78 910.79,646.50 912.43,646.23 914.06,645.95 915.70,645.68 917.34,645.41 918.98,645.14 920.62,644.87 922.26,644.60 923.89,644.33 925.53,644.07 927.17,643.81 928.81,643.55 930.45,643.30 932.08,643.05 933.72,642.80 935.36,642.56 937.00,642.32 938.64,642.09 940.28,641.86 941.91,641.63 943.55,641.41 945.19,641.19 946.83,640.98 948.47,640.77 950.10,640.57 951.74,640.37 953.38,640.18 955.02,639.99 956.66,639.81 958.30,639.64 959.93,639.47 961.57,639.31 963.21,639.15 964.85,639.00 966.49,638.86 968.12,638.72 969.76,638.59 971.40,638.47 973.04,638.35 974.68,638.24 976.32,638.14 977.95,638.04 979.59,637.95 981.23,637.87 982.87,637.79 984.51,637.72 986.14,637.66 987.78,637.61 989.42,637.56 991.06,637.52 992.70,637.49 994.34,637.46 995.97,637.45 997.61,637.43 999.25,637.43 1000.89,637.43 1002.53,637.45 1004.16,637.46 1005.80,637.49 1007.44,637.52 1009.08,637.56 1010.72,637.61 1012.36,637.66 1013.99,637.72 1015.63,637.79 1017.27,637.87 1018.91,637.95 1020.55,638.04 1022.18,638.14 1023.82,638.24 1025.46,638.35 1027.10,638.47 1028.74,638.59 1030.38,638.72 1032.01,638.86 1033.65,639.00 1035.29,639.15 1036.93,639.31 1038.57,639.47 1040.20,639.64 1041.84,639.81 1043.48,639.99 1045.12,640.18 1046.76,640.37 1048.40,640.57 1050.03,640.77 1051.67,640.98 1053.31,641.19 1054.95,641.41 1056.59,641.63 1058.22,641.86 1059.86,642.09 1061.50,642.32 1063.14,642.56 1064.78,642.80 1066.42,643.05 1068.05,643.30 1069.69,643.55 1071.33,643.81 1072.97,644.07 1074.61,644.33 1076.24,644.60 1077.88,644.87 1079.52,645.14 1081.16,645.41 1082.80,645.68 1084.44,645.95 1086.07,646.23 1087.71,646.50 1089.35,646.78 1090.99,647.06 1092.63,647.33 1094.26,647.61 1095.90,647.89 1097.54,648.16 1099.18,648.44 1100.82,648.71 1102.46,648.98 1104.09,649.25 1105.73,649.52 1107.37,649.78 1109.01,650.04 1110.65,650.30 1112.28,650.56 1113.92,650.81 1115.56,651.06 1117.20,651.30 1118.84,651.53 1120.48,651.77 1122.11,651.99 1123.75,652.21 1125.39,652.43 1127.03,652.64 1128.67,652.84 1130.30,653.03 1131.94,653.22 1133.58,653.40 1135.22,653.57 1136.86,653.74 1138.50,653.89 1140.13,654.04 1141.77,654.18 1143.41,654.31 1145.05,654.42 1146.69,654.53 1148.32,654.63 1149.96,654.72 1151.60,654.80 1153.24,654.87 1154.88,654.93 1156.52,654.98 1158.15,655.02 1159.79,655.04 1161.43,655.06 1163.07,655.06 1164.71,655.06 1166.34,655.04 1167.98,655.02 1169.62,654.98 1171.26,654.93 1172.90,654.87 1174.54,654.80 1176.17,654.72 1177.81,654.63 1179.45,654.53" fill="none" stroke="#231f20" stroke-width="2.2"/>
<circle cx="835.43" cy="735.60" r="4.6" fill="#231f20"/>
<circle cx="890.04" cy="738.43" r="4.6" fill="#231f20"/>
<circle cx="944.64" cy="745.30" r="4.6" fill="#231f20"/>
<circle cx="944.64" cy="728.43" r="4.6" fill="#231f20"/>
<circle cx="999.25" cy="748.74" r="4.6" fill="#231f20"/>
<circle cx="999.25" cy="728.82" r="4.6" fill="#231f20"/>
<circle cx="1053.86" cy="745.30" r="4.6" fill="#231f20"/>
<circle cx="1053.86" cy="728.43" r="4.6" fill="#231f20"/>
<circle cx="1108.46" cy="738.43" r="4.6" fill="#231f20"/>
<circle cx="1163.07" cy="735.60" r="4.6" fill="#231f20"/>
</g>
<g clip-path="url(#cp30)">
<polyline points="1245.60,279.64 1247.24,279.64 1248.88,279.64 1250.51,279.64 1252.15,279.64 1253.79,279.64 1255.43,279.63 1257.07,279.63 1258.71,279.63 1260.34,279.63 1261.98,279.63 1263.62,279.63 1265.26,279.63 1266.90,279.63 1268.53,279.63 1270.17,279.64 1271.81,279.64 1273.45,279.64 1275.09,279.64 1276.73,279.64 1278.36,279.64 1280.00,279.64 1281.64,279.64 1283.28,279.64 1284.92,279.64 1286.55,279.64 1288.19,279.65 1289.83,279.65 1291.47,279.65 1293.11,279.65 1294.75,279.65 1296.38,279.65 1298.02,279.65 1299.66,279.66 1301.30,279.66 1302.94,279.66 1304.57,279.66 1306.21,279.67 1307.85,279.67 1309.49,279.67 1311.13,279.67 1312.77,279.68 1314.40,279.68 1316.04,279.68 1317.68,279.68 1319.32,279.69 1320.96,279.69 1322.59,279.69 1324.23,279.70 1325.87,279.70 1327.51,279.70 1329.15,279.71 1330.79,279.71 1332.42,279.72 1334.06,279.72 1335.70,279.72 1337.34,279.73 1338.98,279.73 1340.61,279.74 1342.25,279.74 1343.89,279.74 1345.53,279.75 1347.17,279.75 1348.81,279.76 1350.44,279.76 1352.08,279.77 1353.72,279.77 1355.36,279.78 1357.00,279.78 1358.63,279.79 1360.27,279.79 1361.91,279.80 1363.55,279.80 1365.19,279.81 1366.83,279.81 1368.46,279.82 1370.10,279.82 1371.74,279.83 1373.38,279.83 1375.02,279.84 1376.65,279.84 1378.29,279.85 1379.93,279.85 1381.57,279.86 1383.21,279.86 1384.85,279.86 1386.48,279.87 1388.12,279.87 1389.76,279.88 1391.40,279.88 1393.04,279.89 1394.67,279.89 1396.31,279.89 1397.95,279.90 1399.59,279.90 1401.23,279.90 1402.87,279.91 1404.50,279.91 1406.14,279.91 1407.78,279.91 1409.42,279.92 1411.06,279.92 1412.69,279.92 1414.33,279.92 1415.97,279.92 1417.61,279.93 1419.25,279.93 1420.89,279.93 1422.52,279.93 1424.16,279.93 1425.80,279.93 1427.44,279.93 1429.08,279.93 1430.71,279.93 1432.35,279.93 1433.99,279.93 1435.63,279.92 1437.27,279.92 1438.91,279.92 1440.54,279.92 1442.18,279.92 1443.82,279.91 1445.46,279.91 1447.10,279.91 1448.73,279.91 1450.37,279.90 1452.01,279.90 1453.65,279.90 1455.29,279.89 1456.93,279.89 1458.56,279.89 1460.20,279.88 1461.84,279.88 1463.48,279.87 1465.12,279.87 1466.75,279.86 1468.39,279.86 1470.03,279.86 1471.67,279.85 1473.31,279.85 1474.95,279.84 1476.58,279.84 1478.22,279.83 1479.86,279.83 1481.50,279.82 1483.14,279.82 1484.77,279.81 1486.41,279.81 1488.05,279.80 1489.69,279.80 1491.33,279.79 1492.97,279.79 1494.60,279.78 1496.24,279.78 1497.88,279.77 1499.52,279.77 1501.16,279.76 1502.79,279.76 1504.43,279.75 1506.07,279.75 1507.71,279.74 1509.35,279.74 1510.99,279.74 1512.62,279.73 1514.26,279.73 1515.90,279.72 1517.54,279.72 1519.18,279.72 1520.81,279.71 1522.45,279.71 1524.09,279.70 1525.73,279.70 1527.37,279.70 1529.01,279.69 1530.64,279.69 1532.28,279.69 1533.92,279.68 1535.56,279.68 1537.20,279.68 1538.83,279.68 1540.47,279.67 1542.11,279.67 1543.75,279.67 1545.39,279.67 1547.03,279.66 1548.66,279.66 1550.30,279.66 1551.94,279.66 1553.58,279.65 1555.22,279.65 1556.85,279.65 1558.49,279.65 1560.13,279.65 1561.77,279.65 1563.41,279.65 1565.05,279.64 1566.68,279.64 1568.32,279.64 1569.96,279.64 1571.60,279.64 1573.24,279.64 1574.87,279.64 1576.51,279.64 1578.15,279.64 1579.79,279.64 1581.43,279.64 1583.07,279.63 1584.70,279.63 1586.34,279.63 1587.98,279.63 1589.62,279.63 1591.26,279.63 1592.89,279.63 1594.53,279.63 1596.17,279.63 1597.81,279.64 1599.45,279.64 1601.09,279.64 1602.72,279.64 1604.36,279.64 1606.00,279.64" fill="none" stroke="#231f20" stroke-width="2.2"/>
<polyline points="1245.60,277.45 1247.24,277.44 1248.88,277.44 1250.51,277.43 1252.15,277.43 1253.79,277.43 1255.43,277.42 1257.07,277.42 1258.71,277.42 1260.34,277.42 1261.98,277.42 1263.62,277.42 1265.26,277.42 1266.90,277.42 1268.53,277.42 1270.17,277.43 1271.81,277.43 1273.45,277.43 1275.09,277.44 1276.73,277.44 1278.36,277.45 1280.00,277.45 1281.64,277.46 1283.28,277.46 1284.92,277.47 1286.55,277.48 1288.19,277.49 1289.83,277.49 1291.47,277.50 1293.11,277.51 1294.75,277.52 1296.38,277.53 1298.02,277.54 1299.66,277.55 1301.30,277.56 1302.94,277.57 1304.57,277.59 1306.21,277.60 1307.85,277.61 1309.49,277.62 1311.13,277.64 1312.77,277.65 1314.40,277.66 1316.04,277.68 1317.68,277.69 1319.32,277.71 1320.96,277.72 1322.59,277.73 1324.23,277.75 1325.87,277.76 1327.51,277.78 1329.15,277.79 1330.79,277.81 1332.42,277.82 1334.06,277.84 1335.70,277.85 1337.34,277.87 1338.98,277.88 1340.61,277.90 1342.25,277.91 1343.89,277.93 1345.53,277.94 1347.17,277.96 1348.81,277.97 1350.44,277.99 1352.08,278.00 1353.72,278.02 1355.36,278.03 1357.00,278.05 1358.63,278.06 1360.27,278.07 1361.91,278.09 1363.55,278.10 1365.19,278.11 1366.83,278.12 1368.46,278.14 1370.10,278.15 1371.74,278.16 1373.38,278.17 1375.02,278.18 1376.65,278.19 1378.29,278.20 1379.93,278.22 1381.57,278.23 1383.21,278.23 1384.85,278.24 1386.48,278.25 1388.12,278.26 1389.76,278.27 1391.40,278.28 1393.04,278.29 1394.67,278.29 1396.31,278.30 1397.95,278.31 1399.59,278.31 1401.23,278.32 1402.87,278.32 1404.50,278.33 1406.14,278.33 1407.78,278.34 1409.42,278.34 1411.06,278.34 1412.69,278.35 1414.33,278.35 1415.97,278.35 1417.61,278.36 1419.25,278.36 1420.89,278.36 1422.52,278.36 1424.16,278.36 1425.80,278.36 1427.44,278.36 1429.08,278.36 1430.71,278.36 1432.35,278.36 1433.99,278.36 1435.63,278.35 1437.27,278.35 1438.91,278.35 1440.54,278.34 1442.18,278.34 1443.82,278.34 1445.46,278.33 1447.10,278.33 1448.73,278.32 1450.37,278.32 1452.01,278.31 1453.65,278.31 1455.29,278.30 1456.93,278.29 1458.56,278.29 1460.20,278.28 1461.84,278.27 1463.48,278.26 1465.12,278.25 1466.75,278.24 1468.39,278.23 1470.03,278.23 1471.67,278.22 1473.31,278.20 1474.95,278.19 1476.58,278.18 1478.22,278.17 1479.86,278.16 1481.50,278.15 1483.14,278.14 1484.77,278.12 1486.41,278.11 1488.05,278.10 1489.69,278.09 1491.33,278.07 1492.97,278.06 1494.60,278.05 1496.24,278.03 1497.88,278.02 1499.52,278.00 1501.16,277.99 1502.79,277.97 1504.43,277.96 1506.07,277.94 1507.71,277.93 1509.35,277.91 1510.99,277.90 1512.62,277.88 1514.26,277.87 1515.90,277.85 1517.54,277.84 1519.18,277.82 1520.81,277.81 1522.45,277.79 1524.09,277.78 1525.73,277.76 1527.37,277.75 1529.01,277.73 1530.64,277.72 1532.28,277.71 1533.92,277.69 1535.56,277.68 1537.20,277.66 1538.83,277.65 1540.47,277.64 1542.11,277.62 1543.75,277.61 1545.39,277.60 1547.03,277.59 1548.66,277.57 1550.30,277.56 1551.94,277.55 1553.58,277.54 1555.22,277.53 1556.85,277.52 1558.49,277.51 1560.13,277.50 1561.77,277.49 1563.41,277.49 1565.05,277.48 1566.68,277.47 1568.32,277.46 1569.96,277.46 1571.60,277.45 1573.24,277.45 1574.87,277.44 1576.51,277.44 1578.15,277.43 1579.79,277.43 1581.43,277.43 1583.07,277.42 1584.70,277.42 1586.34,277.42 1587.98,277.42 1589.62,277.42 1591.26,277.42 1592.89,277.42 1594.53,277.42 1596.17,277.42 1597.81,277.43 1599.45,277.43 1601.09,277.43 1602.72,277.44 1604.36,277.44 1606.00,277.45" fill="none" stroke="#231f20" stroke-width="2.2"/>
<polyline points="1245.60,148.02 1247.24,148.02 1248.88,148.03 1250.51,148.03 1252.15,148.03 1253.79,148.04 1255.43,148.04 1257.07,148.04 1258.71,148.04 1260.34,148.05 1261.98,148.05 1263.62,148.05 1265.26,148.04 1266.90,148.04 1268.53,148.04 1270.17,148.04 1271.81,148.03 1273.45,148.03 1275.09,148.03 1276.73,148.02 1278.36,148.02 1280.00,148.01 1281.64,148.00 1283.28,147.99 1284.92,147.99 1286.55,147.98 1288.19,147.97 1289.83,147.96 1291.47,147.95 1293.11,147.94 1294.75,147.93 1296.38,147.92 1298.02,147.90 1299.66,147.89 1301.30,147.88 1302.94,147.86 1304.57,147.85 1306.21,147.83 1307.85,147.82 1309.49,147.80 1311.13,147.79 1312.77,147.77 1314.40,147.76 1316.04,147.74 1317.68,147.72 1319.32,147.71 1320.96,147.69 1322.59,147.67 1324.23,147.65 1325.87,147.63 1327.51,147.62 1329.15,147.60 1330.79,147.58 1332.42,147.56 1334.06,147.54 1335.70,147.52 1337.34,147.50 1338.98,147.48 1340.61,147.46 1342.25,147.44 1343.89,147.43 1345.53,147.41 1347.17,147.39 1348.81,147.37 1350.44,147.35 1352.08,147.33 1353.72,147.31 1355.36,147.29 1357.00,147.27 1358.63,147.25 1360.27,147.23 1361.91,147.22 1363.55,147.20 1365.19,147.18 1366.83,147.16 1368.46,147.15 1370.10,147.13 1371.74,147.11 1373.38,147.10 1375.02,147.08 1376.65,147.06 1378.29,147.05 1379.93,147.03 1381.57,147.02 1383.21,147.00 1384.85,146.99 1386.48,146.98 1388.12,146.96 1389.76,146.95 1391.40,146.94 1393.04,146.93 1394.67,146.92 1396.31,146.91 1397.95,146.90 1399.59,146.89 1401.23,146.88 1402.87,146.87 1404.50,146.86 1406.14,146.85 1407.78,146.85 1409.42,146.84 1411.06,146.83 1412.69,146.83 1414.33,146.83 1415.97,146.82 1417.61,146.82 1419.25,146.82 1420.89,146.81 1422.52,146.81 1424.16,146.81 1425.80,146.81 1427.44,146.81 1429.08,146.81 1430.71,146.81 1432.35,146.82 1433.99,146.82 1435.63,146.82 1437.27,146.83 1438.91,146.83 1440.54,146.83 1442.18,146.84 1443.82,146.85 1445.46,146.85 1447.10,146.86 1448.73,146.87 1450.37,146.88 1452.01,146.89 1453.65,146.90 1455.29,146.91 1456.93,146.92 1458.56,146.93 1460.20,146.94 1461.84,146.95 1463.48,146.96 1465.12,146.98 1466.75,146.99 1468.39,147.00 1470.03,147.02 1471.67,147.03 1473.31,147.05 1474.95,147.06 1476.58,147.08 1478.22,147.10 1479.86,147.11 1481.50,147.13 1483.14,147.15 1484.77,147.16 1486.41,147.18 1488.05,147.20 1489.69,147.22 1491.33,147.23 1492.97,147.25 1494.60,147.27 1496.24,147.29 1497.88,147.31 1499.52,147.33 1501.16,147.35 1502.79,147.37 1504.43,147.39 1506.07,147.41 1507.71,147.43 1509.35,147.44 1510.99,147.46 1512.62,147.48 1514.26,147.50 1515.90,147.52 1517.54,147.54 1519.18,147.56 1520.81,147.58 1522.45,147.60 1524.09,147.62 1525.73,147.63 1527.37,147.65 1529.01,147.67 1530.64,147.69 1532.28,147.71 1533.92,147.72 1535.56,147.74 1537.20,147.76 1538.83,147.77 1540.47,147.79 1542.11,147.80 1543.75,147.82 1545.39,147.83 1547.03,147.85 1548.66,147.86 1550.30,147.88 1551.94,147.89 1553.58,147.90 1555.22,147.92 1556.85,147.93 1558.49,147.94 1560.13,147.95 1561.77,147.96 1563.41,147.97 1565.05,147.98 1566.68,147.99 1568.32,147.99 1569.96,148.00 1571.60,148.01 1573.24,148.02 1574.87,148.02 1576.51,148.03 1578.15,148.03 1579.79,148.03 1581.43,148.04 1583.07,148.04 1584.70,148.04 1586.34,148.04 1587.98,148.05 1589.62,148.05 1591.26,148.05 1592.89,148.04 1594.53,148.04 1596.17,148.04 1597.81,148.04 1599.45,148.03 1601.09,148.03 1602.72,148.03 1604.36,148.02 1606.00,148.02" fill="none" stroke="#231f20" stroke-width="2.2"/>
<circle cx="1261.98" cy="279.63" r="4.6" fill="#231f20"/>
<circle cx="1316.59" cy="279.68" r="4.6" fill="#231f20"/>
<circle cx="1371.19" cy="279.82" r="4.6" fill="#231f20"/>
<circle cx="1425.80" cy="279.93" r="4.6" fill="#231f20"/>
<circle cx="1480.41" cy="279.82" r="4.6" fill="#231f20"/>
<circle cx="1535.01" cy="279.68" r="4.6" fill="#231f20"/>
<circle cx="1589.62" cy="279.63" r="4.6" fill="#231f20"/>
</g>
<g clip-path="url(#cp31)">
<polyline points="1245.60,528.64 1247.24,528.64 1248.88,528.64 1250.51,528.64 1252.15,528.64 1253.79,528.64 1255.43,528.63 1257.07,528.63 1258.71,528.63 1260.34,528.63 1261.98,528.63 1263.62,528.63 1265.26,528.63 1266.90,528.63 1268.53,528.63 1270.17,528.64 1271.81,528.64 1273.45,528.64 1275.09,528.64 1276.73,528.64 1278.36,528.64 1280.00,528.64 1281.64,528.64 1283.28,528.64 1284.92,528.64 1286.55,528.64 1288.19,528.65 1289.83,528.65 1291.47,528.65 1293.11,528.65 1294.75,528.65 1296.38,528.65 1298.02,528.65 1299.66,528.66 1301.30,528.66 1302.94,528.66 1304.57,528.66 1306.21,528.67 1307.85,528.67 1309.49,528.67 1311.13,528.67 1312.77,528.68 1314.40,528.68 1316.04,528.68 1317.68,528.68 1319.32,528.69 1320.96,528.69 1322.59,528.69 1324.23,528.70 1325.87,528.70 1327.51,528.70 1329.15,528.71 1330.79,528.71 1332.42,528.72 1334.06,528.72 1335.70,528.72 1337.34,528.73 1338.98,528.73 1340.61,528.74 1342.25,528.74 1343.89,528.74 1345.53,528.75 1347.17,528.75 1348.81,528.76 1350.44,528.76 1352.08,528.77 1353.72,528.77 1355.36,528.78 1357.00,528.78 1358.63,528.79 1360.27,528.79 1361.91,528.80 1363.55,528.80 1365.19,528.81 1366.83,528.81 1368.46,528.82 1370.10,528.82 1371.74,528.83 1373.38,528.83 1375.02,528.84 1376.65,528.84 1378.29,528.85 1379.93,528.85 1381.57,528.86 1383.21,528.86 1384.85,528.86 1386.48,528.87 1388.12,528.87 1389.76,528.88 1391.40,528.88 1393.04,528.89 1394.67,528.89 1396.31,528.89 1397.95,528.90 1399.59,528.90 1401.23,528.90 1402.87,528.91 1404.50,528.91 1406.14,528.91 1407.78,528.91 1409.42,528.92 1411.06,528.92 1412.69,528.92 1414.33,528.92 1415.97,528.92 1417.61,528.93 1419.25,528.93 1420.89,528.93 1422.52,528.93 1424.16,528.93 1425.80,528.93 1427.44,528.93 1429.08,528.93 1430.71,528.93 1432.35,528.93 1433.99,528.93 1435.63,528.92 1437.27,528.92 1438.91,528.92 1440.54,528.92 1442.18,528.92 1443.82,528.91 1445.46,528.91 1447.10,528.91 1448.73,528.91 1450.37,528.90 1452.01,528.90 1453.65,528.90 1455.29,528.89 1456.93,528.89 1458.56,528.89 1460.20,528.88 1461.84,528.88 1463.48,528.87 1465.12,528.87 1466.75,528.86 1468.39,528.86 1470.03,528.86 1471.67,528.85 1473.31,528.85 1474.95,528.84 1476.58,528.84 1478.22,528.83 1479.86,528.83 1481.50,528.82 1483.14,528.82 1484.77,528.81 1486.41,528.81 1488.05,528.80 1489.69,528.80 1491.33,528.79 1492.97,528.79 1494.60,528.78 1496.24,528.78 1497.88,528.77 1499.52,528.77 1501.16,528.76 1502.79,528.76 1504.43,528.75 1506.07,528.75 1507.71,528.74 1509.35,528.74 1510.99,528.74 1512.62,528.73 1514.26,528.73 1515.90,528.72 1517.54,528.72 1519.18,528.72 1520.81,528.71 1522.45,528.71 1524.09,528.70 1525.73,528.70 1527.37,528.70 1529.01,528.69 1530.64,528.69 1532.28,528.69 1533.92,528.68 1535.56,528.68 1537.20,528.68 1538.83,528.68 1540.47,528.67 1542.11,528.67 1543.75,528.67 1545.39,528.67 1547.03,528.66 1548.66,528.66 1550.30,528.66 1551.94,528.66 1553.58,528.65 1555.22,528.65 1556.85,528.65 1558.49,528.65 1560.13,528.65 1561.77,528.65 1563.41,528.65 1565.05,528.64 1566.68,528.64 1568.32,528.64 1569.96,528.64 1571.60,528.64 1573.24,528.64 1574.87,528.64 1576.51,528.64 1578.15,528.64 1579.79,528.64 1581.43,528.64 1583.07,528.63 1584.70,528.63 1586.34,528.63 1587.98,528.63 1589.62,528.63 1591.26,528.63 1592.89,528.63 1594.53,528.63 1596.17,528.63 1597.81,528.64 1599.45,528.64 1601.09,528.64 1602.72,528.64 1604.36,528.64 1606.00,528.64" fill="none" stroke="#231f20" stroke-width="2.2"/>
<polyline points="1245.60,526.45 1247.24,526.44 1248.88,526.44 1250.51,526.43 1252.15,526.43 1253.79,526.43 1255.43,526.42 1257.07,526.42 1258.71,526.42 1260.34,526.42 1261.98,526.42 1263.62,526.42 1265.26,526.42 1266.90,526.42 1268.53,526.42 1270.17,526.43 1271.81,526.43 1273.45,526.43 1275.09,526.44 1276.73,526.44 1278.36,526.45 1280.00,526.45 1281.64,526.46 1283.28,526.46 1284.92,526.47 1286.55,526.48 1288.19,526.49 1289.83,526.49 1291.47,526.50 1293.11,526.51 1294.75,526.52 1296.38,526.53 1298.02,526.54 1299.66,526.55 1301.30,526.56 1302.94,526.57 1304.57,526.59 1306.21,526.60 1307.85,526.61 1309.49,526.62 1311.13,526.64 1312.77,526.65 1314.40,526.66 1316.04,526.68 1317.68,526.69 1319.32,526.71 1320.96,526.72 1322.59,526.73 1324.23,526.75 1325.87,526.76 1327.51,526.78 1329.15,526.79 1330.79,526.81 1332.42,526.82 1334.06,526.84 1335.70,526.85 1337.34,526.87 1338.98,526.88 1340.61,526.90 1342.25,526.91 1343.89,526.93 1345.53,526.94 1347.17,526.96 1348.81,526.97 1350.44,526.99 1352.08,527.00 1353.72,527.02 1355.36,527.03 1357.00,527.05 1358.63,527.06 1360.27,527.07 1361.91,527.09 1363.55,527.10 1365.19,527.11 1366.83,527.12 1368.46,527.14 1370.10,527.15 1371.74,527.16 1373.38,527.17 1375.02,527.18 1376.65,527.19 1378.29,527.20 1379.93,527.22 1381.57,527.23 1383.21,527.23 1384.85,527.24 1386.48,527.25 1388.12,527.26 1389.76,527.27 1391.40,527.28 1393.04,527.29 1394.67,527.29 1396.31,527.30 1397.95,527.31 1399.59,527.31 1401.23,527.32 1402.87,527.32 1404.50,527.33 1406.14,527.33 1407.78,527.34 1409.42,527.34 1411.06,527.34 1412.69,527.35 1414.33,527.35 1415.97,527.35 1417.61,527.36 1419.25,527.36 1420.89,527.36 1422.52,527.36 1424.16,527.36 1425.80,527.36 1427.44,527.36 1429.08,527.36 1430.71,527.36 1432.35,527.36 1433.99,527.36 1435.63,527.35 1437.27,527.35 1438.91,527.35 1440.54,527.34 1442.18,527.34 1443.82,527.34 1445.46,527.33 1447.10,527.33 1448.73,527.32 1450.37,527.32 1452.01,527.31 1453.65,527.31 1455.29,527.30 1456.93,527.29 1458.56,527.29 1460.20,527.28 1461.84,527.27 1463.48,527.26 1465.12,527.25 1466.75,527.24 1468.39,527.23 1470.03,527.23 1471.67,527.22 1473.31,527.20 1474.95,527.19 1476.58,527.18 1478.22,527.17 1479.86,527.16 1481.50,527.15 1483.14,527.14 1484.77,527.12 1486.41,527.11 1488.05,527.10 1489.69,527.09 1491.33,527.07 1492.97,527.06 1494.60,527.05 1496.24,527.03 1497.88,527.02 1499.52,527.00 1501.16,526.99 1502.79,526.97 1504.43,526.96 1506.07,526.94 1507.71,526.93 1509.35,526.91 1510.99,526.90 1512.62,526.88 1514.26,526.87 1515.90,526.85 1517.54,526.84 1519.18,526.82 1520.81,526.81 1522.45,526.79 1524.09,526.78 1525.73,526.76 1527.37,526.75 1529.01,526.73 1530.64,526.72 1532.28,526.71 1533.92,526.69 1535.56,526.68 1537.20,526.66 1538.83,526.65 1540.47,526.64 1542.11,526.62 1543.75,526.61 1545.39,526.60 1547.03,526.59 1548.66,526.57 1550.30,526.56 1551.94,526.55 1553.58,526.54 1555.22,526.53 1556.85,526.52 1558.49,526.51 1560.13,526.50 1561.77,526.49 1563.41,526.49 1565.05,526.48 1566.68,526.47 1568.32,526.46 1569.96,526.46 1571.60,526.45 1573.24,526.45 1574.87,526.44 1576.51,526.44 1578.15,526.43 1579.79,526.43 1581.43,526.43 1583.07,526.42 1584.70,526.42 1586.34,526.42 1587.98,526.42 1589.62,526.42 1591.26,526.42 1592.89,526.42 1594.53,526.42 1596.17,526.42 1597.81,526.43 1599.45,526.43 1601.09,526.43 1602.72,526.44 1604.36,526.44 1606.00,526.45" fill="none" stroke="#231f20" stroke-width="2.2"/>
<polyline points="1245.60,397.02 1247.24,397.02 1248.88,397.03 1250.51,397.03 1252.15,397.03 1253.79,397.04 1255.43,397.04 1257.07,397.04 1258.71,397.04 1260.34,397.05 1261.98,397.05 1263.62,397.05 1265.26,397.04 1266.90,397.04 1268.53,397.04 1270.17,397.04 1271.81,397.03 1273.45,397.03 1275.09,397.03 1276.73,397.02 1278.36,397.02 1280.00,397.01 1281.64,397.00 1283.28,396.99 1284.92,396.99 1286.55,396.98 1288.19,396.97 1289.83,396.96 1291.47,396.95 1293.11,396.94 1294.75,396.93 1296.38,396.92 1298.02,396.90 1299.66,396.89 1301.30,396.88 1302.94,396.86 1304.57,396.85 1306.21,396.83 1307.85,396.82 1309.49,396.80 1311.13,396.79 1312.77,396.77 1314.40,396.76 1316.04,396.74 1317.68,396.72 1319.32,396.71 1320.96,396.69 1322.59,396.67 1324.23,396.65 1325.87,396.63 1327.51,396.62 1329.15,396.60 1330.79,396.58 1332.42,396.56 1334.06,396.54 1335.70,396.52 1337.34,396.50 1338.98,396.48 1340.61,396.46 1342.25,396.44 1343.89,396.43 1345.53,396.41 1347.17,396.39 1348.81,396.37 1350.44,396.35 1352.08,396.33 1353.72,396.31 1355.36,396.29 1357.00,396.27 1358.63,396.25 1360.27,396.23 1361.91,396.22 1363.55,396.20 1365.19,396.18 1366.83,396.16 1368.46,396.15 1370.10,396.13 1371.74,396.11 1373.38,396.10 1375.02,396.08 1376.65,396.06 1378.29,396.05 1379.93,396.03 1381.57,396.02 1383.21,396.00 1384.85,395.99 1386.48,395.98 1388.12,395.96 1389.76,395.95 1391.40,395.94 1393.04,395.93 1394.67,395.92 1396.31,395.91 1397.95,395.90 1399.59,395.89 1401.23,395.88 1402.87,395.87 1404.50,395.86 1406.14,395.85 1407.78,395.85 1409.42,395.84 1411.06,395.83 1412.69,395.83 1414.33,395.83 1415.97,395.82 1417.61,395.82 1419.25,395.82 1420.89,395.81 1422.52,395.81 1424.16,395.81 1425.80,395.81 1427.44,395.81 1429.08,395.81 1430.71,395.81 1432.35,395.82 1433.99,395.82 1435.63,395.82 1437.27,395.83 1438.91,395.83 1440.54,395.83 1442.18,395.84 1443.82,395.85 1445.46,395.85 1447.10,395.86 1448.73,395.87 1450.37,395.88 1452.01,395.89 1453.65,395.90 1455.29,395.91 1456.93,395.92 1458.56,395.93 1460.20,395.94 1461.84,395.95 1463.48,395.96 1465.12,395.98 1466.75,395.99 1468.39,396.00 1470.03,396.02 1471.67,396.03 1473.31,396.05 1474.95,396.06 1476.58,396.08 1478.22,396.10 1479.86,396.11 1481.50,396.13 1483.14,396.15 1484.77,396.16 1486.41,396.18 1488.05,396.20 1489.69,396.22 1491.33,396.23 1492.97,396.25 1494.60,396.27 1496.24,396.29 1497.88,396.31 1499.52,396.33 1501.16,396.35 1502.79,396.37 1504.43,396.39 1506.07,396.41 1507.71,396.43 1509.35,396.44 1510.99,396.46 1512.62,396.48 1514.26,396.50 1515.90,396.52 1517.54,396.54 1519.18,396.56 1520.81,396.58 1522.45,396.60 1524.09,396.62 1525.73,396.63 1527.37,396.65 1529.01,396.67 1530.64,396.69 1532.28,396.71 1533.92,396.72 1535.56,396.74 1537.20,396.76 1538.83,396.77 1540.47,396.79 1542.11,396.80 1543.75,396.82 1545.39,396.83 1547.03,396.85 1548.66,396.86 1550.30,396.88 1551.94,396.89 1553.58,396.90 1555.22,396.92 1556.85,396.93 1558.49,396.94 1560.13,396.95 1561.77,396.96 1563.41,396.97 1565.05,396.98 1566.68,396.99 1568.32,396.99 1569.96,397.00 1571.60,397.01 1573.24,397.02 1574.87,397.02 1576.51,397.03 1578.15,397.03 1579.79,397.03 1581.43,397.04 1583.07,397.04 1584.70,397.04 1586.34,397.04 1587.98,397.05 1589.62,397.05 1591.26,397.05 1592.89,397.04 1594.53,397.04 1596.17,397.04 1597.81,397.04 1599.45,397.03 1601.09,397.03 1602.72,397.03 1604.36,397.02 1606.00,397.02" fill="none" stroke="#231f20" stroke-width="2.2"/>
<circle cx="1261.98" cy="528.63" r="4.6" fill="#231f20"/>
<circle cx="1316.59" cy="528.68" r="4.6" fill="#231f20"/>
<circle cx="1371.19" cy="528.82" r="4.6" fill="#231f20"/>
<circle cx="1425.80" cy="528.93" r="4.6" fill="#231f20"/>
<circle cx="1480.41" cy="528.82" r="4.6" fill="#231f20"/>
<circle cx="1535.01" cy="528.68" r="4.6" fill="#231f20"/>
<circle cx="1589.62" cy="528.63" r="4.6" fill="#231f20"/>
</g>
<g clip-path="url(#cp32)">
<polyline points="1245.60,777.64 1247.24,777.64 1248.88,777.64 1250.51,777.64 1252.15,777.64 1253.79,777.64 1255.43,777.63 1257.07,777.63 1258.71,777.63 1260.34,777.63 1261.98,777.63 1263.62,777.63 1265.26,777.63 1266.90,777.63 1268.53,777.63 1270.17,777.64 1271.81,777.64 1273.45,777.64 1275.09,777.64 1276.73,777.64 1278.36,777.64 1280.00,777.64 1281.64,777.64 1283.28,777.64 1284.92,777.64 1286.55,777.64 1288.19,777.65 1289.83,777.65 1291.47,777.65 1293.11,777.65 1294.75,777.65 1296.38,777.65 1298.02,777.65 1299.66,777.66 1301.30,777.66 1302.94,777.66 1304.57,777.66 1306.21,777.67 1307.85,777.67 1309.49,777.67 1311.13,777.67 1312.77,777.68 1314.40,777.68 1316.04,777.68 1317.68,777.68 1319.32,777.69 1320.96,777.69 1322.59,777.69 1324.23,777.70 1325.87,777.70 1327.51,777.70 1329.15,777.71 1330.79,777.71 1332.42,777.72 1334.06,777.72 1335.70,777.72 1337.34,777.73 1338.98,777.73 1340.61,777.74 1342.25,777.74 1343.89,777.74 1345.53,777.75 1347.17,777.75 1348.81,777.76 1350.44,777.76 1352.08,777.77 1353.72,777.77 1355.36,777.78 1357.00,777.78 1358.63,777.79 1360.27,777.79 1361.91,777.80 1363.55,777.80 1365.19,777.81 1366.83,777.81 1368.46,777.82 1370.10,777.82 1371.74,777.83 1373.38,777.83 1375.02,777.84 1376.65,777.84 1378.29,777.85 1379.93,777.85 1381.57,777.86 1383.21,777.86 1384.85,777.86 1386.48,777.87 1388.12,777.87 1389.76,777.88 1391.40,777.88 1393.04,777.89 1394.67,777.89 1396.31,777.89 1397.95,777.90 1399.59,777.90 1401.23,777.90 1402.87,777.91 1404.50,777.91 1406.14,777.91 1407.78,777.91 1409.42,777.92 1411.06,777.92 1412.69,777.92 1414.33,777.92 1415.97,777.92 1417.61,777.93 1419.25,777.93 1420.89,777.93 1422.52,777.93 1424.16,777.93 1425.80,777.93 1427.44,777.93 1429.08,777.93 1430.71,777.93 1432.35,777.93 1433.99,777.93 1435.63,777.92 1437.27,777.92 1438.91,777.92 1440.54,777.92 1442.18,777.92 1443.82,777.91 1445.46,777.91 1447.10,777.91 1448.73,777.91 1450.37,777.90 1452.01,777.90 1453.65,777.90 1455.29,777.89 1456.93,777.89 1458.56,777.89 1460.20,777.88 1461.84,777.88 1463.48,777.87 1465.12,777.87 1466.75,777.86 1468.39,777.86 1470.03,777.86 1471.67,777.85 1473.31,777.85 1474.95,777.84 1476.58,777.84 1478.22,777.83 1479.86,777.83 1481.50,777.82 1483.14,777.82 1484.77,777.81 1486.41,777.81 1488.05,777.80 1489.69,777.80 1491.33,777.79 1492.97,777.79 1494.60,777.78 1496.24,777.78 1497.88,777.77 1499.52,777.77 1501.16,777.76 1502.79,777.76 1504.43,777.75 1506.07,777.75 1507.71,777.74 1509.35,777.74 1510.99,777.74 1512.62,777.73 1514.26,777.73 1515.90,777.72 1517.54,777.72 1519.18,777.72 1520.81,777.71 1522.45,777.71 1524.09,777.70 1525.73,777.70 1527.37,777.70 1529.01,777.69 1530.64,777.69 1532.28,777.69 1533.92,777.68 1535.56,777.68 1537.20,777.68 1538.83,777.68 1540.47,777.67 1542.11,777.67 1543.75,777.67 1545.39,777.67 1547.03,777.66 1548.66,777.66 1550.30,777.66 1551.94,777.66 1553.58,777.65 1555.22,777.65 1556.85,777.65 1558.49,777.65 1560.13,777.65 1561.77,777.65 1563.41,777.65 1565.05,777.64 1566.68,777.64 1568.32,777.64 1569.96,777.64 1571.60,777.64 1573.24,777.64 1574.87,777.64 1576.51,777.64 1578.15,777.64 1579.79,777.64 1581.43,777.64 1583.07,777.63 1584.70,777.63 1586.34,777.63 1587.98,777.63 1589.62,777.63 1591.26,777.63 1592.89,777.63 1594.53,777.63 1596.17,777.63 1597.81,777.64 1599.45,777.64 1601.09,777.64 1602.72,777.64 1604.36,777.64 1606.00,777.64" fill="none" stroke="#231f20" stroke-width="2.2"/>
<polyline points="1245.60,775.45 1247.24,775.44 1248.88,775.44 1250.51,775.43 1252.15,775.43 1253.79,775.43 1255.43,775.42 1257.07,775.42 1258.71,775.42 1260.34,775.42 1261.98,775.42 1263.62,775.42 1265.26,775.42 1266.90,775.42 1268.53,775.42 1270.17,775.43 1271.81,775.43 1273.45,775.43 1275.09,775.44 1276.73,775.44 1278.36,775.45 1280.00,775.45 1281.64,775.46 1283.28,775.46 1284.92,775.47 1286.55,775.48 1288.19,775.49 1289.83,775.49 1291.47,775.50 1293.11,775.51 1294.75,775.52 1296.38,775.53 1298.02,775.54 1299.66,775.55 1301.30,775.56 1302.94,775.57 1304.57,775.59 1306.21,775.60 1307.85,775.61 1309.49,775.62 1311.13,775.64 1312.77,775.65 1314.40,775.66 1316.04,775.68 1317.68,775.69 1319.32,775.71 1320.96,775.72 1322.59,775.73 1324.23,775.75 1325.87,775.76 1327.51,775.78 1329.15,775.79 1330.79,775.81 1332.42,775.82 1334.06,775.84 1335.70,775.85 1337.34,775.87 1338.98,775.88 1340.61,775.90 1342.25,775.91 1343.89,775.93 1345.53,775.94 1347.17,775.96 1348.81,775.97 1350.44,775.99 1352.08,776.00 1353.72,776.02 1355.36,776.03 1357.00,776.05 1358.63,776.06 1360.27,776.07 1361.91,776.09 1363.55,776.10 1365.19,776.11 1366.83,776.12 1368.46,776.14 1370.10,776.15 1371.74,776.16 1373.38,776.17 1375.02,776.18 1376.65,776.19 1378.29,776.20 1379.93,776.22 1381.57,776.23 1383.21,776.23 1384.85,776.24 1386.48,776.25 1388.12,776.26 1389.76,776.27 1391.40,776.28 1393.04,776.29 1394.67,776.29 1396.31,776.30 1397.95,776.31 1399.59,776.31 1401.23,776.32 1402.87,776.32 1404.50,776.33 1406.14,776.33 1407.78,776.34 1409.42,776.34 1411.06,776.34 1412.69,776.35 1414.33,776.35 1415.97,776.35 1417.61,776.36 1419.25,776.36 1420.89,776.36 1422.52,776.36 1424.16,776.36 1425.80,776.36 1427.44,776.36 1429.08,776.36 1430.71,776.36 1432.35,776.36 1433.99,776.36 1435.63,776.35 1437.27,776.35 1438.91,776.35 1440.54,776.34 1442.18,776.34 1443.82,776.34 1445.46,776.33 1447.10,776.33 1448.73,776.32 1450.37,776.32 1452.01,776.31 1453.65,776.31 1455.29,776.30 1456.93,776.29 1458.56,776.29 1460.20,776.28 1461.84,776.27 1463.48,776.26 1465.12,776.25 1466.75,776.24 1468.39,776.23 1470.03,776.23 1471.67,776.22 1473.31,776.20 1474.95,776.19 1476.58,776.18 1478.22,776.17 1479.86,776.16 1481.50,776.15 1483.14,776.14 1484.77,776.12 1486.41,776.11 1488.05,776.10 1489.69,776.09 1491.33,776.07 1492.97,776.06 1494.60,776.05 1496.24,776.03 1497.88,776.02 1499.52,776.00 1501.16,775.99 1502.79,775.97 1504.43,775.96 1506.07,775.94 1507.71,775.93 1509.35,775.91 1510.99,775.90 1512.62,775.88 1514.26,775.87 1515.90,775.85 1517.54,775.84 1519.18,775.82 1520.81,775.81 1522.45,775.79 1524.09,775.78 1525.73,775.76 1527.37,775.75 1529.01,775.73 1530.64,775.72 1532.28,775.71 1533.92,775.69 1535.56,775.68 1537.20,775.66 1538.83,775.65 1540.47,775.64 1542.11,775.62 1543.75,775.61 1545.39,775.60 1547.03,775.59 1548.66,775.57 1550.30,775.56 1551.94,775.55 1553.58,775.54 1555.22,775.53 1556.85,775.52 1558.49,775.51 1560.13,775.50 1561.77,775.49 1563.41,775.49 1565.05,775.48 1566.68,775.47 1568.32,775.46 1569.96,775.46 1571.60,775.45 1573.24,775.45 1574.87,775.44 1576.51,775.44 1578.15,775.43 1579.79,775.43 1581.43,775.43 1583.07,775.42 1584.70,775.42 1586.34,775.42 1587.98,775.42 1589.62,775.42 1591.26,775.42 1592.89,775.42 1594.53,775.42 1596.17,775.42 1597.81,775.43 1599.45,775.43 1601.09,775.43 1602.72,775.44 1604.36,775.44 1606.00,775.45" fill="none" stroke="#231f20" stroke-width="2.2"/>
<polyline points="1245.60,646.02 1247.24,646.02 1248.88,646.03 1250.51,646.03 1252.15,646.03 1253.79,646.04 1255.43,646.04 1257.07,646.04 1258.71,646.04 1260.34,646.05 1261.98,646.05 1263.62,646.05 1265.26,646.04 1266.90,646.04 1268.53,646.04 1270.17,646.04 1271.81,646.03 1273.45,646.03 1275.09,646.03 1276.73,646.02 1278.36,646.02 1280.00,646.01 1281.64,646.00 1283.28,645.99 1284.92,645.99 1286.55,645.98 1288.19,645.97 1289.83,645.96 1291.47,645.95 1293.11,645.94 1294.75,645.93 1296.38,645.92 1298.02,645.90 1299.66,645.89 1301.30,645.88 1302.94,645.86 1304.57,645.85 1306.21,645.83 1307.85,645.82 1309.49,645.80 1311.13,645.79 1312.77,645.77 1314.40,645.76 1316.04,645.74 1317.68,645.72 1319.32,645.71 1320.96,645.69 1322.59,645.67 1324.23,645.65 1325.87,645.63 1327.51,645.62 1329.15,645.60 1330.79,645.58 1332.42,645.56 1334.06,645.54 1335.70,645.52 1337.34,645.50 1338.98,645.48 1340.61,645.46 1342.25,645.44 1343.89,645.43 1345.53,645.41 1347.17,645.39 1348.81,645.37 1350.44,645.35 1352.08,645.33 1353.72,645.31 1355.36,645.29 1357.00,645.27 1358.63,645.25 1360.27,645.23 1361.91,645.22 1363.55,645.20 1365.19,645.18 1366.83,645.16 1368.46,645.15 1370.10,645.13 1371.74,645.11 1373.38,645.10 1375.02,645.08 1376.65,645.06 1378.29,645.05 1379.93,645.03 1381.57,645.02 1383.21,645.00 1384.85,644.99 1386.48,644.98 1388.12,644.96 1389.76,644.95 1391.40,644.94 1393.04,644.93 1394.67,644.92 1396.31,644.91 1397.95,644.90 1399.59,644.89 1401.23,644.88 1402.87,644.87 1404.50,644.86 1406.14,644.85 1407.78,644.85 1409.42,644.84 1411.06,644.83 1412.69,644.83 1414.33,644.83 1415.97,644.82 1417.61,644.82 1419.25,644.82 1420.89,644.81 1422.52,644.81 1424.16,644.81 1425.80,644.81 1427.44,644.81 1429.08,644.81 1430.71,644.81 1432.35,644.82 1433.99,644.82 1435.63,644.82 1437.27,644.83 1438.91,644.83 1440.54,644.83 1442.18,644.84 1443.82,644.85 1445.46,644.85 1447.10,644.86 1448.73,644.87 1450.37,644.88 1452.01,644.89 1453.65,644.90 1455.29,644.91 1456.93,644.92 1458.56,644.93 1460.20,644.94 1461.84,644.95 1463.48,644.96 1465.12,644.98 1466.75,644.99 1468.39,645.00 1470.03,645.02 1471.67,645.03 1473.31,645.05 1474.95,645.06 1476.58,645.08 1478.22,645.10 1479.86,645.11 1481.50,645.13 1483.14,645.15 1484.77,645.16 1486.41,645.18 1488.05,645.20 1489.69,645.22 1491.33,645.23 1492.97,645.25 1494.60,645.27 1496.24,645.29 1497.88,645.31 1499.52,645.33 1501.16,645.35 1502.79,645.37 1504.43,645.39 1506.07,645.41 1507.71,645.43 1509.35,645.44 1510.99,645.46 1512.62,645.48 1514.26,645.50 1515.90,645.52 1517.54,645.54 1519.18,645.56 1520.81,645.58 1522.45,645.60 1524.09,645.62 1525.73,645.63 1527.37,645.65 1529.01,645.67 1530.64,645.69 1532.28,645.71 1533.92,645.72 1535.56,645.74 1537.20,645.76 1538.83,645.77 1540.47,645.79 1542.11,645.80 1543.75,645.82 1545.39,645.83 1547.03,645.85 1548.66,645.86 1550.30,645.88 1551.94,645.89 1553.58,645.90 1555.22,645.92 1556.85,645.93 1558.49,645.94 1560.13,645.95 1561.77,645.96 1563.41,645.97 1565.05,645.98 1566.68,645.99 1568.32,645.99 1569.96,646.00 1571.60,646.01 1573.24,646.02 1574.87,646.02 1576.51,646.03 1578.15,646.03 1579.79,646.03 1581.43,646.04 1583.07,646.04 1584.70,646.04 1586.34,646.04 1587.98,646.05 1589.62,646.05 1591.26,646.05 1592.89,646.04 1594.53,646.04 1596.17,646.04 1597.81,646.04 1599.45,646.03 1601.09,646.03 1602.72,646.03 1604.36,646.02 1606.00,646.02" fill="none" stroke="#231f20" stroke-width="2.2"/>
<circle cx="1261.98" cy="777.63" r="4.6" fill="#231f20"/>
<circle cx="1316.59" cy="777.68" r="4.6" fill="#231f20"/>
<circle cx="1371.19" cy="777.82" r="4.6" fill="#231f20"/>
<circle cx="1425.80" cy="777.93" r="4.6" fill="#231f20"/>
<circle cx="1480.41" cy="777.82" r="4.6" fill="#231f20"/>
<circle cx="1535.01" cy="777.68" r="4.6" fill="#231f20"/>
<circle cx="1589.62" cy="777.63" r="4.6" fill="#231f20"/>
</g>
<rect x="86.20" y="56.80" width="360.40" height="241.60" fill="none" stroke="#231f20" stroke-width="2.2"/>
<rect x="86.20" y="305.80" width="360.40" height="241.60" fill="none" stroke="#231f20" stroke-width="2.2"/>
<rect x="86.20" y="554.80" width="360.40" height="241.60" fill="none" stroke="#231f20" stroke-width="2.2"/>
<rect x="452.80" y="56.80" width="360.40" height="241.60" fill="none" stroke="#231f20" stroke-width="2.2"/>
<rect x="452.80" y="305.80" width="360.40" height="241.60" fill="none" stroke="#231f20" stroke-width="2.2"/>
<rect x="452.80" y="554.80" width="360.40" height="241.60" fill="none" stroke="#231f20" stroke-width="2.2"/>
<rect x="819.05" y="56.80" width="360.40" height="241.60" fill="none" stroke="#231f20" stroke-width="2.2"/>
<rect x="819.05" y="305.80" width="360.40" height="241.60" fill="none" stroke="#231f20" stroke-width="2.2"/>
<rect x="819.05" y="554.80" width="360.40" height="241.60" fill="none" stroke="#231f20" stroke-width="2.2"/>
<rect x="1245.60" y="56.80" width="360.40" height="241.60" fill="none" stroke="#231f20" stroke-width="2.2"/>
<rect x="1245.60" y="305.80" width="360.40" height="241.60" fill="none" stroke="#231f20" stroke-width="2.2"/>
<rect x="1245.60" y="554.80" width="360.40" height="241.60" fill="none" stroke="#231f20" stroke-width="2.2"/>
<line x1="102.58" y1="796.40" x2="102.58" y2="804.40" stroke="#231f20" stroke-width="2.2"/>
<line x1="184.49" y1="796.40" x2="184.49" y2="804.40" stroke="#231f20" stroke-width="2.2"/>
<line x1="266.40" y1="796.40" x2="266.40" y2="804.40" stroke="#231f20" stroke-width="2.2"/>
<line x1="348.31" y1="796.40" x2="348.31" y2="804.40" stroke="#231f20" stroke-width="2.2"/>
<line x1="430.22" y1="796.40" x2="430.22" y2="804.40" stroke="#231f20" stroke-width="2.2"/>
<text x="102.58" y="831.5" font-size="26.5" text-anchor="middle">−π</text>
<text x="266.40" y="831.5" font-size="26.5" text-anchor="middle">0</text>
<text x="430.22" y="831.5" font-size="26.5" text-anchor="middle">π</text>
<text x="266.40" y="867.3" font-size="29" text-anchor="middle"><tspan font-style="italic">k</tspan> · <tspan font-style="italic">a</tspan></text>
<line x1="469.18" y1="796.40" x2="469.18" y2="804.40" stroke="#231f20" stroke-width="2.2"/>
<line x1="551.09" y1="796.40" x2="551.09" y2="804.40" stroke="#231f20" stroke-width="2.2"/>
<line x1="633.00" y1="796.40" x2="633.00" y2="804.40" stroke="#231f20" stroke-width="2.2"/>
<line x1="714.91" y1="796.40" x2="714.91" y2="804.40" stroke="#231f20" stroke-width="2.2"/>
<line x1="796.82" y1="796.40" x2="796.82" y2="804.40" stroke="#231f20" stroke-width="2.2"/>
<text x="469.18" y="831.5" font-size="26.5" text-anchor="middle">−π</text>
<text x="633.00" y="831.5" font-size="26.5" text-anchor="middle">0</text>
<text x="796.82" y="831.5" font-size="26.5" text-anchor="middle">π</text>
<text x="633.00" y="867.3" font-size="29" text-anchor="middle"><tspan font-style="italic">k</tspan> · <tspan font-style="italic">a</tspan></text>
<line x1="835.43" y1="796.40" x2="835.43" y2="804.40" stroke="#231f20" stroke-width="2.2"/>
<line x1="917.34" y1="796.40" x2="917.34" y2="804.40" stroke="#231f20" stroke-width="2.2"/>
<line x1="999.25" y1="796.40" x2="999.25" y2="804.40" stroke="#231f20" stroke-width="2.2"/>
<line x1="1081.16" y1="796.40" x2="1081.16" y2="804.40" stroke="#231f20" stroke-width="2.2"/>
<line x1="1163.07" y1="796.40" x2="1163.07" y2="804.40" stroke="#231f20" stroke-width="2.2"/>
<text x="835.43" y="831.5" font-size="26.5" text-anchor="middle">−π</text>
<text x="999.25" y="831.5" font-size="26.5" text-anchor="middle">0</text>
<text x="1163.07" y="831.5" font-size="26.5" text-anchor="middle">π</text>
<text x="999.25" y="867.3" font-size="29" text-anchor="middle"><tspan font-style="italic">k</tspan> · <tspan font-style="italic">a</tspan></text>
<line x1="1261.98" y1="796.40" x2="1261.98" y2="804.40" stroke="#231f20" stroke-width="2.2"/>
<line x1="1343.89" y1="796.40" x2="1343.89" y2="804.40" stroke="#231f20" stroke-width="2.2"/>
<line x1="1425.80" y1="796.40" x2="1425.80" y2="804.40" stroke="#231f20" stroke-width="2.2"/>
<line x1="1507.71" y1="796.40" x2="1507.71" y2="804.40" stroke="#231f20" stroke-width="2.2"/>
<line x1="1589.62" y1="796.40" x2="1589.62" y2="804.40" stroke="#231f20" stroke-width="2.2"/>
<text x="1261.98" y="831.5" font-size="26.5" text-anchor="middle">−π</text>
<text x="1425.80" y="831.5" font-size="26.5" text-anchor="middle">0</text>
<text x="1589.62" y="831.5" font-size="26.5" text-anchor="middle">π</text>
<text x="1425.80" y="867.3" font-size="29" text-anchor="middle"><tspan font-style="italic">k</tspan> · <tspan font-style="italic">a</tspan></text>
<line x1="78.20" y1="298.40" x2="86.20" y2="298.40" stroke="#231f20" stroke-width="2.2"/>
<text x="69.40" y="307.70" font-size="26.5" text-anchor="end">−3</text>
<line x1="78.20" y1="238.00" x2="86.20" y2="238.00" stroke="#231f20" stroke-width="2.2"/>
<text x="69.40" y="247.30" font-size="26.5" text-anchor="end">0</text>
<line x1="78.20" y1="177.60" x2="86.20" y2="177.60" stroke="#231f20" stroke-width="2.2"/>
<text x="69.40" y="186.90" font-size="26.5" text-anchor="end">3</text>
<line x1="78.20" y1="117.20" x2="86.20" y2="117.20" stroke="#231f20" stroke-width="2.2"/>
<text x="69.40" y="126.50" font-size="26.5" text-anchor="end">6</text>
<line x1="78.20" y1="547.40" x2="86.20" y2="547.40" stroke="#231f20" stroke-width="2.2"/>
<text x="69.40" y="556.70" font-size="26.5" text-anchor="end">−3</text>
<line x1="78.20" y1="487.00" x2="86.20" y2="487.00" stroke="#231f20" stroke-width="2.2"/>
<text x="69.40" y="496.30" font-size="26.5" text-anchor="end">0</text>
<line x1="78.20" y1="426.60" x2="86.20" y2="426.60" stroke="#231f20" stroke-width="2.2"/>
<text x="69.40" y="435.90" font-size="26.5" text-anchor="end">3</text>
<line x1="78.20" y1="366.20" x2="86.20" y2="366.20" stroke="#231f20" stroke-width="2.2"/>
<text x="69.40" y="375.50" font-size="26.5" text-anchor="end">6</text>
<line x1="78.20" y1="796.40" x2="86.20" y2="796.40" stroke="#231f20" stroke-width="2.2"/>
<text x="69.40" y="805.70" font-size="26.5" text-anchor="end">−3</text>
<line x1="78.20" y1="736.00" x2="86.20" y2="736.00" stroke="#231f20" stroke-width="2.2"/>
<text x="69.40" y="745.30" font-size="26.5" text-anchor="end">0</text>
<line x1="78.20" y1="675.60" x2="86.20" y2="675.60" stroke="#231f20" stroke-width="2.2"/>
<text x="69.40" y="684.90" font-size="26.5" text-anchor="end">3</text>
<line x1="78.20" y1="615.20" x2="86.20" y2="615.20" stroke="#231f20" stroke-width="2.2"/>
<text x="69.40" y="624.50" font-size="26.5" text-anchor="end">6</text>
<line x1="1237.60" y1="279.33" x2="1245.60" y2="279.33" stroke="#231f20" stroke-width="2.2"/>
<text x="1228.80" y="288.63" font-size="26.5" text-anchor="end">0</text>
<line x1="1237.60" y1="215.75" x2="1245.60" y2="215.75" stroke="#231f20" stroke-width="2.2"/>
<text x="1228.80" y="225.05" font-size="26.5" text-anchor="end">10</text>
<line x1="1237.60" y1="152.17" x2="1245.60" y2="152.17" stroke="#231f20" stroke-width="2.2"/>
<text x="1228.80" y="161.47" font-size="26.5" text-anchor="end">20</text>
<line x1="1237.60" y1="88.59" x2="1245.60" y2="88.59" stroke="#231f20" stroke-width="2.2"/>
<text x="1228.80" y="97.89" font-size="26.5" text-anchor="end">30</text>
<line x1="1237.60" y1="528.33" x2="1245.60" y2="528.33" stroke="#231f20" stroke-width="2.2"/>
<text x="1228.80" y="537.63" font-size="26.5" text-anchor="end">0</text>
<line x1="1237.60" y1="464.75" x2="1245.60" y2="464.75" stroke="#231f20" stroke-width="2.2"/>
<text x="1228.80" y="474.05" font-size="26.5" text-anchor="end">10</text>
<line x1="1237.60" y1="401.17" x2="1245.60" y2="401.17" stroke="#231f20" stroke-width="2.2"/>
<text x="1228.80" y="410.47" font-size="26.5" text-anchor="end">20</text>
<line x1="1237.60" y1="337.59" x2="1245.60" y2="337.59" stroke="#231f20" stroke-width="2.2"/>
<text x="1228.80" y="346.89" font-size="26.5" text-anchor="end">30</text>
<line x1="1237.60" y1="777.33" x2="1245.60" y2="777.33" stroke="#231f20" stroke-width="2.2"/>
<text x="1228.80" y="786.63" font-size="26.5" text-anchor="end">0</text>
<line x1="1237.60" y1="713.75" x2="1245.60" y2="713.75" stroke="#231f20" stroke-width="2.2"/>
<text x="1228.80" y="723.05" font-size="26.5" text-anchor="end">10</text>
<line x1="1237.60" y1="650.17" x2="1245.60" y2="650.17" stroke="#231f20" stroke-width="2.2"/>
<text x="1228.80" y="659.47" font-size="26.5" text-anchor="end">20</text>
<line x1="1237.60" y1="586.59" x2="1245.60" y2="586.59" stroke="#231f20" stroke-width="2.2"/>
<text x="1228.80" y="595.89" font-size="26.5" text-anchor="end">30</text>
<text transform="translate(21.8,175.60) rotate(-90)" font-size="30" text-anchor="middle" textLength="131" lengthAdjust="spacingAndGlyphs"><tspan font-style="italic">E</tspan>/<tspan font-style="italic">t</tspan> (<tspan font-family="Liberation Serif" font-style="italic" font-size="32">α</tspan> = <tspan font-style="italic">a</tspan>)</text>
<text transform="translate(21.8,424.60) rotate(-90)" font-size="30" text-anchor="middle" textLength="131" lengthAdjust="spacingAndGlyphs"><tspan font-style="italic">E</tspan>/<tspan font-style="italic">t</tspan> (<tspan font-family="Liberation Serif" font-style="italic" font-size="32">α</tspan> = <tspan font-style="italic">b</tspan>)</text>
<text transform="translate(21.8,673.60) rotate(-90)" font-size="30" text-anchor="middle" textLength="131" lengthAdjust="spacingAndGlyphs"><tspan font-style="italic">E</tspan>/<tspan font-style="italic">t</tspan> (<tspan font-family="Liberation Serif" font-style="italic" font-size="32">α</tspan> = <tspan font-style="italic">c</tspan>)</text>
<text x="266.40" y="33.7" font-size="29" text-anchor="middle"><tspan font-style="italic">V</tspan> = 0.01</text>
<text x="101.40" y="33" font-size="41" font-weight="bold">a</text>
<text x="633.00" y="33.7" font-size="29" text-anchor="middle"><tspan font-style="italic">V</tspan> = 1</text>
<text x="468.00" y="33" font-size="41" font-weight="bold">b</text>
<text x="999.25" y="33.7" font-size="29" text-anchor="middle"><tspan font-style="italic">V</tspan> = 2</text>
<text x="834.25" y="33" font-size="41" font-weight="bold">c</text>
<text x="1425.80" y="33.7" font-size="29" text-anchor="middle"><tspan font-style="italic">V</tspan> = 10</text>
<text x="1260.80" y="33" font-size="41" font-weight="bold">d</text>
<rect x="1631.50" y="56.60" width="25.50" height="740.00" fill="url(#g49)" shape-rendering="crispEdges"/>
<rect x="1631.50" y="56.60" width="25.50" height="740.00" fill="none" stroke="#231f20" stroke-width="2.2"/>
<line x1="1657.00" y1="796.60" x2="1664.50" y2="796.60" stroke="#231f20" stroke-width="1.6"/>
<line x1="1657.00" y1="717.15" x2="1661.00" y2="717.15" stroke="#231f20" stroke-width="1.6"/>
<line x1="1657.00" y1="670.68" x2="1661.00" y2="670.68" stroke="#231f20" stroke-width="1.6"/>
<line x1="1657.00" y1="637.70" x2="1661.00" y2="637.70" stroke="#231f20" stroke-width="1.6"/>
<line x1="1657.00" y1="612.13" x2="1661.00" y2="612.13" stroke="#231f20" stroke-width="1.6"/>
<line x1="1657.00" y1="591.23" x2="1661.00" y2="591.23" stroke="#231f20" stroke-width="1.6"/>
<line x1="1657.00" y1="573.56" x2="1661.00" y2="573.56" stroke="#231f20" stroke-width="1.6"/>
<line x1="1657.00" y1="558.26" x2="1661.00" y2="558.26" stroke="#231f20" stroke-width="1.6"/>
<line x1="1657.00" y1="544.76" x2="1661.00" y2="544.76" stroke="#231f20" stroke-width="1.6"/>
<line x1="1657.00" y1="532.68" x2="1664.50" y2="532.68" stroke="#231f20" stroke-width="1.6"/>
<line x1="1657.00" y1="453.23" x2="1661.00" y2="453.23" stroke="#231f20" stroke-width="1.6"/>
<line x1="1657.00" y1="406.76" x2="1661.00" y2="406.76" stroke="#231f20" stroke-width="1.6"/>
<line x1="1657.00" y1="373.78" x2="1661.00" y2="373.78" stroke="#231f20" stroke-width="1.6"/>
<line x1="1657.00" y1="348.21" x2="1661.00" y2="348.21" stroke="#231f20" stroke-width="1.6"/>
<line x1="1657.00" y1="327.31" x2="1661.00" y2="327.31" stroke="#231f20" stroke-width="1.6"/>
<line x1="1657.00" y1="309.64" x2="1661.00" y2="309.64" stroke="#231f20" stroke-width="1.6"/>
<line x1="1657.00" y1="294.34" x2="1661.00" y2="294.34" stroke="#231f20" stroke-width="1.6"/>
<line x1="1657.00" y1="280.84" x2="1661.00" y2="280.84" stroke="#231f20" stroke-width="1.6"/>
<line x1="1657.00" y1="268.76" x2="1664.50" y2="268.76" stroke="#231f20" stroke-width="1.6"/>
<line x1="1657.00" y1="189.31" x2="1661.00" y2="189.31" stroke="#231f20" stroke-width="1.6"/>
<line x1="1657.00" y1="142.84" x2="1661.00" y2="142.84" stroke="#231f20" stroke-width="1.6"/>
<line x1="1657.00" y1="109.86" x2="1661.00" y2="109.86" stroke="#231f20" stroke-width="1.6"/>
<line x1="1657.00" y1="84.29" x2="1661.00" y2="84.29" stroke="#231f20" stroke-width="1.6"/>
<line x1="1657.00" y1="63.39" x2="1661.00" y2="63.39" stroke="#231f20" stroke-width="1.6"/>
<text x="1672.00" y="276.56" font-size="25">10<tspan dy="-11" font-size="17.5">0</tspan></text>
<text x="1672.00" y="356.01" font-size="25">5 · 10<tspan dy="-11" font-size="17.5">−1</tspan></text>
<text x="1672.00" y="540.48" font-size="25">10<tspan dy="-11" font-size="17.5">−1</tspan></text>
<text x="1672.00" y="645.50" font-size="25">5 · 10<tspan dy="-11" font-size="17.5">−2</tspan></text>
<text x="1672.00" y="804.40" font-size="25">10<tspan dy="-11" font-size="17.5">−2</tspan></text>
<text x="1591.2" y="21.7" font-size="29"><tspan font-style="italic">A</tspan><tspan font-family="Liberation Serif" font-style="italic" font-size="22" dy="8.5">α</tspan><tspan dy="-8.5"> (</tspan><tspan font-style="italic">k</tspan>, <tspan font-style="italic">E</tspan>)</text>
</svg></body></html>
